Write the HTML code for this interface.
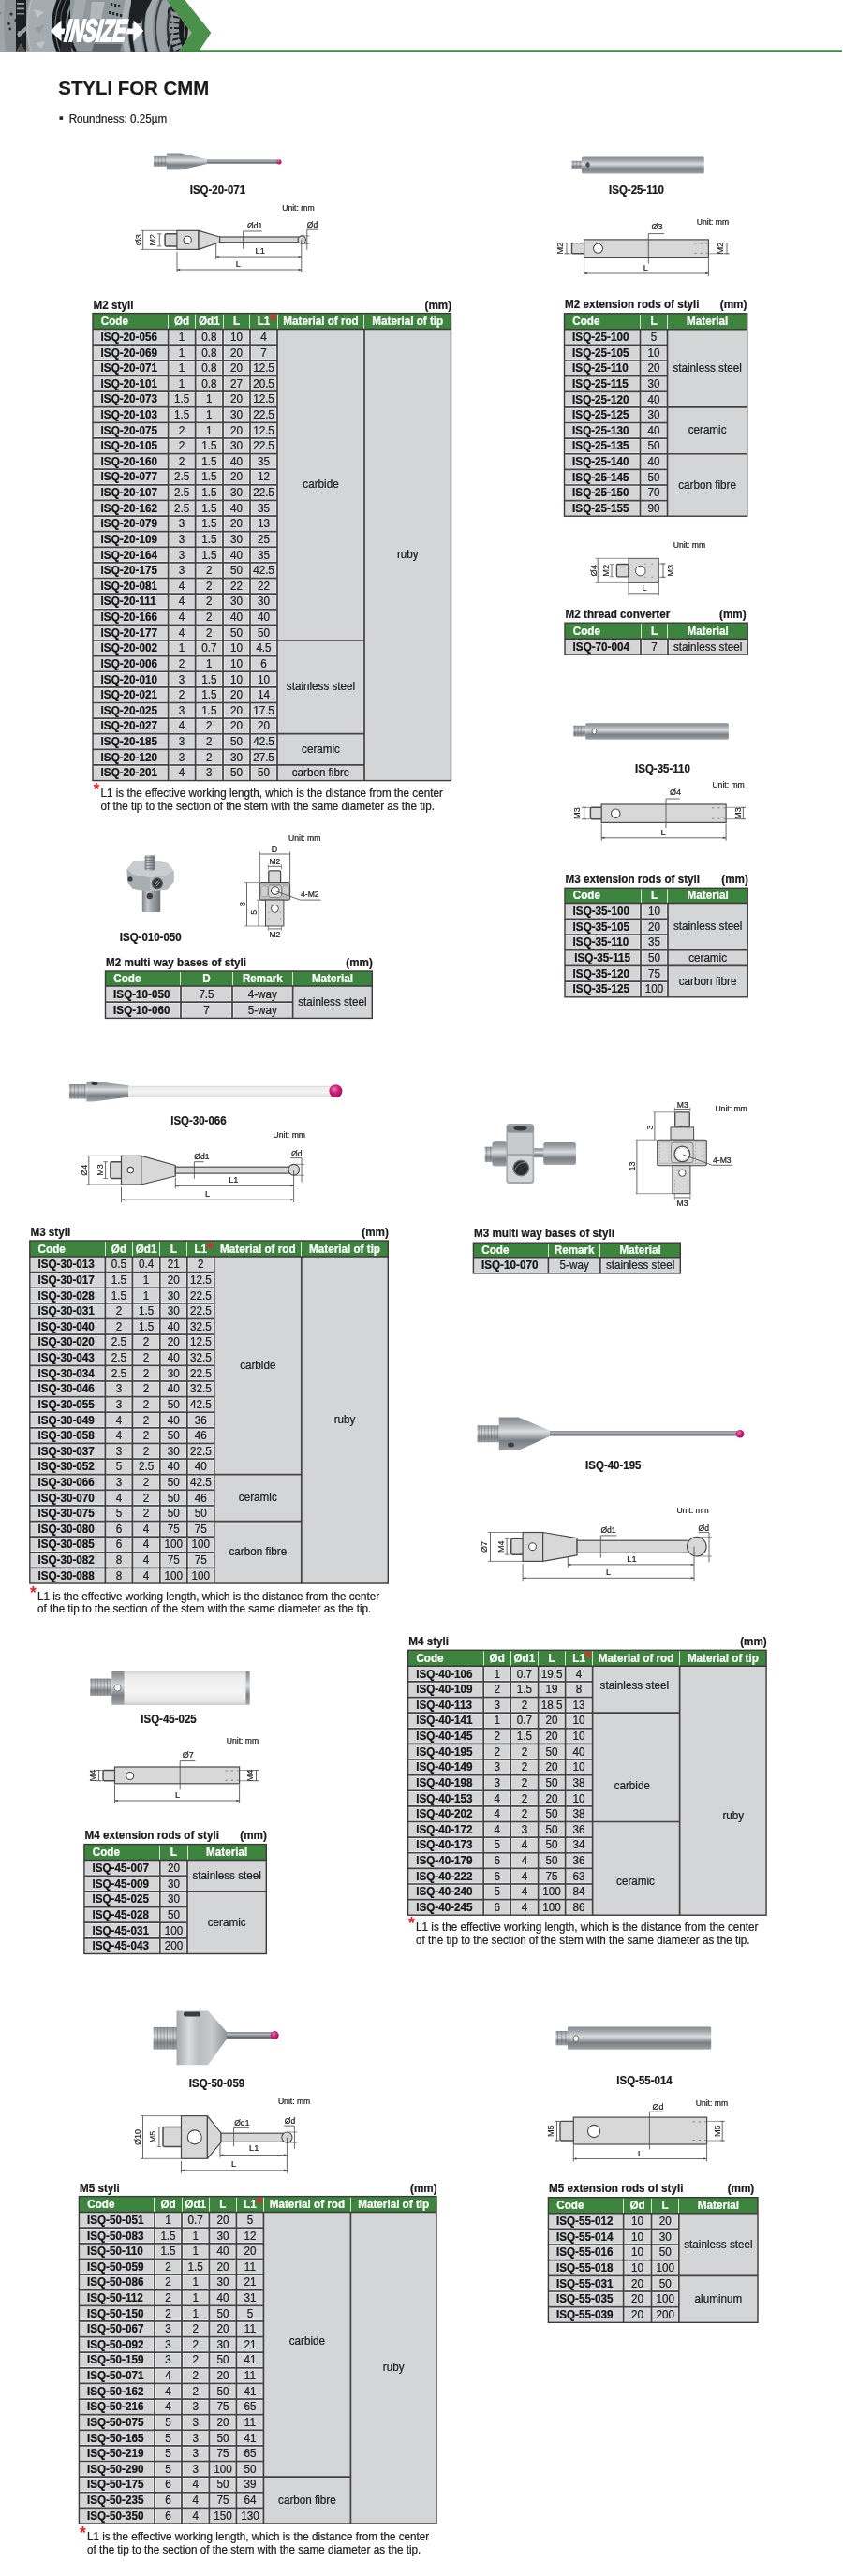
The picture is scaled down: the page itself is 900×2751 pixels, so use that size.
<!DOCTYPE html>
<html><head><meta charset="utf-8"><title>Styli for CMM</title>
<style>
html,body{margin:0;padding:0;background:#fff;}
body{width:900px;height:2751px;overflow:hidden;position:relative;font-family:"Liberation Sans", sans-serif;}
svg{position:absolute;left:0;top:0;display:block;will-change:transform;}
text{font-family:"Liberation Sans", sans-serif;}
</style></head><body>
<svg width="900" height="2751" viewBox="0 0 900 2751">
<text x="62.30" y="101.10" font-size="20.4" font-weight="bold" text-anchor="start" fill="#1a1a1a" stroke="#1a1a1a" stroke-width="0.22" >STYLI FOR CMM</text>
<rect x="63.50" y="124.30" width="3.60" height="3.60" fill="#222" stroke="none" stroke-width="1.0" />
<text x="0" y="0" transform="translate(73.70,131.30) scale(1,1.08)" font-size="11.65" text-anchor="start" fill="#222" stroke="#222" stroke-width="0.22" >Roundness: 0.25µm</text>
<rect x="99.00" y="334.60" width="382.50" height="17.00" fill="#3d853f" stroke="none" stroke-width="1.0" />
<rect x="99.00" y="351.60" width="382.50" height="481.98" fill="#d4d5d7" stroke="none" stroke-width="1.0" />
<line x1="179.50" y1="335.60" x2="179.50" y2="351.60" stroke="#e4efe4" stroke-width="0.9" />
<line x1="208.50" y1="335.60" x2="208.50" y2="351.60" stroke="#e4efe4" stroke-width="0.9" />
<line x1="238.50" y1="335.60" x2="238.50" y2="351.60" stroke="#e4efe4" stroke-width="0.9" />
<line x1="266.50" y1="335.60" x2="266.50" y2="351.60" stroke="#e4efe4" stroke-width="0.9" />
<line x1="296.50" y1="335.60" x2="296.50" y2="351.60" stroke="#e4efe4" stroke-width="0.9" />
<line x1="388.50" y1="335.60" x2="388.50" y2="351.60" stroke="#e4efe4" stroke-width="0.9" />
<line x1="178.30" y1="352.60" x2="178.30" y2="833.58" stroke="#eeeff0" stroke-width="0.8" />
<line x1="180.90" y1="352.60" x2="180.90" y2="833.58" stroke="#eeeff0" stroke-width="0.8" />
<line x1="207.30" y1="352.60" x2="207.30" y2="833.58" stroke="#eeeff0" stroke-width="0.8" />
<line x1="209.90" y1="352.60" x2="209.90" y2="833.58" stroke="#eeeff0" stroke-width="0.8" />
<line x1="236.70" y1="352.60" x2="236.70" y2="833.58" stroke="#eeeff0" stroke-width="0.8" />
<line x1="239.30" y1="352.60" x2="239.30" y2="833.58" stroke="#eeeff0" stroke-width="0.8" />
<line x1="265.70" y1="352.60" x2="265.70" y2="833.58" stroke="#eeeff0" stroke-width="0.8" />
<line x1="268.30" y1="352.60" x2="268.30" y2="833.58" stroke="#eeeff0" stroke-width="0.8" />
<line x1="294.70" y1="352.60" x2="294.70" y2="833.58" stroke="#eeeff0" stroke-width="0.8" />
<line x1="99.00" y1="366.97" x2="179.60" y2="366.97" stroke="#eeeff0" stroke-width="0.8" />
<line x1="99.00" y1="369.47" x2="179.60" y2="369.47" stroke="#eeeff0" stroke-width="0.8" />
<line x1="179.60" y1="366.97" x2="208.60" y2="366.97" stroke="#eeeff0" stroke-width="0.8" />
<line x1="179.60" y1="369.47" x2="208.60" y2="369.47" stroke="#eeeff0" stroke-width="0.8" />
<line x1="208.60" y1="366.97" x2="238.00" y2="366.97" stroke="#eeeff0" stroke-width="0.8" />
<line x1="208.60" y1="369.47" x2="238.00" y2="369.47" stroke="#eeeff0" stroke-width="0.8" />
<line x1="238.00" y1="366.97" x2="267.00" y2="366.97" stroke="#eeeff0" stroke-width="0.8" />
<line x1="238.00" y1="369.47" x2="267.00" y2="369.47" stroke="#eeeff0" stroke-width="0.8" />
<line x1="267.00" y1="366.97" x2="296.00" y2="366.97" stroke="#eeeff0" stroke-width="0.8" />
<line x1="267.00" y1="369.47" x2="296.00" y2="369.47" stroke="#eeeff0" stroke-width="0.8" />
<line x1="99.00" y1="383.59" x2="179.60" y2="383.59" stroke="#eeeff0" stroke-width="0.8" />
<line x1="99.00" y1="386.09" x2="179.60" y2="386.09" stroke="#eeeff0" stroke-width="0.8" />
<line x1="179.60" y1="383.59" x2="208.60" y2="383.59" stroke="#eeeff0" stroke-width="0.8" />
<line x1="179.60" y1="386.09" x2="208.60" y2="386.09" stroke="#eeeff0" stroke-width="0.8" />
<line x1="208.60" y1="383.59" x2="238.00" y2="383.59" stroke="#eeeff0" stroke-width="0.8" />
<line x1="208.60" y1="386.09" x2="238.00" y2="386.09" stroke="#eeeff0" stroke-width="0.8" />
<line x1="238.00" y1="383.59" x2="267.00" y2="383.59" stroke="#eeeff0" stroke-width="0.8" />
<line x1="238.00" y1="386.09" x2="267.00" y2="386.09" stroke="#eeeff0" stroke-width="0.8" />
<line x1="267.00" y1="383.59" x2="296.00" y2="383.59" stroke="#eeeff0" stroke-width="0.8" />
<line x1="267.00" y1="386.09" x2="296.00" y2="386.09" stroke="#eeeff0" stroke-width="0.8" />
<line x1="99.00" y1="400.21" x2="179.60" y2="400.21" stroke="#eeeff0" stroke-width="0.8" />
<line x1="99.00" y1="402.71" x2="179.60" y2="402.71" stroke="#eeeff0" stroke-width="0.8" />
<line x1="179.60" y1="400.21" x2="208.60" y2="400.21" stroke="#eeeff0" stroke-width="0.8" />
<line x1="179.60" y1="402.71" x2="208.60" y2="402.71" stroke="#eeeff0" stroke-width="0.8" />
<line x1="208.60" y1="400.21" x2="238.00" y2="400.21" stroke="#eeeff0" stroke-width="0.8" />
<line x1="208.60" y1="402.71" x2="238.00" y2="402.71" stroke="#eeeff0" stroke-width="0.8" />
<line x1="238.00" y1="400.21" x2="267.00" y2="400.21" stroke="#eeeff0" stroke-width="0.8" />
<line x1="238.00" y1="402.71" x2="267.00" y2="402.71" stroke="#eeeff0" stroke-width="0.8" />
<line x1="267.00" y1="400.21" x2="296.00" y2="400.21" stroke="#eeeff0" stroke-width="0.8" />
<line x1="267.00" y1="402.71" x2="296.00" y2="402.71" stroke="#eeeff0" stroke-width="0.8" />
<line x1="99.00" y1="416.83" x2="179.60" y2="416.83" stroke="#eeeff0" stroke-width="0.8" />
<line x1="99.00" y1="419.33" x2="179.60" y2="419.33" stroke="#eeeff0" stroke-width="0.8" />
<line x1="179.60" y1="416.83" x2="208.60" y2="416.83" stroke="#eeeff0" stroke-width="0.8" />
<line x1="179.60" y1="419.33" x2="208.60" y2="419.33" stroke="#eeeff0" stroke-width="0.8" />
<line x1="208.60" y1="416.83" x2="238.00" y2="416.83" stroke="#eeeff0" stroke-width="0.8" />
<line x1="208.60" y1="419.33" x2="238.00" y2="419.33" stroke="#eeeff0" stroke-width="0.8" />
<line x1="238.00" y1="416.83" x2="267.00" y2="416.83" stroke="#eeeff0" stroke-width="0.8" />
<line x1="238.00" y1="419.33" x2="267.00" y2="419.33" stroke="#eeeff0" stroke-width="0.8" />
<line x1="267.00" y1="416.83" x2="296.00" y2="416.83" stroke="#eeeff0" stroke-width="0.8" />
<line x1="267.00" y1="419.33" x2="296.00" y2="419.33" stroke="#eeeff0" stroke-width="0.8" />
<line x1="99.00" y1="433.45" x2="179.60" y2="433.45" stroke="#eeeff0" stroke-width="0.8" />
<line x1="99.00" y1="435.95" x2="179.60" y2="435.95" stroke="#eeeff0" stroke-width="0.8" />
<line x1="179.60" y1="433.45" x2="208.60" y2="433.45" stroke="#eeeff0" stroke-width="0.8" />
<line x1="179.60" y1="435.95" x2="208.60" y2="435.95" stroke="#eeeff0" stroke-width="0.8" />
<line x1="208.60" y1="433.45" x2="238.00" y2="433.45" stroke="#eeeff0" stroke-width="0.8" />
<line x1="208.60" y1="435.95" x2="238.00" y2="435.95" stroke="#eeeff0" stroke-width="0.8" />
<line x1="238.00" y1="433.45" x2="267.00" y2="433.45" stroke="#eeeff0" stroke-width="0.8" />
<line x1="238.00" y1="435.95" x2="267.00" y2="435.95" stroke="#eeeff0" stroke-width="0.8" />
<line x1="267.00" y1="433.45" x2="296.00" y2="433.45" stroke="#eeeff0" stroke-width="0.8" />
<line x1="267.00" y1="435.95" x2="296.00" y2="435.95" stroke="#eeeff0" stroke-width="0.8" />
<line x1="99.00" y1="450.07" x2="179.60" y2="450.07" stroke="#eeeff0" stroke-width="0.8" />
<line x1="99.00" y1="452.57" x2="179.60" y2="452.57" stroke="#eeeff0" stroke-width="0.8" />
<line x1="179.60" y1="450.07" x2="208.60" y2="450.07" stroke="#eeeff0" stroke-width="0.8" />
<line x1="179.60" y1="452.57" x2="208.60" y2="452.57" stroke="#eeeff0" stroke-width="0.8" />
<line x1="208.60" y1="450.07" x2="238.00" y2="450.07" stroke="#eeeff0" stroke-width="0.8" />
<line x1="208.60" y1="452.57" x2="238.00" y2="452.57" stroke="#eeeff0" stroke-width="0.8" />
<line x1="238.00" y1="450.07" x2="267.00" y2="450.07" stroke="#eeeff0" stroke-width="0.8" />
<line x1="238.00" y1="452.57" x2="267.00" y2="452.57" stroke="#eeeff0" stroke-width="0.8" />
<line x1="267.00" y1="450.07" x2="296.00" y2="450.07" stroke="#eeeff0" stroke-width="0.8" />
<line x1="267.00" y1="452.57" x2="296.00" y2="452.57" stroke="#eeeff0" stroke-width="0.8" />
<line x1="99.00" y1="466.69" x2="179.60" y2="466.69" stroke="#eeeff0" stroke-width="0.8" />
<line x1="99.00" y1="469.19" x2="179.60" y2="469.19" stroke="#eeeff0" stroke-width="0.8" />
<line x1="179.60" y1="466.69" x2="208.60" y2="466.69" stroke="#eeeff0" stroke-width="0.8" />
<line x1="179.60" y1="469.19" x2="208.60" y2="469.19" stroke="#eeeff0" stroke-width="0.8" />
<line x1="208.60" y1="466.69" x2="238.00" y2="466.69" stroke="#eeeff0" stroke-width="0.8" />
<line x1="208.60" y1="469.19" x2="238.00" y2="469.19" stroke="#eeeff0" stroke-width="0.8" />
<line x1="238.00" y1="466.69" x2="267.00" y2="466.69" stroke="#eeeff0" stroke-width="0.8" />
<line x1="238.00" y1="469.19" x2="267.00" y2="469.19" stroke="#eeeff0" stroke-width="0.8" />
<line x1="267.00" y1="466.69" x2="296.00" y2="466.69" stroke="#eeeff0" stroke-width="0.8" />
<line x1="267.00" y1="469.19" x2="296.00" y2="469.19" stroke="#eeeff0" stroke-width="0.8" />
<line x1="99.00" y1="483.31" x2="179.60" y2="483.31" stroke="#eeeff0" stroke-width="0.8" />
<line x1="99.00" y1="485.81" x2="179.60" y2="485.81" stroke="#eeeff0" stroke-width="0.8" />
<line x1="179.60" y1="483.31" x2="208.60" y2="483.31" stroke="#eeeff0" stroke-width="0.8" />
<line x1="179.60" y1="485.81" x2="208.60" y2="485.81" stroke="#eeeff0" stroke-width="0.8" />
<line x1="208.60" y1="483.31" x2="238.00" y2="483.31" stroke="#eeeff0" stroke-width="0.8" />
<line x1="208.60" y1="485.81" x2="238.00" y2="485.81" stroke="#eeeff0" stroke-width="0.8" />
<line x1="238.00" y1="483.31" x2="267.00" y2="483.31" stroke="#eeeff0" stroke-width="0.8" />
<line x1="238.00" y1="485.81" x2="267.00" y2="485.81" stroke="#eeeff0" stroke-width="0.8" />
<line x1="267.00" y1="483.31" x2="296.00" y2="483.31" stroke="#eeeff0" stroke-width="0.8" />
<line x1="267.00" y1="485.81" x2="296.00" y2="485.81" stroke="#eeeff0" stroke-width="0.8" />
<line x1="99.00" y1="499.93" x2="179.60" y2="499.93" stroke="#eeeff0" stroke-width="0.8" />
<line x1="99.00" y1="502.43" x2="179.60" y2="502.43" stroke="#eeeff0" stroke-width="0.8" />
<line x1="179.60" y1="499.93" x2="208.60" y2="499.93" stroke="#eeeff0" stroke-width="0.8" />
<line x1="179.60" y1="502.43" x2="208.60" y2="502.43" stroke="#eeeff0" stroke-width="0.8" />
<line x1="208.60" y1="499.93" x2="238.00" y2="499.93" stroke="#eeeff0" stroke-width="0.8" />
<line x1="208.60" y1="502.43" x2="238.00" y2="502.43" stroke="#eeeff0" stroke-width="0.8" />
<line x1="238.00" y1="499.93" x2="267.00" y2="499.93" stroke="#eeeff0" stroke-width="0.8" />
<line x1="238.00" y1="502.43" x2="267.00" y2="502.43" stroke="#eeeff0" stroke-width="0.8" />
<line x1="267.00" y1="499.93" x2="296.00" y2="499.93" stroke="#eeeff0" stroke-width="0.8" />
<line x1="267.00" y1="502.43" x2="296.00" y2="502.43" stroke="#eeeff0" stroke-width="0.8" />
<line x1="99.00" y1="516.55" x2="179.60" y2="516.55" stroke="#eeeff0" stroke-width="0.8" />
<line x1="99.00" y1="519.05" x2="179.60" y2="519.05" stroke="#eeeff0" stroke-width="0.8" />
<line x1="179.60" y1="516.55" x2="208.60" y2="516.55" stroke="#eeeff0" stroke-width="0.8" />
<line x1="179.60" y1="519.05" x2="208.60" y2="519.05" stroke="#eeeff0" stroke-width="0.8" />
<line x1="208.60" y1="516.55" x2="238.00" y2="516.55" stroke="#eeeff0" stroke-width="0.8" />
<line x1="208.60" y1="519.05" x2="238.00" y2="519.05" stroke="#eeeff0" stroke-width="0.8" />
<line x1="238.00" y1="516.55" x2="267.00" y2="516.55" stroke="#eeeff0" stroke-width="0.8" />
<line x1="238.00" y1="519.05" x2="267.00" y2="519.05" stroke="#eeeff0" stroke-width="0.8" />
<line x1="267.00" y1="516.55" x2="296.00" y2="516.55" stroke="#eeeff0" stroke-width="0.8" />
<line x1="267.00" y1="519.05" x2="296.00" y2="519.05" stroke="#eeeff0" stroke-width="0.8" />
<line x1="99.00" y1="533.17" x2="179.60" y2="533.17" stroke="#eeeff0" stroke-width="0.8" />
<line x1="99.00" y1="535.67" x2="179.60" y2="535.67" stroke="#eeeff0" stroke-width="0.8" />
<line x1="179.60" y1="533.17" x2="208.60" y2="533.17" stroke="#eeeff0" stroke-width="0.8" />
<line x1="179.60" y1="535.67" x2="208.60" y2="535.67" stroke="#eeeff0" stroke-width="0.8" />
<line x1="208.60" y1="533.17" x2="238.00" y2="533.17" stroke="#eeeff0" stroke-width="0.8" />
<line x1="208.60" y1="535.67" x2="238.00" y2="535.67" stroke="#eeeff0" stroke-width="0.8" />
<line x1="238.00" y1="533.17" x2="267.00" y2="533.17" stroke="#eeeff0" stroke-width="0.8" />
<line x1="238.00" y1="535.67" x2="267.00" y2="535.67" stroke="#eeeff0" stroke-width="0.8" />
<line x1="267.00" y1="533.17" x2="296.00" y2="533.17" stroke="#eeeff0" stroke-width="0.8" />
<line x1="267.00" y1="535.67" x2="296.00" y2="535.67" stroke="#eeeff0" stroke-width="0.8" />
<line x1="99.00" y1="549.79" x2="179.60" y2="549.79" stroke="#eeeff0" stroke-width="0.8" />
<line x1="99.00" y1="552.29" x2="179.60" y2="552.29" stroke="#eeeff0" stroke-width="0.8" />
<line x1="179.60" y1="549.79" x2="208.60" y2="549.79" stroke="#eeeff0" stroke-width="0.8" />
<line x1="179.60" y1="552.29" x2="208.60" y2="552.29" stroke="#eeeff0" stroke-width="0.8" />
<line x1="208.60" y1="549.79" x2="238.00" y2="549.79" stroke="#eeeff0" stroke-width="0.8" />
<line x1="208.60" y1="552.29" x2="238.00" y2="552.29" stroke="#eeeff0" stroke-width="0.8" />
<line x1="238.00" y1="549.79" x2="267.00" y2="549.79" stroke="#eeeff0" stroke-width="0.8" />
<line x1="238.00" y1="552.29" x2="267.00" y2="552.29" stroke="#eeeff0" stroke-width="0.8" />
<line x1="267.00" y1="549.79" x2="296.00" y2="549.79" stroke="#eeeff0" stroke-width="0.8" />
<line x1="267.00" y1="552.29" x2="296.00" y2="552.29" stroke="#eeeff0" stroke-width="0.8" />
<line x1="99.00" y1="566.41" x2="179.60" y2="566.41" stroke="#eeeff0" stroke-width="0.8" />
<line x1="99.00" y1="568.91" x2="179.60" y2="568.91" stroke="#eeeff0" stroke-width="0.8" />
<line x1="179.60" y1="566.41" x2="208.60" y2="566.41" stroke="#eeeff0" stroke-width="0.8" />
<line x1="179.60" y1="568.91" x2="208.60" y2="568.91" stroke="#eeeff0" stroke-width="0.8" />
<line x1="208.60" y1="566.41" x2="238.00" y2="566.41" stroke="#eeeff0" stroke-width="0.8" />
<line x1="208.60" y1="568.91" x2="238.00" y2="568.91" stroke="#eeeff0" stroke-width="0.8" />
<line x1="238.00" y1="566.41" x2="267.00" y2="566.41" stroke="#eeeff0" stroke-width="0.8" />
<line x1="238.00" y1="568.91" x2="267.00" y2="568.91" stroke="#eeeff0" stroke-width="0.8" />
<line x1="267.00" y1="566.41" x2="296.00" y2="566.41" stroke="#eeeff0" stroke-width="0.8" />
<line x1="267.00" y1="568.91" x2="296.00" y2="568.91" stroke="#eeeff0" stroke-width="0.8" />
<line x1="99.00" y1="583.03" x2="179.60" y2="583.03" stroke="#eeeff0" stroke-width="0.8" />
<line x1="99.00" y1="585.53" x2="179.60" y2="585.53" stroke="#eeeff0" stroke-width="0.8" />
<line x1="179.60" y1="583.03" x2="208.60" y2="583.03" stroke="#eeeff0" stroke-width="0.8" />
<line x1="179.60" y1="585.53" x2="208.60" y2="585.53" stroke="#eeeff0" stroke-width="0.8" />
<line x1="208.60" y1="583.03" x2="238.00" y2="583.03" stroke="#eeeff0" stroke-width="0.8" />
<line x1="208.60" y1="585.53" x2="238.00" y2="585.53" stroke="#eeeff0" stroke-width="0.8" />
<line x1="238.00" y1="583.03" x2="267.00" y2="583.03" stroke="#eeeff0" stroke-width="0.8" />
<line x1="238.00" y1="585.53" x2="267.00" y2="585.53" stroke="#eeeff0" stroke-width="0.8" />
<line x1="267.00" y1="583.03" x2="296.00" y2="583.03" stroke="#eeeff0" stroke-width="0.8" />
<line x1="267.00" y1="585.53" x2="296.00" y2="585.53" stroke="#eeeff0" stroke-width="0.8" />
<line x1="99.00" y1="599.65" x2="179.60" y2="599.65" stroke="#eeeff0" stroke-width="0.8" />
<line x1="99.00" y1="602.15" x2="179.60" y2="602.15" stroke="#eeeff0" stroke-width="0.8" />
<line x1="179.60" y1="599.65" x2="208.60" y2="599.65" stroke="#eeeff0" stroke-width="0.8" />
<line x1="179.60" y1="602.15" x2="208.60" y2="602.15" stroke="#eeeff0" stroke-width="0.8" />
<line x1="208.60" y1="599.65" x2="238.00" y2="599.65" stroke="#eeeff0" stroke-width="0.8" />
<line x1="208.60" y1="602.15" x2="238.00" y2="602.15" stroke="#eeeff0" stroke-width="0.8" />
<line x1="238.00" y1="599.65" x2="267.00" y2="599.65" stroke="#eeeff0" stroke-width="0.8" />
<line x1="238.00" y1="602.15" x2="267.00" y2="602.15" stroke="#eeeff0" stroke-width="0.8" />
<line x1="267.00" y1="599.65" x2="296.00" y2="599.65" stroke="#eeeff0" stroke-width="0.8" />
<line x1="267.00" y1="602.15" x2="296.00" y2="602.15" stroke="#eeeff0" stroke-width="0.8" />
<line x1="99.00" y1="616.27" x2="179.60" y2="616.27" stroke="#eeeff0" stroke-width="0.8" />
<line x1="99.00" y1="618.77" x2="179.60" y2="618.77" stroke="#eeeff0" stroke-width="0.8" />
<line x1="179.60" y1="616.27" x2="208.60" y2="616.27" stroke="#eeeff0" stroke-width="0.8" />
<line x1="179.60" y1="618.77" x2="208.60" y2="618.77" stroke="#eeeff0" stroke-width="0.8" />
<line x1="208.60" y1="616.27" x2="238.00" y2="616.27" stroke="#eeeff0" stroke-width="0.8" />
<line x1="208.60" y1="618.77" x2="238.00" y2="618.77" stroke="#eeeff0" stroke-width="0.8" />
<line x1="238.00" y1="616.27" x2="267.00" y2="616.27" stroke="#eeeff0" stroke-width="0.8" />
<line x1="238.00" y1="618.77" x2="267.00" y2="618.77" stroke="#eeeff0" stroke-width="0.8" />
<line x1="267.00" y1="616.27" x2="296.00" y2="616.27" stroke="#eeeff0" stroke-width="0.8" />
<line x1="267.00" y1="618.77" x2="296.00" y2="618.77" stroke="#eeeff0" stroke-width="0.8" />
<line x1="99.00" y1="632.89" x2="179.60" y2="632.89" stroke="#eeeff0" stroke-width="0.8" />
<line x1="99.00" y1="635.39" x2="179.60" y2="635.39" stroke="#eeeff0" stroke-width="0.8" />
<line x1="179.60" y1="632.89" x2="208.60" y2="632.89" stroke="#eeeff0" stroke-width="0.8" />
<line x1="179.60" y1="635.39" x2="208.60" y2="635.39" stroke="#eeeff0" stroke-width="0.8" />
<line x1="208.60" y1="632.89" x2="238.00" y2="632.89" stroke="#eeeff0" stroke-width="0.8" />
<line x1="208.60" y1="635.39" x2="238.00" y2="635.39" stroke="#eeeff0" stroke-width="0.8" />
<line x1="238.00" y1="632.89" x2="267.00" y2="632.89" stroke="#eeeff0" stroke-width="0.8" />
<line x1="238.00" y1="635.39" x2="267.00" y2="635.39" stroke="#eeeff0" stroke-width="0.8" />
<line x1="267.00" y1="632.89" x2="296.00" y2="632.89" stroke="#eeeff0" stroke-width="0.8" />
<line x1="267.00" y1="635.39" x2="296.00" y2="635.39" stroke="#eeeff0" stroke-width="0.8" />
<line x1="99.00" y1="649.51" x2="179.60" y2="649.51" stroke="#eeeff0" stroke-width="0.8" />
<line x1="99.00" y1="652.01" x2="179.60" y2="652.01" stroke="#eeeff0" stroke-width="0.8" />
<line x1="179.60" y1="649.51" x2="208.60" y2="649.51" stroke="#eeeff0" stroke-width="0.8" />
<line x1="179.60" y1="652.01" x2="208.60" y2="652.01" stroke="#eeeff0" stroke-width="0.8" />
<line x1="208.60" y1="649.51" x2="238.00" y2="649.51" stroke="#eeeff0" stroke-width="0.8" />
<line x1="208.60" y1="652.01" x2="238.00" y2="652.01" stroke="#eeeff0" stroke-width="0.8" />
<line x1="238.00" y1="649.51" x2="267.00" y2="649.51" stroke="#eeeff0" stroke-width="0.8" />
<line x1="238.00" y1="652.01" x2="267.00" y2="652.01" stroke="#eeeff0" stroke-width="0.8" />
<line x1="267.00" y1="649.51" x2="296.00" y2="649.51" stroke="#eeeff0" stroke-width="0.8" />
<line x1="267.00" y1="652.01" x2="296.00" y2="652.01" stroke="#eeeff0" stroke-width="0.8" />
<line x1="99.00" y1="666.13" x2="179.60" y2="666.13" stroke="#eeeff0" stroke-width="0.8" />
<line x1="99.00" y1="668.63" x2="179.60" y2="668.63" stroke="#eeeff0" stroke-width="0.8" />
<line x1="179.60" y1="666.13" x2="208.60" y2="666.13" stroke="#eeeff0" stroke-width="0.8" />
<line x1="179.60" y1="668.63" x2="208.60" y2="668.63" stroke="#eeeff0" stroke-width="0.8" />
<line x1="208.60" y1="666.13" x2="238.00" y2="666.13" stroke="#eeeff0" stroke-width="0.8" />
<line x1="208.60" y1="668.63" x2="238.00" y2="668.63" stroke="#eeeff0" stroke-width="0.8" />
<line x1="238.00" y1="666.13" x2="267.00" y2="666.13" stroke="#eeeff0" stroke-width="0.8" />
<line x1="238.00" y1="668.63" x2="267.00" y2="668.63" stroke="#eeeff0" stroke-width="0.8" />
<line x1="267.00" y1="666.13" x2="296.00" y2="666.13" stroke="#eeeff0" stroke-width="0.8" />
<line x1="267.00" y1="668.63" x2="296.00" y2="668.63" stroke="#eeeff0" stroke-width="0.8" />
<line x1="99.00" y1="682.75" x2="179.60" y2="682.75" stroke="#eeeff0" stroke-width="0.8" />
<line x1="99.00" y1="685.25" x2="179.60" y2="685.25" stroke="#eeeff0" stroke-width="0.8" />
<line x1="179.60" y1="682.75" x2="208.60" y2="682.75" stroke="#eeeff0" stroke-width="0.8" />
<line x1="179.60" y1="685.25" x2="208.60" y2="685.25" stroke="#eeeff0" stroke-width="0.8" />
<line x1="208.60" y1="682.75" x2="238.00" y2="682.75" stroke="#eeeff0" stroke-width="0.8" />
<line x1="208.60" y1="685.25" x2="238.00" y2="685.25" stroke="#eeeff0" stroke-width="0.8" />
<line x1="238.00" y1="682.75" x2="267.00" y2="682.75" stroke="#eeeff0" stroke-width="0.8" />
<line x1="238.00" y1="685.25" x2="267.00" y2="685.25" stroke="#eeeff0" stroke-width="0.8" />
<line x1="267.00" y1="682.75" x2="296.00" y2="682.75" stroke="#eeeff0" stroke-width="0.8" />
<line x1="267.00" y1="685.25" x2="296.00" y2="685.25" stroke="#eeeff0" stroke-width="0.8" />
<line x1="99.00" y1="699.37" x2="179.60" y2="699.37" stroke="#eeeff0" stroke-width="0.8" />
<line x1="99.00" y1="701.87" x2="179.60" y2="701.87" stroke="#eeeff0" stroke-width="0.8" />
<line x1="179.60" y1="699.37" x2="208.60" y2="699.37" stroke="#eeeff0" stroke-width="0.8" />
<line x1="179.60" y1="701.87" x2="208.60" y2="701.87" stroke="#eeeff0" stroke-width="0.8" />
<line x1="208.60" y1="699.37" x2="238.00" y2="699.37" stroke="#eeeff0" stroke-width="0.8" />
<line x1="208.60" y1="701.87" x2="238.00" y2="701.87" stroke="#eeeff0" stroke-width="0.8" />
<line x1="238.00" y1="699.37" x2="267.00" y2="699.37" stroke="#eeeff0" stroke-width="0.8" />
<line x1="238.00" y1="701.87" x2="267.00" y2="701.87" stroke="#eeeff0" stroke-width="0.8" />
<line x1="267.00" y1="699.37" x2="296.00" y2="699.37" stroke="#eeeff0" stroke-width="0.8" />
<line x1="267.00" y1="701.87" x2="296.00" y2="701.87" stroke="#eeeff0" stroke-width="0.8" />
<line x1="99.00" y1="715.99" x2="179.60" y2="715.99" stroke="#eeeff0" stroke-width="0.8" />
<line x1="99.00" y1="718.49" x2="179.60" y2="718.49" stroke="#eeeff0" stroke-width="0.8" />
<line x1="179.60" y1="715.99" x2="208.60" y2="715.99" stroke="#eeeff0" stroke-width="0.8" />
<line x1="179.60" y1="718.49" x2="208.60" y2="718.49" stroke="#eeeff0" stroke-width="0.8" />
<line x1="208.60" y1="715.99" x2="238.00" y2="715.99" stroke="#eeeff0" stroke-width="0.8" />
<line x1="208.60" y1="718.49" x2="238.00" y2="718.49" stroke="#eeeff0" stroke-width="0.8" />
<line x1="238.00" y1="715.99" x2="267.00" y2="715.99" stroke="#eeeff0" stroke-width="0.8" />
<line x1="238.00" y1="718.49" x2="267.00" y2="718.49" stroke="#eeeff0" stroke-width="0.8" />
<line x1="267.00" y1="715.99" x2="296.00" y2="715.99" stroke="#eeeff0" stroke-width="0.8" />
<line x1="267.00" y1="718.49" x2="296.00" y2="718.49" stroke="#eeeff0" stroke-width="0.8" />
<line x1="99.00" y1="732.61" x2="179.60" y2="732.61" stroke="#eeeff0" stroke-width="0.8" />
<line x1="99.00" y1="735.11" x2="179.60" y2="735.11" stroke="#eeeff0" stroke-width="0.8" />
<line x1="179.60" y1="732.61" x2="208.60" y2="732.61" stroke="#eeeff0" stroke-width="0.8" />
<line x1="179.60" y1="735.11" x2="208.60" y2="735.11" stroke="#eeeff0" stroke-width="0.8" />
<line x1="208.60" y1="732.61" x2="238.00" y2="732.61" stroke="#eeeff0" stroke-width="0.8" />
<line x1="208.60" y1="735.11" x2="238.00" y2="735.11" stroke="#eeeff0" stroke-width="0.8" />
<line x1="238.00" y1="732.61" x2="267.00" y2="732.61" stroke="#eeeff0" stroke-width="0.8" />
<line x1="238.00" y1="735.11" x2="267.00" y2="735.11" stroke="#eeeff0" stroke-width="0.8" />
<line x1="267.00" y1="732.61" x2="296.00" y2="732.61" stroke="#eeeff0" stroke-width="0.8" />
<line x1="267.00" y1="735.11" x2="296.00" y2="735.11" stroke="#eeeff0" stroke-width="0.8" />
<line x1="99.00" y1="749.23" x2="179.60" y2="749.23" stroke="#eeeff0" stroke-width="0.8" />
<line x1="99.00" y1="751.73" x2="179.60" y2="751.73" stroke="#eeeff0" stroke-width="0.8" />
<line x1="179.60" y1="749.23" x2="208.60" y2="749.23" stroke="#eeeff0" stroke-width="0.8" />
<line x1="179.60" y1="751.73" x2="208.60" y2="751.73" stroke="#eeeff0" stroke-width="0.8" />
<line x1="208.60" y1="749.23" x2="238.00" y2="749.23" stroke="#eeeff0" stroke-width="0.8" />
<line x1="208.60" y1="751.73" x2="238.00" y2="751.73" stroke="#eeeff0" stroke-width="0.8" />
<line x1="238.00" y1="749.23" x2="267.00" y2="749.23" stroke="#eeeff0" stroke-width="0.8" />
<line x1="238.00" y1="751.73" x2="267.00" y2="751.73" stroke="#eeeff0" stroke-width="0.8" />
<line x1="267.00" y1="749.23" x2="296.00" y2="749.23" stroke="#eeeff0" stroke-width="0.8" />
<line x1="267.00" y1="751.73" x2="296.00" y2="751.73" stroke="#eeeff0" stroke-width="0.8" />
<line x1="99.00" y1="765.85" x2="179.60" y2="765.85" stroke="#eeeff0" stroke-width="0.8" />
<line x1="99.00" y1="768.35" x2="179.60" y2="768.35" stroke="#eeeff0" stroke-width="0.8" />
<line x1="179.60" y1="765.85" x2="208.60" y2="765.85" stroke="#eeeff0" stroke-width="0.8" />
<line x1="179.60" y1="768.35" x2="208.60" y2="768.35" stroke="#eeeff0" stroke-width="0.8" />
<line x1="208.60" y1="765.85" x2="238.00" y2="765.85" stroke="#eeeff0" stroke-width="0.8" />
<line x1="208.60" y1="768.35" x2="238.00" y2="768.35" stroke="#eeeff0" stroke-width="0.8" />
<line x1="238.00" y1="765.85" x2="267.00" y2="765.85" stroke="#eeeff0" stroke-width="0.8" />
<line x1="238.00" y1="768.35" x2="267.00" y2="768.35" stroke="#eeeff0" stroke-width="0.8" />
<line x1="267.00" y1="765.85" x2="296.00" y2="765.85" stroke="#eeeff0" stroke-width="0.8" />
<line x1="267.00" y1="768.35" x2="296.00" y2="768.35" stroke="#eeeff0" stroke-width="0.8" />
<line x1="99.00" y1="782.47" x2="179.60" y2="782.47" stroke="#eeeff0" stroke-width="0.8" />
<line x1="99.00" y1="784.97" x2="179.60" y2="784.97" stroke="#eeeff0" stroke-width="0.8" />
<line x1="179.60" y1="782.47" x2="208.60" y2="782.47" stroke="#eeeff0" stroke-width="0.8" />
<line x1="179.60" y1="784.97" x2="208.60" y2="784.97" stroke="#eeeff0" stroke-width="0.8" />
<line x1="208.60" y1="782.47" x2="238.00" y2="782.47" stroke="#eeeff0" stroke-width="0.8" />
<line x1="208.60" y1="784.97" x2="238.00" y2="784.97" stroke="#eeeff0" stroke-width="0.8" />
<line x1="238.00" y1="782.47" x2="267.00" y2="782.47" stroke="#eeeff0" stroke-width="0.8" />
<line x1="238.00" y1="784.97" x2="267.00" y2="784.97" stroke="#eeeff0" stroke-width="0.8" />
<line x1="267.00" y1="782.47" x2="296.00" y2="782.47" stroke="#eeeff0" stroke-width="0.8" />
<line x1="267.00" y1="784.97" x2="296.00" y2="784.97" stroke="#eeeff0" stroke-width="0.8" />
<line x1="99.00" y1="799.09" x2="179.60" y2="799.09" stroke="#eeeff0" stroke-width="0.8" />
<line x1="99.00" y1="801.59" x2="179.60" y2="801.59" stroke="#eeeff0" stroke-width="0.8" />
<line x1="179.60" y1="799.09" x2="208.60" y2="799.09" stroke="#eeeff0" stroke-width="0.8" />
<line x1="179.60" y1="801.59" x2="208.60" y2="801.59" stroke="#eeeff0" stroke-width="0.8" />
<line x1="208.60" y1="799.09" x2="238.00" y2="799.09" stroke="#eeeff0" stroke-width="0.8" />
<line x1="208.60" y1="801.59" x2="238.00" y2="801.59" stroke="#eeeff0" stroke-width="0.8" />
<line x1="238.00" y1="799.09" x2="267.00" y2="799.09" stroke="#eeeff0" stroke-width="0.8" />
<line x1="238.00" y1="801.59" x2="267.00" y2="801.59" stroke="#eeeff0" stroke-width="0.8" />
<line x1="267.00" y1="799.09" x2="296.00" y2="799.09" stroke="#eeeff0" stroke-width="0.8" />
<line x1="267.00" y1="801.59" x2="296.00" y2="801.59" stroke="#eeeff0" stroke-width="0.8" />
<line x1="99.00" y1="815.71" x2="179.60" y2="815.71" stroke="#eeeff0" stroke-width="0.8" />
<line x1="99.00" y1="818.21" x2="179.60" y2="818.21" stroke="#eeeff0" stroke-width="0.8" />
<line x1="179.60" y1="815.71" x2="208.60" y2="815.71" stroke="#eeeff0" stroke-width="0.8" />
<line x1="179.60" y1="818.21" x2="208.60" y2="818.21" stroke="#eeeff0" stroke-width="0.8" />
<line x1="208.60" y1="815.71" x2="238.00" y2="815.71" stroke="#eeeff0" stroke-width="0.8" />
<line x1="208.60" y1="818.21" x2="238.00" y2="818.21" stroke="#eeeff0" stroke-width="0.8" />
<line x1="238.00" y1="815.71" x2="267.00" y2="815.71" stroke="#eeeff0" stroke-width="0.8" />
<line x1="238.00" y1="818.21" x2="267.00" y2="818.21" stroke="#eeeff0" stroke-width="0.8" />
<line x1="267.00" y1="815.71" x2="296.00" y2="815.71" stroke="#eeeff0" stroke-width="0.8" />
<line x1="267.00" y1="818.21" x2="296.00" y2="818.21" stroke="#eeeff0" stroke-width="0.8" />
<line x1="99.00" y1="368.22" x2="179.60" y2="368.22" stroke="#464242" stroke-width="1.7" />
<line x1="179.60" y1="368.22" x2="208.60" y2="368.22" stroke="#464242" stroke-width="1.7" />
<line x1="208.60" y1="368.22" x2="238.00" y2="368.22" stroke="#464242" stroke-width="1.7" />
<line x1="238.00" y1="368.22" x2="267.00" y2="368.22" stroke="#464242" stroke-width="1.7" />
<line x1="267.00" y1="368.22" x2="296.00" y2="368.22" stroke="#464242" stroke-width="1.7" />
<line x1="99.00" y1="384.84" x2="179.60" y2="384.84" stroke="#464242" stroke-width="1.7" />
<line x1="179.60" y1="384.84" x2="208.60" y2="384.84" stroke="#464242" stroke-width="1.7" />
<line x1="208.60" y1="384.84" x2="238.00" y2="384.84" stroke="#464242" stroke-width="1.7" />
<line x1="238.00" y1="384.84" x2="267.00" y2="384.84" stroke="#464242" stroke-width="1.7" />
<line x1="267.00" y1="384.84" x2="296.00" y2="384.84" stroke="#464242" stroke-width="1.7" />
<line x1="99.00" y1="401.46" x2="179.60" y2="401.46" stroke="#464242" stroke-width="1.7" />
<line x1="179.60" y1="401.46" x2="208.60" y2="401.46" stroke="#464242" stroke-width="1.7" />
<line x1="208.60" y1="401.46" x2="238.00" y2="401.46" stroke="#464242" stroke-width="1.7" />
<line x1="238.00" y1="401.46" x2="267.00" y2="401.46" stroke="#464242" stroke-width="1.7" />
<line x1="267.00" y1="401.46" x2="296.00" y2="401.46" stroke="#464242" stroke-width="1.7" />
<line x1="99.00" y1="418.08" x2="179.60" y2="418.08" stroke="#464242" stroke-width="1.7" />
<line x1="179.60" y1="418.08" x2="208.60" y2="418.08" stroke="#464242" stroke-width="1.7" />
<line x1="208.60" y1="418.08" x2="238.00" y2="418.08" stroke="#464242" stroke-width="1.7" />
<line x1="238.00" y1="418.08" x2="267.00" y2="418.08" stroke="#464242" stroke-width="1.7" />
<line x1="267.00" y1="418.08" x2="296.00" y2="418.08" stroke="#464242" stroke-width="1.7" />
<line x1="99.00" y1="434.70" x2="179.60" y2="434.70" stroke="#464242" stroke-width="1.7" />
<line x1="179.60" y1="434.70" x2="208.60" y2="434.70" stroke="#464242" stroke-width="1.7" />
<line x1="208.60" y1="434.70" x2="238.00" y2="434.70" stroke="#464242" stroke-width="1.7" />
<line x1="238.00" y1="434.70" x2="267.00" y2="434.70" stroke="#464242" stroke-width="1.7" />
<line x1="267.00" y1="434.70" x2="296.00" y2="434.70" stroke="#464242" stroke-width="1.7" />
<line x1="99.00" y1="451.32" x2="179.60" y2="451.32" stroke="#464242" stroke-width="1.7" />
<line x1="179.60" y1="451.32" x2="208.60" y2="451.32" stroke="#464242" stroke-width="1.7" />
<line x1="208.60" y1="451.32" x2="238.00" y2="451.32" stroke="#464242" stroke-width="1.7" />
<line x1="238.00" y1="451.32" x2="267.00" y2="451.32" stroke="#464242" stroke-width="1.7" />
<line x1="267.00" y1="451.32" x2="296.00" y2="451.32" stroke="#464242" stroke-width="1.7" />
<line x1="99.00" y1="467.94" x2="179.60" y2="467.94" stroke="#464242" stroke-width="1.7" />
<line x1="179.60" y1="467.94" x2="208.60" y2="467.94" stroke="#464242" stroke-width="1.7" />
<line x1="208.60" y1="467.94" x2="238.00" y2="467.94" stroke="#464242" stroke-width="1.7" />
<line x1="238.00" y1="467.94" x2="267.00" y2="467.94" stroke="#464242" stroke-width="1.7" />
<line x1="267.00" y1="467.94" x2="296.00" y2="467.94" stroke="#464242" stroke-width="1.7" />
<line x1="99.00" y1="484.56" x2="179.60" y2="484.56" stroke="#464242" stroke-width="1.7" />
<line x1="179.60" y1="484.56" x2="208.60" y2="484.56" stroke="#464242" stroke-width="1.7" />
<line x1="208.60" y1="484.56" x2="238.00" y2="484.56" stroke="#464242" stroke-width="1.7" />
<line x1="238.00" y1="484.56" x2="267.00" y2="484.56" stroke="#464242" stroke-width="1.7" />
<line x1="267.00" y1="484.56" x2="296.00" y2="484.56" stroke="#464242" stroke-width="1.7" />
<line x1="99.00" y1="501.18" x2="179.60" y2="501.18" stroke="#464242" stroke-width="1.7" />
<line x1="179.60" y1="501.18" x2="208.60" y2="501.18" stroke="#464242" stroke-width="1.7" />
<line x1="208.60" y1="501.18" x2="238.00" y2="501.18" stroke="#464242" stroke-width="1.7" />
<line x1="238.00" y1="501.18" x2="267.00" y2="501.18" stroke="#464242" stroke-width="1.7" />
<line x1="267.00" y1="501.18" x2="296.00" y2="501.18" stroke="#464242" stroke-width="1.7" />
<line x1="99.00" y1="517.80" x2="179.60" y2="517.80" stroke="#464242" stroke-width="1.7" />
<line x1="179.60" y1="517.80" x2="208.60" y2="517.80" stroke="#464242" stroke-width="1.7" />
<line x1="208.60" y1="517.80" x2="238.00" y2="517.80" stroke="#464242" stroke-width="1.7" />
<line x1="238.00" y1="517.80" x2="267.00" y2="517.80" stroke="#464242" stroke-width="1.7" />
<line x1="267.00" y1="517.80" x2="296.00" y2="517.80" stroke="#464242" stroke-width="1.7" />
<line x1="99.00" y1="534.42" x2="179.60" y2="534.42" stroke="#464242" stroke-width="1.7" />
<line x1="179.60" y1="534.42" x2="208.60" y2="534.42" stroke="#464242" stroke-width="1.7" />
<line x1="208.60" y1="534.42" x2="238.00" y2="534.42" stroke="#464242" stroke-width="1.7" />
<line x1="238.00" y1="534.42" x2="267.00" y2="534.42" stroke="#464242" stroke-width="1.7" />
<line x1="267.00" y1="534.42" x2="296.00" y2="534.42" stroke="#464242" stroke-width="1.7" />
<line x1="99.00" y1="551.04" x2="179.60" y2="551.04" stroke="#464242" stroke-width="1.7" />
<line x1="179.60" y1="551.04" x2="208.60" y2="551.04" stroke="#464242" stroke-width="1.7" />
<line x1="208.60" y1="551.04" x2="238.00" y2="551.04" stroke="#464242" stroke-width="1.7" />
<line x1="238.00" y1="551.04" x2="267.00" y2="551.04" stroke="#464242" stroke-width="1.7" />
<line x1="267.00" y1="551.04" x2="296.00" y2="551.04" stroke="#464242" stroke-width="1.7" />
<line x1="99.00" y1="567.66" x2="179.60" y2="567.66" stroke="#464242" stroke-width="1.7" />
<line x1="179.60" y1="567.66" x2="208.60" y2="567.66" stroke="#464242" stroke-width="1.7" />
<line x1="208.60" y1="567.66" x2="238.00" y2="567.66" stroke="#464242" stroke-width="1.7" />
<line x1="238.00" y1="567.66" x2="267.00" y2="567.66" stroke="#464242" stroke-width="1.7" />
<line x1="267.00" y1="567.66" x2="296.00" y2="567.66" stroke="#464242" stroke-width="1.7" />
<line x1="99.00" y1="584.28" x2="179.60" y2="584.28" stroke="#464242" stroke-width="1.7" />
<line x1="179.60" y1="584.28" x2="208.60" y2="584.28" stroke="#464242" stroke-width="1.7" />
<line x1="208.60" y1="584.28" x2="238.00" y2="584.28" stroke="#464242" stroke-width="1.7" />
<line x1="238.00" y1="584.28" x2="267.00" y2="584.28" stroke="#464242" stroke-width="1.7" />
<line x1="267.00" y1="584.28" x2="296.00" y2="584.28" stroke="#464242" stroke-width="1.7" />
<line x1="99.00" y1="600.90" x2="179.60" y2="600.90" stroke="#464242" stroke-width="1.7" />
<line x1="179.60" y1="600.90" x2="208.60" y2="600.90" stroke="#464242" stroke-width="1.7" />
<line x1="208.60" y1="600.90" x2="238.00" y2="600.90" stroke="#464242" stroke-width="1.7" />
<line x1="238.00" y1="600.90" x2="267.00" y2="600.90" stroke="#464242" stroke-width="1.7" />
<line x1="267.00" y1="600.90" x2="296.00" y2="600.90" stroke="#464242" stroke-width="1.7" />
<line x1="99.00" y1="617.52" x2="179.60" y2="617.52" stroke="#464242" stroke-width="1.7" />
<line x1="179.60" y1="617.52" x2="208.60" y2="617.52" stroke="#464242" stroke-width="1.7" />
<line x1="208.60" y1="617.52" x2="238.00" y2="617.52" stroke="#464242" stroke-width="1.7" />
<line x1="238.00" y1="617.52" x2="267.00" y2="617.52" stroke="#464242" stroke-width="1.7" />
<line x1="267.00" y1="617.52" x2="296.00" y2="617.52" stroke="#464242" stroke-width="1.7" />
<line x1="99.00" y1="634.14" x2="179.60" y2="634.14" stroke="#464242" stroke-width="1.7" />
<line x1="179.60" y1="634.14" x2="208.60" y2="634.14" stroke="#464242" stroke-width="1.7" />
<line x1="208.60" y1="634.14" x2="238.00" y2="634.14" stroke="#464242" stroke-width="1.7" />
<line x1="238.00" y1="634.14" x2="267.00" y2="634.14" stroke="#464242" stroke-width="1.7" />
<line x1="267.00" y1="634.14" x2="296.00" y2="634.14" stroke="#464242" stroke-width="1.7" />
<line x1="99.00" y1="650.76" x2="179.60" y2="650.76" stroke="#464242" stroke-width="1.7" />
<line x1="179.60" y1="650.76" x2="208.60" y2="650.76" stroke="#464242" stroke-width="1.7" />
<line x1="208.60" y1="650.76" x2="238.00" y2="650.76" stroke="#464242" stroke-width="1.7" />
<line x1="238.00" y1="650.76" x2="267.00" y2="650.76" stroke="#464242" stroke-width="1.7" />
<line x1="267.00" y1="650.76" x2="296.00" y2="650.76" stroke="#464242" stroke-width="1.7" />
<line x1="99.00" y1="667.38" x2="179.60" y2="667.38" stroke="#464242" stroke-width="1.7" />
<line x1="179.60" y1="667.38" x2="208.60" y2="667.38" stroke="#464242" stroke-width="1.7" />
<line x1="208.60" y1="667.38" x2="238.00" y2="667.38" stroke="#464242" stroke-width="1.7" />
<line x1="238.00" y1="667.38" x2="267.00" y2="667.38" stroke="#464242" stroke-width="1.7" />
<line x1="267.00" y1="667.38" x2="296.00" y2="667.38" stroke="#464242" stroke-width="1.7" />
<line x1="99.00" y1="684.00" x2="179.60" y2="684.00" stroke="#464242" stroke-width="1.7" />
<line x1="179.60" y1="684.00" x2="208.60" y2="684.00" stroke="#464242" stroke-width="1.7" />
<line x1="208.60" y1="684.00" x2="238.00" y2="684.00" stroke="#464242" stroke-width="1.7" />
<line x1="238.00" y1="684.00" x2="267.00" y2="684.00" stroke="#464242" stroke-width="1.7" />
<line x1="267.00" y1="684.00" x2="296.00" y2="684.00" stroke="#464242" stroke-width="1.7" />
<line x1="296.00" y1="684.00" x2="389.00" y2="684.00" stroke="#464242" stroke-width="1.7" />
<line x1="99.00" y1="700.62" x2="179.60" y2="700.62" stroke="#464242" stroke-width="1.7" />
<line x1="179.60" y1="700.62" x2="208.60" y2="700.62" stroke="#464242" stroke-width="1.7" />
<line x1="208.60" y1="700.62" x2="238.00" y2="700.62" stroke="#464242" stroke-width="1.7" />
<line x1="238.00" y1="700.62" x2="267.00" y2="700.62" stroke="#464242" stroke-width="1.7" />
<line x1="267.00" y1="700.62" x2="296.00" y2="700.62" stroke="#464242" stroke-width="1.7" />
<line x1="99.00" y1="717.24" x2="179.60" y2="717.24" stroke="#464242" stroke-width="1.7" />
<line x1="179.60" y1="717.24" x2="208.60" y2="717.24" stroke="#464242" stroke-width="1.7" />
<line x1="208.60" y1="717.24" x2="238.00" y2="717.24" stroke="#464242" stroke-width="1.7" />
<line x1="238.00" y1="717.24" x2="267.00" y2="717.24" stroke="#464242" stroke-width="1.7" />
<line x1="267.00" y1="717.24" x2="296.00" y2="717.24" stroke="#464242" stroke-width="1.7" />
<line x1="99.00" y1="733.86" x2="179.60" y2="733.86" stroke="#464242" stroke-width="1.7" />
<line x1="179.60" y1="733.86" x2="208.60" y2="733.86" stroke="#464242" stroke-width="1.7" />
<line x1="208.60" y1="733.86" x2="238.00" y2="733.86" stroke="#464242" stroke-width="1.7" />
<line x1="238.00" y1="733.86" x2="267.00" y2="733.86" stroke="#464242" stroke-width="1.7" />
<line x1="267.00" y1="733.86" x2="296.00" y2="733.86" stroke="#464242" stroke-width="1.7" />
<line x1="99.00" y1="750.48" x2="179.60" y2="750.48" stroke="#464242" stroke-width="1.7" />
<line x1="179.60" y1="750.48" x2="208.60" y2="750.48" stroke="#464242" stroke-width="1.7" />
<line x1="208.60" y1="750.48" x2="238.00" y2="750.48" stroke="#464242" stroke-width="1.7" />
<line x1="238.00" y1="750.48" x2="267.00" y2="750.48" stroke="#464242" stroke-width="1.7" />
<line x1="267.00" y1="750.48" x2="296.00" y2="750.48" stroke="#464242" stroke-width="1.7" />
<line x1="99.00" y1="767.10" x2="179.60" y2="767.10" stroke="#464242" stroke-width="1.7" />
<line x1="179.60" y1="767.10" x2="208.60" y2="767.10" stroke="#464242" stroke-width="1.7" />
<line x1="208.60" y1="767.10" x2="238.00" y2="767.10" stroke="#464242" stroke-width="1.7" />
<line x1="238.00" y1="767.10" x2="267.00" y2="767.10" stroke="#464242" stroke-width="1.7" />
<line x1="267.00" y1="767.10" x2="296.00" y2="767.10" stroke="#464242" stroke-width="1.7" />
<line x1="99.00" y1="783.72" x2="179.60" y2="783.72" stroke="#464242" stroke-width="1.7" />
<line x1="179.60" y1="783.72" x2="208.60" y2="783.72" stroke="#464242" stroke-width="1.7" />
<line x1="208.60" y1="783.72" x2="238.00" y2="783.72" stroke="#464242" stroke-width="1.7" />
<line x1="238.00" y1="783.72" x2="267.00" y2="783.72" stroke="#464242" stroke-width="1.7" />
<line x1="267.00" y1="783.72" x2="296.00" y2="783.72" stroke="#464242" stroke-width="1.7" />
<line x1="296.00" y1="783.72" x2="389.00" y2="783.72" stroke="#464242" stroke-width="1.7" />
<line x1="99.00" y1="800.34" x2="179.60" y2="800.34" stroke="#464242" stroke-width="1.7" />
<line x1="179.60" y1="800.34" x2="208.60" y2="800.34" stroke="#464242" stroke-width="1.7" />
<line x1="208.60" y1="800.34" x2="238.00" y2="800.34" stroke="#464242" stroke-width="1.7" />
<line x1="238.00" y1="800.34" x2="267.00" y2="800.34" stroke="#464242" stroke-width="1.7" />
<line x1="267.00" y1="800.34" x2="296.00" y2="800.34" stroke="#464242" stroke-width="1.7" />
<line x1="99.00" y1="816.96" x2="179.60" y2="816.96" stroke="#464242" stroke-width="1.7" />
<line x1="179.60" y1="816.96" x2="208.60" y2="816.96" stroke="#464242" stroke-width="1.7" />
<line x1="208.60" y1="816.96" x2="238.00" y2="816.96" stroke="#464242" stroke-width="1.7" />
<line x1="238.00" y1="816.96" x2="267.00" y2="816.96" stroke="#464242" stroke-width="1.7" />
<line x1="267.00" y1="816.96" x2="296.00" y2="816.96" stroke="#464242" stroke-width="1.7" />
<line x1="296.00" y1="816.96" x2="389.00" y2="816.96" stroke="#464242" stroke-width="1.7" />
<line x1="179.60" y1="351.60" x2="179.60" y2="833.58" stroke="#464242" stroke-width="1.7" />
<line x1="208.60" y1="351.60" x2="208.60" y2="833.58" stroke="#464242" stroke-width="1.7" />
<line x1="238.00" y1="351.60" x2="238.00" y2="833.58" stroke="#464242" stroke-width="1.7" />
<line x1="267.00" y1="351.60" x2="267.00" y2="833.58" stroke="#464242" stroke-width="1.7" />
<line x1="296.00" y1="351.60" x2="296.00" y2="833.58" stroke="#464242" stroke-width="1.7" />
<line x1="389.00" y1="351.60" x2="389.00" y2="833.58" stroke="#464242" stroke-width="1.7" />
<line x1="99.00" y1="351.60" x2="481.50" y2="351.60" stroke="#3e3a3a" stroke-width="1.5" />
<rect x="99.00" y="334.60" width="382.50" height="498.98" fill="none" stroke="#3e3a3a" stroke-width="1.4" />
<text x="0" y="0" transform="translate(107.80,347.10) scale(1,1.08)" font-size="11.7" font-weight="bold" text-anchor="start" fill="#ffffff" stroke="#ffffff" stroke-width="0.22" >Code</text>
<text x="0" y="0" transform="translate(194.10,347.10) scale(1,1.08)" font-size="11.7" font-weight="bold" text-anchor="middle" fill="#ffffff" stroke="#ffffff" stroke-width="0.22" >Ød</text>
<text x="0" y="0" transform="translate(223.30,347.10) scale(1,1.08)" font-size="11.7" font-weight="bold" text-anchor="middle" fill="#ffffff" stroke="#ffffff" stroke-width="0.22" >Ød1</text>
<text x="0" y="0" transform="translate(252.50,347.10) scale(1,1.08)" font-size="11.7" font-weight="bold" text-anchor="middle" fill="#ffffff" stroke="#ffffff" stroke-width="0.22" >L</text>
<text x="0" y="0" transform="translate(281.50,347.10) scale(1,1.08)" font-size="11.7" font-weight="bold" text-anchor="middle" fill="#ffffff" stroke="#ffffff" stroke-width="0.22" >L1</text>
<text x="0" y="0" transform="translate(342.50,347.10) scale(1,1.08)" font-size="11.7" font-weight="bold" text-anchor="middle" fill="#ffffff" stroke="#ffffff" stroke-width="0.22" >Material of rod</text>
<text x="0" y="0" transform="translate(435.25,347.10) scale(1,1.08)" font-size="11.7" font-weight="bold" text-anchor="middle" fill="#ffffff" stroke="#ffffff" stroke-width="0.22" >Material of tip</text>
<text x="0" y="0" transform="translate(287.99,349.20) scale(1,1.08)" font-size="18" font-weight="bold" text-anchor="start" fill="#e3262b" >*</text>
<text x="0" y="0" transform="translate(107.60,363.91) scale(1,1.08)" font-size="11.7" font-weight="bold" text-anchor="start" fill="#151515" stroke="#151515" stroke-width="0.22" >ISQ-20-056</text>
<text x="0" y="0" transform="translate(194.10,363.91) scale(1,1.08)" font-size="11.7" text-anchor="middle" fill="#222222" stroke="#222222" stroke-width="0.22" >1</text>
<text x="0" y="0" transform="translate(223.30,363.91) scale(1,1.08)" font-size="11.7" text-anchor="middle" fill="#222222" stroke="#222222" stroke-width="0.22" >0.8</text>
<text x="0" y="0" transform="translate(252.50,363.91) scale(1,1.08)" font-size="11.7" text-anchor="middle" fill="#222222" stroke="#222222" stroke-width="0.22" >10</text>
<text x="0" y="0" transform="translate(281.50,363.91) scale(1,1.08)" font-size="11.7" text-anchor="middle" fill="#222222" stroke="#222222" stroke-width="0.22" >4</text>
<text x="0" y="0" transform="translate(107.60,380.53) scale(1,1.08)" font-size="11.7" font-weight="bold" text-anchor="start" fill="#151515" stroke="#151515" stroke-width="0.22" >ISQ-20-069</text>
<text x="0" y="0" transform="translate(194.10,380.53) scale(1,1.08)" font-size="11.7" text-anchor="middle" fill="#222222" stroke="#222222" stroke-width="0.22" >1</text>
<text x="0" y="0" transform="translate(223.30,380.53) scale(1,1.08)" font-size="11.7" text-anchor="middle" fill="#222222" stroke="#222222" stroke-width="0.22" >0.8</text>
<text x="0" y="0" transform="translate(252.50,380.53) scale(1,1.08)" font-size="11.7" text-anchor="middle" fill="#222222" stroke="#222222" stroke-width="0.22" >20</text>
<text x="0" y="0" transform="translate(281.50,380.53) scale(1,1.08)" font-size="11.7" text-anchor="middle" fill="#222222" stroke="#222222" stroke-width="0.22" >7</text>
<text x="0" y="0" transform="translate(107.60,397.15) scale(1,1.08)" font-size="11.7" font-weight="bold" text-anchor="start" fill="#151515" stroke="#151515" stroke-width="0.22" >ISQ-20-071</text>
<text x="0" y="0" transform="translate(194.10,397.15) scale(1,1.08)" font-size="11.7" text-anchor="middle" fill="#222222" stroke="#222222" stroke-width="0.22" >1</text>
<text x="0" y="0" transform="translate(223.30,397.15) scale(1,1.08)" font-size="11.7" text-anchor="middle" fill="#222222" stroke="#222222" stroke-width="0.22" >0.8</text>
<text x="0" y="0" transform="translate(252.50,397.15) scale(1,1.08)" font-size="11.7" text-anchor="middle" fill="#222222" stroke="#222222" stroke-width="0.22" >20</text>
<text x="0" y="0" transform="translate(281.50,397.15) scale(1,1.08)" font-size="11.7" text-anchor="middle" fill="#222222" stroke="#222222" stroke-width="0.22" >12.5</text>
<text x="0" y="0" transform="translate(107.60,413.77) scale(1,1.08)" font-size="11.7" font-weight="bold" text-anchor="start" fill="#151515" stroke="#151515" stroke-width="0.22" >ISQ-20-101</text>
<text x="0" y="0" transform="translate(194.10,413.77) scale(1,1.08)" font-size="11.7" text-anchor="middle" fill="#222222" stroke="#222222" stroke-width="0.22" >1</text>
<text x="0" y="0" transform="translate(223.30,413.77) scale(1,1.08)" font-size="11.7" text-anchor="middle" fill="#222222" stroke="#222222" stroke-width="0.22" >0.8</text>
<text x="0" y="0" transform="translate(252.50,413.77) scale(1,1.08)" font-size="11.7" text-anchor="middle" fill="#222222" stroke="#222222" stroke-width="0.22" >27</text>
<text x="0" y="0" transform="translate(281.50,413.77) scale(1,1.08)" font-size="11.7" text-anchor="middle" fill="#222222" stroke="#222222" stroke-width="0.22" >20.5</text>
<text x="0" y="0" transform="translate(107.60,430.39) scale(1,1.08)" font-size="11.7" font-weight="bold" text-anchor="start" fill="#151515" stroke="#151515" stroke-width="0.22" >ISQ-20-073</text>
<text x="0" y="0" transform="translate(194.10,430.39) scale(1,1.08)" font-size="11.7" text-anchor="middle" fill="#222222" stroke="#222222" stroke-width="0.22" >1.5</text>
<text x="0" y="0" transform="translate(223.30,430.39) scale(1,1.08)" font-size="11.7" text-anchor="middle" fill="#222222" stroke="#222222" stroke-width="0.22" >1</text>
<text x="0" y="0" transform="translate(252.50,430.39) scale(1,1.08)" font-size="11.7" text-anchor="middle" fill="#222222" stroke="#222222" stroke-width="0.22" >20</text>
<text x="0" y="0" transform="translate(281.50,430.39) scale(1,1.08)" font-size="11.7" text-anchor="middle" fill="#222222" stroke="#222222" stroke-width="0.22" >12.5</text>
<text x="0" y="0" transform="translate(107.60,447.01) scale(1,1.08)" font-size="11.7" font-weight="bold" text-anchor="start" fill="#151515" stroke="#151515" stroke-width="0.22" >ISQ-20-103</text>
<text x="0" y="0" transform="translate(194.10,447.01) scale(1,1.08)" font-size="11.7" text-anchor="middle" fill="#222222" stroke="#222222" stroke-width="0.22" >1.5</text>
<text x="0" y="0" transform="translate(223.30,447.01) scale(1,1.08)" font-size="11.7" text-anchor="middle" fill="#222222" stroke="#222222" stroke-width="0.22" >1</text>
<text x="0" y="0" transform="translate(252.50,447.01) scale(1,1.08)" font-size="11.7" text-anchor="middle" fill="#222222" stroke="#222222" stroke-width="0.22" >30</text>
<text x="0" y="0" transform="translate(281.50,447.01) scale(1,1.08)" font-size="11.7" text-anchor="middle" fill="#222222" stroke="#222222" stroke-width="0.22" >22.5</text>
<text x="0" y="0" transform="translate(107.60,463.63) scale(1,1.08)" font-size="11.7" font-weight="bold" text-anchor="start" fill="#151515" stroke="#151515" stroke-width="0.22" >ISQ-20-075</text>
<text x="0" y="0" transform="translate(194.10,463.63) scale(1,1.08)" font-size="11.7" text-anchor="middle" fill="#222222" stroke="#222222" stroke-width="0.22" >2</text>
<text x="0" y="0" transform="translate(223.30,463.63) scale(1,1.08)" font-size="11.7" text-anchor="middle" fill="#222222" stroke="#222222" stroke-width="0.22" >1</text>
<text x="0" y="0" transform="translate(252.50,463.63) scale(1,1.08)" font-size="11.7" text-anchor="middle" fill="#222222" stroke="#222222" stroke-width="0.22" >20</text>
<text x="0" y="0" transform="translate(281.50,463.63) scale(1,1.08)" font-size="11.7" text-anchor="middle" fill="#222222" stroke="#222222" stroke-width="0.22" >12.5</text>
<text x="0" y="0" transform="translate(107.60,480.25) scale(1,1.08)" font-size="11.7" font-weight="bold" text-anchor="start" fill="#151515" stroke="#151515" stroke-width="0.22" >ISQ-20-105</text>
<text x="0" y="0" transform="translate(194.10,480.25) scale(1,1.08)" font-size="11.7" text-anchor="middle" fill="#222222" stroke="#222222" stroke-width="0.22" >2</text>
<text x="0" y="0" transform="translate(223.30,480.25) scale(1,1.08)" font-size="11.7" text-anchor="middle" fill="#222222" stroke="#222222" stroke-width="0.22" >1.5</text>
<text x="0" y="0" transform="translate(252.50,480.25) scale(1,1.08)" font-size="11.7" text-anchor="middle" fill="#222222" stroke="#222222" stroke-width="0.22" >30</text>
<text x="0" y="0" transform="translate(281.50,480.25) scale(1,1.08)" font-size="11.7" text-anchor="middle" fill="#222222" stroke="#222222" stroke-width="0.22" >22.5</text>
<text x="0" y="0" transform="translate(107.60,496.87) scale(1,1.08)" font-size="11.7" font-weight="bold" text-anchor="start" fill="#151515" stroke="#151515" stroke-width="0.22" >ISQ-20-160</text>
<text x="0" y="0" transform="translate(194.10,496.87) scale(1,1.08)" font-size="11.7" text-anchor="middle" fill="#222222" stroke="#222222" stroke-width="0.22" >2</text>
<text x="0" y="0" transform="translate(223.30,496.87) scale(1,1.08)" font-size="11.7" text-anchor="middle" fill="#222222" stroke="#222222" stroke-width="0.22" >1.5</text>
<text x="0" y="0" transform="translate(252.50,496.87) scale(1,1.08)" font-size="11.7" text-anchor="middle" fill="#222222" stroke="#222222" stroke-width="0.22" >40</text>
<text x="0" y="0" transform="translate(281.50,496.87) scale(1,1.08)" font-size="11.7" text-anchor="middle" fill="#222222" stroke="#222222" stroke-width="0.22" >35</text>
<text x="0" y="0" transform="translate(107.60,513.49) scale(1,1.08)" font-size="11.7" font-weight="bold" text-anchor="start" fill="#151515" stroke="#151515" stroke-width="0.22" >ISQ-20-077</text>
<text x="0" y="0" transform="translate(194.10,513.49) scale(1,1.08)" font-size="11.7" text-anchor="middle" fill="#222222" stroke="#222222" stroke-width="0.22" >2.5</text>
<text x="0" y="0" transform="translate(223.30,513.49) scale(1,1.08)" font-size="11.7" text-anchor="middle" fill="#222222" stroke="#222222" stroke-width="0.22" >1.5</text>
<text x="0" y="0" transform="translate(252.50,513.49) scale(1,1.08)" font-size="11.7" text-anchor="middle" fill="#222222" stroke="#222222" stroke-width="0.22" >20</text>
<text x="0" y="0" transform="translate(281.50,513.49) scale(1,1.08)" font-size="11.7" text-anchor="middle" fill="#222222" stroke="#222222" stroke-width="0.22" >12</text>
<text x="0" y="0" transform="translate(107.60,530.11) scale(1,1.08)" font-size="11.7" font-weight="bold" text-anchor="start" fill="#151515" stroke="#151515" stroke-width="0.22" >ISQ-20-107</text>
<text x="0" y="0" transform="translate(194.10,530.11) scale(1,1.08)" font-size="11.7" text-anchor="middle" fill="#222222" stroke="#222222" stroke-width="0.22" >2.5</text>
<text x="0" y="0" transform="translate(223.30,530.11) scale(1,1.08)" font-size="11.7" text-anchor="middle" fill="#222222" stroke="#222222" stroke-width="0.22" >1.5</text>
<text x="0" y="0" transform="translate(252.50,530.11) scale(1,1.08)" font-size="11.7" text-anchor="middle" fill="#222222" stroke="#222222" stroke-width="0.22" >30</text>
<text x="0" y="0" transform="translate(281.50,530.11) scale(1,1.08)" font-size="11.7" text-anchor="middle" fill="#222222" stroke="#222222" stroke-width="0.22" >22.5</text>
<text x="0" y="0" transform="translate(107.60,546.73) scale(1,1.08)" font-size="11.7" font-weight="bold" text-anchor="start" fill="#151515" stroke="#151515" stroke-width="0.22" >ISQ-20-162</text>
<text x="0" y="0" transform="translate(194.10,546.73) scale(1,1.08)" font-size="11.7" text-anchor="middle" fill="#222222" stroke="#222222" stroke-width="0.22" >2.5</text>
<text x="0" y="0" transform="translate(223.30,546.73) scale(1,1.08)" font-size="11.7" text-anchor="middle" fill="#222222" stroke="#222222" stroke-width="0.22" >1.5</text>
<text x="0" y="0" transform="translate(252.50,546.73) scale(1,1.08)" font-size="11.7" text-anchor="middle" fill="#222222" stroke="#222222" stroke-width="0.22" >40</text>
<text x="0" y="0" transform="translate(281.50,546.73) scale(1,1.08)" font-size="11.7" text-anchor="middle" fill="#222222" stroke="#222222" stroke-width="0.22" >35</text>
<text x="0" y="0" transform="translate(107.60,563.35) scale(1,1.08)" font-size="11.7" font-weight="bold" text-anchor="start" fill="#151515" stroke="#151515" stroke-width="0.22" >ISQ-20-079</text>
<text x="0" y="0" transform="translate(194.10,563.35) scale(1,1.08)" font-size="11.7" text-anchor="middle" fill="#222222" stroke="#222222" stroke-width="0.22" >3</text>
<text x="0" y="0" transform="translate(223.30,563.35) scale(1,1.08)" font-size="11.7" text-anchor="middle" fill="#222222" stroke="#222222" stroke-width="0.22" >1.5</text>
<text x="0" y="0" transform="translate(252.50,563.35) scale(1,1.08)" font-size="11.7" text-anchor="middle" fill="#222222" stroke="#222222" stroke-width="0.22" >20</text>
<text x="0" y="0" transform="translate(281.50,563.35) scale(1,1.08)" font-size="11.7" text-anchor="middle" fill="#222222" stroke="#222222" stroke-width="0.22" >13</text>
<text x="0" y="0" transform="translate(107.60,579.97) scale(1,1.08)" font-size="11.7" font-weight="bold" text-anchor="start" fill="#151515" stroke="#151515" stroke-width="0.22" >ISQ-20-109</text>
<text x="0" y="0" transform="translate(194.10,579.97) scale(1,1.08)" font-size="11.7" text-anchor="middle" fill="#222222" stroke="#222222" stroke-width="0.22" >3</text>
<text x="0" y="0" transform="translate(223.30,579.97) scale(1,1.08)" font-size="11.7" text-anchor="middle" fill="#222222" stroke="#222222" stroke-width="0.22" >1.5</text>
<text x="0" y="0" transform="translate(252.50,579.97) scale(1,1.08)" font-size="11.7" text-anchor="middle" fill="#222222" stroke="#222222" stroke-width="0.22" >30</text>
<text x="0" y="0" transform="translate(281.50,579.97) scale(1,1.08)" font-size="11.7" text-anchor="middle" fill="#222222" stroke="#222222" stroke-width="0.22" >25</text>
<text x="0" y="0" transform="translate(107.60,596.59) scale(1,1.08)" font-size="11.7" font-weight="bold" text-anchor="start" fill="#151515" stroke="#151515" stroke-width="0.22" >ISQ-20-164</text>
<text x="0" y="0" transform="translate(194.10,596.59) scale(1,1.08)" font-size="11.7" text-anchor="middle" fill="#222222" stroke="#222222" stroke-width="0.22" >3</text>
<text x="0" y="0" transform="translate(223.30,596.59) scale(1,1.08)" font-size="11.7" text-anchor="middle" fill="#222222" stroke="#222222" stroke-width="0.22" >1.5</text>
<text x="0" y="0" transform="translate(252.50,596.59) scale(1,1.08)" font-size="11.7" text-anchor="middle" fill="#222222" stroke="#222222" stroke-width="0.22" >40</text>
<text x="0" y="0" transform="translate(281.50,596.59) scale(1,1.08)" font-size="11.7" text-anchor="middle" fill="#222222" stroke="#222222" stroke-width="0.22" >35</text>
<text x="0" y="0" transform="translate(107.60,613.21) scale(1,1.08)" font-size="11.7" font-weight="bold" text-anchor="start" fill="#151515" stroke="#151515" stroke-width="0.22" >ISQ-20-175</text>
<text x="0" y="0" transform="translate(194.10,613.21) scale(1,1.08)" font-size="11.7" text-anchor="middle" fill="#222222" stroke="#222222" stroke-width="0.22" >3</text>
<text x="0" y="0" transform="translate(223.30,613.21) scale(1,1.08)" font-size="11.7" text-anchor="middle" fill="#222222" stroke="#222222" stroke-width="0.22" >2</text>
<text x="0" y="0" transform="translate(252.50,613.21) scale(1,1.08)" font-size="11.7" text-anchor="middle" fill="#222222" stroke="#222222" stroke-width="0.22" >50</text>
<text x="0" y="0" transform="translate(281.50,613.21) scale(1,1.08)" font-size="11.7" text-anchor="middle" fill="#222222" stroke="#222222" stroke-width="0.22" >42.5</text>
<text x="0" y="0" transform="translate(107.60,629.83) scale(1,1.08)" font-size="11.7" font-weight="bold" text-anchor="start" fill="#151515" stroke="#151515" stroke-width="0.22" >ISQ-20-081</text>
<text x="0" y="0" transform="translate(194.10,629.83) scale(1,1.08)" font-size="11.7" text-anchor="middle" fill="#222222" stroke="#222222" stroke-width="0.22" >4</text>
<text x="0" y="0" transform="translate(223.30,629.83) scale(1,1.08)" font-size="11.7" text-anchor="middle" fill="#222222" stroke="#222222" stroke-width="0.22" >2</text>
<text x="0" y="0" transform="translate(252.50,629.83) scale(1,1.08)" font-size="11.7" text-anchor="middle" fill="#222222" stroke="#222222" stroke-width="0.22" >22</text>
<text x="0" y="0" transform="translate(281.50,629.83) scale(1,1.08)" font-size="11.7" text-anchor="middle" fill="#222222" stroke="#222222" stroke-width="0.22" >22</text>
<text x="0" y="0" transform="translate(107.60,646.45) scale(1,1.08)" font-size="11.7" font-weight="bold" text-anchor="start" fill="#151515" stroke="#151515" stroke-width="0.22" >ISQ-20-111</text>
<text x="0" y="0" transform="translate(194.10,646.45) scale(1,1.08)" font-size="11.7" text-anchor="middle" fill="#222222" stroke="#222222" stroke-width="0.22" >4</text>
<text x="0" y="0" transform="translate(223.30,646.45) scale(1,1.08)" font-size="11.7" text-anchor="middle" fill="#222222" stroke="#222222" stroke-width="0.22" >2</text>
<text x="0" y="0" transform="translate(252.50,646.45) scale(1,1.08)" font-size="11.7" text-anchor="middle" fill="#222222" stroke="#222222" stroke-width="0.22" >30</text>
<text x="0" y="0" transform="translate(281.50,646.45) scale(1,1.08)" font-size="11.7" text-anchor="middle" fill="#222222" stroke="#222222" stroke-width="0.22" >30</text>
<text x="0" y="0" transform="translate(107.60,663.07) scale(1,1.08)" font-size="11.7" font-weight="bold" text-anchor="start" fill="#151515" stroke="#151515" stroke-width="0.22" >ISQ-20-166</text>
<text x="0" y="0" transform="translate(194.10,663.07) scale(1,1.08)" font-size="11.7" text-anchor="middle" fill="#222222" stroke="#222222" stroke-width="0.22" >4</text>
<text x="0" y="0" transform="translate(223.30,663.07) scale(1,1.08)" font-size="11.7" text-anchor="middle" fill="#222222" stroke="#222222" stroke-width="0.22" >2</text>
<text x="0" y="0" transform="translate(252.50,663.07) scale(1,1.08)" font-size="11.7" text-anchor="middle" fill="#222222" stroke="#222222" stroke-width="0.22" >40</text>
<text x="0" y="0" transform="translate(281.50,663.07) scale(1,1.08)" font-size="11.7" text-anchor="middle" fill="#222222" stroke="#222222" stroke-width="0.22" >40</text>
<text x="0" y="0" transform="translate(107.60,679.69) scale(1,1.08)" font-size="11.7" font-weight="bold" text-anchor="start" fill="#151515" stroke="#151515" stroke-width="0.22" >ISQ-20-177</text>
<text x="0" y="0" transform="translate(194.10,679.69) scale(1,1.08)" font-size="11.7" text-anchor="middle" fill="#222222" stroke="#222222" stroke-width="0.22" >4</text>
<text x="0" y="0" transform="translate(223.30,679.69) scale(1,1.08)" font-size="11.7" text-anchor="middle" fill="#222222" stroke="#222222" stroke-width="0.22" >2</text>
<text x="0" y="0" transform="translate(252.50,679.69) scale(1,1.08)" font-size="11.7" text-anchor="middle" fill="#222222" stroke="#222222" stroke-width="0.22" >50</text>
<text x="0" y="0" transform="translate(281.50,679.69) scale(1,1.08)" font-size="11.7" text-anchor="middle" fill="#222222" stroke="#222222" stroke-width="0.22" >50</text>
<text x="0" y="0" transform="translate(107.60,696.31) scale(1,1.08)" font-size="11.7" font-weight="bold" text-anchor="start" fill="#151515" stroke="#151515" stroke-width="0.22" >ISQ-20-002</text>
<text x="0" y="0" transform="translate(194.10,696.31) scale(1,1.08)" font-size="11.7" text-anchor="middle" fill="#222222" stroke="#222222" stroke-width="0.22" >1</text>
<text x="0" y="0" transform="translate(223.30,696.31) scale(1,1.08)" font-size="11.7" text-anchor="middle" fill="#222222" stroke="#222222" stroke-width="0.22" >0.7</text>
<text x="0" y="0" transform="translate(252.50,696.31) scale(1,1.08)" font-size="11.7" text-anchor="middle" fill="#222222" stroke="#222222" stroke-width="0.22" >10</text>
<text x="0" y="0" transform="translate(281.50,696.31) scale(1,1.08)" font-size="11.7" text-anchor="middle" fill="#222222" stroke="#222222" stroke-width="0.22" >4.5</text>
<text x="0" y="0" transform="translate(107.60,712.93) scale(1,1.08)" font-size="11.7" font-weight="bold" text-anchor="start" fill="#151515" stroke="#151515" stroke-width="0.22" >ISQ-20-006</text>
<text x="0" y="0" transform="translate(194.10,712.93) scale(1,1.08)" font-size="11.7" text-anchor="middle" fill="#222222" stroke="#222222" stroke-width="0.22" >2</text>
<text x="0" y="0" transform="translate(223.30,712.93) scale(1,1.08)" font-size="11.7" text-anchor="middle" fill="#222222" stroke="#222222" stroke-width="0.22" >1</text>
<text x="0" y="0" transform="translate(252.50,712.93) scale(1,1.08)" font-size="11.7" text-anchor="middle" fill="#222222" stroke="#222222" stroke-width="0.22" >10</text>
<text x="0" y="0" transform="translate(281.50,712.93) scale(1,1.08)" font-size="11.7" text-anchor="middle" fill="#222222" stroke="#222222" stroke-width="0.22" >6</text>
<text x="0" y="0" transform="translate(107.60,729.55) scale(1,1.08)" font-size="11.7" font-weight="bold" text-anchor="start" fill="#151515" stroke="#151515" stroke-width="0.22" >ISQ-20-010</text>
<text x="0" y="0" transform="translate(194.10,729.55) scale(1,1.08)" font-size="11.7" text-anchor="middle" fill="#222222" stroke="#222222" stroke-width="0.22" >3</text>
<text x="0" y="0" transform="translate(223.30,729.55) scale(1,1.08)" font-size="11.7" text-anchor="middle" fill="#222222" stroke="#222222" stroke-width="0.22" >1.5</text>
<text x="0" y="0" transform="translate(252.50,729.55) scale(1,1.08)" font-size="11.7" text-anchor="middle" fill="#222222" stroke="#222222" stroke-width="0.22" >10</text>
<text x="0" y="0" transform="translate(281.50,729.55) scale(1,1.08)" font-size="11.7" text-anchor="middle" fill="#222222" stroke="#222222" stroke-width="0.22" >10</text>
<text x="0" y="0" transform="translate(107.60,746.17) scale(1,1.08)" font-size="11.7" font-weight="bold" text-anchor="start" fill="#151515" stroke="#151515" stroke-width="0.22" >ISQ-20-021</text>
<text x="0" y="0" transform="translate(194.10,746.17) scale(1,1.08)" font-size="11.7" text-anchor="middle" fill="#222222" stroke="#222222" stroke-width="0.22" >2</text>
<text x="0" y="0" transform="translate(223.30,746.17) scale(1,1.08)" font-size="11.7" text-anchor="middle" fill="#222222" stroke="#222222" stroke-width="0.22" >1.5</text>
<text x="0" y="0" transform="translate(252.50,746.17) scale(1,1.08)" font-size="11.7" text-anchor="middle" fill="#222222" stroke="#222222" stroke-width="0.22" >20</text>
<text x="0" y="0" transform="translate(281.50,746.17) scale(1,1.08)" font-size="11.7" text-anchor="middle" fill="#222222" stroke="#222222" stroke-width="0.22" >14</text>
<text x="0" y="0" transform="translate(107.60,762.79) scale(1,1.08)" font-size="11.7" font-weight="bold" text-anchor="start" fill="#151515" stroke="#151515" stroke-width="0.22" >ISQ-20-025</text>
<text x="0" y="0" transform="translate(194.10,762.79) scale(1,1.08)" font-size="11.7" text-anchor="middle" fill="#222222" stroke="#222222" stroke-width="0.22" >3</text>
<text x="0" y="0" transform="translate(223.30,762.79) scale(1,1.08)" font-size="11.7" text-anchor="middle" fill="#222222" stroke="#222222" stroke-width="0.22" >1.5</text>
<text x="0" y="0" transform="translate(252.50,762.79) scale(1,1.08)" font-size="11.7" text-anchor="middle" fill="#222222" stroke="#222222" stroke-width="0.22" >20</text>
<text x="0" y="0" transform="translate(281.50,762.79) scale(1,1.08)" font-size="11.7" text-anchor="middle" fill="#222222" stroke="#222222" stroke-width="0.22" >17.5</text>
<text x="0" y="0" transform="translate(107.60,779.41) scale(1,1.08)" font-size="11.7" font-weight="bold" text-anchor="start" fill="#151515" stroke="#151515" stroke-width="0.22" >ISQ-20-027</text>
<text x="0" y="0" transform="translate(194.10,779.41) scale(1,1.08)" font-size="11.7" text-anchor="middle" fill="#222222" stroke="#222222" stroke-width="0.22" >4</text>
<text x="0" y="0" transform="translate(223.30,779.41) scale(1,1.08)" font-size="11.7" text-anchor="middle" fill="#222222" stroke="#222222" stroke-width="0.22" >2</text>
<text x="0" y="0" transform="translate(252.50,779.41) scale(1,1.08)" font-size="11.7" text-anchor="middle" fill="#222222" stroke="#222222" stroke-width="0.22" >20</text>
<text x="0" y="0" transform="translate(281.50,779.41) scale(1,1.08)" font-size="11.7" text-anchor="middle" fill="#222222" stroke="#222222" stroke-width="0.22" >20</text>
<text x="0" y="0" transform="translate(107.60,796.03) scale(1,1.08)" font-size="11.7" font-weight="bold" text-anchor="start" fill="#151515" stroke="#151515" stroke-width="0.22" >ISQ-20-185</text>
<text x="0" y="0" transform="translate(194.10,796.03) scale(1,1.08)" font-size="11.7" text-anchor="middle" fill="#222222" stroke="#222222" stroke-width="0.22" >3</text>
<text x="0" y="0" transform="translate(223.30,796.03) scale(1,1.08)" font-size="11.7" text-anchor="middle" fill="#222222" stroke="#222222" stroke-width="0.22" >2</text>
<text x="0" y="0" transform="translate(252.50,796.03) scale(1,1.08)" font-size="11.7" text-anchor="middle" fill="#222222" stroke="#222222" stroke-width="0.22" >50</text>
<text x="0" y="0" transform="translate(281.50,796.03) scale(1,1.08)" font-size="11.7" text-anchor="middle" fill="#222222" stroke="#222222" stroke-width="0.22" >42.5</text>
<text x="0" y="0" transform="translate(107.60,812.65) scale(1,1.08)" font-size="11.7" font-weight="bold" text-anchor="start" fill="#151515" stroke="#151515" stroke-width="0.22" >ISQ-20-120</text>
<text x="0" y="0" transform="translate(194.10,812.65) scale(1,1.08)" font-size="11.7" text-anchor="middle" fill="#222222" stroke="#222222" stroke-width="0.22" >3</text>
<text x="0" y="0" transform="translate(223.30,812.65) scale(1,1.08)" font-size="11.7" text-anchor="middle" fill="#222222" stroke="#222222" stroke-width="0.22" >2</text>
<text x="0" y="0" transform="translate(252.50,812.65) scale(1,1.08)" font-size="11.7" text-anchor="middle" fill="#222222" stroke="#222222" stroke-width="0.22" >30</text>
<text x="0" y="0" transform="translate(281.50,812.65) scale(1,1.08)" font-size="11.7" text-anchor="middle" fill="#222222" stroke="#222222" stroke-width="0.22" >27.5</text>
<text x="0" y="0" transform="translate(107.60,829.27) scale(1,1.08)" font-size="11.7" font-weight="bold" text-anchor="start" fill="#151515" stroke="#151515" stroke-width="0.22" >ISQ-20-201</text>
<text x="0" y="0" transform="translate(194.10,829.27) scale(1,1.08)" font-size="11.7" text-anchor="middle" fill="#222222" stroke="#222222" stroke-width="0.22" >4</text>
<text x="0" y="0" transform="translate(223.30,829.27) scale(1,1.08)" font-size="11.7" text-anchor="middle" fill="#222222" stroke="#222222" stroke-width="0.22" >3</text>
<text x="0" y="0" transform="translate(252.50,829.27) scale(1,1.08)" font-size="11.7" text-anchor="middle" fill="#222222" stroke="#222222" stroke-width="0.22" >50</text>
<text x="0" y="0" transform="translate(281.50,829.27) scale(1,1.08)" font-size="11.7" text-anchor="middle" fill="#222222" stroke="#222222" stroke-width="0.22" >50</text>
<text x="0" y="0" transform="translate(342.50,521.40) scale(1,1.08)" font-size="11.7" text-anchor="middle" fill="#222222" stroke="#222222" stroke-width="0.22" >carbide</text>
<text x="0" y="0" transform="translate(342.50,737.46) scale(1,1.08)" font-size="11.7" text-anchor="middle" fill="#222222" stroke="#222222" stroke-width="0.22" >stainless steel</text>
<text x="0" y="0" transform="translate(342.50,803.94) scale(1,1.08)" font-size="11.7" text-anchor="middle" fill="#222222" stroke="#222222" stroke-width="0.22" >ceramic</text>
<text x="0" y="0" transform="translate(342.50,828.87) scale(1,1.08)" font-size="11.7" text-anchor="middle" fill="#222222" stroke="#222222" stroke-width="0.22" >carbon fibre</text>
<text x="0" y="0" transform="translate(435.25,596.19) scale(1,1.08)" font-size="11.7" text-anchor="middle" fill="#222222" stroke="#222222" stroke-width="0.22" >ruby</text>
<text x="0" y="0" transform="translate(99.60,329.90) scale(1,1.08)" font-size="11.7" font-weight="bold" text-anchor="start" fill="#1a1a1a" stroke="#1a1a1a" stroke-width="0.22" >M2 styli</text>
<text x="0" y="0" transform="translate(482.10,329.90) scale(1,1.08)" font-size="11.7" font-weight="bold" text-anchor="end" fill="#1a1a1a" stroke="#1a1a1a" stroke-width="0.22" >(mm)</text>
<text x="0" y="0" transform="translate(99.50,849.30) scale(1,1.08)" font-size="17.5" font-weight="bold" text-anchor="start" fill="#e3262b" >*</text>
<text x="0" y="0" transform="translate(107.50,851.00) scale(1,1.08)" font-size="11.7" text-anchor="start" fill="#222" stroke="#222" stroke-width="0.22" >L1 is the effective working length, which is the distance from the center</text>
<text x="0" y="0" transform="translate(107.50,864.90) scale(1,1.08)" font-size="11.7" text-anchor="start" fill="#222" stroke="#222" stroke-width="0.22" >of the tip to the section of the stem with the same diameter as the tip.</text>
<rect x="602.50" y="334.80" width="195.20" height="17.00" fill="#3d853f" stroke="none" stroke-width="1.0" />
<rect x="602.50" y="351.80" width="195.20" height="199.44" fill="#d4d5d7" stroke="none" stroke-width="1.0" />
<line x1="683.50" y1="335.80" x2="683.50" y2="351.80" stroke="#e4efe4" stroke-width="0.9" />
<line x1="712.50" y1="335.80" x2="712.50" y2="351.80" stroke="#e4efe4" stroke-width="0.9" />
<line x1="682.20" y1="352.80" x2="682.20" y2="551.24" stroke="#eeeff0" stroke-width="0.8" />
<line x1="684.80" y1="352.80" x2="684.80" y2="551.24" stroke="#eeeff0" stroke-width="0.8" />
<line x1="711.20" y1="352.80" x2="711.20" y2="551.24" stroke="#eeeff0" stroke-width="0.8" />
<line x1="602.50" y1="367.17" x2="683.50" y2="367.17" stroke="#eeeff0" stroke-width="0.8" />
<line x1="602.50" y1="369.67" x2="683.50" y2="369.67" stroke="#eeeff0" stroke-width="0.8" />
<line x1="683.50" y1="367.17" x2="712.50" y2="367.17" stroke="#eeeff0" stroke-width="0.8" />
<line x1="683.50" y1="369.67" x2="712.50" y2="369.67" stroke="#eeeff0" stroke-width="0.8" />
<line x1="602.50" y1="383.79" x2="683.50" y2="383.79" stroke="#eeeff0" stroke-width="0.8" />
<line x1="602.50" y1="386.29" x2="683.50" y2="386.29" stroke="#eeeff0" stroke-width="0.8" />
<line x1="683.50" y1="383.79" x2="712.50" y2="383.79" stroke="#eeeff0" stroke-width="0.8" />
<line x1="683.50" y1="386.29" x2="712.50" y2="386.29" stroke="#eeeff0" stroke-width="0.8" />
<line x1="602.50" y1="400.41" x2="683.50" y2="400.41" stroke="#eeeff0" stroke-width="0.8" />
<line x1="602.50" y1="402.91" x2="683.50" y2="402.91" stroke="#eeeff0" stroke-width="0.8" />
<line x1="683.50" y1="400.41" x2="712.50" y2="400.41" stroke="#eeeff0" stroke-width="0.8" />
<line x1="683.50" y1="402.91" x2="712.50" y2="402.91" stroke="#eeeff0" stroke-width="0.8" />
<line x1="602.50" y1="417.03" x2="683.50" y2="417.03" stroke="#eeeff0" stroke-width="0.8" />
<line x1="602.50" y1="419.53" x2="683.50" y2="419.53" stroke="#eeeff0" stroke-width="0.8" />
<line x1="683.50" y1="417.03" x2="712.50" y2="417.03" stroke="#eeeff0" stroke-width="0.8" />
<line x1="683.50" y1="419.53" x2="712.50" y2="419.53" stroke="#eeeff0" stroke-width="0.8" />
<line x1="602.50" y1="433.65" x2="683.50" y2="433.65" stroke="#eeeff0" stroke-width="0.8" />
<line x1="602.50" y1="436.15" x2="683.50" y2="436.15" stroke="#eeeff0" stroke-width="0.8" />
<line x1="683.50" y1="433.65" x2="712.50" y2="433.65" stroke="#eeeff0" stroke-width="0.8" />
<line x1="683.50" y1="436.15" x2="712.50" y2="436.15" stroke="#eeeff0" stroke-width="0.8" />
<line x1="602.50" y1="450.27" x2="683.50" y2="450.27" stroke="#eeeff0" stroke-width="0.8" />
<line x1="602.50" y1="452.77" x2="683.50" y2="452.77" stroke="#eeeff0" stroke-width="0.8" />
<line x1="683.50" y1="450.27" x2="712.50" y2="450.27" stroke="#eeeff0" stroke-width="0.8" />
<line x1="683.50" y1="452.77" x2="712.50" y2="452.77" stroke="#eeeff0" stroke-width="0.8" />
<line x1="602.50" y1="466.89" x2="683.50" y2="466.89" stroke="#eeeff0" stroke-width="0.8" />
<line x1="602.50" y1="469.39" x2="683.50" y2="469.39" stroke="#eeeff0" stroke-width="0.8" />
<line x1="683.50" y1="466.89" x2="712.50" y2="466.89" stroke="#eeeff0" stroke-width="0.8" />
<line x1="683.50" y1="469.39" x2="712.50" y2="469.39" stroke="#eeeff0" stroke-width="0.8" />
<line x1="602.50" y1="483.51" x2="683.50" y2="483.51" stroke="#eeeff0" stroke-width="0.8" />
<line x1="602.50" y1="486.01" x2="683.50" y2="486.01" stroke="#eeeff0" stroke-width="0.8" />
<line x1="683.50" y1="483.51" x2="712.50" y2="483.51" stroke="#eeeff0" stroke-width="0.8" />
<line x1="683.50" y1="486.01" x2="712.50" y2="486.01" stroke="#eeeff0" stroke-width="0.8" />
<line x1="602.50" y1="500.13" x2="683.50" y2="500.13" stroke="#eeeff0" stroke-width="0.8" />
<line x1="602.50" y1="502.63" x2="683.50" y2="502.63" stroke="#eeeff0" stroke-width="0.8" />
<line x1="683.50" y1="500.13" x2="712.50" y2="500.13" stroke="#eeeff0" stroke-width="0.8" />
<line x1="683.50" y1="502.63" x2="712.50" y2="502.63" stroke="#eeeff0" stroke-width="0.8" />
<line x1="602.50" y1="516.75" x2="683.50" y2="516.75" stroke="#eeeff0" stroke-width="0.8" />
<line x1="602.50" y1="519.25" x2="683.50" y2="519.25" stroke="#eeeff0" stroke-width="0.8" />
<line x1="683.50" y1="516.75" x2="712.50" y2="516.75" stroke="#eeeff0" stroke-width="0.8" />
<line x1="683.50" y1="519.25" x2="712.50" y2="519.25" stroke="#eeeff0" stroke-width="0.8" />
<line x1="602.50" y1="533.37" x2="683.50" y2="533.37" stroke="#eeeff0" stroke-width="0.8" />
<line x1="602.50" y1="535.87" x2="683.50" y2="535.87" stroke="#eeeff0" stroke-width="0.8" />
<line x1="683.50" y1="533.37" x2="712.50" y2="533.37" stroke="#eeeff0" stroke-width="0.8" />
<line x1="683.50" y1="535.87" x2="712.50" y2="535.87" stroke="#eeeff0" stroke-width="0.8" />
<line x1="602.50" y1="368.42" x2="683.50" y2="368.42" stroke="#464242" stroke-width="1.7" />
<line x1="683.50" y1="368.42" x2="712.50" y2="368.42" stroke="#464242" stroke-width="1.7" />
<line x1="602.50" y1="385.04" x2="683.50" y2="385.04" stroke="#464242" stroke-width="1.7" />
<line x1="683.50" y1="385.04" x2="712.50" y2="385.04" stroke="#464242" stroke-width="1.7" />
<line x1="602.50" y1="401.66" x2="683.50" y2="401.66" stroke="#464242" stroke-width="1.7" />
<line x1="683.50" y1="401.66" x2="712.50" y2="401.66" stroke="#464242" stroke-width="1.7" />
<line x1="602.50" y1="418.28" x2="683.50" y2="418.28" stroke="#464242" stroke-width="1.7" />
<line x1="683.50" y1="418.28" x2="712.50" y2="418.28" stroke="#464242" stroke-width="1.7" />
<line x1="602.50" y1="434.90" x2="683.50" y2="434.90" stroke="#464242" stroke-width="1.7" />
<line x1="683.50" y1="434.90" x2="712.50" y2="434.90" stroke="#464242" stroke-width="1.7" />
<line x1="712.50" y1="434.90" x2="797.70" y2="434.90" stroke="#464242" stroke-width="1.7" />
<line x1="602.50" y1="451.52" x2="683.50" y2="451.52" stroke="#464242" stroke-width="1.7" />
<line x1="683.50" y1="451.52" x2="712.50" y2="451.52" stroke="#464242" stroke-width="1.7" />
<line x1="602.50" y1="468.14" x2="683.50" y2="468.14" stroke="#464242" stroke-width="1.7" />
<line x1="683.50" y1="468.14" x2="712.50" y2="468.14" stroke="#464242" stroke-width="1.7" />
<line x1="602.50" y1="484.76" x2="683.50" y2="484.76" stroke="#464242" stroke-width="1.7" />
<line x1="683.50" y1="484.76" x2="712.50" y2="484.76" stroke="#464242" stroke-width="1.7" />
<line x1="712.50" y1="484.76" x2="797.70" y2="484.76" stroke="#464242" stroke-width="1.7" />
<line x1="602.50" y1="501.38" x2="683.50" y2="501.38" stroke="#464242" stroke-width="1.7" />
<line x1="683.50" y1="501.38" x2="712.50" y2="501.38" stroke="#464242" stroke-width="1.7" />
<line x1="602.50" y1="518.00" x2="683.50" y2="518.00" stroke="#464242" stroke-width="1.7" />
<line x1="683.50" y1="518.00" x2="712.50" y2="518.00" stroke="#464242" stroke-width="1.7" />
<line x1="602.50" y1="534.62" x2="683.50" y2="534.62" stroke="#464242" stroke-width="1.7" />
<line x1="683.50" y1="534.62" x2="712.50" y2="534.62" stroke="#464242" stroke-width="1.7" />
<line x1="683.50" y1="351.80" x2="683.50" y2="551.24" stroke="#464242" stroke-width="1.7" />
<line x1="712.50" y1="351.80" x2="712.50" y2="551.24" stroke="#464242" stroke-width="1.7" />
<line x1="602.50" y1="351.80" x2="797.70" y2="351.80" stroke="#3e3a3a" stroke-width="1.5" />
<rect x="602.50" y="334.80" width="195.20" height="216.44" fill="none" stroke="#3e3a3a" stroke-width="1.4" />
<text x="0" y="0" transform="translate(611.30,347.30) scale(1,1.08)" font-size="11.7" font-weight="bold" text-anchor="start" fill="#ffffff" stroke="#ffffff" stroke-width="0.22" >Code</text>
<text x="0" y="0" transform="translate(698.00,347.30) scale(1,1.08)" font-size="11.7" font-weight="bold" text-anchor="middle" fill="#ffffff" stroke="#ffffff" stroke-width="0.22" >L</text>
<text x="0" y="0" transform="translate(755.10,347.30) scale(1,1.08)" font-size="11.7" font-weight="bold" text-anchor="middle" fill="#ffffff" stroke="#ffffff" stroke-width="0.22" >Material</text>
<text x="0" y="0" transform="translate(611.10,364.11) scale(1,1.08)" font-size="11.7" font-weight="bold" text-anchor="start" fill="#151515" stroke="#151515" stroke-width="0.22" >ISQ-25-100</text>
<text x="0" y="0" transform="translate(698.00,364.11) scale(1,1.08)" font-size="11.7" text-anchor="middle" fill="#222222" stroke="#222222" stroke-width="0.22" >5</text>
<text x="0" y="0" transform="translate(611.10,380.73) scale(1,1.08)" font-size="11.7" font-weight="bold" text-anchor="start" fill="#151515" stroke="#151515" stroke-width="0.22" >ISQ-25-105</text>
<text x="0" y="0" transform="translate(698.00,380.73) scale(1,1.08)" font-size="11.7" text-anchor="middle" fill="#222222" stroke="#222222" stroke-width="0.22" >10</text>
<text x="0" y="0" transform="translate(611.10,397.35) scale(1,1.08)" font-size="11.7" font-weight="bold" text-anchor="start" fill="#151515" stroke="#151515" stroke-width="0.22" >ISQ-25-110</text>
<text x="0" y="0" transform="translate(698.00,397.35) scale(1,1.08)" font-size="11.7" text-anchor="middle" fill="#222222" stroke="#222222" stroke-width="0.22" >20</text>
<text x="0" y="0" transform="translate(611.10,413.97) scale(1,1.08)" font-size="11.7" font-weight="bold" text-anchor="start" fill="#151515" stroke="#151515" stroke-width="0.22" >ISQ-25-115</text>
<text x="0" y="0" transform="translate(698.00,413.97) scale(1,1.08)" font-size="11.7" text-anchor="middle" fill="#222222" stroke="#222222" stroke-width="0.22" >30</text>
<text x="0" y="0" transform="translate(611.10,430.59) scale(1,1.08)" font-size="11.7" font-weight="bold" text-anchor="start" fill="#151515" stroke="#151515" stroke-width="0.22" >ISQ-25-120</text>
<text x="0" y="0" transform="translate(698.00,430.59) scale(1,1.08)" font-size="11.7" text-anchor="middle" fill="#222222" stroke="#222222" stroke-width="0.22" >40</text>
<text x="0" y="0" transform="translate(611.10,447.21) scale(1,1.08)" font-size="11.7" font-weight="bold" text-anchor="start" fill="#151515" stroke="#151515" stroke-width="0.22" >ISQ-25-125</text>
<text x="0" y="0" transform="translate(698.00,447.21) scale(1,1.08)" font-size="11.7" text-anchor="middle" fill="#222222" stroke="#222222" stroke-width="0.22" >30</text>
<text x="0" y="0" transform="translate(611.10,463.83) scale(1,1.08)" font-size="11.7" font-weight="bold" text-anchor="start" fill="#151515" stroke="#151515" stroke-width="0.22" >ISQ-25-130</text>
<text x="0" y="0" transform="translate(698.00,463.83) scale(1,1.08)" font-size="11.7" text-anchor="middle" fill="#222222" stroke="#222222" stroke-width="0.22" >40</text>
<text x="0" y="0" transform="translate(611.10,480.45) scale(1,1.08)" font-size="11.7" font-weight="bold" text-anchor="start" fill="#151515" stroke="#151515" stroke-width="0.22" >ISQ-25-135</text>
<text x="0" y="0" transform="translate(698.00,480.45) scale(1,1.08)" font-size="11.7" text-anchor="middle" fill="#222222" stroke="#222222" stroke-width="0.22" >50</text>
<text x="0" y="0" transform="translate(611.10,497.07) scale(1,1.08)" font-size="11.7" font-weight="bold" text-anchor="start" fill="#151515" stroke="#151515" stroke-width="0.22" >ISQ-25-140</text>
<text x="0" y="0" transform="translate(698.00,497.07) scale(1,1.08)" font-size="11.7" text-anchor="middle" fill="#222222" stroke="#222222" stroke-width="0.22" >40</text>
<text x="0" y="0" transform="translate(611.10,513.69) scale(1,1.08)" font-size="11.7" font-weight="bold" text-anchor="start" fill="#151515" stroke="#151515" stroke-width="0.22" >ISQ-25-145</text>
<text x="0" y="0" transform="translate(698.00,513.69) scale(1,1.08)" font-size="11.7" text-anchor="middle" fill="#222222" stroke="#222222" stroke-width="0.22" >50</text>
<text x="0" y="0" transform="translate(611.10,530.31) scale(1,1.08)" font-size="11.7" font-weight="bold" text-anchor="start" fill="#151515" stroke="#151515" stroke-width="0.22" >ISQ-25-150</text>
<text x="0" y="0" transform="translate(698.00,530.31) scale(1,1.08)" font-size="11.7" text-anchor="middle" fill="#222222" stroke="#222222" stroke-width="0.22" >70</text>
<text x="0" y="0" transform="translate(611.10,546.93) scale(1,1.08)" font-size="11.7" font-weight="bold" text-anchor="start" fill="#151515" stroke="#151515" stroke-width="0.22" >ISQ-25-155</text>
<text x="0" y="0" transform="translate(698.00,546.93) scale(1,1.08)" font-size="11.7" text-anchor="middle" fill="#222222" stroke="#222222" stroke-width="0.22" >90</text>
<text x="0" y="0" transform="translate(755.10,396.95) scale(1,1.08)" font-size="11.7" text-anchor="middle" fill="#222222" stroke="#222222" stroke-width="0.22" >stainless steel</text>
<text x="0" y="0" transform="translate(755.10,463.43) scale(1,1.08)" font-size="11.7" text-anchor="middle" fill="#222222" stroke="#222222" stroke-width="0.22" >ceramic</text>
<text x="0" y="0" transform="translate(755.10,521.60) scale(1,1.08)" font-size="11.7" text-anchor="middle" fill="#222222" stroke="#222222" stroke-width="0.22" >carbon fibre</text>
<text x="0" y="0" transform="translate(603.10,328.95) scale(1,1.08)" font-size="11.7" font-weight="bold" text-anchor="start" fill="#1a1a1a" stroke="#1a1a1a" stroke-width="0.22" >M2 extension rods of styli</text>
<text x="0" y="0" transform="translate(797.30,328.95) scale(1,1.08)" font-size="11.7" font-weight="bold" text-anchor="end" fill="#1a1a1a" stroke="#1a1a1a" stroke-width="0.22" >(mm)</text>
<rect x="603.00" y="665.20" width="195.20" height="17.00" fill="#3d853f" stroke="none" stroke-width="1.0" />
<rect x="603.00" y="682.20" width="195.20" height="16.80" fill="#d4d5d7" stroke="none" stroke-width="1.0" />
<line x1="684.50" y1="666.20" x2="684.50" y2="682.20" stroke="#e4efe4" stroke-width="0.9" />
<line x1="712.50" y1="666.20" x2="712.50" y2="682.20" stroke="#e4efe4" stroke-width="0.9" />
<line x1="682.70" y1="683.20" x2="682.70" y2="699.00" stroke="#eeeff0" stroke-width="0.8" />
<line x1="685.30" y1="683.20" x2="685.30" y2="699.00" stroke="#eeeff0" stroke-width="0.8" />
<line x1="711.70" y1="683.20" x2="711.70" y2="699.00" stroke="#eeeff0" stroke-width="0.8" />
<line x1="714.30" y1="683.20" x2="714.30" y2="699.00" stroke="#eeeff0" stroke-width="0.8" />
<line x1="684.00" y1="682.20" x2="684.00" y2="699.00" stroke="#464242" stroke-width="1.7" />
<line x1="713.00" y1="682.20" x2="713.00" y2="699.00" stroke="#464242" stroke-width="1.7" />
<line x1="603.00" y1="682.20" x2="798.20" y2="682.20" stroke="#3e3a3a" stroke-width="1.5" />
<rect x="603.00" y="665.20" width="195.20" height="33.80" fill="none" stroke="#3e3a3a" stroke-width="1.4" />
<text x="0" y="0" transform="translate(611.80,677.70) scale(1,1.08)" font-size="11.7" font-weight="bold" text-anchor="start" fill="#ffffff" stroke="#ffffff" stroke-width="0.22" >Code</text>
<text x="0" y="0" transform="translate(698.50,677.70) scale(1,1.08)" font-size="11.7" font-weight="bold" text-anchor="middle" fill="#ffffff" stroke="#ffffff" stroke-width="0.22" >L</text>
<text x="0" y="0" transform="translate(755.60,677.70) scale(1,1.08)" font-size="11.7" font-weight="bold" text-anchor="middle" fill="#ffffff" stroke="#ffffff" stroke-width="0.22" >Material</text>
<text x="0" y="0" transform="translate(611.60,694.60) scale(1,1.08)" font-size="11.7" font-weight="bold" text-anchor="start" fill="#151515" stroke="#151515" stroke-width="0.22" >ISQ-70-004</text>
<text x="0" y="0" transform="translate(698.50,694.60) scale(1,1.08)" font-size="11.7" text-anchor="middle" fill="#222222" stroke="#222222" stroke-width="0.22" >7</text>
<text x="0" y="0" transform="translate(755.60,694.60) scale(1,1.08)" font-size="11.7" text-anchor="middle" fill="#222222" stroke="#222222" stroke-width="0.22" >stainless steel</text>
<text x="0" y="0" transform="translate(603.60,660.30) scale(1,1.08)" font-size="11.7" font-weight="bold" text-anchor="start" fill="#1a1a1a" stroke="#1a1a1a" stroke-width="0.22" >M2 thread converter</text>
<text x="0" y="0" transform="translate(796.60,660.30) scale(1,1.08)" font-size="11.7" font-weight="bold" text-anchor="end" fill="#1a1a1a" stroke="#1a1a1a" stroke-width="0.22" >(mm)</text>
<rect x="603.00" y="948.30" width="195.20" height="16.30" fill="#3d853f" stroke="none" stroke-width="1.0" />
<rect x="603.00" y="964.60" width="195.20" height="100.20" fill="#d4d5d7" stroke="none" stroke-width="1.0" />
<line x1="684.50" y1="949.30" x2="684.50" y2="964.60" stroke="#e4efe4" stroke-width="0.9" />
<line x1="712.50" y1="949.30" x2="712.50" y2="964.60" stroke="#e4efe4" stroke-width="0.9" />
<line x1="682.70" y1="965.60" x2="682.70" y2="1064.80" stroke="#eeeff0" stroke-width="0.8" />
<line x1="685.30" y1="965.60" x2="685.30" y2="1064.80" stroke="#eeeff0" stroke-width="0.8" />
<line x1="711.70" y1="965.60" x2="711.70" y2="1064.80" stroke="#eeeff0" stroke-width="0.8" />
<line x1="603.00" y1="980.05" x2="684.00" y2="980.05" stroke="#eeeff0" stroke-width="0.8" />
<line x1="603.00" y1="982.55" x2="684.00" y2="982.55" stroke="#eeeff0" stroke-width="0.8" />
<line x1="684.00" y1="980.05" x2="713.00" y2="980.05" stroke="#eeeff0" stroke-width="0.8" />
<line x1="684.00" y1="982.55" x2="713.00" y2="982.55" stroke="#eeeff0" stroke-width="0.8" />
<line x1="603.00" y1="996.75" x2="684.00" y2="996.75" stroke="#eeeff0" stroke-width="0.8" />
<line x1="603.00" y1="999.25" x2="684.00" y2="999.25" stroke="#eeeff0" stroke-width="0.8" />
<line x1="684.00" y1="996.75" x2="713.00" y2="996.75" stroke="#eeeff0" stroke-width="0.8" />
<line x1="684.00" y1="999.25" x2="713.00" y2="999.25" stroke="#eeeff0" stroke-width="0.8" />
<line x1="603.00" y1="1013.45" x2="684.00" y2="1013.45" stroke="#eeeff0" stroke-width="0.8" />
<line x1="603.00" y1="1015.95" x2="684.00" y2="1015.95" stroke="#eeeff0" stroke-width="0.8" />
<line x1="684.00" y1="1013.45" x2="713.00" y2="1013.45" stroke="#eeeff0" stroke-width="0.8" />
<line x1="684.00" y1="1015.95" x2="713.00" y2="1015.95" stroke="#eeeff0" stroke-width="0.8" />
<line x1="603.00" y1="1030.15" x2="684.00" y2="1030.15" stroke="#eeeff0" stroke-width="0.8" />
<line x1="603.00" y1="1032.65" x2="684.00" y2="1032.65" stroke="#eeeff0" stroke-width="0.8" />
<line x1="684.00" y1="1030.15" x2="713.00" y2="1030.15" stroke="#eeeff0" stroke-width="0.8" />
<line x1="684.00" y1="1032.65" x2="713.00" y2="1032.65" stroke="#eeeff0" stroke-width="0.8" />
<line x1="603.00" y1="1046.85" x2="684.00" y2="1046.85" stroke="#eeeff0" stroke-width="0.8" />
<line x1="603.00" y1="1049.35" x2="684.00" y2="1049.35" stroke="#eeeff0" stroke-width="0.8" />
<line x1="684.00" y1="1046.85" x2="713.00" y2="1046.85" stroke="#eeeff0" stroke-width="0.8" />
<line x1="684.00" y1="1049.35" x2="713.00" y2="1049.35" stroke="#eeeff0" stroke-width="0.8" />
<line x1="603.00" y1="981.30" x2="684.00" y2="981.30" stroke="#464242" stroke-width="1.7" />
<line x1="684.00" y1="981.30" x2="713.00" y2="981.30" stroke="#464242" stroke-width="1.7" />
<line x1="603.00" y1="998.00" x2="684.00" y2="998.00" stroke="#464242" stroke-width="1.7" />
<line x1="684.00" y1="998.00" x2="713.00" y2="998.00" stroke="#464242" stroke-width="1.7" />
<line x1="603.00" y1="1014.70" x2="684.00" y2="1014.70" stroke="#464242" stroke-width="1.7" />
<line x1="684.00" y1="1014.70" x2="713.00" y2="1014.70" stroke="#464242" stroke-width="1.7" />
<line x1="713.00" y1="1014.70" x2="798.20" y2="1014.70" stroke="#464242" stroke-width="1.7" />
<line x1="603.00" y1="1031.40" x2="684.00" y2="1031.40" stroke="#464242" stroke-width="1.7" />
<line x1="684.00" y1="1031.40" x2="713.00" y2="1031.40" stroke="#464242" stroke-width="1.7" />
<line x1="713.00" y1="1031.40" x2="798.20" y2="1031.40" stroke="#464242" stroke-width="1.7" />
<line x1="603.00" y1="1048.10" x2="684.00" y2="1048.10" stroke="#464242" stroke-width="1.7" />
<line x1="684.00" y1="1048.10" x2="713.00" y2="1048.10" stroke="#464242" stroke-width="1.7" />
<line x1="684.00" y1="964.60" x2="684.00" y2="1064.80" stroke="#464242" stroke-width="1.7" />
<line x1="713.00" y1="964.60" x2="713.00" y2="1064.80" stroke="#464242" stroke-width="1.7" />
<line x1="603.00" y1="964.60" x2="798.20" y2="964.60" stroke="#3e3a3a" stroke-width="1.5" />
<rect x="603.00" y="948.30" width="195.20" height="116.50" fill="none" stroke="#3e3a3a" stroke-width="1.4" />
<text x="0" y="0" transform="translate(611.80,960.45) scale(1,1.08)" font-size="11.7" font-weight="bold" text-anchor="start" fill="#ffffff" stroke="#ffffff" stroke-width="0.22" >Code</text>
<text x="0" y="0" transform="translate(698.50,960.45) scale(1,1.08)" font-size="11.7" font-weight="bold" text-anchor="middle" fill="#ffffff" stroke="#ffffff" stroke-width="0.22" >L</text>
<text x="0" y="0" transform="translate(755.60,960.45) scale(1,1.08)" font-size="11.7" font-weight="bold" text-anchor="middle" fill="#ffffff" stroke="#ffffff" stroke-width="0.22" >Material</text>
<text x="0" y="0" transform="translate(611.60,976.95) scale(1,1.08)" font-size="11.7" font-weight="bold" text-anchor="start" fill="#151515" stroke="#151515" stroke-width="0.22" >ISQ-35-100</text>
<text x="0" y="0" transform="translate(698.50,976.95) scale(1,1.08)" font-size="11.7" text-anchor="middle" fill="#222222" stroke="#222222" stroke-width="0.22" >10</text>
<text x="0" y="0" transform="translate(611.60,993.65) scale(1,1.08)" font-size="11.7" font-weight="bold" text-anchor="start" fill="#151515" stroke="#151515" stroke-width="0.22" >ISQ-35-105</text>
<text x="0" y="0" transform="translate(698.50,993.65) scale(1,1.08)" font-size="11.7" text-anchor="middle" fill="#222222" stroke="#222222" stroke-width="0.22" >20</text>
<text x="0" y="0" transform="translate(611.60,1010.35) scale(1,1.08)" font-size="11.7" font-weight="bold" text-anchor="start" fill="#151515" stroke="#151515" stroke-width="0.22" >ISQ-35-110</text>
<text x="0" y="0" transform="translate(698.50,1010.35) scale(1,1.08)" font-size="11.7" text-anchor="middle" fill="#222222" stroke="#222222" stroke-width="0.22" >35</text>
<text x="0" y="0" transform="translate(613.30,1027.05) scale(1,1.08)" font-size="11.7" font-weight="bold" text-anchor="start" fill="#151515" stroke="#151515" stroke-width="0.22" >ISQ-35-115</text>
<text x="0" y="0" transform="translate(698.50,1027.05) scale(1,1.08)" font-size="11.7" text-anchor="middle" fill="#222222" stroke="#222222" stroke-width="0.22" >50</text>
<text x="0" y="0" transform="translate(611.60,1043.75) scale(1,1.08)" font-size="11.7" font-weight="bold" text-anchor="start" fill="#151515" stroke="#151515" stroke-width="0.22" >ISQ-35-120</text>
<text x="0" y="0" transform="translate(698.50,1043.75) scale(1,1.08)" font-size="11.7" text-anchor="middle" fill="#222222" stroke="#222222" stroke-width="0.22" >75</text>
<text x="0" y="0" transform="translate(611.60,1060.45) scale(1,1.08)" font-size="11.7" font-weight="bold" text-anchor="start" fill="#151515" stroke="#151515" stroke-width="0.22" >ISQ-35-125</text>
<text x="0" y="0" transform="translate(698.50,1060.45) scale(1,1.08)" font-size="11.7" text-anchor="middle" fill="#222222" stroke="#222222" stroke-width="0.22" >100</text>
<text x="0" y="0" transform="translate(755.60,993.25) scale(1,1.08)" font-size="11.7" text-anchor="middle" fill="#222222" stroke="#222222" stroke-width="0.22" >stainless steel</text>
<text x="0" y="0" transform="translate(755.60,1026.65) scale(1,1.08)" font-size="11.7" text-anchor="middle" fill="#222222" stroke="#222222" stroke-width="0.22" >ceramic</text>
<text x="0" y="0" transform="translate(755.60,1051.70) scale(1,1.08)" font-size="11.7" text-anchor="middle" fill="#222222" stroke="#222222" stroke-width="0.22" >carbon fibre</text>
<text x="0" y="0" transform="translate(603.60,942.60) scale(1,1.08)" font-size="11.7" font-weight="bold" text-anchor="start" fill="#1a1a1a" stroke="#1a1a1a" stroke-width="0.22" >M3 extension rods of styli</text>
<text x="0" y="0" transform="translate(798.80,942.60) scale(1,1.08)" font-size="11.7" font-weight="bold" text-anchor="end" fill="#1a1a1a" stroke="#1a1a1a" stroke-width="0.22" >(mm)</text>
<rect x="112.50" y="1037.00" width="284.80" height="16.00" fill="#3d853f" stroke="none" stroke-width="1.0" />
<rect x="112.50" y="1053.00" width="284.80" height="34.40" fill="#d4d5d7" stroke="none" stroke-width="1.0" />
<line x1="192.50" y1="1038.00" x2="192.50" y2="1053.00" stroke="#e4efe4" stroke-width="0.9" />
<line x1="248.50" y1="1038.00" x2="248.50" y2="1053.00" stroke="#e4efe4" stroke-width="0.9" />
<line x1="312.50" y1="1038.00" x2="312.50" y2="1053.00" stroke="#e4efe4" stroke-width="0.9" />
<line x1="191.70" y1="1054.00" x2="191.70" y2="1087.40" stroke="#eeeff0" stroke-width="0.8" />
<line x1="194.30" y1="1054.00" x2="194.30" y2="1087.40" stroke="#eeeff0" stroke-width="0.8" />
<line x1="246.70" y1="1054.00" x2="246.70" y2="1087.40" stroke="#eeeff0" stroke-width="0.8" />
<line x1="249.30" y1="1054.00" x2="249.30" y2="1087.40" stroke="#eeeff0" stroke-width="0.8" />
<line x1="311.30" y1="1054.00" x2="311.30" y2="1087.40" stroke="#eeeff0" stroke-width="0.8" />
<line x1="112.50" y1="1068.95" x2="193.00" y2="1068.95" stroke="#eeeff0" stroke-width="0.8" />
<line x1="112.50" y1="1071.45" x2="193.00" y2="1071.45" stroke="#eeeff0" stroke-width="0.8" />
<line x1="193.00" y1="1068.95" x2="248.00" y2="1068.95" stroke="#eeeff0" stroke-width="0.8" />
<line x1="193.00" y1="1071.45" x2="248.00" y2="1071.45" stroke="#eeeff0" stroke-width="0.8" />
<line x1="248.00" y1="1068.95" x2="312.60" y2="1068.95" stroke="#eeeff0" stroke-width="0.8" />
<line x1="248.00" y1="1071.45" x2="312.60" y2="1071.45" stroke="#eeeff0" stroke-width="0.8" />
<line x1="112.50" y1="1070.20" x2="193.00" y2="1070.20" stroke="#464242" stroke-width="1.7" />
<line x1="193.00" y1="1070.20" x2="248.00" y2="1070.20" stroke="#464242" stroke-width="1.7" />
<line x1="248.00" y1="1070.20" x2="312.60" y2="1070.20" stroke="#464242" stroke-width="1.7" />
<line x1="193.00" y1="1053.00" x2="193.00" y2="1087.40" stroke="#464242" stroke-width="1.7" />
<line x1="248.00" y1="1053.00" x2="248.00" y2="1087.40" stroke="#464242" stroke-width="1.7" />
<line x1="312.60" y1="1053.00" x2="312.60" y2="1087.40" stroke="#464242" stroke-width="1.7" />
<line x1="112.50" y1="1053.00" x2="397.30" y2="1053.00" stroke="#3e3a3a" stroke-width="1.5" />
<rect x="112.50" y="1037.00" width="284.80" height="50.40" fill="none" stroke="#3e3a3a" stroke-width="1.4" />
<text x="0" y="0" transform="translate(121.30,1049.00) scale(1,1.08)" font-size="11.7" font-weight="bold" text-anchor="start" fill="#ffffff" stroke="#ffffff" stroke-width="0.22" >Code</text>
<text x="0" y="0" transform="translate(220.50,1049.00) scale(1,1.08)" font-size="11.7" font-weight="bold" text-anchor="middle" fill="#ffffff" stroke="#ffffff" stroke-width="0.22" >D</text>
<text x="0" y="0" transform="translate(280.30,1049.00) scale(1,1.08)" font-size="11.7" font-weight="bold" text-anchor="middle" fill="#ffffff" stroke="#ffffff" stroke-width="0.22" >Remark</text>
<text x="0" y="0" transform="translate(354.95,1049.00) scale(1,1.08)" font-size="11.7" font-weight="bold" text-anchor="middle" fill="#ffffff" stroke="#ffffff" stroke-width="0.22" >Material</text>
<text x="0" y="0" transform="translate(121.10,1065.60) scale(1,1.08)" font-size="11.7" font-weight="bold" text-anchor="start" fill="#151515" stroke="#151515" stroke-width="0.22" >ISQ-10-050</text>
<text x="0" y="0" transform="translate(220.50,1065.60) scale(1,1.08)" font-size="11.7" text-anchor="middle" fill="#222222" stroke="#222222" stroke-width="0.22" >7.5</text>
<text x="0" y="0" transform="translate(280.30,1065.60) scale(1,1.08)" font-size="11.7" text-anchor="middle" fill="#222222" stroke="#222222" stroke-width="0.22" >4-way</text>
<text x="0" y="0" transform="translate(121.10,1082.80) scale(1,1.08)" font-size="11.7" font-weight="bold" text-anchor="start" fill="#151515" stroke="#151515" stroke-width="0.22" >ISQ-10-060</text>
<text x="0" y="0" transform="translate(220.50,1082.80) scale(1,1.08)" font-size="11.7" text-anchor="middle" fill="#222222" stroke="#222222" stroke-width="0.22" >7</text>
<text x="0" y="0" transform="translate(280.30,1082.80) scale(1,1.08)" font-size="11.7" text-anchor="middle" fill="#222222" stroke="#222222" stroke-width="0.22" >5-way</text>
<text x="0" y="0" transform="translate(354.95,1073.80) scale(1,1.08)" font-size="11.7" text-anchor="middle" fill="#222222" stroke="#222222" stroke-width="0.22" >stainless steel</text>
<text x="0" y="0" transform="translate(113.10,1031.70) scale(1,1.08)" font-size="11.7" font-weight="bold" text-anchor="start" fill="#1a1a1a" stroke="#1a1a1a" stroke-width="0.22" >M2 multi way bases of styli</text>
<text x="0" y="0" transform="translate(397.90,1031.70) scale(1,1.08)" font-size="11.7" font-weight="bold" text-anchor="end" fill="#1a1a1a" stroke="#1a1a1a" stroke-width="0.22" >(mm)</text>
<rect x="31.80" y="1325.00" width="382.50" height="17.00" fill="#3d853f" stroke="none" stroke-width="1.0" />
<rect x="31.80" y="1342.00" width="382.50" height="349.02" fill="#d4d5d7" stroke="none" stroke-width="1.0" />
<line x1="112.50" y1="1326.00" x2="112.50" y2="1342.00" stroke="#e4efe4" stroke-width="0.9" />
<line x1="141.50" y1="1326.00" x2="141.50" y2="1342.00" stroke="#e4efe4" stroke-width="0.9" />
<line x1="170.50" y1="1326.00" x2="170.50" y2="1342.00" stroke="#e4efe4" stroke-width="0.9" />
<line x1="199.50" y1="1326.00" x2="199.50" y2="1342.00" stroke="#e4efe4" stroke-width="0.9" />
<line x1="228.50" y1="1326.00" x2="228.50" y2="1342.00" stroke="#e4efe4" stroke-width="0.9" />
<line x1="321.50" y1="1326.00" x2="321.50" y2="1342.00" stroke="#e4efe4" stroke-width="0.9" />
<line x1="111.10" y1="1343.00" x2="111.10" y2="1691.02" stroke="#eeeff0" stroke-width="0.8" />
<line x1="113.70" y1="1343.00" x2="113.70" y2="1691.02" stroke="#eeeff0" stroke-width="0.8" />
<line x1="140.10" y1="1343.00" x2="140.10" y2="1691.02" stroke="#eeeff0" stroke-width="0.8" />
<line x1="142.70" y1="1343.00" x2="142.70" y2="1691.02" stroke="#eeeff0" stroke-width="0.8" />
<line x1="169.50" y1="1343.00" x2="169.50" y2="1691.02" stroke="#eeeff0" stroke-width="0.8" />
<line x1="172.10" y1="1343.00" x2="172.10" y2="1691.02" stroke="#eeeff0" stroke-width="0.8" />
<line x1="198.50" y1="1343.00" x2="198.50" y2="1691.02" stroke="#eeeff0" stroke-width="0.8" />
<line x1="201.10" y1="1343.00" x2="201.10" y2="1691.02" stroke="#eeeff0" stroke-width="0.8" />
<line x1="227.50" y1="1343.00" x2="227.50" y2="1691.02" stroke="#eeeff0" stroke-width="0.8" />
<line x1="31.80" y1="1357.37" x2="112.40" y2="1357.37" stroke="#eeeff0" stroke-width="0.8" />
<line x1="31.80" y1="1359.87" x2="112.40" y2="1359.87" stroke="#eeeff0" stroke-width="0.8" />
<line x1="112.40" y1="1357.37" x2="141.40" y2="1357.37" stroke="#eeeff0" stroke-width="0.8" />
<line x1="112.40" y1="1359.87" x2="141.40" y2="1359.87" stroke="#eeeff0" stroke-width="0.8" />
<line x1="141.40" y1="1357.37" x2="170.80" y2="1357.37" stroke="#eeeff0" stroke-width="0.8" />
<line x1="141.40" y1="1359.87" x2="170.80" y2="1359.87" stroke="#eeeff0" stroke-width="0.8" />
<line x1="170.80" y1="1357.37" x2="199.80" y2="1357.37" stroke="#eeeff0" stroke-width="0.8" />
<line x1="170.80" y1="1359.87" x2="199.80" y2="1359.87" stroke="#eeeff0" stroke-width="0.8" />
<line x1="199.80" y1="1357.37" x2="228.80" y2="1357.37" stroke="#eeeff0" stroke-width="0.8" />
<line x1="199.80" y1="1359.87" x2="228.80" y2="1359.87" stroke="#eeeff0" stroke-width="0.8" />
<line x1="31.80" y1="1373.99" x2="112.40" y2="1373.99" stroke="#eeeff0" stroke-width="0.8" />
<line x1="31.80" y1="1376.49" x2="112.40" y2="1376.49" stroke="#eeeff0" stroke-width="0.8" />
<line x1="112.40" y1="1373.99" x2="141.40" y2="1373.99" stroke="#eeeff0" stroke-width="0.8" />
<line x1="112.40" y1="1376.49" x2="141.40" y2="1376.49" stroke="#eeeff0" stroke-width="0.8" />
<line x1="141.40" y1="1373.99" x2="170.80" y2="1373.99" stroke="#eeeff0" stroke-width="0.8" />
<line x1="141.40" y1="1376.49" x2="170.80" y2="1376.49" stroke="#eeeff0" stroke-width="0.8" />
<line x1="170.80" y1="1373.99" x2="199.80" y2="1373.99" stroke="#eeeff0" stroke-width="0.8" />
<line x1="170.80" y1="1376.49" x2="199.80" y2="1376.49" stroke="#eeeff0" stroke-width="0.8" />
<line x1="199.80" y1="1373.99" x2="228.80" y2="1373.99" stroke="#eeeff0" stroke-width="0.8" />
<line x1="199.80" y1="1376.49" x2="228.80" y2="1376.49" stroke="#eeeff0" stroke-width="0.8" />
<line x1="31.80" y1="1390.61" x2="112.40" y2="1390.61" stroke="#eeeff0" stroke-width="0.8" />
<line x1="31.80" y1="1393.11" x2="112.40" y2="1393.11" stroke="#eeeff0" stroke-width="0.8" />
<line x1="112.40" y1="1390.61" x2="141.40" y2="1390.61" stroke="#eeeff0" stroke-width="0.8" />
<line x1="112.40" y1="1393.11" x2="141.40" y2="1393.11" stroke="#eeeff0" stroke-width="0.8" />
<line x1="141.40" y1="1390.61" x2="170.80" y2="1390.61" stroke="#eeeff0" stroke-width="0.8" />
<line x1="141.40" y1="1393.11" x2="170.80" y2="1393.11" stroke="#eeeff0" stroke-width="0.8" />
<line x1="170.80" y1="1390.61" x2="199.80" y2="1390.61" stroke="#eeeff0" stroke-width="0.8" />
<line x1="170.80" y1="1393.11" x2="199.80" y2="1393.11" stroke="#eeeff0" stroke-width="0.8" />
<line x1="199.80" y1="1390.61" x2="228.80" y2="1390.61" stroke="#eeeff0" stroke-width="0.8" />
<line x1="199.80" y1="1393.11" x2="228.80" y2="1393.11" stroke="#eeeff0" stroke-width="0.8" />
<line x1="31.80" y1="1407.23" x2="112.40" y2="1407.23" stroke="#eeeff0" stroke-width="0.8" />
<line x1="31.80" y1="1409.73" x2="112.40" y2="1409.73" stroke="#eeeff0" stroke-width="0.8" />
<line x1="112.40" y1="1407.23" x2="141.40" y2="1407.23" stroke="#eeeff0" stroke-width="0.8" />
<line x1="112.40" y1="1409.73" x2="141.40" y2="1409.73" stroke="#eeeff0" stroke-width="0.8" />
<line x1="141.40" y1="1407.23" x2="170.80" y2="1407.23" stroke="#eeeff0" stroke-width="0.8" />
<line x1="141.40" y1="1409.73" x2="170.80" y2="1409.73" stroke="#eeeff0" stroke-width="0.8" />
<line x1="170.80" y1="1407.23" x2="199.80" y2="1407.23" stroke="#eeeff0" stroke-width="0.8" />
<line x1="170.80" y1="1409.73" x2="199.80" y2="1409.73" stroke="#eeeff0" stroke-width="0.8" />
<line x1="199.80" y1="1407.23" x2="228.80" y2="1407.23" stroke="#eeeff0" stroke-width="0.8" />
<line x1="199.80" y1="1409.73" x2="228.80" y2="1409.73" stroke="#eeeff0" stroke-width="0.8" />
<line x1="31.80" y1="1423.85" x2="112.40" y2="1423.85" stroke="#eeeff0" stroke-width="0.8" />
<line x1="31.80" y1="1426.35" x2="112.40" y2="1426.35" stroke="#eeeff0" stroke-width="0.8" />
<line x1="112.40" y1="1423.85" x2="141.40" y2="1423.85" stroke="#eeeff0" stroke-width="0.8" />
<line x1="112.40" y1="1426.35" x2="141.40" y2="1426.35" stroke="#eeeff0" stroke-width="0.8" />
<line x1="141.40" y1="1423.85" x2="170.80" y2="1423.85" stroke="#eeeff0" stroke-width="0.8" />
<line x1="141.40" y1="1426.35" x2="170.80" y2="1426.35" stroke="#eeeff0" stroke-width="0.8" />
<line x1="170.80" y1="1423.85" x2="199.80" y2="1423.85" stroke="#eeeff0" stroke-width="0.8" />
<line x1="170.80" y1="1426.35" x2="199.80" y2="1426.35" stroke="#eeeff0" stroke-width="0.8" />
<line x1="199.80" y1="1423.85" x2="228.80" y2="1423.85" stroke="#eeeff0" stroke-width="0.8" />
<line x1="199.80" y1="1426.35" x2="228.80" y2="1426.35" stroke="#eeeff0" stroke-width="0.8" />
<line x1="31.80" y1="1440.47" x2="112.40" y2="1440.47" stroke="#eeeff0" stroke-width="0.8" />
<line x1="31.80" y1="1442.97" x2="112.40" y2="1442.97" stroke="#eeeff0" stroke-width="0.8" />
<line x1="112.40" y1="1440.47" x2="141.40" y2="1440.47" stroke="#eeeff0" stroke-width="0.8" />
<line x1="112.40" y1="1442.97" x2="141.40" y2="1442.97" stroke="#eeeff0" stroke-width="0.8" />
<line x1="141.40" y1="1440.47" x2="170.80" y2="1440.47" stroke="#eeeff0" stroke-width="0.8" />
<line x1="141.40" y1="1442.97" x2="170.80" y2="1442.97" stroke="#eeeff0" stroke-width="0.8" />
<line x1="170.80" y1="1440.47" x2="199.80" y2="1440.47" stroke="#eeeff0" stroke-width="0.8" />
<line x1="170.80" y1="1442.97" x2="199.80" y2="1442.97" stroke="#eeeff0" stroke-width="0.8" />
<line x1="199.80" y1="1440.47" x2="228.80" y2="1440.47" stroke="#eeeff0" stroke-width="0.8" />
<line x1="199.80" y1="1442.97" x2="228.80" y2="1442.97" stroke="#eeeff0" stroke-width="0.8" />
<line x1="31.80" y1="1457.09" x2="112.40" y2="1457.09" stroke="#eeeff0" stroke-width="0.8" />
<line x1="31.80" y1="1459.59" x2="112.40" y2="1459.59" stroke="#eeeff0" stroke-width="0.8" />
<line x1="112.40" y1="1457.09" x2="141.40" y2="1457.09" stroke="#eeeff0" stroke-width="0.8" />
<line x1="112.40" y1="1459.59" x2="141.40" y2="1459.59" stroke="#eeeff0" stroke-width="0.8" />
<line x1="141.40" y1="1457.09" x2="170.80" y2="1457.09" stroke="#eeeff0" stroke-width="0.8" />
<line x1="141.40" y1="1459.59" x2="170.80" y2="1459.59" stroke="#eeeff0" stroke-width="0.8" />
<line x1="170.80" y1="1457.09" x2="199.80" y2="1457.09" stroke="#eeeff0" stroke-width="0.8" />
<line x1="170.80" y1="1459.59" x2="199.80" y2="1459.59" stroke="#eeeff0" stroke-width="0.8" />
<line x1="199.80" y1="1457.09" x2="228.80" y2="1457.09" stroke="#eeeff0" stroke-width="0.8" />
<line x1="199.80" y1="1459.59" x2="228.80" y2="1459.59" stroke="#eeeff0" stroke-width="0.8" />
<line x1="31.80" y1="1473.71" x2="112.40" y2="1473.71" stroke="#eeeff0" stroke-width="0.8" />
<line x1="31.80" y1="1476.21" x2="112.40" y2="1476.21" stroke="#eeeff0" stroke-width="0.8" />
<line x1="112.40" y1="1473.71" x2="141.40" y2="1473.71" stroke="#eeeff0" stroke-width="0.8" />
<line x1="112.40" y1="1476.21" x2="141.40" y2="1476.21" stroke="#eeeff0" stroke-width="0.8" />
<line x1="141.40" y1="1473.71" x2="170.80" y2="1473.71" stroke="#eeeff0" stroke-width="0.8" />
<line x1="141.40" y1="1476.21" x2="170.80" y2="1476.21" stroke="#eeeff0" stroke-width="0.8" />
<line x1="170.80" y1="1473.71" x2="199.80" y2="1473.71" stroke="#eeeff0" stroke-width="0.8" />
<line x1="170.80" y1="1476.21" x2="199.80" y2="1476.21" stroke="#eeeff0" stroke-width="0.8" />
<line x1="199.80" y1="1473.71" x2="228.80" y2="1473.71" stroke="#eeeff0" stroke-width="0.8" />
<line x1="199.80" y1="1476.21" x2="228.80" y2="1476.21" stroke="#eeeff0" stroke-width="0.8" />
<line x1="31.80" y1="1490.33" x2="112.40" y2="1490.33" stroke="#eeeff0" stroke-width="0.8" />
<line x1="31.80" y1="1492.83" x2="112.40" y2="1492.83" stroke="#eeeff0" stroke-width="0.8" />
<line x1="112.40" y1="1490.33" x2="141.40" y2="1490.33" stroke="#eeeff0" stroke-width="0.8" />
<line x1="112.40" y1="1492.83" x2="141.40" y2="1492.83" stroke="#eeeff0" stroke-width="0.8" />
<line x1="141.40" y1="1490.33" x2="170.80" y2="1490.33" stroke="#eeeff0" stroke-width="0.8" />
<line x1="141.40" y1="1492.83" x2="170.80" y2="1492.83" stroke="#eeeff0" stroke-width="0.8" />
<line x1="170.80" y1="1490.33" x2="199.80" y2="1490.33" stroke="#eeeff0" stroke-width="0.8" />
<line x1="170.80" y1="1492.83" x2="199.80" y2="1492.83" stroke="#eeeff0" stroke-width="0.8" />
<line x1="199.80" y1="1490.33" x2="228.80" y2="1490.33" stroke="#eeeff0" stroke-width="0.8" />
<line x1="199.80" y1="1492.83" x2="228.80" y2="1492.83" stroke="#eeeff0" stroke-width="0.8" />
<line x1="31.80" y1="1506.95" x2="112.40" y2="1506.95" stroke="#eeeff0" stroke-width="0.8" />
<line x1="31.80" y1="1509.45" x2="112.40" y2="1509.45" stroke="#eeeff0" stroke-width="0.8" />
<line x1="112.40" y1="1506.95" x2="141.40" y2="1506.95" stroke="#eeeff0" stroke-width="0.8" />
<line x1="112.40" y1="1509.45" x2="141.40" y2="1509.45" stroke="#eeeff0" stroke-width="0.8" />
<line x1="141.40" y1="1506.95" x2="170.80" y2="1506.95" stroke="#eeeff0" stroke-width="0.8" />
<line x1="141.40" y1="1509.45" x2="170.80" y2="1509.45" stroke="#eeeff0" stroke-width="0.8" />
<line x1="170.80" y1="1506.95" x2="199.80" y2="1506.95" stroke="#eeeff0" stroke-width="0.8" />
<line x1="170.80" y1="1509.45" x2="199.80" y2="1509.45" stroke="#eeeff0" stroke-width="0.8" />
<line x1="199.80" y1="1506.95" x2="228.80" y2="1506.95" stroke="#eeeff0" stroke-width="0.8" />
<line x1="199.80" y1="1509.45" x2="228.80" y2="1509.45" stroke="#eeeff0" stroke-width="0.8" />
<line x1="31.80" y1="1523.57" x2="112.40" y2="1523.57" stroke="#eeeff0" stroke-width="0.8" />
<line x1="31.80" y1="1526.07" x2="112.40" y2="1526.07" stroke="#eeeff0" stroke-width="0.8" />
<line x1="112.40" y1="1523.57" x2="141.40" y2="1523.57" stroke="#eeeff0" stroke-width="0.8" />
<line x1="112.40" y1="1526.07" x2="141.40" y2="1526.07" stroke="#eeeff0" stroke-width="0.8" />
<line x1="141.40" y1="1523.57" x2="170.80" y2="1523.57" stroke="#eeeff0" stroke-width="0.8" />
<line x1="141.40" y1="1526.07" x2="170.80" y2="1526.07" stroke="#eeeff0" stroke-width="0.8" />
<line x1="170.80" y1="1523.57" x2="199.80" y2="1523.57" stroke="#eeeff0" stroke-width="0.8" />
<line x1="170.80" y1="1526.07" x2="199.80" y2="1526.07" stroke="#eeeff0" stroke-width="0.8" />
<line x1="199.80" y1="1523.57" x2="228.80" y2="1523.57" stroke="#eeeff0" stroke-width="0.8" />
<line x1="199.80" y1="1526.07" x2="228.80" y2="1526.07" stroke="#eeeff0" stroke-width="0.8" />
<line x1="31.80" y1="1540.19" x2="112.40" y2="1540.19" stroke="#eeeff0" stroke-width="0.8" />
<line x1="31.80" y1="1542.69" x2="112.40" y2="1542.69" stroke="#eeeff0" stroke-width="0.8" />
<line x1="112.40" y1="1540.19" x2="141.40" y2="1540.19" stroke="#eeeff0" stroke-width="0.8" />
<line x1="112.40" y1="1542.69" x2="141.40" y2="1542.69" stroke="#eeeff0" stroke-width="0.8" />
<line x1="141.40" y1="1540.19" x2="170.80" y2="1540.19" stroke="#eeeff0" stroke-width="0.8" />
<line x1="141.40" y1="1542.69" x2="170.80" y2="1542.69" stroke="#eeeff0" stroke-width="0.8" />
<line x1="170.80" y1="1540.19" x2="199.80" y2="1540.19" stroke="#eeeff0" stroke-width="0.8" />
<line x1="170.80" y1="1542.69" x2="199.80" y2="1542.69" stroke="#eeeff0" stroke-width="0.8" />
<line x1="199.80" y1="1540.19" x2="228.80" y2="1540.19" stroke="#eeeff0" stroke-width="0.8" />
<line x1="199.80" y1="1542.69" x2="228.80" y2="1542.69" stroke="#eeeff0" stroke-width="0.8" />
<line x1="31.80" y1="1556.81" x2="112.40" y2="1556.81" stroke="#eeeff0" stroke-width="0.8" />
<line x1="31.80" y1="1559.31" x2="112.40" y2="1559.31" stroke="#eeeff0" stroke-width="0.8" />
<line x1="112.40" y1="1556.81" x2="141.40" y2="1556.81" stroke="#eeeff0" stroke-width="0.8" />
<line x1="112.40" y1="1559.31" x2="141.40" y2="1559.31" stroke="#eeeff0" stroke-width="0.8" />
<line x1="141.40" y1="1556.81" x2="170.80" y2="1556.81" stroke="#eeeff0" stroke-width="0.8" />
<line x1="141.40" y1="1559.31" x2="170.80" y2="1559.31" stroke="#eeeff0" stroke-width="0.8" />
<line x1="170.80" y1="1556.81" x2="199.80" y2="1556.81" stroke="#eeeff0" stroke-width="0.8" />
<line x1="170.80" y1="1559.31" x2="199.80" y2="1559.31" stroke="#eeeff0" stroke-width="0.8" />
<line x1="199.80" y1="1556.81" x2="228.80" y2="1556.81" stroke="#eeeff0" stroke-width="0.8" />
<line x1="199.80" y1="1559.31" x2="228.80" y2="1559.31" stroke="#eeeff0" stroke-width="0.8" />
<line x1="31.80" y1="1573.43" x2="112.40" y2="1573.43" stroke="#eeeff0" stroke-width="0.8" />
<line x1="31.80" y1="1575.93" x2="112.40" y2="1575.93" stroke="#eeeff0" stroke-width="0.8" />
<line x1="112.40" y1="1573.43" x2="141.40" y2="1573.43" stroke="#eeeff0" stroke-width="0.8" />
<line x1="112.40" y1="1575.93" x2="141.40" y2="1575.93" stroke="#eeeff0" stroke-width="0.8" />
<line x1="141.40" y1="1573.43" x2="170.80" y2="1573.43" stroke="#eeeff0" stroke-width="0.8" />
<line x1="141.40" y1="1575.93" x2="170.80" y2="1575.93" stroke="#eeeff0" stroke-width="0.8" />
<line x1="170.80" y1="1573.43" x2="199.80" y2="1573.43" stroke="#eeeff0" stroke-width="0.8" />
<line x1="170.80" y1="1575.93" x2="199.80" y2="1575.93" stroke="#eeeff0" stroke-width="0.8" />
<line x1="199.80" y1="1573.43" x2="228.80" y2="1573.43" stroke="#eeeff0" stroke-width="0.8" />
<line x1="199.80" y1="1575.93" x2="228.80" y2="1575.93" stroke="#eeeff0" stroke-width="0.8" />
<line x1="31.80" y1="1590.05" x2="112.40" y2="1590.05" stroke="#eeeff0" stroke-width="0.8" />
<line x1="31.80" y1="1592.55" x2="112.40" y2="1592.55" stroke="#eeeff0" stroke-width="0.8" />
<line x1="112.40" y1="1590.05" x2="141.40" y2="1590.05" stroke="#eeeff0" stroke-width="0.8" />
<line x1="112.40" y1="1592.55" x2="141.40" y2="1592.55" stroke="#eeeff0" stroke-width="0.8" />
<line x1="141.40" y1="1590.05" x2="170.80" y2="1590.05" stroke="#eeeff0" stroke-width="0.8" />
<line x1="141.40" y1="1592.55" x2="170.80" y2="1592.55" stroke="#eeeff0" stroke-width="0.8" />
<line x1="170.80" y1="1590.05" x2="199.80" y2="1590.05" stroke="#eeeff0" stroke-width="0.8" />
<line x1="170.80" y1="1592.55" x2="199.80" y2="1592.55" stroke="#eeeff0" stroke-width="0.8" />
<line x1="199.80" y1="1590.05" x2="228.80" y2="1590.05" stroke="#eeeff0" stroke-width="0.8" />
<line x1="199.80" y1="1592.55" x2="228.80" y2="1592.55" stroke="#eeeff0" stroke-width="0.8" />
<line x1="31.80" y1="1606.67" x2="112.40" y2="1606.67" stroke="#eeeff0" stroke-width="0.8" />
<line x1="31.80" y1="1609.17" x2="112.40" y2="1609.17" stroke="#eeeff0" stroke-width="0.8" />
<line x1="112.40" y1="1606.67" x2="141.40" y2="1606.67" stroke="#eeeff0" stroke-width="0.8" />
<line x1="112.40" y1="1609.17" x2="141.40" y2="1609.17" stroke="#eeeff0" stroke-width="0.8" />
<line x1="141.40" y1="1606.67" x2="170.80" y2="1606.67" stroke="#eeeff0" stroke-width="0.8" />
<line x1="141.40" y1="1609.17" x2="170.80" y2="1609.17" stroke="#eeeff0" stroke-width="0.8" />
<line x1="170.80" y1="1606.67" x2="199.80" y2="1606.67" stroke="#eeeff0" stroke-width="0.8" />
<line x1="170.80" y1="1609.17" x2="199.80" y2="1609.17" stroke="#eeeff0" stroke-width="0.8" />
<line x1="199.80" y1="1606.67" x2="228.80" y2="1606.67" stroke="#eeeff0" stroke-width="0.8" />
<line x1="199.80" y1="1609.17" x2="228.80" y2="1609.17" stroke="#eeeff0" stroke-width="0.8" />
<line x1="31.80" y1="1623.29" x2="112.40" y2="1623.29" stroke="#eeeff0" stroke-width="0.8" />
<line x1="31.80" y1="1625.79" x2="112.40" y2="1625.79" stroke="#eeeff0" stroke-width="0.8" />
<line x1="112.40" y1="1623.29" x2="141.40" y2="1623.29" stroke="#eeeff0" stroke-width="0.8" />
<line x1="112.40" y1="1625.79" x2="141.40" y2="1625.79" stroke="#eeeff0" stroke-width="0.8" />
<line x1="141.40" y1="1623.29" x2="170.80" y2="1623.29" stroke="#eeeff0" stroke-width="0.8" />
<line x1="141.40" y1="1625.79" x2="170.80" y2="1625.79" stroke="#eeeff0" stroke-width="0.8" />
<line x1="170.80" y1="1623.29" x2="199.80" y2="1623.29" stroke="#eeeff0" stroke-width="0.8" />
<line x1="170.80" y1="1625.79" x2="199.80" y2="1625.79" stroke="#eeeff0" stroke-width="0.8" />
<line x1="199.80" y1="1623.29" x2="228.80" y2="1623.29" stroke="#eeeff0" stroke-width="0.8" />
<line x1="199.80" y1="1625.79" x2="228.80" y2="1625.79" stroke="#eeeff0" stroke-width="0.8" />
<line x1="31.80" y1="1639.91" x2="112.40" y2="1639.91" stroke="#eeeff0" stroke-width="0.8" />
<line x1="31.80" y1="1642.41" x2="112.40" y2="1642.41" stroke="#eeeff0" stroke-width="0.8" />
<line x1="112.40" y1="1639.91" x2="141.40" y2="1639.91" stroke="#eeeff0" stroke-width="0.8" />
<line x1="112.40" y1="1642.41" x2="141.40" y2="1642.41" stroke="#eeeff0" stroke-width="0.8" />
<line x1="141.40" y1="1639.91" x2="170.80" y2="1639.91" stroke="#eeeff0" stroke-width="0.8" />
<line x1="141.40" y1="1642.41" x2="170.80" y2="1642.41" stroke="#eeeff0" stroke-width="0.8" />
<line x1="170.80" y1="1639.91" x2="199.80" y2="1639.91" stroke="#eeeff0" stroke-width="0.8" />
<line x1="170.80" y1="1642.41" x2="199.80" y2="1642.41" stroke="#eeeff0" stroke-width="0.8" />
<line x1="199.80" y1="1639.91" x2="228.80" y2="1639.91" stroke="#eeeff0" stroke-width="0.8" />
<line x1="199.80" y1="1642.41" x2="228.80" y2="1642.41" stroke="#eeeff0" stroke-width="0.8" />
<line x1="31.80" y1="1656.53" x2="112.40" y2="1656.53" stroke="#eeeff0" stroke-width="0.8" />
<line x1="31.80" y1="1659.03" x2="112.40" y2="1659.03" stroke="#eeeff0" stroke-width="0.8" />
<line x1="112.40" y1="1656.53" x2="141.40" y2="1656.53" stroke="#eeeff0" stroke-width="0.8" />
<line x1="112.40" y1="1659.03" x2="141.40" y2="1659.03" stroke="#eeeff0" stroke-width="0.8" />
<line x1="141.40" y1="1656.53" x2="170.80" y2="1656.53" stroke="#eeeff0" stroke-width="0.8" />
<line x1="141.40" y1="1659.03" x2="170.80" y2="1659.03" stroke="#eeeff0" stroke-width="0.8" />
<line x1="170.80" y1="1656.53" x2="199.80" y2="1656.53" stroke="#eeeff0" stroke-width="0.8" />
<line x1="170.80" y1="1659.03" x2="199.80" y2="1659.03" stroke="#eeeff0" stroke-width="0.8" />
<line x1="199.80" y1="1656.53" x2="228.80" y2="1656.53" stroke="#eeeff0" stroke-width="0.8" />
<line x1="199.80" y1="1659.03" x2="228.80" y2="1659.03" stroke="#eeeff0" stroke-width="0.8" />
<line x1="31.80" y1="1673.15" x2="112.40" y2="1673.15" stroke="#eeeff0" stroke-width="0.8" />
<line x1="31.80" y1="1675.65" x2="112.40" y2="1675.65" stroke="#eeeff0" stroke-width="0.8" />
<line x1="112.40" y1="1673.15" x2="141.40" y2="1673.15" stroke="#eeeff0" stroke-width="0.8" />
<line x1="112.40" y1="1675.65" x2="141.40" y2="1675.65" stroke="#eeeff0" stroke-width="0.8" />
<line x1="141.40" y1="1673.15" x2="170.80" y2="1673.15" stroke="#eeeff0" stroke-width="0.8" />
<line x1="141.40" y1="1675.65" x2="170.80" y2="1675.65" stroke="#eeeff0" stroke-width="0.8" />
<line x1="170.80" y1="1673.15" x2="199.80" y2="1673.15" stroke="#eeeff0" stroke-width="0.8" />
<line x1="170.80" y1="1675.65" x2="199.80" y2="1675.65" stroke="#eeeff0" stroke-width="0.8" />
<line x1="199.80" y1="1673.15" x2="228.80" y2="1673.15" stroke="#eeeff0" stroke-width="0.8" />
<line x1="199.80" y1="1675.65" x2="228.80" y2="1675.65" stroke="#eeeff0" stroke-width="0.8" />
<line x1="31.80" y1="1358.62" x2="112.40" y2="1358.62" stroke="#464242" stroke-width="1.7" />
<line x1="112.40" y1="1358.62" x2="141.40" y2="1358.62" stroke="#464242" stroke-width="1.7" />
<line x1="141.40" y1="1358.62" x2="170.80" y2="1358.62" stroke="#464242" stroke-width="1.7" />
<line x1="170.80" y1="1358.62" x2="199.80" y2="1358.62" stroke="#464242" stroke-width="1.7" />
<line x1="199.80" y1="1358.62" x2="228.80" y2="1358.62" stroke="#464242" stroke-width="1.7" />
<line x1="31.80" y1="1375.24" x2="112.40" y2="1375.24" stroke="#464242" stroke-width="1.7" />
<line x1="112.40" y1="1375.24" x2="141.40" y2="1375.24" stroke="#464242" stroke-width="1.7" />
<line x1="141.40" y1="1375.24" x2="170.80" y2="1375.24" stroke="#464242" stroke-width="1.7" />
<line x1="170.80" y1="1375.24" x2="199.80" y2="1375.24" stroke="#464242" stroke-width="1.7" />
<line x1="199.80" y1="1375.24" x2="228.80" y2="1375.24" stroke="#464242" stroke-width="1.7" />
<line x1="31.80" y1="1391.86" x2="112.40" y2="1391.86" stroke="#464242" stroke-width="1.7" />
<line x1="112.40" y1="1391.86" x2="141.40" y2="1391.86" stroke="#464242" stroke-width="1.7" />
<line x1="141.40" y1="1391.86" x2="170.80" y2="1391.86" stroke="#464242" stroke-width="1.7" />
<line x1="170.80" y1="1391.86" x2="199.80" y2="1391.86" stroke="#464242" stroke-width="1.7" />
<line x1="199.80" y1="1391.86" x2="228.80" y2="1391.86" stroke="#464242" stroke-width="1.7" />
<line x1="31.80" y1="1408.48" x2="112.40" y2="1408.48" stroke="#464242" stroke-width="1.7" />
<line x1="112.40" y1="1408.48" x2="141.40" y2="1408.48" stroke="#464242" stroke-width="1.7" />
<line x1="141.40" y1="1408.48" x2="170.80" y2="1408.48" stroke="#464242" stroke-width="1.7" />
<line x1="170.80" y1="1408.48" x2="199.80" y2="1408.48" stroke="#464242" stroke-width="1.7" />
<line x1="199.80" y1="1408.48" x2="228.80" y2="1408.48" stroke="#464242" stroke-width="1.7" />
<line x1="31.80" y1="1425.10" x2="112.40" y2="1425.10" stroke="#464242" stroke-width="1.7" />
<line x1="112.40" y1="1425.10" x2="141.40" y2="1425.10" stroke="#464242" stroke-width="1.7" />
<line x1="141.40" y1="1425.10" x2="170.80" y2="1425.10" stroke="#464242" stroke-width="1.7" />
<line x1="170.80" y1="1425.10" x2="199.80" y2="1425.10" stroke="#464242" stroke-width="1.7" />
<line x1="199.80" y1="1425.10" x2="228.80" y2="1425.10" stroke="#464242" stroke-width="1.7" />
<line x1="31.80" y1="1441.72" x2="112.40" y2="1441.72" stroke="#464242" stroke-width="1.7" />
<line x1="112.40" y1="1441.72" x2="141.40" y2="1441.72" stroke="#464242" stroke-width="1.7" />
<line x1="141.40" y1="1441.72" x2="170.80" y2="1441.72" stroke="#464242" stroke-width="1.7" />
<line x1="170.80" y1="1441.72" x2="199.80" y2="1441.72" stroke="#464242" stroke-width="1.7" />
<line x1="199.80" y1="1441.72" x2="228.80" y2="1441.72" stroke="#464242" stroke-width="1.7" />
<line x1="31.80" y1="1458.34" x2="112.40" y2="1458.34" stroke="#464242" stroke-width="1.7" />
<line x1="112.40" y1="1458.34" x2="141.40" y2="1458.34" stroke="#464242" stroke-width="1.7" />
<line x1="141.40" y1="1458.34" x2="170.80" y2="1458.34" stroke="#464242" stroke-width="1.7" />
<line x1="170.80" y1="1458.34" x2="199.80" y2="1458.34" stroke="#464242" stroke-width="1.7" />
<line x1="199.80" y1="1458.34" x2="228.80" y2="1458.34" stroke="#464242" stroke-width="1.7" />
<line x1="31.80" y1="1474.96" x2="112.40" y2="1474.96" stroke="#464242" stroke-width="1.7" />
<line x1="112.40" y1="1474.96" x2="141.40" y2="1474.96" stroke="#464242" stroke-width="1.7" />
<line x1="141.40" y1="1474.96" x2="170.80" y2="1474.96" stroke="#464242" stroke-width="1.7" />
<line x1="170.80" y1="1474.96" x2="199.80" y2="1474.96" stroke="#464242" stroke-width="1.7" />
<line x1="199.80" y1="1474.96" x2="228.80" y2="1474.96" stroke="#464242" stroke-width="1.7" />
<line x1="31.80" y1="1491.58" x2="112.40" y2="1491.58" stroke="#464242" stroke-width="1.7" />
<line x1="112.40" y1="1491.58" x2="141.40" y2="1491.58" stroke="#464242" stroke-width="1.7" />
<line x1="141.40" y1="1491.58" x2="170.80" y2="1491.58" stroke="#464242" stroke-width="1.7" />
<line x1="170.80" y1="1491.58" x2="199.80" y2="1491.58" stroke="#464242" stroke-width="1.7" />
<line x1="199.80" y1="1491.58" x2="228.80" y2="1491.58" stroke="#464242" stroke-width="1.7" />
<line x1="31.80" y1="1508.20" x2="112.40" y2="1508.20" stroke="#464242" stroke-width="1.7" />
<line x1="112.40" y1="1508.20" x2="141.40" y2="1508.20" stroke="#464242" stroke-width="1.7" />
<line x1="141.40" y1="1508.20" x2="170.80" y2="1508.20" stroke="#464242" stroke-width="1.7" />
<line x1="170.80" y1="1508.20" x2="199.80" y2="1508.20" stroke="#464242" stroke-width="1.7" />
<line x1="199.80" y1="1508.20" x2="228.80" y2="1508.20" stroke="#464242" stroke-width="1.7" />
<line x1="31.80" y1="1524.82" x2="112.40" y2="1524.82" stroke="#464242" stroke-width="1.7" />
<line x1="112.40" y1="1524.82" x2="141.40" y2="1524.82" stroke="#464242" stroke-width="1.7" />
<line x1="141.40" y1="1524.82" x2="170.80" y2="1524.82" stroke="#464242" stroke-width="1.7" />
<line x1="170.80" y1="1524.82" x2="199.80" y2="1524.82" stroke="#464242" stroke-width="1.7" />
<line x1="199.80" y1="1524.82" x2="228.80" y2="1524.82" stroke="#464242" stroke-width="1.7" />
<line x1="31.80" y1="1541.44" x2="112.40" y2="1541.44" stroke="#464242" stroke-width="1.7" />
<line x1="112.40" y1="1541.44" x2="141.40" y2="1541.44" stroke="#464242" stroke-width="1.7" />
<line x1="141.40" y1="1541.44" x2="170.80" y2="1541.44" stroke="#464242" stroke-width="1.7" />
<line x1="170.80" y1="1541.44" x2="199.80" y2="1541.44" stroke="#464242" stroke-width="1.7" />
<line x1="199.80" y1="1541.44" x2="228.80" y2="1541.44" stroke="#464242" stroke-width="1.7" />
<line x1="31.80" y1="1558.06" x2="112.40" y2="1558.06" stroke="#464242" stroke-width="1.7" />
<line x1="112.40" y1="1558.06" x2="141.40" y2="1558.06" stroke="#464242" stroke-width="1.7" />
<line x1="141.40" y1="1558.06" x2="170.80" y2="1558.06" stroke="#464242" stroke-width="1.7" />
<line x1="170.80" y1="1558.06" x2="199.80" y2="1558.06" stroke="#464242" stroke-width="1.7" />
<line x1="199.80" y1="1558.06" x2="228.80" y2="1558.06" stroke="#464242" stroke-width="1.7" />
<line x1="31.80" y1="1574.68" x2="112.40" y2="1574.68" stroke="#464242" stroke-width="1.7" />
<line x1="112.40" y1="1574.68" x2="141.40" y2="1574.68" stroke="#464242" stroke-width="1.7" />
<line x1="141.40" y1="1574.68" x2="170.80" y2="1574.68" stroke="#464242" stroke-width="1.7" />
<line x1="170.80" y1="1574.68" x2="199.80" y2="1574.68" stroke="#464242" stroke-width="1.7" />
<line x1="199.80" y1="1574.68" x2="228.80" y2="1574.68" stroke="#464242" stroke-width="1.7" />
<line x1="228.80" y1="1574.68" x2="321.80" y2="1574.68" stroke="#464242" stroke-width="1.7" />
<line x1="31.80" y1="1591.30" x2="112.40" y2="1591.30" stroke="#464242" stroke-width="1.7" />
<line x1="112.40" y1="1591.30" x2="141.40" y2="1591.30" stroke="#464242" stroke-width="1.7" />
<line x1="141.40" y1="1591.30" x2="170.80" y2="1591.30" stroke="#464242" stroke-width="1.7" />
<line x1="170.80" y1="1591.30" x2="199.80" y2="1591.30" stroke="#464242" stroke-width="1.7" />
<line x1="199.80" y1="1591.30" x2="228.80" y2="1591.30" stroke="#464242" stroke-width="1.7" />
<line x1="31.80" y1="1607.92" x2="112.40" y2="1607.92" stroke="#464242" stroke-width="1.7" />
<line x1="112.40" y1="1607.92" x2="141.40" y2="1607.92" stroke="#464242" stroke-width="1.7" />
<line x1="141.40" y1="1607.92" x2="170.80" y2="1607.92" stroke="#464242" stroke-width="1.7" />
<line x1="170.80" y1="1607.92" x2="199.80" y2="1607.92" stroke="#464242" stroke-width="1.7" />
<line x1="199.80" y1="1607.92" x2="228.80" y2="1607.92" stroke="#464242" stroke-width="1.7" />
<line x1="31.80" y1="1624.54" x2="112.40" y2="1624.54" stroke="#464242" stroke-width="1.7" />
<line x1="112.40" y1="1624.54" x2="141.40" y2="1624.54" stroke="#464242" stroke-width="1.7" />
<line x1="141.40" y1="1624.54" x2="170.80" y2="1624.54" stroke="#464242" stroke-width="1.7" />
<line x1="170.80" y1="1624.54" x2="199.80" y2="1624.54" stroke="#464242" stroke-width="1.7" />
<line x1="199.80" y1="1624.54" x2="228.80" y2="1624.54" stroke="#464242" stroke-width="1.7" />
<line x1="228.80" y1="1624.54" x2="321.80" y2="1624.54" stroke="#464242" stroke-width="1.7" />
<line x1="31.80" y1="1641.16" x2="112.40" y2="1641.16" stroke="#464242" stroke-width="1.7" />
<line x1="112.40" y1="1641.16" x2="141.40" y2="1641.16" stroke="#464242" stroke-width="1.7" />
<line x1="141.40" y1="1641.16" x2="170.80" y2="1641.16" stroke="#464242" stroke-width="1.7" />
<line x1="170.80" y1="1641.16" x2="199.80" y2="1641.16" stroke="#464242" stroke-width="1.7" />
<line x1="199.80" y1="1641.16" x2="228.80" y2="1641.16" stroke="#464242" stroke-width="1.7" />
<line x1="31.80" y1="1657.78" x2="112.40" y2="1657.78" stroke="#464242" stroke-width="1.7" />
<line x1="112.40" y1="1657.78" x2="141.40" y2="1657.78" stroke="#464242" stroke-width="1.7" />
<line x1="141.40" y1="1657.78" x2="170.80" y2="1657.78" stroke="#464242" stroke-width="1.7" />
<line x1="170.80" y1="1657.78" x2="199.80" y2="1657.78" stroke="#464242" stroke-width="1.7" />
<line x1="199.80" y1="1657.78" x2="228.80" y2="1657.78" stroke="#464242" stroke-width="1.7" />
<line x1="31.80" y1="1674.40" x2="112.40" y2="1674.40" stroke="#464242" stroke-width="1.7" />
<line x1="112.40" y1="1674.40" x2="141.40" y2="1674.40" stroke="#464242" stroke-width="1.7" />
<line x1="141.40" y1="1674.40" x2="170.80" y2="1674.40" stroke="#464242" stroke-width="1.7" />
<line x1="170.80" y1="1674.40" x2="199.80" y2="1674.40" stroke="#464242" stroke-width="1.7" />
<line x1="199.80" y1="1674.40" x2="228.80" y2="1674.40" stroke="#464242" stroke-width="1.7" />
<line x1="112.40" y1="1342.00" x2="112.40" y2="1691.02" stroke="#464242" stroke-width="1.7" />
<line x1="141.40" y1="1342.00" x2="141.40" y2="1691.02" stroke="#464242" stroke-width="1.7" />
<line x1="170.80" y1="1342.00" x2="170.80" y2="1691.02" stroke="#464242" stroke-width="1.7" />
<line x1="199.80" y1="1342.00" x2="199.80" y2="1691.02" stroke="#464242" stroke-width="1.7" />
<line x1="228.80" y1="1342.00" x2="228.80" y2="1691.02" stroke="#464242" stroke-width="1.7" />
<line x1="321.80" y1="1342.00" x2="321.80" y2="1691.02" stroke="#464242" stroke-width="1.7" />
<line x1="31.80" y1="1342.00" x2="414.30" y2="1342.00" stroke="#3e3a3a" stroke-width="1.5" />
<rect x="31.80" y="1325.00" width="382.50" height="366.02" fill="none" stroke="#3e3a3a" stroke-width="1.4" />
<text x="0" y="0" transform="translate(40.60,1337.50) scale(1,1.08)" font-size="11.7" font-weight="bold" text-anchor="start" fill="#ffffff" stroke="#ffffff" stroke-width="0.22" >Code</text>
<text x="0" y="0" transform="translate(126.90,1337.50) scale(1,1.08)" font-size="11.7" font-weight="bold" text-anchor="middle" fill="#ffffff" stroke="#ffffff" stroke-width="0.22" >Ød</text>
<text x="0" y="0" transform="translate(156.10,1337.50) scale(1,1.08)" font-size="11.7" font-weight="bold" text-anchor="middle" fill="#ffffff" stroke="#ffffff" stroke-width="0.22" >Ød1</text>
<text x="0" y="0" transform="translate(185.30,1337.50) scale(1,1.08)" font-size="11.7" font-weight="bold" text-anchor="middle" fill="#ffffff" stroke="#ffffff" stroke-width="0.22" >L</text>
<text x="0" y="0" transform="translate(214.30,1337.50) scale(1,1.08)" font-size="11.7" font-weight="bold" text-anchor="middle" fill="#ffffff" stroke="#ffffff" stroke-width="0.22" >L1</text>
<text x="0" y="0" transform="translate(275.30,1337.50) scale(1,1.08)" font-size="11.7" font-weight="bold" text-anchor="middle" fill="#ffffff" stroke="#ffffff" stroke-width="0.22" >Material of rod</text>
<text x="0" y="0" transform="translate(368.05,1337.50) scale(1,1.08)" font-size="11.7" font-weight="bold" text-anchor="middle" fill="#ffffff" stroke="#ffffff" stroke-width="0.22" >Material of tip</text>
<text x="0" y="0" transform="translate(220.79,1339.60) scale(1,1.08)" font-size="18" font-weight="bold" text-anchor="start" fill="#e3262b" >*</text>
<text x="0" y="0" transform="translate(40.40,1354.31) scale(1,1.08)" font-size="11.7" font-weight="bold" text-anchor="start" fill="#151515" stroke="#151515" stroke-width="0.22" >ISQ-30-013</text>
<text x="0" y="0" transform="translate(126.90,1354.31) scale(1,1.08)" font-size="11.7" text-anchor="middle" fill="#222222" stroke="#222222" stroke-width="0.22" >0.5</text>
<text x="0" y="0" transform="translate(156.10,1354.31) scale(1,1.08)" font-size="11.7" text-anchor="middle" fill="#222222" stroke="#222222" stroke-width="0.22" >0.4</text>
<text x="0" y="0" transform="translate(185.30,1354.31) scale(1,1.08)" font-size="11.7" text-anchor="middle" fill="#222222" stroke="#222222" stroke-width="0.22" >21</text>
<text x="0" y="0" transform="translate(214.30,1354.31) scale(1,1.08)" font-size="11.7" text-anchor="middle" fill="#222222" stroke="#222222" stroke-width="0.22" >2</text>
<text x="0" y="0" transform="translate(40.40,1370.93) scale(1,1.08)" font-size="11.7" font-weight="bold" text-anchor="start" fill="#151515" stroke="#151515" stroke-width="0.22" >ISQ-30-017</text>
<text x="0" y="0" transform="translate(126.90,1370.93) scale(1,1.08)" font-size="11.7" text-anchor="middle" fill="#222222" stroke="#222222" stroke-width="0.22" >1.5</text>
<text x="0" y="0" transform="translate(156.10,1370.93) scale(1,1.08)" font-size="11.7" text-anchor="middle" fill="#222222" stroke="#222222" stroke-width="0.22" >1</text>
<text x="0" y="0" transform="translate(185.30,1370.93) scale(1,1.08)" font-size="11.7" text-anchor="middle" fill="#222222" stroke="#222222" stroke-width="0.22" >20</text>
<text x="0" y="0" transform="translate(214.30,1370.93) scale(1,1.08)" font-size="11.7" text-anchor="middle" fill="#222222" stroke="#222222" stroke-width="0.22" >12.5</text>
<text x="0" y="0" transform="translate(40.40,1387.55) scale(1,1.08)" font-size="11.7" font-weight="bold" text-anchor="start" fill="#151515" stroke="#151515" stroke-width="0.22" >ISQ-30-028</text>
<text x="0" y="0" transform="translate(126.90,1387.55) scale(1,1.08)" font-size="11.7" text-anchor="middle" fill="#222222" stroke="#222222" stroke-width="0.22" >1.5</text>
<text x="0" y="0" transform="translate(156.10,1387.55) scale(1,1.08)" font-size="11.7" text-anchor="middle" fill="#222222" stroke="#222222" stroke-width="0.22" >1</text>
<text x="0" y="0" transform="translate(185.30,1387.55) scale(1,1.08)" font-size="11.7" text-anchor="middle" fill="#222222" stroke="#222222" stroke-width="0.22" >30</text>
<text x="0" y="0" transform="translate(214.30,1387.55) scale(1,1.08)" font-size="11.7" text-anchor="middle" fill="#222222" stroke="#222222" stroke-width="0.22" >22.5</text>
<text x="0" y="0" transform="translate(40.40,1404.17) scale(1,1.08)" font-size="11.7" font-weight="bold" text-anchor="start" fill="#151515" stroke="#151515" stroke-width="0.22" >ISQ-30-031</text>
<text x="0" y="0" transform="translate(126.90,1404.17) scale(1,1.08)" font-size="11.7" text-anchor="middle" fill="#222222" stroke="#222222" stroke-width="0.22" >2</text>
<text x="0" y="0" transform="translate(156.10,1404.17) scale(1,1.08)" font-size="11.7" text-anchor="middle" fill="#222222" stroke="#222222" stroke-width="0.22" >1.5</text>
<text x="0" y="0" transform="translate(185.30,1404.17) scale(1,1.08)" font-size="11.7" text-anchor="middle" fill="#222222" stroke="#222222" stroke-width="0.22" >30</text>
<text x="0" y="0" transform="translate(214.30,1404.17) scale(1,1.08)" font-size="11.7" text-anchor="middle" fill="#222222" stroke="#222222" stroke-width="0.22" >22.5</text>
<text x="0" y="0" transform="translate(40.40,1420.79) scale(1,1.08)" font-size="11.7" font-weight="bold" text-anchor="start" fill="#151515" stroke="#151515" stroke-width="0.22" >ISQ-30-040</text>
<text x="0" y="0" transform="translate(126.90,1420.79) scale(1,1.08)" font-size="11.7" text-anchor="middle" fill="#222222" stroke="#222222" stroke-width="0.22" >2</text>
<text x="0" y="0" transform="translate(156.10,1420.79) scale(1,1.08)" font-size="11.7" text-anchor="middle" fill="#222222" stroke="#222222" stroke-width="0.22" >1.5</text>
<text x="0" y="0" transform="translate(185.30,1420.79) scale(1,1.08)" font-size="11.7" text-anchor="middle" fill="#222222" stroke="#222222" stroke-width="0.22" >40</text>
<text x="0" y="0" transform="translate(214.30,1420.79) scale(1,1.08)" font-size="11.7" text-anchor="middle" fill="#222222" stroke="#222222" stroke-width="0.22" >32.5</text>
<text x="0" y="0" transform="translate(40.40,1437.41) scale(1,1.08)" font-size="11.7" font-weight="bold" text-anchor="start" fill="#151515" stroke="#151515" stroke-width="0.22" >ISQ-30-020</text>
<text x="0" y="0" transform="translate(126.90,1437.41) scale(1,1.08)" font-size="11.7" text-anchor="middle" fill="#222222" stroke="#222222" stroke-width="0.22" >2.5</text>
<text x="0" y="0" transform="translate(156.10,1437.41) scale(1,1.08)" font-size="11.7" text-anchor="middle" fill="#222222" stroke="#222222" stroke-width="0.22" >2</text>
<text x="0" y="0" transform="translate(185.30,1437.41) scale(1,1.08)" font-size="11.7" text-anchor="middle" fill="#222222" stroke="#222222" stroke-width="0.22" >20</text>
<text x="0" y="0" transform="translate(214.30,1437.41) scale(1,1.08)" font-size="11.7" text-anchor="middle" fill="#222222" stroke="#222222" stroke-width="0.22" >12.5</text>
<text x="0" y="0" transform="translate(40.40,1454.03) scale(1,1.08)" font-size="11.7" font-weight="bold" text-anchor="start" fill="#151515" stroke="#151515" stroke-width="0.22" >ISQ-30-043</text>
<text x="0" y="0" transform="translate(126.90,1454.03) scale(1,1.08)" font-size="11.7" text-anchor="middle" fill="#222222" stroke="#222222" stroke-width="0.22" >2.5</text>
<text x="0" y="0" transform="translate(156.10,1454.03) scale(1,1.08)" font-size="11.7" text-anchor="middle" fill="#222222" stroke="#222222" stroke-width="0.22" >2</text>
<text x="0" y="0" transform="translate(185.30,1454.03) scale(1,1.08)" font-size="11.7" text-anchor="middle" fill="#222222" stroke="#222222" stroke-width="0.22" >40</text>
<text x="0" y="0" transform="translate(214.30,1454.03) scale(1,1.08)" font-size="11.7" text-anchor="middle" fill="#222222" stroke="#222222" stroke-width="0.22" >32.5</text>
<text x="0" y="0" transform="translate(40.40,1470.65) scale(1,1.08)" font-size="11.7" font-weight="bold" text-anchor="start" fill="#151515" stroke="#151515" stroke-width="0.22" >ISQ-30-034</text>
<text x="0" y="0" transform="translate(126.90,1470.65) scale(1,1.08)" font-size="11.7" text-anchor="middle" fill="#222222" stroke="#222222" stroke-width="0.22" >2.5</text>
<text x="0" y="0" transform="translate(156.10,1470.65) scale(1,1.08)" font-size="11.7" text-anchor="middle" fill="#222222" stroke="#222222" stroke-width="0.22" >2</text>
<text x="0" y="0" transform="translate(185.30,1470.65) scale(1,1.08)" font-size="11.7" text-anchor="middle" fill="#222222" stroke="#222222" stroke-width="0.22" >30</text>
<text x="0" y="0" transform="translate(214.30,1470.65) scale(1,1.08)" font-size="11.7" text-anchor="middle" fill="#222222" stroke="#222222" stroke-width="0.22" >22.5</text>
<text x="0" y="0" transform="translate(40.40,1487.27) scale(1,1.08)" font-size="11.7" font-weight="bold" text-anchor="start" fill="#151515" stroke="#151515" stroke-width="0.22" >ISQ-30-046</text>
<text x="0" y="0" transform="translate(126.90,1487.27) scale(1,1.08)" font-size="11.7" text-anchor="middle" fill="#222222" stroke="#222222" stroke-width="0.22" >3</text>
<text x="0" y="0" transform="translate(156.10,1487.27) scale(1,1.08)" font-size="11.7" text-anchor="middle" fill="#222222" stroke="#222222" stroke-width="0.22" >2</text>
<text x="0" y="0" transform="translate(185.30,1487.27) scale(1,1.08)" font-size="11.7" text-anchor="middle" fill="#222222" stroke="#222222" stroke-width="0.22" >40</text>
<text x="0" y="0" transform="translate(214.30,1487.27) scale(1,1.08)" font-size="11.7" text-anchor="middle" fill="#222222" stroke="#222222" stroke-width="0.22" >32.5</text>
<text x="0" y="0" transform="translate(40.40,1503.89) scale(1,1.08)" font-size="11.7" font-weight="bold" text-anchor="start" fill="#151515" stroke="#151515" stroke-width="0.22" >ISQ-30-055</text>
<text x="0" y="0" transform="translate(126.90,1503.89) scale(1,1.08)" font-size="11.7" text-anchor="middle" fill="#222222" stroke="#222222" stroke-width="0.22" >3</text>
<text x="0" y="0" transform="translate(156.10,1503.89) scale(1,1.08)" font-size="11.7" text-anchor="middle" fill="#222222" stroke="#222222" stroke-width="0.22" >2</text>
<text x="0" y="0" transform="translate(185.30,1503.89) scale(1,1.08)" font-size="11.7" text-anchor="middle" fill="#222222" stroke="#222222" stroke-width="0.22" >50</text>
<text x="0" y="0" transform="translate(214.30,1503.89) scale(1,1.08)" font-size="11.7" text-anchor="middle" fill="#222222" stroke="#222222" stroke-width="0.22" >42.5</text>
<text x="0" y="0" transform="translate(40.40,1520.51) scale(1,1.08)" font-size="11.7" font-weight="bold" text-anchor="start" fill="#151515" stroke="#151515" stroke-width="0.22" >ISQ-30-049</text>
<text x="0" y="0" transform="translate(126.90,1520.51) scale(1,1.08)" font-size="11.7" text-anchor="middle" fill="#222222" stroke="#222222" stroke-width="0.22" >4</text>
<text x="0" y="0" transform="translate(156.10,1520.51) scale(1,1.08)" font-size="11.7" text-anchor="middle" fill="#222222" stroke="#222222" stroke-width="0.22" >2</text>
<text x="0" y="0" transform="translate(185.30,1520.51) scale(1,1.08)" font-size="11.7" text-anchor="middle" fill="#222222" stroke="#222222" stroke-width="0.22" >40</text>
<text x="0" y="0" transform="translate(214.30,1520.51) scale(1,1.08)" font-size="11.7" text-anchor="middle" fill="#222222" stroke="#222222" stroke-width="0.22" >36</text>
<text x="0" y="0" transform="translate(40.40,1537.13) scale(1,1.08)" font-size="11.7" font-weight="bold" text-anchor="start" fill="#151515" stroke="#151515" stroke-width="0.22" >ISQ-30-058</text>
<text x="0" y="0" transform="translate(126.90,1537.13) scale(1,1.08)" font-size="11.7" text-anchor="middle" fill="#222222" stroke="#222222" stroke-width="0.22" >4</text>
<text x="0" y="0" transform="translate(156.10,1537.13) scale(1,1.08)" font-size="11.7" text-anchor="middle" fill="#222222" stroke="#222222" stroke-width="0.22" >2</text>
<text x="0" y="0" transform="translate(185.30,1537.13) scale(1,1.08)" font-size="11.7" text-anchor="middle" fill="#222222" stroke="#222222" stroke-width="0.22" >50</text>
<text x="0" y="0" transform="translate(214.30,1537.13) scale(1,1.08)" font-size="11.7" text-anchor="middle" fill="#222222" stroke="#222222" stroke-width="0.22" >46</text>
<text x="0" y="0" transform="translate(40.40,1553.75) scale(1,1.08)" font-size="11.7" font-weight="bold" text-anchor="start" fill="#151515" stroke="#151515" stroke-width="0.22" >ISQ-30-037</text>
<text x="0" y="0" transform="translate(126.90,1553.75) scale(1,1.08)" font-size="11.7" text-anchor="middle" fill="#222222" stroke="#222222" stroke-width="0.22" >3</text>
<text x="0" y="0" transform="translate(156.10,1553.75) scale(1,1.08)" font-size="11.7" text-anchor="middle" fill="#222222" stroke="#222222" stroke-width="0.22" >2</text>
<text x="0" y="0" transform="translate(185.30,1553.75) scale(1,1.08)" font-size="11.7" text-anchor="middle" fill="#222222" stroke="#222222" stroke-width="0.22" >30</text>
<text x="0" y="0" transform="translate(214.30,1553.75) scale(1,1.08)" font-size="11.7" text-anchor="middle" fill="#222222" stroke="#222222" stroke-width="0.22" >22.5</text>
<text x="0" y="0" transform="translate(40.40,1570.37) scale(1,1.08)" font-size="11.7" font-weight="bold" text-anchor="start" fill="#151515" stroke="#151515" stroke-width="0.22" >ISQ-30-052</text>
<text x="0" y="0" transform="translate(126.90,1570.37) scale(1,1.08)" font-size="11.7" text-anchor="middle" fill="#222222" stroke="#222222" stroke-width="0.22" >5</text>
<text x="0" y="0" transform="translate(156.10,1570.37) scale(1,1.08)" font-size="11.7" text-anchor="middle" fill="#222222" stroke="#222222" stroke-width="0.22" >2.5</text>
<text x="0" y="0" transform="translate(185.30,1570.37) scale(1,1.08)" font-size="11.7" text-anchor="middle" fill="#222222" stroke="#222222" stroke-width="0.22" >40</text>
<text x="0" y="0" transform="translate(214.30,1570.37) scale(1,1.08)" font-size="11.7" text-anchor="middle" fill="#222222" stroke="#222222" stroke-width="0.22" >40</text>
<text x="0" y="0" transform="translate(40.40,1586.99) scale(1,1.08)" font-size="11.7" font-weight="bold" text-anchor="start" fill="#151515" stroke="#151515" stroke-width="0.22" >ISQ-30-066</text>
<text x="0" y="0" transform="translate(126.90,1586.99) scale(1,1.08)" font-size="11.7" text-anchor="middle" fill="#222222" stroke="#222222" stroke-width="0.22" >3</text>
<text x="0" y="0" transform="translate(156.10,1586.99) scale(1,1.08)" font-size="11.7" text-anchor="middle" fill="#222222" stroke="#222222" stroke-width="0.22" >2</text>
<text x="0" y="0" transform="translate(185.30,1586.99) scale(1,1.08)" font-size="11.7" text-anchor="middle" fill="#222222" stroke="#222222" stroke-width="0.22" >50</text>
<text x="0" y="0" transform="translate(214.30,1586.99) scale(1,1.08)" font-size="11.7" text-anchor="middle" fill="#222222" stroke="#222222" stroke-width="0.22" >42.5</text>
<text x="0" y="0" transform="translate(40.40,1603.61) scale(1,1.08)" font-size="11.7" font-weight="bold" text-anchor="start" fill="#151515" stroke="#151515" stroke-width="0.22" >ISQ-30-070</text>
<text x="0" y="0" transform="translate(126.90,1603.61) scale(1,1.08)" font-size="11.7" text-anchor="middle" fill="#222222" stroke="#222222" stroke-width="0.22" >4</text>
<text x="0" y="0" transform="translate(156.10,1603.61) scale(1,1.08)" font-size="11.7" text-anchor="middle" fill="#222222" stroke="#222222" stroke-width="0.22" >2</text>
<text x="0" y="0" transform="translate(185.30,1603.61) scale(1,1.08)" font-size="11.7" text-anchor="middle" fill="#222222" stroke="#222222" stroke-width="0.22" >50</text>
<text x="0" y="0" transform="translate(214.30,1603.61) scale(1,1.08)" font-size="11.7" text-anchor="middle" fill="#222222" stroke="#222222" stroke-width="0.22" >46</text>
<text x="0" y="0" transform="translate(40.40,1620.23) scale(1,1.08)" font-size="11.7" font-weight="bold" text-anchor="start" fill="#151515" stroke="#151515" stroke-width="0.22" >ISQ-30-075</text>
<text x="0" y="0" transform="translate(126.90,1620.23) scale(1,1.08)" font-size="11.7" text-anchor="middle" fill="#222222" stroke="#222222" stroke-width="0.22" >5</text>
<text x="0" y="0" transform="translate(156.10,1620.23) scale(1,1.08)" font-size="11.7" text-anchor="middle" fill="#222222" stroke="#222222" stroke-width="0.22" >2</text>
<text x="0" y="0" transform="translate(185.30,1620.23) scale(1,1.08)" font-size="11.7" text-anchor="middle" fill="#222222" stroke="#222222" stroke-width="0.22" >50</text>
<text x="0" y="0" transform="translate(214.30,1620.23) scale(1,1.08)" font-size="11.7" text-anchor="middle" fill="#222222" stroke="#222222" stroke-width="0.22" >50</text>
<text x="0" y="0" transform="translate(40.40,1636.85) scale(1,1.08)" font-size="11.7" font-weight="bold" text-anchor="start" fill="#151515" stroke="#151515" stroke-width="0.22" >ISQ-30-080</text>
<text x="0" y="0" transform="translate(126.90,1636.85) scale(1,1.08)" font-size="11.7" text-anchor="middle" fill="#222222" stroke="#222222" stroke-width="0.22" >6</text>
<text x="0" y="0" transform="translate(156.10,1636.85) scale(1,1.08)" font-size="11.7" text-anchor="middle" fill="#222222" stroke="#222222" stroke-width="0.22" >4</text>
<text x="0" y="0" transform="translate(185.30,1636.85) scale(1,1.08)" font-size="11.7" text-anchor="middle" fill="#222222" stroke="#222222" stroke-width="0.22" >75</text>
<text x="0" y="0" transform="translate(214.30,1636.85) scale(1,1.08)" font-size="11.7" text-anchor="middle" fill="#222222" stroke="#222222" stroke-width="0.22" >75</text>
<text x="0" y="0" transform="translate(40.40,1653.47) scale(1,1.08)" font-size="11.7" font-weight="bold" text-anchor="start" fill="#151515" stroke="#151515" stroke-width="0.22" >ISQ-30-085</text>
<text x="0" y="0" transform="translate(126.90,1653.47) scale(1,1.08)" font-size="11.7" text-anchor="middle" fill="#222222" stroke="#222222" stroke-width="0.22" >6</text>
<text x="0" y="0" transform="translate(156.10,1653.47) scale(1,1.08)" font-size="11.7" text-anchor="middle" fill="#222222" stroke="#222222" stroke-width="0.22" >4</text>
<text x="0" y="0" transform="translate(185.30,1653.47) scale(1,1.08)" font-size="11.7" text-anchor="middle" fill="#222222" stroke="#222222" stroke-width="0.22" >100</text>
<text x="0" y="0" transform="translate(214.30,1653.47) scale(1,1.08)" font-size="11.7" text-anchor="middle" fill="#222222" stroke="#222222" stroke-width="0.22" >100</text>
<text x="0" y="0" transform="translate(40.40,1670.09) scale(1,1.08)" font-size="11.7" font-weight="bold" text-anchor="start" fill="#151515" stroke="#151515" stroke-width="0.22" >ISQ-30-082</text>
<text x="0" y="0" transform="translate(126.90,1670.09) scale(1,1.08)" font-size="11.7" text-anchor="middle" fill="#222222" stroke="#222222" stroke-width="0.22" >8</text>
<text x="0" y="0" transform="translate(156.10,1670.09) scale(1,1.08)" font-size="11.7" text-anchor="middle" fill="#222222" stroke="#222222" stroke-width="0.22" >4</text>
<text x="0" y="0" transform="translate(185.30,1670.09) scale(1,1.08)" font-size="11.7" text-anchor="middle" fill="#222222" stroke="#222222" stroke-width="0.22" >75</text>
<text x="0" y="0" transform="translate(214.30,1670.09) scale(1,1.08)" font-size="11.7" text-anchor="middle" fill="#222222" stroke="#222222" stroke-width="0.22" >75</text>
<text x="0" y="0" transform="translate(40.40,1686.71) scale(1,1.08)" font-size="11.7" font-weight="bold" text-anchor="start" fill="#151515" stroke="#151515" stroke-width="0.22" >ISQ-30-088</text>
<text x="0" y="0" transform="translate(126.90,1686.71) scale(1,1.08)" font-size="11.7" text-anchor="middle" fill="#222222" stroke="#222222" stroke-width="0.22" >8</text>
<text x="0" y="0" transform="translate(156.10,1686.71) scale(1,1.08)" font-size="11.7" text-anchor="middle" fill="#222222" stroke="#222222" stroke-width="0.22" >4</text>
<text x="0" y="0" transform="translate(185.30,1686.71) scale(1,1.08)" font-size="11.7" text-anchor="middle" fill="#222222" stroke="#222222" stroke-width="0.22" >100</text>
<text x="0" y="0" transform="translate(214.30,1686.71) scale(1,1.08)" font-size="11.7" text-anchor="middle" fill="#222222" stroke="#222222" stroke-width="0.22" >100</text>
<text x="0" y="0" transform="translate(275.30,1461.94) scale(1,1.08)" font-size="11.7" text-anchor="middle" fill="#222222" stroke="#222222" stroke-width="0.22" >carbide</text>
<text x="0" y="0" transform="translate(275.30,1603.21) scale(1,1.08)" font-size="11.7" text-anchor="middle" fill="#222222" stroke="#222222" stroke-width="0.22" >ceramic</text>
<text x="0" y="0" transform="translate(275.30,1661.38) scale(1,1.08)" font-size="11.7" text-anchor="middle" fill="#222222" stroke="#222222" stroke-width="0.22" >carbon fibre</text>
<text x="0" y="0" transform="translate(368.05,1520.11) scale(1,1.08)" font-size="11.7" text-anchor="middle" fill="#222222" stroke="#222222" stroke-width="0.22" >ruby</text>
<text x="0" y="0" transform="translate(32.40,1319.90) scale(1,1.08)" font-size="11.7" font-weight="bold" text-anchor="start" fill="#1a1a1a" stroke="#1a1a1a" stroke-width="0.22" >M3 styli</text>
<text x="0" y="0" transform="translate(414.90,1319.90) scale(1,1.08)" font-size="11.7" font-weight="bold" text-anchor="end" fill="#1a1a1a" stroke="#1a1a1a" stroke-width="0.22" >(mm)</text>
<text x="0" y="0" transform="translate(31.90,1706.80) scale(1,1.08)" font-size="17.5" font-weight="bold" text-anchor="start" fill="#e3262b" >*</text>
<text x="0" y="0" transform="translate(39.90,1708.50) scale(1,1.08)" font-size="11.7" text-anchor="start" fill="#222" stroke="#222" stroke-width="0.22" >L1 is the effective working length, which is the distance from the center</text>
<text x="0" y="0" transform="translate(39.90,1722.40) scale(1,1.08)" font-size="11.7" text-anchor="start" fill="#222" stroke="#222" stroke-width="0.22" >of the tip to the section of the stem with the same diameter as the tip.</text>
<rect x="505.40" y="1327.20" width="220.90" height="15.50" fill="#3d853f" stroke="none" stroke-width="1.0" />
<rect x="505.40" y="1342.70" width="220.90" height="17.20" fill="#d4d5d7" stroke="none" stroke-width="1.0" />
<line x1="585.50" y1="1328.20" x2="585.50" y2="1342.70" stroke="#e4efe4" stroke-width="0.9" />
<line x1="640.50" y1="1328.20" x2="640.50" y2="1342.70" stroke="#e4efe4" stroke-width="0.9" />
<line x1="584.10" y1="1343.70" x2="584.10" y2="1359.90" stroke="#eeeff0" stroke-width="0.8" />
<line x1="586.70" y1="1343.70" x2="586.70" y2="1359.90" stroke="#eeeff0" stroke-width="0.8" />
<line x1="639.60" y1="1343.70" x2="639.60" y2="1359.90" stroke="#eeeff0" stroke-width="0.8" />
<line x1="642.20" y1="1343.70" x2="642.20" y2="1359.90" stroke="#eeeff0" stroke-width="0.8" />
<line x1="585.40" y1="1342.70" x2="585.40" y2="1359.90" stroke="#464242" stroke-width="1.7" />
<line x1="640.90" y1="1342.70" x2="640.90" y2="1359.90" stroke="#464242" stroke-width="1.7" />
<line x1="505.40" y1="1342.70" x2="726.30" y2="1342.70" stroke="#3e3a3a" stroke-width="1.5" />
<rect x="505.40" y="1327.20" width="220.90" height="32.70" fill="none" stroke="#3e3a3a" stroke-width="1.4" />
<text x="0" y="0" transform="translate(514.20,1338.95) scale(1,1.08)" font-size="11.7" font-weight="bold" text-anchor="start" fill="#ffffff" stroke="#ffffff" stroke-width="0.22" >Code</text>
<text x="0" y="0" transform="translate(613.15,1338.95) scale(1,1.08)" font-size="11.7" font-weight="bold" text-anchor="middle" fill="#ffffff" stroke="#ffffff" stroke-width="0.22" >Remark</text>
<text x="0" y="0" transform="translate(683.60,1338.95) scale(1,1.08)" font-size="11.7" font-weight="bold" text-anchor="middle" fill="#ffffff" stroke="#ffffff" stroke-width="0.22" >Material</text>
<text x="0" y="0" transform="translate(514.00,1355.30) scale(1,1.08)" font-size="11.7" font-weight="bold" text-anchor="start" fill="#151515" stroke="#151515" stroke-width="0.22" >ISQ-10-070</text>
<text x="0" y="0" transform="translate(613.15,1355.30) scale(1,1.08)" font-size="11.7" text-anchor="middle" fill="#222222" stroke="#222222" stroke-width="0.22" >5-way</text>
<text x="0" y="0" transform="translate(683.60,1355.30) scale(1,1.08)" font-size="11.7" text-anchor="middle" fill="#222222" stroke="#222222" stroke-width="0.22" >stainless steel</text>
<text x="0" y="0" transform="translate(506.00,1321.30) scale(1,1.08)" font-size="11.7" font-weight="bold" text-anchor="start" fill="#1a1a1a" stroke="#1a1a1a" stroke-width="0.22" >M3 multi way bases of styli</text>
<rect x="435.60" y="1762.30" width="382.50" height="17.00" fill="#3d853f" stroke="none" stroke-width="1.0" />
<rect x="435.60" y="1779.30" width="382.50" height="265.92" fill="#d4d5d7" stroke="none" stroke-width="1.0" />
<line x1="516.50" y1="1763.30" x2="516.50" y2="1779.30" stroke="#e4efe4" stroke-width="0.9" />
<line x1="545.50" y1="1763.30" x2="545.50" y2="1779.30" stroke="#e4efe4" stroke-width="0.9" />
<line x1="574.50" y1="1763.30" x2="574.50" y2="1779.30" stroke="#e4efe4" stroke-width="0.9" />
<line x1="603.50" y1="1763.30" x2="603.50" y2="1779.30" stroke="#e4efe4" stroke-width="0.9" />
<line x1="632.50" y1="1763.30" x2="632.50" y2="1779.30" stroke="#e4efe4" stroke-width="0.9" />
<line x1="725.50" y1="1763.30" x2="725.50" y2="1779.30" stroke="#e4efe4" stroke-width="0.9" />
<line x1="514.90" y1="1780.30" x2="514.90" y2="2045.22" stroke="#eeeff0" stroke-width="0.8" />
<line x1="517.50" y1="1780.30" x2="517.50" y2="2045.22" stroke="#eeeff0" stroke-width="0.8" />
<line x1="543.90" y1="1780.30" x2="543.90" y2="2045.22" stroke="#eeeff0" stroke-width="0.8" />
<line x1="546.50" y1="1780.30" x2="546.50" y2="2045.22" stroke="#eeeff0" stroke-width="0.8" />
<line x1="573.30" y1="1780.30" x2="573.30" y2="2045.22" stroke="#eeeff0" stroke-width="0.8" />
<line x1="575.90" y1="1780.30" x2="575.90" y2="2045.22" stroke="#eeeff0" stroke-width="0.8" />
<line x1="602.30" y1="1780.30" x2="602.30" y2="2045.22" stroke="#eeeff0" stroke-width="0.8" />
<line x1="604.90" y1="1780.30" x2="604.90" y2="2045.22" stroke="#eeeff0" stroke-width="0.8" />
<line x1="631.30" y1="1780.30" x2="631.30" y2="2045.22" stroke="#eeeff0" stroke-width="0.8" />
<line x1="435.60" y1="1794.67" x2="516.20" y2="1794.67" stroke="#eeeff0" stroke-width="0.8" />
<line x1="435.60" y1="1797.17" x2="516.20" y2="1797.17" stroke="#eeeff0" stroke-width="0.8" />
<line x1="516.20" y1="1794.67" x2="545.20" y2="1794.67" stroke="#eeeff0" stroke-width="0.8" />
<line x1="516.20" y1="1797.17" x2="545.20" y2="1797.17" stroke="#eeeff0" stroke-width="0.8" />
<line x1="545.20" y1="1794.67" x2="574.60" y2="1794.67" stroke="#eeeff0" stroke-width="0.8" />
<line x1="545.20" y1="1797.17" x2="574.60" y2="1797.17" stroke="#eeeff0" stroke-width="0.8" />
<line x1="574.60" y1="1794.67" x2="603.60" y2="1794.67" stroke="#eeeff0" stroke-width="0.8" />
<line x1="574.60" y1="1797.17" x2="603.60" y2="1797.17" stroke="#eeeff0" stroke-width="0.8" />
<line x1="603.60" y1="1794.67" x2="632.60" y2="1794.67" stroke="#eeeff0" stroke-width="0.8" />
<line x1="603.60" y1="1797.17" x2="632.60" y2="1797.17" stroke="#eeeff0" stroke-width="0.8" />
<line x1="435.60" y1="1811.29" x2="516.20" y2="1811.29" stroke="#eeeff0" stroke-width="0.8" />
<line x1="435.60" y1="1813.79" x2="516.20" y2="1813.79" stroke="#eeeff0" stroke-width="0.8" />
<line x1="516.20" y1="1811.29" x2="545.20" y2="1811.29" stroke="#eeeff0" stroke-width="0.8" />
<line x1="516.20" y1="1813.79" x2="545.20" y2="1813.79" stroke="#eeeff0" stroke-width="0.8" />
<line x1="545.20" y1="1811.29" x2="574.60" y2="1811.29" stroke="#eeeff0" stroke-width="0.8" />
<line x1="545.20" y1="1813.79" x2="574.60" y2="1813.79" stroke="#eeeff0" stroke-width="0.8" />
<line x1="574.60" y1="1811.29" x2="603.60" y2="1811.29" stroke="#eeeff0" stroke-width="0.8" />
<line x1="574.60" y1="1813.79" x2="603.60" y2="1813.79" stroke="#eeeff0" stroke-width="0.8" />
<line x1="603.60" y1="1811.29" x2="632.60" y2="1811.29" stroke="#eeeff0" stroke-width="0.8" />
<line x1="603.60" y1="1813.79" x2="632.60" y2="1813.79" stroke="#eeeff0" stroke-width="0.8" />
<line x1="435.60" y1="1827.91" x2="516.20" y2="1827.91" stroke="#eeeff0" stroke-width="0.8" />
<line x1="435.60" y1="1830.41" x2="516.20" y2="1830.41" stroke="#eeeff0" stroke-width="0.8" />
<line x1="516.20" y1="1827.91" x2="545.20" y2="1827.91" stroke="#eeeff0" stroke-width="0.8" />
<line x1="516.20" y1="1830.41" x2="545.20" y2="1830.41" stroke="#eeeff0" stroke-width="0.8" />
<line x1="545.20" y1="1827.91" x2="574.60" y2="1827.91" stroke="#eeeff0" stroke-width="0.8" />
<line x1="545.20" y1="1830.41" x2="574.60" y2="1830.41" stroke="#eeeff0" stroke-width="0.8" />
<line x1="574.60" y1="1827.91" x2="603.60" y2="1827.91" stroke="#eeeff0" stroke-width="0.8" />
<line x1="574.60" y1="1830.41" x2="603.60" y2="1830.41" stroke="#eeeff0" stroke-width="0.8" />
<line x1="603.60" y1="1827.91" x2="632.60" y2="1827.91" stroke="#eeeff0" stroke-width="0.8" />
<line x1="603.60" y1="1830.41" x2="632.60" y2="1830.41" stroke="#eeeff0" stroke-width="0.8" />
<line x1="435.60" y1="1844.53" x2="516.20" y2="1844.53" stroke="#eeeff0" stroke-width="0.8" />
<line x1="435.60" y1="1847.03" x2="516.20" y2="1847.03" stroke="#eeeff0" stroke-width="0.8" />
<line x1="516.20" y1="1844.53" x2="545.20" y2="1844.53" stroke="#eeeff0" stroke-width="0.8" />
<line x1="516.20" y1="1847.03" x2="545.20" y2="1847.03" stroke="#eeeff0" stroke-width="0.8" />
<line x1="545.20" y1="1844.53" x2="574.60" y2="1844.53" stroke="#eeeff0" stroke-width="0.8" />
<line x1="545.20" y1="1847.03" x2="574.60" y2="1847.03" stroke="#eeeff0" stroke-width="0.8" />
<line x1="574.60" y1="1844.53" x2="603.60" y2="1844.53" stroke="#eeeff0" stroke-width="0.8" />
<line x1="574.60" y1="1847.03" x2="603.60" y2="1847.03" stroke="#eeeff0" stroke-width="0.8" />
<line x1="603.60" y1="1844.53" x2="632.60" y2="1844.53" stroke="#eeeff0" stroke-width="0.8" />
<line x1="603.60" y1="1847.03" x2="632.60" y2="1847.03" stroke="#eeeff0" stroke-width="0.8" />
<line x1="435.60" y1="1861.15" x2="516.20" y2="1861.15" stroke="#eeeff0" stroke-width="0.8" />
<line x1="435.60" y1="1863.65" x2="516.20" y2="1863.65" stroke="#eeeff0" stroke-width="0.8" />
<line x1="516.20" y1="1861.15" x2="545.20" y2="1861.15" stroke="#eeeff0" stroke-width="0.8" />
<line x1="516.20" y1="1863.65" x2="545.20" y2="1863.65" stroke="#eeeff0" stroke-width="0.8" />
<line x1="545.20" y1="1861.15" x2="574.60" y2="1861.15" stroke="#eeeff0" stroke-width="0.8" />
<line x1="545.20" y1="1863.65" x2="574.60" y2="1863.65" stroke="#eeeff0" stroke-width="0.8" />
<line x1="574.60" y1="1861.15" x2="603.60" y2="1861.15" stroke="#eeeff0" stroke-width="0.8" />
<line x1="574.60" y1="1863.65" x2="603.60" y2="1863.65" stroke="#eeeff0" stroke-width="0.8" />
<line x1="603.60" y1="1861.15" x2="632.60" y2="1861.15" stroke="#eeeff0" stroke-width="0.8" />
<line x1="603.60" y1="1863.65" x2="632.60" y2="1863.65" stroke="#eeeff0" stroke-width="0.8" />
<line x1="435.60" y1="1877.77" x2="516.20" y2="1877.77" stroke="#eeeff0" stroke-width="0.8" />
<line x1="435.60" y1="1880.27" x2="516.20" y2="1880.27" stroke="#eeeff0" stroke-width="0.8" />
<line x1="516.20" y1="1877.77" x2="545.20" y2="1877.77" stroke="#eeeff0" stroke-width="0.8" />
<line x1="516.20" y1="1880.27" x2="545.20" y2="1880.27" stroke="#eeeff0" stroke-width="0.8" />
<line x1="545.20" y1="1877.77" x2="574.60" y2="1877.77" stroke="#eeeff0" stroke-width="0.8" />
<line x1="545.20" y1="1880.27" x2="574.60" y2="1880.27" stroke="#eeeff0" stroke-width="0.8" />
<line x1="574.60" y1="1877.77" x2="603.60" y2="1877.77" stroke="#eeeff0" stroke-width="0.8" />
<line x1="574.60" y1="1880.27" x2="603.60" y2="1880.27" stroke="#eeeff0" stroke-width="0.8" />
<line x1="603.60" y1="1877.77" x2="632.60" y2="1877.77" stroke="#eeeff0" stroke-width="0.8" />
<line x1="603.60" y1="1880.27" x2="632.60" y2="1880.27" stroke="#eeeff0" stroke-width="0.8" />
<line x1="435.60" y1="1894.39" x2="516.20" y2="1894.39" stroke="#eeeff0" stroke-width="0.8" />
<line x1="435.60" y1="1896.89" x2="516.20" y2="1896.89" stroke="#eeeff0" stroke-width="0.8" />
<line x1="516.20" y1="1894.39" x2="545.20" y2="1894.39" stroke="#eeeff0" stroke-width="0.8" />
<line x1="516.20" y1="1896.89" x2="545.20" y2="1896.89" stroke="#eeeff0" stroke-width="0.8" />
<line x1="545.20" y1="1894.39" x2="574.60" y2="1894.39" stroke="#eeeff0" stroke-width="0.8" />
<line x1="545.20" y1="1896.89" x2="574.60" y2="1896.89" stroke="#eeeff0" stroke-width="0.8" />
<line x1="574.60" y1="1894.39" x2="603.60" y2="1894.39" stroke="#eeeff0" stroke-width="0.8" />
<line x1="574.60" y1="1896.89" x2="603.60" y2="1896.89" stroke="#eeeff0" stroke-width="0.8" />
<line x1="603.60" y1="1894.39" x2="632.60" y2="1894.39" stroke="#eeeff0" stroke-width="0.8" />
<line x1="603.60" y1="1896.89" x2="632.60" y2="1896.89" stroke="#eeeff0" stroke-width="0.8" />
<line x1="435.60" y1="1911.01" x2="516.20" y2="1911.01" stroke="#eeeff0" stroke-width="0.8" />
<line x1="435.60" y1="1913.51" x2="516.20" y2="1913.51" stroke="#eeeff0" stroke-width="0.8" />
<line x1="516.20" y1="1911.01" x2="545.20" y2="1911.01" stroke="#eeeff0" stroke-width="0.8" />
<line x1="516.20" y1="1913.51" x2="545.20" y2="1913.51" stroke="#eeeff0" stroke-width="0.8" />
<line x1="545.20" y1="1911.01" x2="574.60" y2="1911.01" stroke="#eeeff0" stroke-width="0.8" />
<line x1="545.20" y1="1913.51" x2="574.60" y2="1913.51" stroke="#eeeff0" stroke-width="0.8" />
<line x1="574.60" y1="1911.01" x2="603.60" y2="1911.01" stroke="#eeeff0" stroke-width="0.8" />
<line x1="574.60" y1="1913.51" x2="603.60" y2="1913.51" stroke="#eeeff0" stroke-width="0.8" />
<line x1="603.60" y1="1911.01" x2="632.60" y2="1911.01" stroke="#eeeff0" stroke-width="0.8" />
<line x1="603.60" y1="1913.51" x2="632.60" y2="1913.51" stroke="#eeeff0" stroke-width="0.8" />
<line x1="435.60" y1="1927.63" x2="516.20" y2="1927.63" stroke="#eeeff0" stroke-width="0.8" />
<line x1="435.60" y1="1930.13" x2="516.20" y2="1930.13" stroke="#eeeff0" stroke-width="0.8" />
<line x1="516.20" y1="1927.63" x2="545.20" y2="1927.63" stroke="#eeeff0" stroke-width="0.8" />
<line x1="516.20" y1="1930.13" x2="545.20" y2="1930.13" stroke="#eeeff0" stroke-width="0.8" />
<line x1="545.20" y1="1927.63" x2="574.60" y2="1927.63" stroke="#eeeff0" stroke-width="0.8" />
<line x1="545.20" y1="1930.13" x2="574.60" y2="1930.13" stroke="#eeeff0" stroke-width="0.8" />
<line x1="574.60" y1="1927.63" x2="603.60" y2="1927.63" stroke="#eeeff0" stroke-width="0.8" />
<line x1="574.60" y1="1930.13" x2="603.60" y2="1930.13" stroke="#eeeff0" stroke-width="0.8" />
<line x1="603.60" y1="1927.63" x2="632.60" y2="1927.63" stroke="#eeeff0" stroke-width="0.8" />
<line x1="603.60" y1="1930.13" x2="632.60" y2="1930.13" stroke="#eeeff0" stroke-width="0.8" />
<line x1="435.60" y1="1944.25" x2="516.20" y2="1944.25" stroke="#eeeff0" stroke-width="0.8" />
<line x1="435.60" y1="1946.75" x2="516.20" y2="1946.75" stroke="#eeeff0" stroke-width="0.8" />
<line x1="516.20" y1="1944.25" x2="545.20" y2="1944.25" stroke="#eeeff0" stroke-width="0.8" />
<line x1="516.20" y1="1946.75" x2="545.20" y2="1946.75" stroke="#eeeff0" stroke-width="0.8" />
<line x1="545.20" y1="1944.25" x2="574.60" y2="1944.25" stroke="#eeeff0" stroke-width="0.8" />
<line x1="545.20" y1="1946.75" x2="574.60" y2="1946.75" stroke="#eeeff0" stroke-width="0.8" />
<line x1="574.60" y1="1944.25" x2="603.60" y2="1944.25" stroke="#eeeff0" stroke-width="0.8" />
<line x1="574.60" y1="1946.75" x2="603.60" y2="1946.75" stroke="#eeeff0" stroke-width="0.8" />
<line x1="603.60" y1="1944.25" x2="632.60" y2="1944.25" stroke="#eeeff0" stroke-width="0.8" />
<line x1="603.60" y1="1946.75" x2="632.60" y2="1946.75" stroke="#eeeff0" stroke-width="0.8" />
<line x1="435.60" y1="1960.87" x2="516.20" y2="1960.87" stroke="#eeeff0" stroke-width="0.8" />
<line x1="435.60" y1="1963.37" x2="516.20" y2="1963.37" stroke="#eeeff0" stroke-width="0.8" />
<line x1="516.20" y1="1960.87" x2="545.20" y2="1960.87" stroke="#eeeff0" stroke-width="0.8" />
<line x1="516.20" y1="1963.37" x2="545.20" y2="1963.37" stroke="#eeeff0" stroke-width="0.8" />
<line x1="545.20" y1="1960.87" x2="574.60" y2="1960.87" stroke="#eeeff0" stroke-width="0.8" />
<line x1="545.20" y1="1963.37" x2="574.60" y2="1963.37" stroke="#eeeff0" stroke-width="0.8" />
<line x1="574.60" y1="1960.87" x2="603.60" y2="1960.87" stroke="#eeeff0" stroke-width="0.8" />
<line x1="574.60" y1="1963.37" x2="603.60" y2="1963.37" stroke="#eeeff0" stroke-width="0.8" />
<line x1="603.60" y1="1960.87" x2="632.60" y2="1960.87" stroke="#eeeff0" stroke-width="0.8" />
<line x1="603.60" y1="1963.37" x2="632.60" y2="1963.37" stroke="#eeeff0" stroke-width="0.8" />
<line x1="435.60" y1="1977.49" x2="516.20" y2="1977.49" stroke="#eeeff0" stroke-width="0.8" />
<line x1="435.60" y1="1979.99" x2="516.20" y2="1979.99" stroke="#eeeff0" stroke-width="0.8" />
<line x1="516.20" y1="1977.49" x2="545.20" y2="1977.49" stroke="#eeeff0" stroke-width="0.8" />
<line x1="516.20" y1="1979.99" x2="545.20" y2="1979.99" stroke="#eeeff0" stroke-width="0.8" />
<line x1="545.20" y1="1977.49" x2="574.60" y2="1977.49" stroke="#eeeff0" stroke-width="0.8" />
<line x1="545.20" y1="1979.99" x2="574.60" y2="1979.99" stroke="#eeeff0" stroke-width="0.8" />
<line x1="574.60" y1="1977.49" x2="603.60" y2="1977.49" stroke="#eeeff0" stroke-width="0.8" />
<line x1="574.60" y1="1979.99" x2="603.60" y2="1979.99" stroke="#eeeff0" stroke-width="0.8" />
<line x1="603.60" y1="1977.49" x2="632.60" y2="1977.49" stroke="#eeeff0" stroke-width="0.8" />
<line x1="603.60" y1="1979.99" x2="632.60" y2="1979.99" stroke="#eeeff0" stroke-width="0.8" />
<line x1="435.60" y1="1994.11" x2="516.20" y2="1994.11" stroke="#eeeff0" stroke-width="0.8" />
<line x1="435.60" y1="1996.61" x2="516.20" y2="1996.61" stroke="#eeeff0" stroke-width="0.8" />
<line x1="516.20" y1="1994.11" x2="545.20" y2="1994.11" stroke="#eeeff0" stroke-width="0.8" />
<line x1="516.20" y1="1996.61" x2="545.20" y2="1996.61" stroke="#eeeff0" stroke-width="0.8" />
<line x1="545.20" y1="1994.11" x2="574.60" y2="1994.11" stroke="#eeeff0" stroke-width="0.8" />
<line x1="545.20" y1="1996.61" x2="574.60" y2="1996.61" stroke="#eeeff0" stroke-width="0.8" />
<line x1="574.60" y1="1994.11" x2="603.60" y2="1994.11" stroke="#eeeff0" stroke-width="0.8" />
<line x1="574.60" y1="1996.61" x2="603.60" y2="1996.61" stroke="#eeeff0" stroke-width="0.8" />
<line x1="603.60" y1="1994.11" x2="632.60" y2="1994.11" stroke="#eeeff0" stroke-width="0.8" />
<line x1="603.60" y1="1996.61" x2="632.60" y2="1996.61" stroke="#eeeff0" stroke-width="0.8" />
<line x1="435.60" y1="2010.73" x2="516.20" y2="2010.73" stroke="#eeeff0" stroke-width="0.8" />
<line x1="435.60" y1="2013.23" x2="516.20" y2="2013.23" stroke="#eeeff0" stroke-width="0.8" />
<line x1="516.20" y1="2010.73" x2="545.20" y2="2010.73" stroke="#eeeff0" stroke-width="0.8" />
<line x1="516.20" y1="2013.23" x2="545.20" y2="2013.23" stroke="#eeeff0" stroke-width="0.8" />
<line x1="545.20" y1="2010.73" x2="574.60" y2="2010.73" stroke="#eeeff0" stroke-width="0.8" />
<line x1="545.20" y1="2013.23" x2="574.60" y2="2013.23" stroke="#eeeff0" stroke-width="0.8" />
<line x1="574.60" y1="2010.73" x2="603.60" y2="2010.73" stroke="#eeeff0" stroke-width="0.8" />
<line x1="574.60" y1="2013.23" x2="603.60" y2="2013.23" stroke="#eeeff0" stroke-width="0.8" />
<line x1="603.60" y1="2010.73" x2="632.60" y2="2010.73" stroke="#eeeff0" stroke-width="0.8" />
<line x1="603.60" y1="2013.23" x2="632.60" y2="2013.23" stroke="#eeeff0" stroke-width="0.8" />
<line x1="435.60" y1="2027.35" x2="516.20" y2="2027.35" stroke="#eeeff0" stroke-width="0.8" />
<line x1="435.60" y1="2029.85" x2="516.20" y2="2029.85" stroke="#eeeff0" stroke-width="0.8" />
<line x1="516.20" y1="2027.35" x2="545.20" y2="2027.35" stroke="#eeeff0" stroke-width="0.8" />
<line x1="516.20" y1="2029.85" x2="545.20" y2="2029.85" stroke="#eeeff0" stroke-width="0.8" />
<line x1="545.20" y1="2027.35" x2="574.60" y2="2027.35" stroke="#eeeff0" stroke-width="0.8" />
<line x1="545.20" y1="2029.85" x2="574.60" y2="2029.85" stroke="#eeeff0" stroke-width="0.8" />
<line x1="574.60" y1="2027.35" x2="603.60" y2="2027.35" stroke="#eeeff0" stroke-width="0.8" />
<line x1="574.60" y1="2029.85" x2="603.60" y2="2029.85" stroke="#eeeff0" stroke-width="0.8" />
<line x1="603.60" y1="2027.35" x2="632.60" y2="2027.35" stroke="#eeeff0" stroke-width="0.8" />
<line x1="603.60" y1="2029.85" x2="632.60" y2="2029.85" stroke="#eeeff0" stroke-width="0.8" />
<line x1="435.60" y1="1795.92" x2="516.20" y2="1795.92" stroke="#464242" stroke-width="1.7" />
<line x1="516.20" y1="1795.92" x2="545.20" y2="1795.92" stroke="#464242" stroke-width="1.7" />
<line x1="545.20" y1="1795.92" x2="574.60" y2="1795.92" stroke="#464242" stroke-width="1.7" />
<line x1="574.60" y1="1795.92" x2="603.60" y2="1795.92" stroke="#464242" stroke-width="1.7" />
<line x1="603.60" y1="1795.92" x2="632.60" y2="1795.92" stroke="#464242" stroke-width="1.7" />
<line x1="435.60" y1="1812.54" x2="516.20" y2="1812.54" stroke="#464242" stroke-width="1.7" />
<line x1="516.20" y1="1812.54" x2="545.20" y2="1812.54" stroke="#464242" stroke-width="1.7" />
<line x1="545.20" y1="1812.54" x2="574.60" y2="1812.54" stroke="#464242" stroke-width="1.7" />
<line x1="574.60" y1="1812.54" x2="603.60" y2="1812.54" stroke="#464242" stroke-width="1.7" />
<line x1="603.60" y1="1812.54" x2="632.60" y2="1812.54" stroke="#464242" stroke-width="1.7" />
<line x1="435.60" y1="1829.16" x2="516.20" y2="1829.16" stroke="#464242" stroke-width="1.7" />
<line x1="516.20" y1="1829.16" x2="545.20" y2="1829.16" stroke="#464242" stroke-width="1.7" />
<line x1="545.20" y1="1829.16" x2="574.60" y2="1829.16" stroke="#464242" stroke-width="1.7" />
<line x1="574.60" y1="1829.16" x2="603.60" y2="1829.16" stroke="#464242" stroke-width="1.7" />
<line x1="603.60" y1="1829.16" x2="632.60" y2="1829.16" stroke="#464242" stroke-width="1.7" />
<line x1="632.60" y1="1829.16" x2="725.60" y2="1829.16" stroke="#464242" stroke-width="1.7" />
<line x1="435.60" y1="1845.78" x2="516.20" y2="1845.78" stroke="#464242" stroke-width="1.7" />
<line x1="516.20" y1="1845.78" x2="545.20" y2="1845.78" stroke="#464242" stroke-width="1.7" />
<line x1="545.20" y1="1845.78" x2="574.60" y2="1845.78" stroke="#464242" stroke-width="1.7" />
<line x1="574.60" y1="1845.78" x2="603.60" y2="1845.78" stroke="#464242" stroke-width="1.7" />
<line x1="603.60" y1="1845.78" x2="632.60" y2="1845.78" stroke="#464242" stroke-width="1.7" />
<line x1="435.60" y1="1862.40" x2="516.20" y2="1862.40" stroke="#464242" stroke-width="1.7" />
<line x1="516.20" y1="1862.40" x2="545.20" y2="1862.40" stroke="#464242" stroke-width="1.7" />
<line x1="545.20" y1="1862.40" x2="574.60" y2="1862.40" stroke="#464242" stroke-width="1.7" />
<line x1="574.60" y1="1862.40" x2="603.60" y2="1862.40" stroke="#464242" stroke-width="1.7" />
<line x1="603.60" y1="1862.40" x2="632.60" y2="1862.40" stroke="#464242" stroke-width="1.7" />
<line x1="435.60" y1="1879.02" x2="516.20" y2="1879.02" stroke="#464242" stroke-width="1.7" />
<line x1="516.20" y1="1879.02" x2="545.20" y2="1879.02" stroke="#464242" stroke-width="1.7" />
<line x1="545.20" y1="1879.02" x2="574.60" y2="1879.02" stroke="#464242" stroke-width="1.7" />
<line x1="574.60" y1="1879.02" x2="603.60" y2="1879.02" stroke="#464242" stroke-width="1.7" />
<line x1="603.60" y1="1879.02" x2="632.60" y2="1879.02" stroke="#464242" stroke-width="1.7" />
<line x1="435.60" y1="1895.64" x2="516.20" y2="1895.64" stroke="#464242" stroke-width="1.7" />
<line x1="516.20" y1="1895.64" x2="545.20" y2="1895.64" stroke="#464242" stroke-width="1.7" />
<line x1="545.20" y1="1895.64" x2="574.60" y2="1895.64" stroke="#464242" stroke-width="1.7" />
<line x1="574.60" y1="1895.64" x2="603.60" y2="1895.64" stroke="#464242" stroke-width="1.7" />
<line x1="603.60" y1="1895.64" x2="632.60" y2="1895.64" stroke="#464242" stroke-width="1.7" />
<line x1="435.60" y1="1912.26" x2="516.20" y2="1912.26" stroke="#464242" stroke-width="1.7" />
<line x1="516.20" y1="1912.26" x2="545.20" y2="1912.26" stroke="#464242" stroke-width="1.7" />
<line x1="545.20" y1="1912.26" x2="574.60" y2="1912.26" stroke="#464242" stroke-width="1.7" />
<line x1="574.60" y1="1912.26" x2="603.60" y2="1912.26" stroke="#464242" stroke-width="1.7" />
<line x1="603.60" y1="1912.26" x2="632.60" y2="1912.26" stroke="#464242" stroke-width="1.7" />
<line x1="435.60" y1="1928.88" x2="516.20" y2="1928.88" stroke="#464242" stroke-width="1.7" />
<line x1="516.20" y1="1928.88" x2="545.20" y2="1928.88" stroke="#464242" stroke-width="1.7" />
<line x1="545.20" y1="1928.88" x2="574.60" y2="1928.88" stroke="#464242" stroke-width="1.7" />
<line x1="574.60" y1="1928.88" x2="603.60" y2="1928.88" stroke="#464242" stroke-width="1.7" />
<line x1="603.60" y1="1928.88" x2="632.60" y2="1928.88" stroke="#464242" stroke-width="1.7" />
<line x1="435.60" y1="1945.50" x2="516.20" y2="1945.50" stroke="#464242" stroke-width="1.7" />
<line x1="516.20" y1="1945.50" x2="545.20" y2="1945.50" stroke="#464242" stroke-width="1.7" />
<line x1="545.20" y1="1945.50" x2="574.60" y2="1945.50" stroke="#464242" stroke-width="1.7" />
<line x1="574.60" y1="1945.50" x2="603.60" y2="1945.50" stroke="#464242" stroke-width="1.7" />
<line x1="603.60" y1="1945.50" x2="632.60" y2="1945.50" stroke="#464242" stroke-width="1.7" />
<line x1="632.60" y1="1945.50" x2="725.60" y2="1945.50" stroke="#464242" stroke-width="1.7" />
<line x1="435.60" y1="1962.12" x2="516.20" y2="1962.12" stroke="#464242" stroke-width="1.7" />
<line x1="516.20" y1="1962.12" x2="545.20" y2="1962.12" stroke="#464242" stroke-width="1.7" />
<line x1="545.20" y1="1962.12" x2="574.60" y2="1962.12" stroke="#464242" stroke-width="1.7" />
<line x1="574.60" y1="1962.12" x2="603.60" y2="1962.12" stroke="#464242" stroke-width="1.7" />
<line x1="603.60" y1="1962.12" x2="632.60" y2="1962.12" stroke="#464242" stroke-width="1.7" />
<line x1="435.60" y1="1978.74" x2="516.20" y2="1978.74" stroke="#464242" stroke-width="1.7" />
<line x1="516.20" y1="1978.74" x2="545.20" y2="1978.74" stroke="#464242" stroke-width="1.7" />
<line x1="545.20" y1="1978.74" x2="574.60" y2="1978.74" stroke="#464242" stroke-width="1.7" />
<line x1="574.60" y1="1978.74" x2="603.60" y2="1978.74" stroke="#464242" stroke-width="1.7" />
<line x1="603.60" y1="1978.74" x2="632.60" y2="1978.74" stroke="#464242" stroke-width="1.7" />
<line x1="435.60" y1="1995.36" x2="516.20" y2="1995.36" stroke="#464242" stroke-width="1.7" />
<line x1="516.20" y1="1995.36" x2="545.20" y2="1995.36" stroke="#464242" stroke-width="1.7" />
<line x1="545.20" y1="1995.36" x2="574.60" y2="1995.36" stroke="#464242" stroke-width="1.7" />
<line x1="574.60" y1="1995.36" x2="603.60" y2="1995.36" stroke="#464242" stroke-width="1.7" />
<line x1="603.60" y1="1995.36" x2="632.60" y2="1995.36" stroke="#464242" stroke-width="1.7" />
<line x1="435.60" y1="2011.98" x2="516.20" y2="2011.98" stroke="#464242" stroke-width="1.7" />
<line x1="516.20" y1="2011.98" x2="545.20" y2="2011.98" stroke="#464242" stroke-width="1.7" />
<line x1="545.20" y1="2011.98" x2="574.60" y2="2011.98" stroke="#464242" stroke-width="1.7" />
<line x1="574.60" y1="2011.98" x2="603.60" y2="2011.98" stroke="#464242" stroke-width="1.7" />
<line x1="603.60" y1="2011.98" x2="632.60" y2="2011.98" stroke="#464242" stroke-width="1.7" />
<line x1="435.60" y1="2028.60" x2="516.20" y2="2028.60" stroke="#464242" stroke-width="1.7" />
<line x1="516.20" y1="2028.60" x2="545.20" y2="2028.60" stroke="#464242" stroke-width="1.7" />
<line x1="545.20" y1="2028.60" x2="574.60" y2="2028.60" stroke="#464242" stroke-width="1.7" />
<line x1="574.60" y1="2028.60" x2="603.60" y2="2028.60" stroke="#464242" stroke-width="1.7" />
<line x1="603.60" y1="2028.60" x2="632.60" y2="2028.60" stroke="#464242" stroke-width="1.7" />
<line x1="516.20" y1="1779.30" x2="516.20" y2="2045.22" stroke="#464242" stroke-width="1.7" />
<line x1="545.20" y1="1779.30" x2="545.20" y2="2045.22" stroke="#464242" stroke-width="1.7" />
<line x1="574.60" y1="1779.30" x2="574.60" y2="2045.22" stroke="#464242" stroke-width="1.7" />
<line x1="603.60" y1="1779.30" x2="603.60" y2="2045.22" stroke="#464242" stroke-width="1.7" />
<line x1="632.60" y1="1779.30" x2="632.60" y2="2045.22" stroke="#464242" stroke-width="1.7" />
<line x1="725.60" y1="1779.30" x2="725.60" y2="2045.22" stroke="#464242" stroke-width="1.7" />
<line x1="435.60" y1="1779.30" x2="818.10" y2="1779.30" stroke="#3e3a3a" stroke-width="1.5" />
<rect x="435.60" y="1762.30" width="382.50" height="282.92" fill="none" stroke="#3e3a3a" stroke-width="1.4" />
<text x="0" y="0" transform="translate(444.40,1774.80) scale(1,1.08)" font-size="11.7" font-weight="bold" text-anchor="start" fill="#ffffff" stroke="#ffffff" stroke-width="0.22" >Code</text>
<text x="0" y="0" transform="translate(530.70,1774.80) scale(1,1.08)" font-size="11.7" font-weight="bold" text-anchor="middle" fill="#ffffff" stroke="#ffffff" stroke-width="0.22" >Ød</text>
<text x="0" y="0" transform="translate(559.90,1774.80) scale(1,1.08)" font-size="11.7" font-weight="bold" text-anchor="middle" fill="#ffffff" stroke="#ffffff" stroke-width="0.22" >Ød1</text>
<text x="0" y="0" transform="translate(589.10,1774.80) scale(1,1.08)" font-size="11.7" font-weight="bold" text-anchor="middle" fill="#ffffff" stroke="#ffffff" stroke-width="0.22" >L</text>
<text x="0" y="0" transform="translate(618.10,1774.80) scale(1,1.08)" font-size="11.7" font-weight="bold" text-anchor="middle" fill="#ffffff" stroke="#ffffff" stroke-width="0.22" >L1</text>
<text x="0" y="0" transform="translate(679.10,1774.80) scale(1,1.08)" font-size="11.7" font-weight="bold" text-anchor="middle" fill="#ffffff" stroke="#ffffff" stroke-width="0.22" >Material of rod</text>
<text x="0" y="0" transform="translate(771.85,1774.80) scale(1,1.08)" font-size="11.7" font-weight="bold" text-anchor="middle" fill="#ffffff" stroke="#ffffff" stroke-width="0.22" >Material of tip</text>
<text x="0" y="0" transform="translate(624.59,1776.90) scale(1,1.08)" font-size="18" font-weight="bold" text-anchor="start" fill="#e3262b" >*</text>
<text x="0" y="0" transform="translate(444.20,1791.61) scale(1,1.08)" font-size="11.7" font-weight="bold" text-anchor="start" fill="#151515" stroke="#151515" stroke-width="0.22" >ISQ-40-106</text>
<text x="0" y="0" transform="translate(530.70,1791.61) scale(1,1.08)" font-size="11.7" text-anchor="middle" fill="#222222" stroke="#222222" stroke-width="0.22" >1</text>
<text x="0" y="0" transform="translate(559.90,1791.61) scale(1,1.08)" font-size="11.7" text-anchor="middle" fill="#222222" stroke="#222222" stroke-width="0.22" >0.7</text>
<text x="0" y="0" transform="translate(589.10,1791.61) scale(1,1.08)" font-size="11.7" text-anchor="middle" fill="#222222" stroke="#222222" stroke-width="0.22" >19.5</text>
<text x="0" y="0" transform="translate(618.10,1791.61) scale(1,1.08)" font-size="11.7" text-anchor="middle" fill="#222222" stroke="#222222" stroke-width="0.22" >4</text>
<text x="0" y="0" transform="translate(444.20,1808.23) scale(1,1.08)" font-size="11.7" font-weight="bold" text-anchor="start" fill="#151515" stroke="#151515" stroke-width="0.22" >ISQ-40-109</text>
<text x="0" y="0" transform="translate(530.70,1808.23) scale(1,1.08)" font-size="11.7" text-anchor="middle" fill="#222222" stroke="#222222" stroke-width="0.22" >2</text>
<text x="0" y="0" transform="translate(559.90,1808.23) scale(1,1.08)" font-size="11.7" text-anchor="middle" fill="#222222" stroke="#222222" stroke-width="0.22" >1.5</text>
<text x="0" y="0" transform="translate(589.10,1808.23) scale(1,1.08)" font-size="11.7" text-anchor="middle" fill="#222222" stroke="#222222" stroke-width="0.22" >19</text>
<text x="0" y="0" transform="translate(618.10,1808.23) scale(1,1.08)" font-size="11.7" text-anchor="middle" fill="#222222" stroke="#222222" stroke-width="0.22" >8</text>
<text x="0" y="0" transform="translate(444.20,1824.85) scale(1,1.08)" font-size="11.7" font-weight="bold" text-anchor="start" fill="#151515" stroke="#151515" stroke-width="0.22" >ISQ-40-113</text>
<text x="0" y="0" transform="translate(530.70,1824.85) scale(1,1.08)" font-size="11.7" text-anchor="middle" fill="#222222" stroke="#222222" stroke-width="0.22" >3</text>
<text x="0" y="0" transform="translate(559.90,1824.85) scale(1,1.08)" font-size="11.7" text-anchor="middle" fill="#222222" stroke="#222222" stroke-width="0.22" >2</text>
<text x="0" y="0" transform="translate(589.10,1824.85) scale(1,1.08)" font-size="11.7" text-anchor="middle" fill="#222222" stroke="#222222" stroke-width="0.22" >18.5</text>
<text x="0" y="0" transform="translate(618.10,1824.85) scale(1,1.08)" font-size="11.7" text-anchor="middle" fill="#222222" stroke="#222222" stroke-width="0.22" >13</text>
<text x="0" y="0" transform="translate(444.20,1841.47) scale(1,1.08)" font-size="11.7" font-weight="bold" text-anchor="start" fill="#151515" stroke="#151515" stroke-width="0.22" >ISQ-40-141</text>
<text x="0" y="0" transform="translate(530.70,1841.47) scale(1,1.08)" font-size="11.7" text-anchor="middle" fill="#222222" stroke="#222222" stroke-width="0.22" >1</text>
<text x="0" y="0" transform="translate(559.90,1841.47) scale(1,1.08)" font-size="11.7" text-anchor="middle" fill="#222222" stroke="#222222" stroke-width="0.22" >0.7</text>
<text x="0" y="0" transform="translate(589.10,1841.47) scale(1,1.08)" font-size="11.7" text-anchor="middle" fill="#222222" stroke="#222222" stroke-width="0.22" >20</text>
<text x="0" y="0" transform="translate(618.10,1841.47) scale(1,1.08)" font-size="11.7" text-anchor="middle" fill="#222222" stroke="#222222" stroke-width="0.22" >10</text>
<text x="0" y="0" transform="translate(444.20,1858.09) scale(1,1.08)" font-size="11.7" font-weight="bold" text-anchor="start" fill="#151515" stroke="#151515" stroke-width="0.22" >ISQ-40-145</text>
<text x="0" y="0" transform="translate(530.70,1858.09) scale(1,1.08)" font-size="11.7" text-anchor="middle" fill="#222222" stroke="#222222" stroke-width="0.22" >2</text>
<text x="0" y="0" transform="translate(559.90,1858.09) scale(1,1.08)" font-size="11.7" text-anchor="middle" fill="#222222" stroke="#222222" stroke-width="0.22" >1.5</text>
<text x="0" y="0" transform="translate(589.10,1858.09) scale(1,1.08)" font-size="11.7" text-anchor="middle" fill="#222222" stroke="#222222" stroke-width="0.22" >20</text>
<text x="0" y="0" transform="translate(618.10,1858.09) scale(1,1.08)" font-size="11.7" text-anchor="middle" fill="#222222" stroke="#222222" stroke-width="0.22" >10</text>
<text x="0" y="0" transform="translate(444.20,1874.71) scale(1,1.08)" font-size="11.7" font-weight="bold" text-anchor="start" fill="#151515" stroke="#151515" stroke-width="0.22" >ISQ-40-195</text>
<text x="0" y="0" transform="translate(530.70,1874.71) scale(1,1.08)" font-size="11.7" text-anchor="middle" fill="#222222" stroke="#222222" stroke-width="0.22" >2</text>
<text x="0" y="0" transform="translate(559.90,1874.71) scale(1,1.08)" font-size="11.7" text-anchor="middle" fill="#222222" stroke="#222222" stroke-width="0.22" >2</text>
<text x="0" y="0" transform="translate(589.10,1874.71) scale(1,1.08)" font-size="11.7" text-anchor="middle" fill="#222222" stroke="#222222" stroke-width="0.22" >50</text>
<text x="0" y="0" transform="translate(618.10,1874.71) scale(1,1.08)" font-size="11.7" text-anchor="middle" fill="#222222" stroke="#222222" stroke-width="0.22" >40</text>
<text x="0" y="0" transform="translate(444.20,1891.33) scale(1,1.08)" font-size="11.7" font-weight="bold" text-anchor="start" fill="#151515" stroke="#151515" stroke-width="0.22" >ISQ-40-149</text>
<text x="0" y="0" transform="translate(530.70,1891.33) scale(1,1.08)" font-size="11.7" text-anchor="middle" fill="#222222" stroke="#222222" stroke-width="0.22" >3</text>
<text x="0" y="0" transform="translate(559.90,1891.33) scale(1,1.08)" font-size="11.7" text-anchor="middle" fill="#222222" stroke="#222222" stroke-width="0.22" >2</text>
<text x="0" y="0" transform="translate(589.10,1891.33) scale(1,1.08)" font-size="11.7" text-anchor="middle" fill="#222222" stroke="#222222" stroke-width="0.22" >20</text>
<text x="0" y="0" transform="translate(618.10,1891.33) scale(1,1.08)" font-size="11.7" text-anchor="middle" fill="#222222" stroke="#222222" stroke-width="0.22" >10</text>
<text x="0" y="0" transform="translate(444.20,1907.95) scale(1,1.08)" font-size="11.7" font-weight="bold" text-anchor="start" fill="#151515" stroke="#151515" stroke-width="0.22" >ISQ-40-198</text>
<text x="0" y="0" transform="translate(530.70,1907.95) scale(1,1.08)" font-size="11.7" text-anchor="middle" fill="#222222" stroke="#222222" stroke-width="0.22" >3</text>
<text x="0" y="0" transform="translate(559.90,1907.95) scale(1,1.08)" font-size="11.7" text-anchor="middle" fill="#222222" stroke="#222222" stroke-width="0.22" >2</text>
<text x="0" y="0" transform="translate(589.10,1907.95) scale(1,1.08)" font-size="11.7" text-anchor="middle" fill="#222222" stroke="#222222" stroke-width="0.22" >50</text>
<text x="0" y="0" transform="translate(618.10,1907.95) scale(1,1.08)" font-size="11.7" text-anchor="middle" fill="#222222" stroke="#222222" stroke-width="0.22" >38</text>
<text x="0" y="0" transform="translate(444.20,1924.57) scale(1,1.08)" font-size="11.7" font-weight="bold" text-anchor="start" fill="#151515" stroke="#151515" stroke-width="0.22" >ISQ-40-153</text>
<text x="0" y="0" transform="translate(530.70,1924.57) scale(1,1.08)" font-size="11.7" text-anchor="middle" fill="#222222" stroke="#222222" stroke-width="0.22" >4</text>
<text x="0" y="0" transform="translate(559.90,1924.57) scale(1,1.08)" font-size="11.7" text-anchor="middle" fill="#222222" stroke="#222222" stroke-width="0.22" >2</text>
<text x="0" y="0" transform="translate(589.10,1924.57) scale(1,1.08)" font-size="11.7" text-anchor="middle" fill="#222222" stroke="#222222" stroke-width="0.22" >20</text>
<text x="0" y="0" transform="translate(618.10,1924.57) scale(1,1.08)" font-size="11.7" text-anchor="middle" fill="#222222" stroke="#222222" stroke-width="0.22" >10</text>
<text x="0" y="0" transform="translate(444.20,1941.19) scale(1,1.08)" font-size="11.7" font-weight="bold" text-anchor="start" fill="#151515" stroke="#151515" stroke-width="0.22" >ISQ-40-202</text>
<text x="0" y="0" transform="translate(530.70,1941.19) scale(1,1.08)" font-size="11.7" text-anchor="middle" fill="#222222" stroke="#222222" stroke-width="0.22" >4</text>
<text x="0" y="0" transform="translate(559.90,1941.19) scale(1,1.08)" font-size="11.7" text-anchor="middle" fill="#222222" stroke="#222222" stroke-width="0.22" >2</text>
<text x="0" y="0" transform="translate(589.10,1941.19) scale(1,1.08)" font-size="11.7" text-anchor="middle" fill="#222222" stroke="#222222" stroke-width="0.22" >50</text>
<text x="0" y="0" transform="translate(618.10,1941.19) scale(1,1.08)" font-size="11.7" text-anchor="middle" fill="#222222" stroke="#222222" stroke-width="0.22" >38</text>
<text x="0" y="0" transform="translate(444.20,1957.81) scale(1,1.08)" font-size="11.7" font-weight="bold" text-anchor="start" fill="#151515" stroke="#151515" stroke-width="0.22" >ISQ-40-172</text>
<text x="0" y="0" transform="translate(530.70,1957.81) scale(1,1.08)" font-size="11.7" text-anchor="middle" fill="#222222" stroke="#222222" stroke-width="0.22" >4</text>
<text x="0" y="0" transform="translate(559.90,1957.81) scale(1,1.08)" font-size="11.7" text-anchor="middle" fill="#222222" stroke="#222222" stroke-width="0.22" >3</text>
<text x="0" y="0" transform="translate(589.10,1957.81) scale(1,1.08)" font-size="11.7" text-anchor="middle" fill="#222222" stroke="#222222" stroke-width="0.22" >50</text>
<text x="0" y="0" transform="translate(618.10,1957.81) scale(1,1.08)" font-size="11.7" text-anchor="middle" fill="#222222" stroke="#222222" stroke-width="0.22" >36</text>
<text x="0" y="0" transform="translate(444.20,1974.43) scale(1,1.08)" font-size="11.7" font-weight="bold" text-anchor="start" fill="#151515" stroke="#151515" stroke-width="0.22" >ISQ-40-173</text>
<text x="0" y="0" transform="translate(530.70,1974.43) scale(1,1.08)" font-size="11.7" text-anchor="middle" fill="#222222" stroke="#222222" stroke-width="0.22" >5</text>
<text x="0" y="0" transform="translate(559.90,1974.43) scale(1,1.08)" font-size="11.7" text-anchor="middle" fill="#222222" stroke="#222222" stroke-width="0.22" >4</text>
<text x="0" y="0" transform="translate(589.10,1974.43) scale(1,1.08)" font-size="11.7" text-anchor="middle" fill="#222222" stroke="#222222" stroke-width="0.22" >50</text>
<text x="0" y="0" transform="translate(618.10,1974.43) scale(1,1.08)" font-size="11.7" text-anchor="middle" fill="#222222" stroke="#222222" stroke-width="0.22" >34</text>
<text x="0" y="0" transform="translate(444.20,1991.05) scale(1,1.08)" font-size="11.7" font-weight="bold" text-anchor="start" fill="#151515" stroke="#151515" stroke-width="0.22" >ISQ-40-179</text>
<text x="0" y="0" transform="translate(530.70,1991.05) scale(1,1.08)" font-size="11.7" text-anchor="middle" fill="#222222" stroke="#222222" stroke-width="0.22" >6</text>
<text x="0" y="0" transform="translate(559.90,1991.05) scale(1,1.08)" font-size="11.7" text-anchor="middle" fill="#222222" stroke="#222222" stroke-width="0.22" >4</text>
<text x="0" y="0" transform="translate(589.10,1991.05) scale(1,1.08)" font-size="11.7" text-anchor="middle" fill="#222222" stroke="#222222" stroke-width="0.22" >50</text>
<text x="0" y="0" transform="translate(618.10,1991.05) scale(1,1.08)" font-size="11.7" text-anchor="middle" fill="#222222" stroke="#222222" stroke-width="0.22" >36</text>
<text x="0" y="0" transform="translate(444.20,2007.67) scale(1,1.08)" font-size="11.7" font-weight="bold" text-anchor="start" fill="#151515" stroke="#151515" stroke-width="0.22" >ISQ-40-222</text>
<text x="0" y="0" transform="translate(530.70,2007.67) scale(1,1.08)" font-size="11.7" text-anchor="middle" fill="#222222" stroke="#222222" stroke-width="0.22" >6</text>
<text x="0" y="0" transform="translate(559.90,2007.67) scale(1,1.08)" font-size="11.7" text-anchor="middle" fill="#222222" stroke="#222222" stroke-width="0.22" >4</text>
<text x="0" y="0" transform="translate(589.10,2007.67) scale(1,1.08)" font-size="11.7" text-anchor="middle" fill="#222222" stroke="#222222" stroke-width="0.22" >75</text>
<text x="0" y="0" transform="translate(618.10,2007.67) scale(1,1.08)" font-size="11.7" text-anchor="middle" fill="#222222" stroke="#222222" stroke-width="0.22" >63</text>
<text x="0" y="0" transform="translate(444.20,2024.29) scale(1,1.08)" font-size="11.7" font-weight="bold" text-anchor="start" fill="#151515" stroke="#151515" stroke-width="0.22" >ISQ-40-240</text>
<text x="0" y="0" transform="translate(530.70,2024.29) scale(1,1.08)" font-size="11.7" text-anchor="middle" fill="#222222" stroke="#222222" stroke-width="0.22" >5</text>
<text x="0" y="0" transform="translate(559.90,2024.29) scale(1,1.08)" font-size="11.7" text-anchor="middle" fill="#222222" stroke="#222222" stroke-width="0.22" >4</text>
<text x="0" y="0" transform="translate(589.10,2024.29) scale(1,1.08)" font-size="11.7" text-anchor="middle" fill="#222222" stroke="#222222" stroke-width="0.22" >100</text>
<text x="0" y="0" transform="translate(618.10,2024.29) scale(1,1.08)" font-size="11.7" text-anchor="middle" fill="#222222" stroke="#222222" stroke-width="0.22" >84</text>
<text x="0" y="0" transform="translate(444.20,2040.91) scale(1,1.08)" font-size="11.7" font-weight="bold" text-anchor="start" fill="#151515" stroke="#151515" stroke-width="0.22" >ISQ-40-245</text>
<text x="0" y="0" transform="translate(530.70,2040.91) scale(1,1.08)" font-size="11.7" text-anchor="middle" fill="#222222" stroke="#222222" stroke-width="0.22" >6</text>
<text x="0" y="0" transform="translate(559.90,2040.91) scale(1,1.08)" font-size="11.7" text-anchor="middle" fill="#222222" stroke="#222222" stroke-width="0.22" >4</text>
<text x="0" y="0" transform="translate(589.10,2040.91) scale(1,1.08)" font-size="11.7" text-anchor="middle" fill="#222222" stroke="#222222" stroke-width="0.22" >100</text>
<text x="0" y="0" transform="translate(618.10,2040.91) scale(1,1.08)" font-size="11.7" text-anchor="middle" fill="#222222" stroke="#222222" stroke-width="0.22" >86</text>
<text x="0" y="0" transform="translate(677.30,1804.33) scale(1,1.08)" font-size="11.7" text-anchor="middle" fill="#222222" stroke="#222222" stroke-width="0.22" >stainless steel</text>
<text x="0" y="0" transform="translate(674.80,1910.53) scale(1,1.08)" font-size="11.7" text-anchor="middle" fill="#222222" stroke="#222222" stroke-width="0.22" >carbide</text>
<text x="0" y="0" transform="translate(678.50,2012.96) scale(1,1.08)" font-size="11.7" text-anchor="middle" fill="#222222" stroke="#222222" stroke-width="0.22" >ceramic</text>
<text x="0" y="0" transform="translate(782.75,1943.16) scale(1,1.08)" font-size="11.7" text-anchor="middle" fill="#222222" stroke="#222222" stroke-width="0.22" >ruby</text>
<text x="0" y="0" transform="translate(436.20,1757.00) scale(1,1.08)" font-size="11.7" font-weight="bold" text-anchor="start" fill="#1a1a1a" stroke="#1a1a1a" stroke-width="0.22" >M4 styli</text>
<text x="0" y="0" transform="translate(818.70,1757.00) scale(1,1.08)" font-size="11.7" font-weight="bold" text-anchor="end" fill="#1a1a1a" stroke="#1a1a1a" stroke-width="0.22" >(mm)</text>
<text x="0" y="0" transform="translate(436.10,2060.40) scale(1,1.08)" font-size="17.5" font-weight="bold" text-anchor="start" fill="#e3262b" >*</text>
<text x="0" y="0" transform="translate(444.10,2062.10) scale(1,1.08)" font-size="11.7" text-anchor="start" fill="#222" stroke="#222" stroke-width="0.22" >L1 is the effective working length, which is the distance from the center</text>
<text x="0" y="0" transform="translate(444.10,2076.00) scale(1,1.08)" font-size="11.7" text-anchor="start" fill="#222" stroke="#222" stroke-width="0.22" >of the tip to the section of the stem with the same diameter as the tip.</text>
<rect x="89.90" y="1969.60" width="194.40" height="17.00" fill="#3d853f" stroke="none" stroke-width="1.0" />
<rect x="89.90" y="1986.60" width="194.40" height="99.90" fill="#d4d5d7" stroke="none" stroke-width="1.0" />
<line x1="170.50" y1="1970.60" x2="170.50" y2="1986.60" stroke="#e4efe4" stroke-width="0.9" />
<line x1="200.50" y1="1970.60" x2="200.50" y2="1986.60" stroke="#e4efe4" stroke-width="0.9" />
<line x1="169.50" y1="1987.60" x2="169.50" y2="2086.50" stroke="#eeeff0" stroke-width="0.8" />
<line x1="172.10" y1="1987.60" x2="172.10" y2="2086.50" stroke="#eeeff0" stroke-width="0.8" />
<line x1="198.70" y1="1987.60" x2="198.70" y2="2086.50" stroke="#eeeff0" stroke-width="0.8" />
<line x1="89.90" y1="2002.00" x2="170.80" y2="2002.00" stroke="#eeeff0" stroke-width="0.8" />
<line x1="89.90" y1="2004.50" x2="170.80" y2="2004.50" stroke="#eeeff0" stroke-width="0.8" />
<line x1="170.80" y1="2002.00" x2="200.00" y2="2002.00" stroke="#eeeff0" stroke-width="0.8" />
<line x1="170.80" y1="2004.50" x2="200.00" y2="2004.50" stroke="#eeeff0" stroke-width="0.8" />
<line x1="89.90" y1="2018.65" x2="170.80" y2="2018.65" stroke="#eeeff0" stroke-width="0.8" />
<line x1="89.90" y1="2021.15" x2="170.80" y2="2021.15" stroke="#eeeff0" stroke-width="0.8" />
<line x1="170.80" y1="2018.65" x2="200.00" y2="2018.65" stroke="#eeeff0" stroke-width="0.8" />
<line x1="170.80" y1="2021.15" x2="200.00" y2="2021.15" stroke="#eeeff0" stroke-width="0.8" />
<line x1="89.90" y1="2035.30" x2="170.80" y2="2035.30" stroke="#eeeff0" stroke-width="0.8" />
<line x1="89.90" y1="2037.80" x2="170.80" y2="2037.80" stroke="#eeeff0" stroke-width="0.8" />
<line x1="170.80" y1="2035.30" x2="200.00" y2="2035.30" stroke="#eeeff0" stroke-width="0.8" />
<line x1="170.80" y1="2037.80" x2="200.00" y2="2037.80" stroke="#eeeff0" stroke-width="0.8" />
<line x1="89.90" y1="2051.95" x2="170.80" y2="2051.95" stroke="#eeeff0" stroke-width="0.8" />
<line x1="89.90" y1="2054.45" x2="170.80" y2="2054.45" stroke="#eeeff0" stroke-width="0.8" />
<line x1="170.80" y1="2051.95" x2="200.00" y2="2051.95" stroke="#eeeff0" stroke-width="0.8" />
<line x1="170.80" y1="2054.45" x2="200.00" y2="2054.45" stroke="#eeeff0" stroke-width="0.8" />
<line x1="89.90" y1="2068.60" x2="170.80" y2="2068.60" stroke="#eeeff0" stroke-width="0.8" />
<line x1="89.90" y1="2071.10" x2="170.80" y2="2071.10" stroke="#eeeff0" stroke-width="0.8" />
<line x1="170.80" y1="2068.60" x2="200.00" y2="2068.60" stroke="#eeeff0" stroke-width="0.8" />
<line x1="170.80" y1="2071.10" x2="200.00" y2="2071.10" stroke="#eeeff0" stroke-width="0.8" />
<line x1="89.90" y1="2003.25" x2="170.80" y2="2003.25" stroke="#464242" stroke-width="1.7" />
<line x1="170.80" y1="2003.25" x2="200.00" y2="2003.25" stroke="#464242" stroke-width="1.7" />
<line x1="89.90" y1="2019.90" x2="170.80" y2="2019.90" stroke="#464242" stroke-width="1.7" />
<line x1="170.80" y1="2019.90" x2="200.00" y2="2019.90" stroke="#464242" stroke-width="1.7" />
<line x1="200.00" y1="2019.90" x2="284.30" y2="2019.90" stroke="#464242" stroke-width="1.7" />
<line x1="89.90" y1="2036.55" x2="170.80" y2="2036.55" stroke="#464242" stroke-width="1.7" />
<line x1="170.80" y1="2036.55" x2="200.00" y2="2036.55" stroke="#464242" stroke-width="1.7" />
<line x1="89.90" y1="2053.20" x2="170.80" y2="2053.20" stroke="#464242" stroke-width="1.7" />
<line x1="170.80" y1="2053.20" x2="200.00" y2="2053.20" stroke="#464242" stroke-width="1.7" />
<line x1="89.90" y1="2069.85" x2="170.80" y2="2069.85" stroke="#464242" stroke-width="1.7" />
<line x1="170.80" y1="2069.85" x2="200.00" y2="2069.85" stroke="#464242" stroke-width="1.7" />
<line x1="170.80" y1="1986.60" x2="170.80" y2="2086.50" stroke="#464242" stroke-width="1.7" />
<line x1="200.00" y1="1986.60" x2="200.00" y2="2086.50" stroke="#464242" stroke-width="1.7" />
<line x1="89.90" y1="1986.60" x2="284.30" y2="1986.60" stroke="#3e3a3a" stroke-width="1.5" />
<rect x="89.90" y="1969.60" width="194.40" height="116.90" fill="none" stroke="#3e3a3a" stroke-width="1.4" />
<text x="0" y="0" transform="translate(98.70,1982.10) scale(1,1.08)" font-size="11.7" font-weight="bold" text-anchor="start" fill="#ffffff" stroke="#ffffff" stroke-width="0.22" >Code</text>
<text x="0" y="0" transform="translate(185.40,1982.10) scale(1,1.08)" font-size="11.7" font-weight="bold" text-anchor="middle" fill="#ffffff" stroke="#ffffff" stroke-width="0.22" >L</text>
<text x="0" y="0" transform="translate(242.15,1982.10) scale(1,1.08)" font-size="11.7" font-weight="bold" text-anchor="middle" fill="#ffffff" stroke="#ffffff" stroke-width="0.22" >Material</text>
<text x="0" y="0" transform="translate(98.50,1998.92) scale(1,1.08)" font-size="11.7" font-weight="bold" text-anchor="start" fill="#151515" stroke="#151515" stroke-width="0.22" >ISQ-45-007</text>
<text x="0" y="0" transform="translate(185.40,1998.92) scale(1,1.08)" font-size="11.7" text-anchor="middle" fill="#222222" stroke="#222222" stroke-width="0.22" >20</text>
<text x="0" y="0" transform="translate(98.50,2015.57) scale(1,1.08)" font-size="11.7" font-weight="bold" text-anchor="start" fill="#151515" stroke="#151515" stroke-width="0.22" >ISQ-45-009</text>
<text x="0" y="0" transform="translate(185.40,2015.57) scale(1,1.08)" font-size="11.7" text-anchor="middle" fill="#222222" stroke="#222222" stroke-width="0.22" >30</text>
<text x="0" y="0" transform="translate(98.50,2032.22) scale(1,1.08)" font-size="11.7" font-weight="bold" text-anchor="start" fill="#151515" stroke="#151515" stroke-width="0.22" >ISQ-45-025</text>
<text x="0" y="0" transform="translate(185.40,2032.22) scale(1,1.08)" font-size="11.7" text-anchor="middle" fill="#222222" stroke="#222222" stroke-width="0.22" >30</text>
<text x="0" y="0" transform="translate(98.50,2048.88) scale(1,1.08)" font-size="11.7" font-weight="bold" text-anchor="start" fill="#151515" stroke="#151515" stroke-width="0.22" >ISQ-45-028</text>
<text x="0" y="0" transform="translate(185.40,2048.88) scale(1,1.08)" font-size="11.7" text-anchor="middle" fill="#222222" stroke="#222222" stroke-width="0.22" >50</text>
<text x="0" y="0" transform="translate(98.50,2065.53) scale(1,1.08)" font-size="11.7" font-weight="bold" text-anchor="start" fill="#151515" stroke="#151515" stroke-width="0.22" >ISQ-45-031</text>
<text x="0" y="0" transform="translate(185.40,2065.53) scale(1,1.08)" font-size="11.7" text-anchor="middle" fill="#222222" stroke="#222222" stroke-width="0.22" >100</text>
<text x="0" y="0" transform="translate(98.50,2082.17) scale(1,1.08)" font-size="11.7" font-weight="bold" text-anchor="start" fill="#151515" stroke="#151515" stroke-width="0.22" >ISQ-45-043</text>
<text x="0" y="0" transform="translate(185.40,2082.17) scale(1,1.08)" font-size="11.7" text-anchor="middle" fill="#222222" stroke="#222222" stroke-width="0.22" >200</text>
<text x="0" y="0" transform="translate(242.15,2006.85) scale(1,1.08)" font-size="11.7" text-anchor="middle" fill="#222222" stroke="#222222" stroke-width="0.22" >stainless steel</text>
<text x="0" y="0" transform="translate(242.15,2056.80) scale(1,1.08)" font-size="11.7" text-anchor="middle" fill="#222222" stroke="#222222" stroke-width="0.22" >ceramic</text>
<text x="0" y="0" transform="translate(90.50,1964.30) scale(1,1.08)" font-size="11.7" font-weight="bold" text-anchor="start" fill="#1a1a1a" stroke="#1a1a1a" stroke-width="0.22" >M4 extension rods of styli</text>
<text x="0" y="0" transform="translate(284.90,1964.30) scale(1,1.08)" font-size="11.7" font-weight="bold" text-anchor="end" fill="#1a1a1a" stroke="#1a1a1a" stroke-width="0.22" >(mm)</text>
<rect x="84.40" y="2345.60" width="381.60" height="17.00" fill="#3d853f" stroke="none" stroke-width="1.0" />
<rect x="84.40" y="2362.60" width="381.60" height="332.40" fill="#d4d5d7" stroke="none" stroke-width="1.0" />
<line x1="164.50" y1="2346.60" x2="164.50" y2="2362.60" stroke="#e4efe4" stroke-width="0.9" />
<line x1="194.50" y1="2346.60" x2="194.50" y2="2362.60" stroke="#e4efe4" stroke-width="0.9" />
<line x1="223.50" y1="2346.60" x2="223.50" y2="2362.60" stroke="#e4efe4" stroke-width="0.9" />
<line x1="252.50" y1="2346.60" x2="252.50" y2="2362.60" stroke="#e4efe4" stroke-width="0.9" />
<line x1="281.50" y1="2346.60" x2="281.50" y2="2362.60" stroke="#e4efe4" stroke-width="0.9" />
<line x1="374.50" y1="2346.60" x2="374.50" y2="2362.60" stroke="#e4efe4" stroke-width="0.9" />
<line x1="163.70" y1="2363.60" x2="163.70" y2="2695.00" stroke="#eeeff0" stroke-width="0.8" />
<line x1="166.30" y1="2363.60" x2="166.30" y2="2695.00" stroke="#eeeff0" stroke-width="0.8" />
<line x1="192.70" y1="2363.60" x2="192.70" y2="2695.00" stroke="#eeeff0" stroke-width="0.8" />
<line x1="195.30" y1="2363.60" x2="195.30" y2="2695.00" stroke="#eeeff0" stroke-width="0.8" />
<line x1="222.10" y1="2363.60" x2="222.10" y2="2695.00" stroke="#eeeff0" stroke-width="0.8" />
<line x1="224.70" y1="2363.60" x2="224.70" y2="2695.00" stroke="#eeeff0" stroke-width="0.8" />
<line x1="251.10" y1="2363.60" x2="251.10" y2="2695.00" stroke="#eeeff0" stroke-width="0.8" />
<line x1="253.70" y1="2363.60" x2="253.70" y2="2695.00" stroke="#eeeff0" stroke-width="0.8" />
<line x1="280.10" y1="2363.60" x2="280.10" y2="2695.00" stroke="#eeeff0" stroke-width="0.8" />
<line x1="84.40" y1="2377.97" x2="165.00" y2="2377.97" stroke="#eeeff0" stroke-width="0.8" />
<line x1="84.40" y1="2380.47" x2="165.00" y2="2380.47" stroke="#eeeff0" stroke-width="0.8" />
<line x1="165.00" y1="2377.97" x2="194.00" y2="2377.97" stroke="#eeeff0" stroke-width="0.8" />
<line x1="165.00" y1="2380.47" x2="194.00" y2="2380.47" stroke="#eeeff0" stroke-width="0.8" />
<line x1="194.00" y1="2377.97" x2="223.40" y2="2377.97" stroke="#eeeff0" stroke-width="0.8" />
<line x1="194.00" y1="2380.47" x2="223.40" y2="2380.47" stroke="#eeeff0" stroke-width="0.8" />
<line x1="223.40" y1="2377.97" x2="252.40" y2="2377.97" stroke="#eeeff0" stroke-width="0.8" />
<line x1="223.40" y1="2380.47" x2="252.40" y2="2380.47" stroke="#eeeff0" stroke-width="0.8" />
<line x1="252.40" y1="2377.97" x2="281.40" y2="2377.97" stroke="#eeeff0" stroke-width="0.8" />
<line x1="252.40" y1="2380.47" x2="281.40" y2="2380.47" stroke="#eeeff0" stroke-width="0.8" />
<line x1="84.40" y1="2394.59" x2="165.00" y2="2394.59" stroke="#eeeff0" stroke-width="0.8" />
<line x1="84.40" y1="2397.09" x2="165.00" y2="2397.09" stroke="#eeeff0" stroke-width="0.8" />
<line x1="165.00" y1="2394.59" x2="194.00" y2="2394.59" stroke="#eeeff0" stroke-width="0.8" />
<line x1="165.00" y1="2397.09" x2="194.00" y2="2397.09" stroke="#eeeff0" stroke-width="0.8" />
<line x1="194.00" y1="2394.59" x2="223.40" y2="2394.59" stroke="#eeeff0" stroke-width="0.8" />
<line x1="194.00" y1="2397.09" x2="223.40" y2="2397.09" stroke="#eeeff0" stroke-width="0.8" />
<line x1="223.40" y1="2394.59" x2="252.40" y2="2394.59" stroke="#eeeff0" stroke-width="0.8" />
<line x1="223.40" y1="2397.09" x2="252.40" y2="2397.09" stroke="#eeeff0" stroke-width="0.8" />
<line x1="252.40" y1="2394.59" x2="281.40" y2="2394.59" stroke="#eeeff0" stroke-width="0.8" />
<line x1="252.40" y1="2397.09" x2="281.40" y2="2397.09" stroke="#eeeff0" stroke-width="0.8" />
<line x1="84.40" y1="2411.21" x2="165.00" y2="2411.21" stroke="#eeeff0" stroke-width="0.8" />
<line x1="84.40" y1="2413.71" x2="165.00" y2="2413.71" stroke="#eeeff0" stroke-width="0.8" />
<line x1="165.00" y1="2411.21" x2="194.00" y2="2411.21" stroke="#eeeff0" stroke-width="0.8" />
<line x1="165.00" y1="2413.71" x2="194.00" y2="2413.71" stroke="#eeeff0" stroke-width="0.8" />
<line x1="194.00" y1="2411.21" x2="223.40" y2="2411.21" stroke="#eeeff0" stroke-width="0.8" />
<line x1="194.00" y1="2413.71" x2="223.40" y2="2413.71" stroke="#eeeff0" stroke-width="0.8" />
<line x1="223.40" y1="2411.21" x2="252.40" y2="2411.21" stroke="#eeeff0" stroke-width="0.8" />
<line x1="223.40" y1="2413.71" x2="252.40" y2="2413.71" stroke="#eeeff0" stroke-width="0.8" />
<line x1="252.40" y1="2411.21" x2="281.40" y2="2411.21" stroke="#eeeff0" stroke-width="0.8" />
<line x1="252.40" y1="2413.71" x2="281.40" y2="2413.71" stroke="#eeeff0" stroke-width="0.8" />
<line x1="84.40" y1="2427.83" x2="165.00" y2="2427.83" stroke="#eeeff0" stroke-width="0.8" />
<line x1="84.40" y1="2430.33" x2="165.00" y2="2430.33" stroke="#eeeff0" stroke-width="0.8" />
<line x1="165.00" y1="2427.83" x2="194.00" y2="2427.83" stroke="#eeeff0" stroke-width="0.8" />
<line x1="165.00" y1="2430.33" x2="194.00" y2="2430.33" stroke="#eeeff0" stroke-width="0.8" />
<line x1="194.00" y1="2427.83" x2="223.40" y2="2427.83" stroke="#eeeff0" stroke-width="0.8" />
<line x1="194.00" y1="2430.33" x2="223.40" y2="2430.33" stroke="#eeeff0" stroke-width="0.8" />
<line x1="223.40" y1="2427.83" x2="252.40" y2="2427.83" stroke="#eeeff0" stroke-width="0.8" />
<line x1="223.40" y1="2430.33" x2="252.40" y2="2430.33" stroke="#eeeff0" stroke-width="0.8" />
<line x1="252.40" y1="2427.83" x2="281.40" y2="2427.83" stroke="#eeeff0" stroke-width="0.8" />
<line x1="252.40" y1="2430.33" x2="281.40" y2="2430.33" stroke="#eeeff0" stroke-width="0.8" />
<line x1="84.40" y1="2444.45" x2="165.00" y2="2444.45" stroke="#eeeff0" stroke-width="0.8" />
<line x1="84.40" y1="2446.95" x2="165.00" y2="2446.95" stroke="#eeeff0" stroke-width="0.8" />
<line x1="165.00" y1="2444.45" x2="194.00" y2="2444.45" stroke="#eeeff0" stroke-width="0.8" />
<line x1="165.00" y1="2446.95" x2="194.00" y2="2446.95" stroke="#eeeff0" stroke-width="0.8" />
<line x1="194.00" y1="2444.45" x2="223.40" y2="2444.45" stroke="#eeeff0" stroke-width="0.8" />
<line x1="194.00" y1="2446.95" x2="223.40" y2="2446.95" stroke="#eeeff0" stroke-width="0.8" />
<line x1="223.40" y1="2444.45" x2="252.40" y2="2444.45" stroke="#eeeff0" stroke-width="0.8" />
<line x1="223.40" y1="2446.95" x2="252.40" y2="2446.95" stroke="#eeeff0" stroke-width="0.8" />
<line x1="252.40" y1="2444.45" x2="281.40" y2="2444.45" stroke="#eeeff0" stroke-width="0.8" />
<line x1="252.40" y1="2446.95" x2="281.40" y2="2446.95" stroke="#eeeff0" stroke-width="0.8" />
<line x1="84.40" y1="2461.07" x2="165.00" y2="2461.07" stroke="#eeeff0" stroke-width="0.8" />
<line x1="84.40" y1="2463.57" x2="165.00" y2="2463.57" stroke="#eeeff0" stroke-width="0.8" />
<line x1="165.00" y1="2461.07" x2="194.00" y2="2461.07" stroke="#eeeff0" stroke-width="0.8" />
<line x1="165.00" y1="2463.57" x2="194.00" y2="2463.57" stroke="#eeeff0" stroke-width="0.8" />
<line x1="194.00" y1="2461.07" x2="223.40" y2="2461.07" stroke="#eeeff0" stroke-width="0.8" />
<line x1="194.00" y1="2463.57" x2="223.40" y2="2463.57" stroke="#eeeff0" stroke-width="0.8" />
<line x1="223.40" y1="2461.07" x2="252.40" y2="2461.07" stroke="#eeeff0" stroke-width="0.8" />
<line x1="223.40" y1="2463.57" x2="252.40" y2="2463.57" stroke="#eeeff0" stroke-width="0.8" />
<line x1="252.40" y1="2461.07" x2="281.40" y2="2461.07" stroke="#eeeff0" stroke-width="0.8" />
<line x1="252.40" y1="2463.57" x2="281.40" y2="2463.57" stroke="#eeeff0" stroke-width="0.8" />
<line x1="84.40" y1="2477.69" x2="165.00" y2="2477.69" stroke="#eeeff0" stroke-width="0.8" />
<line x1="84.40" y1="2480.19" x2="165.00" y2="2480.19" stroke="#eeeff0" stroke-width="0.8" />
<line x1="165.00" y1="2477.69" x2="194.00" y2="2477.69" stroke="#eeeff0" stroke-width="0.8" />
<line x1="165.00" y1="2480.19" x2="194.00" y2="2480.19" stroke="#eeeff0" stroke-width="0.8" />
<line x1="194.00" y1="2477.69" x2="223.40" y2="2477.69" stroke="#eeeff0" stroke-width="0.8" />
<line x1="194.00" y1="2480.19" x2="223.40" y2="2480.19" stroke="#eeeff0" stroke-width="0.8" />
<line x1="223.40" y1="2477.69" x2="252.40" y2="2477.69" stroke="#eeeff0" stroke-width="0.8" />
<line x1="223.40" y1="2480.19" x2="252.40" y2="2480.19" stroke="#eeeff0" stroke-width="0.8" />
<line x1="252.40" y1="2477.69" x2="281.40" y2="2477.69" stroke="#eeeff0" stroke-width="0.8" />
<line x1="252.40" y1="2480.19" x2="281.40" y2="2480.19" stroke="#eeeff0" stroke-width="0.8" />
<line x1="84.40" y1="2494.31" x2="165.00" y2="2494.31" stroke="#eeeff0" stroke-width="0.8" />
<line x1="84.40" y1="2496.81" x2="165.00" y2="2496.81" stroke="#eeeff0" stroke-width="0.8" />
<line x1="165.00" y1="2494.31" x2="194.00" y2="2494.31" stroke="#eeeff0" stroke-width="0.8" />
<line x1="165.00" y1="2496.81" x2="194.00" y2="2496.81" stroke="#eeeff0" stroke-width="0.8" />
<line x1="194.00" y1="2494.31" x2="223.40" y2="2494.31" stroke="#eeeff0" stroke-width="0.8" />
<line x1="194.00" y1="2496.81" x2="223.40" y2="2496.81" stroke="#eeeff0" stroke-width="0.8" />
<line x1="223.40" y1="2494.31" x2="252.40" y2="2494.31" stroke="#eeeff0" stroke-width="0.8" />
<line x1="223.40" y1="2496.81" x2="252.40" y2="2496.81" stroke="#eeeff0" stroke-width="0.8" />
<line x1="252.40" y1="2494.31" x2="281.40" y2="2494.31" stroke="#eeeff0" stroke-width="0.8" />
<line x1="252.40" y1="2496.81" x2="281.40" y2="2496.81" stroke="#eeeff0" stroke-width="0.8" />
<line x1="84.40" y1="2510.93" x2="165.00" y2="2510.93" stroke="#eeeff0" stroke-width="0.8" />
<line x1="84.40" y1="2513.43" x2="165.00" y2="2513.43" stroke="#eeeff0" stroke-width="0.8" />
<line x1="165.00" y1="2510.93" x2="194.00" y2="2510.93" stroke="#eeeff0" stroke-width="0.8" />
<line x1="165.00" y1="2513.43" x2="194.00" y2="2513.43" stroke="#eeeff0" stroke-width="0.8" />
<line x1="194.00" y1="2510.93" x2="223.40" y2="2510.93" stroke="#eeeff0" stroke-width="0.8" />
<line x1="194.00" y1="2513.43" x2="223.40" y2="2513.43" stroke="#eeeff0" stroke-width="0.8" />
<line x1="223.40" y1="2510.93" x2="252.40" y2="2510.93" stroke="#eeeff0" stroke-width="0.8" />
<line x1="223.40" y1="2513.43" x2="252.40" y2="2513.43" stroke="#eeeff0" stroke-width="0.8" />
<line x1="252.40" y1="2510.93" x2="281.40" y2="2510.93" stroke="#eeeff0" stroke-width="0.8" />
<line x1="252.40" y1="2513.43" x2="281.40" y2="2513.43" stroke="#eeeff0" stroke-width="0.8" />
<line x1="84.40" y1="2527.55" x2="165.00" y2="2527.55" stroke="#eeeff0" stroke-width="0.8" />
<line x1="84.40" y1="2530.05" x2="165.00" y2="2530.05" stroke="#eeeff0" stroke-width="0.8" />
<line x1="165.00" y1="2527.55" x2="194.00" y2="2527.55" stroke="#eeeff0" stroke-width="0.8" />
<line x1="165.00" y1="2530.05" x2="194.00" y2="2530.05" stroke="#eeeff0" stroke-width="0.8" />
<line x1="194.00" y1="2527.55" x2="223.40" y2="2527.55" stroke="#eeeff0" stroke-width="0.8" />
<line x1="194.00" y1="2530.05" x2="223.40" y2="2530.05" stroke="#eeeff0" stroke-width="0.8" />
<line x1="223.40" y1="2527.55" x2="252.40" y2="2527.55" stroke="#eeeff0" stroke-width="0.8" />
<line x1="223.40" y1="2530.05" x2="252.40" y2="2530.05" stroke="#eeeff0" stroke-width="0.8" />
<line x1="252.40" y1="2527.55" x2="281.40" y2="2527.55" stroke="#eeeff0" stroke-width="0.8" />
<line x1="252.40" y1="2530.05" x2="281.40" y2="2530.05" stroke="#eeeff0" stroke-width="0.8" />
<line x1="84.40" y1="2544.17" x2="165.00" y2="2544.17" stroke="#eeeff0" stroke-width="0.8" />
<line x1="84.40" y1="2546.67" x2="165.00" y2="2546.67" stroke="#eeeff0" stroke-width="0.8" />
<line x1="165.00" y1="2544.17" x2="194.00" y2="2544.17" stroke="#eeeff0" stroke-width="0.8" />
<line x1="165.00" y1="2546.67" x2="194.00" y2="2546.67" stroke="#eeeff0" stroke-width="0.8" />
<line x1="194.00" y1="2544.17" x2="223.40" y2="2544.17" stroke="#eeeff0" stroke-width="0.8" />
<line x1="194.00" y1="2546.67" x2="223.40" y2="2546.67" stroke="#eeeff0" stroke-width="0.8" />
<line x1="223.40" y1="2544.17" x2="252.40" y2="2544.17" stroke="#eeeff0" stroke-width="0.8" />
<line x1="223.40" y1="2546.67" x2="252.40" y2="2546.67" stroke="#eeeff0" stroke-width="0.8" />
<line x1="252.40" y1="2544.17" x2="281.40" y2="2544.17" stroke="#eeeff0" stroke-width="0.8" />
<line x1="252.40" y1="2546.67" x2="281.40" y2="2546.67" stroke="#eeeff0" stroke-width="0.8" />
<line x1="84.40" y1="2560.79" x2="165.00" y2="2560.79" stroke="#eeeff0" stroke-width="0.8" />
<line x1="84.40" y1="2563.29" x2="165.00" y2="2563.29" stroke="#eeeff0" stroke-width="0.8" />
<line x1="165.00" y1="2560.79" x2="194.00" y2="2560.79" stroke="#eeeff0" stroke-width="0.8" />
<line x1="165.00" y1="2563.29" x2="194.00" y2="2563.29" stroke="#eeeff0" stroke-width="0.8" />
<line x1="194.00" y1="2560.79" x2="223.40" y2="2560.79" stroke="#eeeff0" stroke-width="0.8" />
<line x1="194.00" y1="2563.29" x2="223.40" y2="2563.29" stroke="#eeeff0" stroke-width="0.8" />
<line x1="223.40" y1="2560.79" x2="252.40" y2="2560.79" stroke="#eeeff0" stroke-width="0.8" />
<line x1="223.40" y1="2563.29" x2="252.40" y2="2563.29" stroke="#eeeff0" stroke-width="0.8" />
<line x1="252.40" y1="2560.79" x2="281.40" y2="2560.79" stroke="#eeeff0" stroke-width="0.8" />
<line x1="252.40" y1="2563.29" x2="281.40" y2="2563.29" stroke="#eeeff0" stroke-width="0.8" />
<line x1="84.40" y1="2577.41" x2="165.00" y2="2577.41" stroke="#eeeff0" stroke-width="0.8" />
<line x1="84.40" y1="2579.91" x2="165.00" y2="2579.91" stroke="#eeeff0" stroke-width="0.8" />
<line x1="165.00" y1="2577.41" x2="194.00" y2="2577.41" stroke="#eeeff0" stroke-width="0.8" />
<line x1="165.00" y1="2579.91" x2="194.00" y2="2579.91" stroke="#eeeff0" stroke-width="0.8" />
<line x1="194.00" y1="2577.41" x2="223.40" y2="2577.41" stroke="#eeeff0" stroke-width="0.8" />
<line x1="194.00" y1="2579.91" x2="223.40" y2="2579.91" stroke="#eeeff0" stroke-width="0.8" />
<line x1="223.40" y1="2577.41" x2="252.40" y2="2577.41" stroke="#eeeff0" stroke-width="0.8" />
<line x1="223.40" y1="2579.91" x2="252.40" y2="2579.91" stroke="#eeeff0" stroke-width="0.8" />
<line x1="252.40" y1="2577.41" x2="281.40" y2="2577.41" stroke="#eeeff0" stroke-width="0.8" />
<line x1="252.40" y1="2579.91" x2="281.40" y2="2579.91" stroke="#eeeff0" stroke-width="0.8" />
<line x1="84.40" y1="2594.03" x2="165.00" y2="2594.03" stroke="#eeeff0" stroke-width="0.8" />
<line x1="84.40" y1="2596.53" x2="165.00" y2="2596.53" stroke="#eeeff0" stroke-width="0.8" />
<line x1="165.00" y1="2594.03" x2="194.00" y2="2594.03" stroke="#eeeff0" stroke-width="0.8" />
<line x1="165.00" y1="2596.53" x2="194.00" y2="2596.53" stroke="#eeeff0" stroke-width="0.8" />
<line x1="194.00" y1="2594.03" x2="223.40" y2="2594.03" stroke="#eeeff0" stroke-width="0.8" />
<line x1="194.00" y1="2596.53" x2="223.40" y2="2596.53" stroke="#eeeff0" stroke-width="0.8" />
<line x1="223.40" y1="2594.03" x2="252.40" y2="2594.03" stroke="#eeeff0" stroke-width="0.8" />
<line x1="223.40" y1="2596.53" x2="252.40" y2="2596.53" stroke="#eeeff0" stroke-width="0.8" />
<line x1="252.40" y1="2594.03" x2="281.40" y2="2594.03" stroke="#eeeff0" stroke-width="0.8" />
<line x1="252.40" y1="2596.53" x2="281.40" y2="2596.53" stroke="#eeeff0" stroke-width="0.8" />
<line x1="84.40" y1="2610.65" x2="165.00" y2="2610.65" stroke="#eeeff0" stroke-width="0.8" />
<line x1="84.40" y1="2613.15" x2="165.00" y2="2613.15" stroke="#eeeff0" stroke-width="0.8" />
<line x1="165.00" y1="2610.65" x2="194.00" y2="2610.65" stroke="#eeeff0" stroke-width="0.8" />
<line x1="165.00" y1="2613.15" x2="194.00" y2="2613.15" stroke="#eeeff0" stroke-width="0.8" />
<line x1="194.00" y1="2610.65" x2="223.40" y2="2610.65" stroke="#eeeff0" stroke-width="0.8" />
<line x1="194.00" y1="2613.15" x2="223.40" y2="2613.15" stroke="#eeeff0" stroke-width="0.8" />
<line x1="223.40" y1="2610.65" x2="252.40" y2="2610.65" stroke="#eeeff0" stroke-width="0.8" />
<line x1="223.40" y1="2613.15" x2="252.40" y2="2613.15" stroke="#eeeff0" stroke-width="0.8" />
<line x1="252.40" y1="2610.65" x2="281.40" y2="2610.65" stroke="#eeeff0" stroke-width="0.8" />
<line x1="252.40" y1="2613.15" x2="281.40" y2="2613.15" stroke="#eeeff0" stroke-width="0.8" />
<line x1="84.40" y1="2627.27" x2="165.00" y2="2627.27" stroke="#eeeff0" stroke-width="0.8" />
<line x1="84.40" y1="2629.77" x2="165.00" y2="2629.77" stroke="#eeeff0" stroke-width="0.8" />
<line x1="165.00" y1="2627.27" x2="194.00" y2="2627.27" stroke="#eeeff0" stroke-width="0.8" />
<line x1="165.00" y1="2629.77" x2="194.00" y2="2629.77" stroke="#eeeff0" stroke-width="0.8" />
<line x1="194.00" y1="2627.27" x2="223.40" y2="2627.27" stroke="#eeeff0" stroke-width="0.8" />
<line x1="194.00" y1="2629.77" x2="223.40" y2="2629.77" stroke="#eeeff0" stroke-width="0.8" />
<line x1="223.40" y1="2627.27" x2="252.40" y2="2627.27" stroke="#eeeff0" stroke-width="0.8" />
<line x1="223.40" y1="2629.77" x2="252.40" y2="2629.77" stroke="#eeeff0" stroke-width="0.8" />
<line x1="252.40" y1="2627.27" x2="281.40" y2="2627.27" stroke="#eeeff0" stroke-width="0.8" />
<line x1="252.40" y1="2629.77" x2="281.40" y2="2629.77" stroke="#eeeff0" stroke-width="0.8" />
<line x1="84.40" y1="2643.89" x2="165.00" y2="2643.89" stroke="#eeeff0" stroke-width="0.8" />
<line x1="84.40" y1="2646.39" x2="165.00" y2="2646.39" stroke="#eeeff0" stroke-width="0.8" />
<line x1="165.00" y1="2643.89" x2="194.00" y2="2643.89" stroke="#eeeff0" stroke-width="0.8" />
<line x1="165.00" y1="2646.39" x2="194.00" y2="2646.39" stroke="#eeeff0" stroke-width="0.8" />
<line x1="194.00" y1="2643.89" x2="223.40" y2="2643.89" stroke="#eeeff0" stroke-width="0.8" />
<line x1="194.00" y1="2646.39" x2="223.40" y2="2646.39" stroke="#eeeff0" stroke-width="0.8" />
<line x1="223.40" y1="2643.89" x2="252.40" y2="2643.89" stroke="#eeeff0" stroke-width="0.8" />
<line x1="223.40" y1="2646.39" x2="252.40" y2="2646.39" stroke="#eeeff0" stroke-width="0.8" />
<line x1="252.40" y1="2643.89" x2="281.40" y2="2643.89" stroke="#eeeff0" stroke-width="0.8" />
<line x1="252.40" y1="2646.39" x2="281.40" y2="2646.39" stroke="#eeeff0" stroke-width="0.8" />
<line x1="84.40" y1="2660.51" x2="165.00" y2="2660.51" stroke="#eeeff0" stroke-width="0.8" />
<line x1="84.40" y1="2663.01" x2="165.00" y2="2663.01" stroke="#eeeff0" stroke-width="0.8" />
<line x1="165.00" y1="2660.51" x2="194.00" y2="2660.51" stroke="#eeeff0" stroke-width="0.8" />
<line x1="165.00" y1="2663.01" x2="194.00" y2="2663.01" stroke="#eeeff0" stroke-width="0.8" />
<line x1="194.00" y1="2660.51" x2="223.40" y2="2660.51" stroke="#eeeff0" stroke-width="0.8" />
<line x1="194.00" y1="2663.01" x2="223.40" y2="2663.01" stroke="#eeeff0" stroke-width="0.8" />
<line x1="223.40" y1="2660.51" x2="252.40" y2="2660.51" stroke="#eeeff0" stroke-width="0.8" />
<line x1="223.40" y1="2663.01" x2="252.40" y2="2663.01" stroke="#eeeff0" stroke-width="0.8" />
<line x1="252.40" y1="2660.51" x2="281.40" y2="2660.51" stroke="#eeeff0" stroke-width="0.8" />
<line x1="252.40" y1="2663.01" x2="281.40" y2="2663.01" stroke="#eeeff0" stroke-width="0.8" />
<line x1="84.40" y1="2677.13" x2="165.00" y2="2677.13" stroke="#eeeff0" stroke-width="0.8" />
<line x1="84.40" y1="2679.63" x2="165.00" y2="2679.63" stroke="#eeeff0" stroke-width="0.8" />
<line x1="165.00" y1="2677.13" x2="194.00" y2="2677.13" stroke="#eeeff0" stroke-width="0.8" />
<line x1="165.00" y1="2679.63" x2="194.00" y2="2679.63" stroke="#eeeff0" stroke-width="0.8" />
<line x1="194.00" y1="2677.13" x2="223.40" y2="2677.13" stroke="#eeeff0" stroke-width="0.8" />
<line x1="194.00" y1="2679.63" x2="223.40" y2="2679.63" stroke="#eeeff0" stroke-width="0.8" />
<line x1="223.40" y1="2677.13" x2="252.40" y2="2677.13" stroke="#eeeff0" stroke-width="0.8" />
<line x1="223.40" y1="2679.63" x2="252.40" y2="2679.63" stroke="#eeeff0" stroke-width="0.8" />
<line x1="252.40" y1="2677.13" x2="281.40" y2="2677.13" stroke="#eeeff0" stroke-width="0.8" />
<line x1="252.40" y1="2679.63" x2="281.40" y2="2679.63" stroke="#eeeff0" stroke-width="0.8" />
<line x1="84.40" y1="2379.22" x2="165.00" y2="2379.22" stroke="#464242" stroke-width="1.7" />
<line x1="165.00" y1="2379.22" x2="194.00" y2="2379.22" stroke="#464242" stroke-width="1.7" />
<line x1="194.00" y1="2379.22" x2="223.40" y2="2379.22" stroke="#464242" stroke-width="1.7" />
<line x1="223.40" y1="2379.22" x2="252.40" y2="2379.22" stroke="#464242" stroke-width="1.7" />
<line x1="252.40" y1="2379.22" x2="281.40" y2="2379.22" stroke="#464242" stroke-width="1.7" />
<line x1="84.40" y1="2395.84" x2="165.00" y2="2395.84" stroke="#464242" stroke-width="1.7" />
<line x1="165.00" y1="2395.84" x2="194.00" y2="2395.84" stroke="#464242" stroke-width="1.7" />
<line x1="194.00" y1="2395.84" x2="223.40" y2="2395.84" stroke="#464242" stroke-width="1.7" />
<line x1="223.40" y1="2395.84" x2="252.40" y2="2395.84" stroke="#464242" stroke-width="1.7" />
<line x1="252.40" y1="2395.84" x2="281.40" y2="2395.84" stroke="#464242" stroke-width="1.7" />
<line x1="84.40" y1="2412.46" x2="165.00" y2="2412.46" stroke="#464242" stroke-width="1.7" />
<line x1="165.00" y1="2412.46" x2="194.00" y2="2412.46" stroke="#464242" stroke-width="1.7" />
<line x1="194.00" y1="2412.46" x2="223.40" y2="2412.46" stroke="#464242" stroke-width="1.7" />
<line x1="223.40" y1="2412.46" x2="252.40" y2="2412.46" stroke="#464242" stroke-width="1.7" />
<line x1="252.40" y1="2412.46" x2="281.40" y2="2412.46" stroke="#464242" stroke-width="1.7" />
<line x1="84.40" y1="2429.08" x2="165.00" y2="2429.08" stroke="#464242" stroke-width="1.7" />
<line x1="165.00" y1="2429.08" x2="194.00" y2="2429.08" stroke="#464242" stroke-width="1.7" />
<line x1="194.00" y1="2429.08" x2="223.40" y2="2429.08" stroke="#464242" stroke-width="1.7" />
<line x1="223.40" y1="2429.08" x2="252.40" y2="2429.08" stroke="#464242" stroke-width="1.7" />
<line x1="252.40" y1="2429.08" x2="281.40" y2="2429.08" stroke="#464242" stroke-width="1.7" />
<line x1="84.40" y1="2445.70" x2="165.00" y2="2445.70" stroke="#464242" stroke-width="1.7" />
<line x1="165.00" y1="2445.70" x2="194.00" y2="2445.70" stroke="#464242" stroke-width="1.7" />
<line x1="194.00" y1="2445.70" x2="223.40" y2="2445.70" stroke="#464242" stroke-width="1.7" />
<line x1="223.40" y1="2445.70" x2="252.40" y2="2445.70" stroke="#464242" stroke-width="1.7" />
<line x1="252.40" y1="2445.70" x2="281.40" y2="2445.70" stroke="#464242" stroke-width="1.7" />
<line x1="84.40" y1="2462.32" x2="165.00" y2="2462.32" stroke="#464242" stroke-width="1.7" />
<line x1="165.00" y1="2462.32" x2="194.00" y2="2462.32" stroke="#464242" stroke-width="1.7" />
<line x1="194.00" y1="2462.32" x2="223.40" y2="2462.32" stroke="#464242" stroke-width="1.7" />
<line x1="223.40" y1="2462.32" x2="252.40" y2="2462.32" stroke="#464242" stroke-width="1.7" />
<line x1="252.40" y1="2462.32" x2="281.40" y2="2462.32" stroke="#464242" stroke-width="1.7" />
<line x1="84.40" y1="2478.94" x2="165.00" y2="2478.94" stroke="#464242" stroke-width="1.7" />
<line x1="165.00" y1="2478.94" x2="194.00" y2="2478.94" stroke="#464242" stroke-width="1.7" />
<line x1="194.00" y1="2478.94" x2="223.40" y2="2478.94" stroke="#464242" stroke-width="1.7" />
<line x1="223.40" y1="2478.94" x2="252.40" y2="2478.94" stroke="#464242" stroke-width="1.7" />
<line x1="252.40" y1="2478.94" x2="281.40" y2="2478.94" stroke="#464242" stroke-width="1.7" />
<line x1="84.40" y1="2495.56" x2="165.00" y2="2495.56" stroke="#464242" stroke-width="1.7" />
<line x1="165.00" y1="2495.56" x2="194.00" y2="2495.56" stroke="#464242" stroke-width="1.7" />
<line x1="194.00" y1="2495.56" x2="223.40" y2="2495.56" stroke="#464242" stroke-width="1.7" />
<line x1="223.40" y1="2495.56" x2="252.40" y2="2495.56" stroke="#464242" stroke-width="1.7" />
<line x1="252.40" y1="2495.56" x2="281.40" y2="2495.56" stroke="#464242" stroke-width="1.7" />
<line x1="84.40" y1="2512.18" x2="165.00" y2="2512.18" stroke="#464242" stroke-width="1.7" />
<line x1="165.00" y1="2512.18" x2="194.00" y2="2512.18" stroke="#464242" stroke-width="1.7" />
<line x1="194.00" y1="2512.18" x2="223.40" y2="2512.18" stroke="#464242" stroke-width="1.7" />
<line x1="223.40" y1="2512.18" x2="252.40" y2="2512.18" stroke="#464242" stroke-width="1.7" />
<line x1="252.40" y1="2512.18" x2="281.40" y2="2512.18" stroke="#464242" stroke-width="1.7" />
<line x1="84.40" y1="2528.80" x2="165.00" y2="2528.80" stroke="#464242" stroke-width="1.7" />
<line x1="165.00" y1="2528.80" x2="194.00" y2="2528.80" stroke="#464242" stroke-width="1.7" />
<line x1="194.00" y1="2528.80" x2="223.40" y2="2528.80" stroke="#464242" stroke-width="1.7" />
<line x1="223.40" y1="2528.80" x2="252.40" y2="2528.80" stroke="#464242" stroke-width="1.7" />
<line x1="252.40" y1="2528.80" x2="281.40" y2="2528.80" stroke="#464242" stroke-width="1.7" />
<line x1="84.40" y1="2545.42" x2="165.00" y2="2545.42" stroke="#464242" stroke-width="1.7" />
<line x1="165.00" y1="2545.42" x2="194.00" y2="2545.42" stroke="#464242" stroke-width="1.7" />
<line x1="194.00" y1="2545.42" x2="223.40" y2="2545.42" stroke="#464242" stroke-width="1.7" />
<line x1="223.40" y1="2545.42" x2="252.40" y2="2545.42" stroke="#464242" stroke-width="1.7" />
<line x1="252.40" y1="2545.42" x2="281.40" y2="2545.42" stroke="#464242" stroke-width="1.7" />
<line x1="84.40" y1="2562.04" x2="165.00" y2="2562.04" stroke="#464242" stroke-width="1.7" />
<line x1="165.00" y1="2562.04" x2="194.00" y2="2562.04" stroke="#464242" stroke-width="1.7" />
<line x1="194.00" y1="2562.04" x2="223.40" y2="2562.04" stroke="#464242" stroke-width="1.7" />
<line x1="223.40" y1="2562.04" x2="252.40" y2="2562.04" stroke="#464242" stroke-width="1.7" />
<line x1="252.40" y1="2562.04" x2="281.40" y2="2562.04" stroke="#464242" stroke-width="1.7" />
<line x1="84.40" y1="2578.66" x2="165.00" y2="2578.66" stroke="#464242" stroke-width="1.7" />
<line x1="165.00" y1="2578.66" x2="194.00" y2="2578.66" stroke="#464242" stroke-width="1.7" />
<line x1="194.00" y1="2578.66" x2="223.40" y2="2578.66" stroke="#464242" stroke-width="1.7" />
<line x1="223.40" y1="2578.66" x2="252.40" y2="2578.66" stroke="#464242" stroke-width="1.7" />
<line x1="252.40" y1="2578.66" x2="281.40" y2="2578.66" stroke="#464242" stroke-width="1.7" />
<line x1="84.40" y1="2595.28" x2="165.00" y2="2595.28" stroke="#464242" stroke-width="1.7" />
<line x1="165.00" y1="2595.28" x2="194.00" y2="2595.28" stroke="#464242" stroke-width="1.7" />
<line x1="194.00" y1="2595.28" x2="223.40" y2="2595.28" stroke="#464242" stroke-width="1.7" />
<line x1="223.40" y1="2595.28" x2="252.40" y2="2595.28" stroke="#464242" stroke-width="1.7" />
<line x1="252.40" y1="2595.28" x2="281.40" y2="2595.28" stroke="#464242" stroke-width="1.7" />
<line x1="84.40" y1="2611.90" x2="165.00" y2="2611.90" stroke="#464242" stroke-width="1.7" />
<line x1="165.00" y1="2611.90" x2="194.00" y2="2611.90" stroke="#464242" stroke-width="1.7" />
<line x1="194.00" y1="2611.90" x2="223.40" y2="2611.90" stroke="#464242" stroke-width="1.7" />
<line x1="223.40" y1="2611.90" x2="252.40" y2="2611.90" stroke="#464242" stroke-width="1.7" />
<line x1="252.40" y1="2611.90" x2="281.40" y2="2611.90" stroke="#464242" stroke-width="1.7" />
<line x1="84.40" y1="2628.52" x2="165.00" y2="2628.52" stroke="#464242" stroke-width="1.7" />
<line x1="165.00" y1="2628.52" x2="194.00" y2="2628.52" stroke="#464242" stroke-width="1.7" />
<line x1="194.00" y1="2628.52" x2="223.40" y2="2628.52" stroke="#464242" stroke-width="1.7" />
<line x1="223.40" y1="2628.52" x2="252.40" y2="2628.52" stroke="#464242" stroke-width="1.7" />
<line x1="252.40" y1="2628.52" x2="281.40" y2="2628.52" stroke="#464242" stroke-width="1.7" />
<line x1="84.40" y1="2645.14" x2="165.00" y2="2645.14" stroke="#464242" stroke-width="1.7" />
<line x1="165.00" y1="2645.14" x2="194.00" y2="2645.14" stroke="#464242" stroke-width="1.7" />
<line x1="194.00" y1="2645.14" x2="223.40" y2="2645.14" stroke="#464242" stroke-width="1.7" />
<line x1="223.40" y1="2645.14" x2="252.40" y2="2645.14" stroke="#464242" stroke-width="1.7" />
<line x1="252.40" y1="2645.14" x2="281.40" y2="2645.14" stroke="#464242" stroke-width="1.7" />
<line x1="281.40" y1="2645.14" x2="374.40" y2="2645.14" stroke="#464242" stroke-width="1.7" />
<line x1="84.40" y1="2661.76" x2="165.00" y2="2661.76" stroke="#464242" stroke-width="1.7" />
<line x1="165.00" y1="2661.76" x2="194.00" y2="2661.76" stroke="#464242" stroke-width="1.7" />
<line x1="194.00" y1="2661.76" x2="223.40" y2="2661.76" stroke="#464242" stroke-width="1.7" />
<line x1="223.40" y1="2661.76" x2="252.40" y2="2661.76" stroke="#464242" stroke-width="1.7" />
<line x1="252.40" y1="2661.76" x2="281.40" y2="2661.76" stroke="#464242" stroke-width="1.7" />
<line x1="84.40" y1="2678.38" x2="165.00" y2="2678.38" stroke="#464242" stroke-width="1.7" />
<line x1="165.00" y1="2678.38" x2="194.00" y2="2678.38" stroke="#464242" stroke-width="1.7" />
<line x1="194.00" y1="2678.38" x2="223.40" y2="2678.38" stroke="#464242" stroke-width="1.7" />
<line x1="223.40" y1="2678.38" x2="252.40" y2="2678.38" stroke="#464242" stroke-width="1.7" />
<line x1="252.40" y1="2678.38" x2="281.40" y2="2678.38" stroke="#464242" stroke-width="1.7" />
<line x1="165.00" y1="2362.60" x2="165.00" y2="2695.00" stroke="#464242" stroke-width="1.7" />
<line x1="194.00" y1="2362.60" x2="194.00" y2="2695.00" stroke="#464242" stroke-width="1.7" />
<line x1="223.40" y1="2362.60" x2="223.40" y2="2695.00" stroke="#464242" stroke-width="1.7" />
<line x1="252.40" y1="2362.60" x2="252.40" y2="2695.00" stroke="#464242" stroke-width="1.7" />
<line x1="281.40" y1="2362.60" x2="281.40" y2="2695.00" stroke="#464242" stroke-width="1.7" />
<line x1="374.40" y1="2362.60" x2="374.40" y2="2695.00" stroke="#464242" stroke-width="1.7" />
<line x1="84.40" y1="2362.60" x2="466.00" y2="2362.60" stroke="#3e3a3a" stroke-width="1.5" />
<rect x="84.40" y="2345.60" width="381.60" height="349.40" fill="none" stroke="#3e3a3a" stroke-width="1.4" />
<text x="0" y="0" transform="translate(93.20,2358.10) scale(1,1.08)" font-size="11.7" font-weight="bold" text-anchor="start" fill="#ffffff" stroke="#ffffff" stroke-width="0.22" >Code</text>
<text x="0" y="0" transform="translate(179.50,2358.10) scale(1,1.08)" font-size="11.7" font-weight="bold" text-anchor="middle" fill="#ffffff" stroke="#ffffff" stroke-width="0.22" >Ød</text>
<text x="0" y="0" transform="translate(208.70,2358.10) scale(1,1.08)" font-size="11.7" font-weight="bold" text-anchor="middle" fill="#ffffff" stroke="#ffffff" stroke-width="0.22" >Ød1</text>
<text x="0" y="0" transform="translate(237.90,2358.10) scale(1,1.08)" font-size="11.7" font-weight="bold" text-anchor="middle" fill="#ffffff" stroke="#ffffff" stroke-width="0.22" >L</text>
<text x="0" y="0" transform="translate(266.90,2358.10) scale(1,1.08)" font-size="11.7" font-weight="bold" text-anchor="middle" fill="#ffffff" stroke="#ffffff" stroke-width="0.22" >L1</text>
<text x="0" y="0" transform="translate(327.90,2358.10) scale(1,1.08)" font-size="11.7" font-weight="bold" text-anchor="middle" fill="#ffffff" stroke="#ffffff" stroke-width="0.22" >Material of rod</text>
<text x="0" y="0" transform="translate(420.20,2358.10) scale(1,1.08)" font-size="11.7" font-weight="bold" text-anchor="middle" fill="#ffffff" stroke="#ffffff" stroke-width="0.22" >Material of tip</text>
<text x="0" y="0" transform="translate(273.39,2360.20) scale(1,1.08)" font-size="18" font-weight="bold" text-anchor="start" fill="#e3262b" >*</text>
<text x="0" y="0" transform="translate(93.00,2374.91) scale(1,1.08)" font-size="11.7" font-weight="bold" text-anchor="start" fill="#151515" stroke="#151515" stroke-width="0.22" >ISQ-50-051</text>
<text x="0" y="0" transform="translate(179.50,2374.91) scale(1,1.08)" font-size="11.7" text-anchor="middle" fill="#222222" stroke="#222222" stroke-width="0.22" >1</text>
<text x="0" y="0" transform="translate(208.70,2374.91) scale(1,1.08)" font-size="11.7" text-anchor="middle" fill="#222222" stroke="#222222" stroke-width="0.22" >0.7</text>
<text x="0" y="0" transform="translate(237.90,2374.91) scale(1,1.08)" font-size="11.7" text-anchor="middle" fill="#222222" stroke="#222222" stroke-width="0.22" >20</text>
<text x="0" y="0" transform="translate(266.90,2374.91) scale(1,1.08)" font-size="11.7" text-anchor="middle" fill="#222222" stroke="#222222" stroke-width="0.22" >5</text>
<text x="0" y="0" transform="translate(93.00,2391.53) scale(1,1.08)" font-size="11.7" font-weight="bold" text-anchor="start" fill="#151515" stroke="#151515" stroke-width="0.22" >ISQ-50-083</text>
<text x="0" y="0" transform="translate(179.50,2391.53) scale(1,1.08)" font-size="11.7" text-anchor="middle" fill="#222222" stroke="#222222" stroke-width="0.22" >1.5</text>
<text x="0" y="0" transform="translate(208.70,2391.53) scale(1,1.08)" font-size="11.7" text-anchor="middle" fill="#222222" stroke="#222222" stroke-width="0.22" >1</text>
<text x="0" y="0" transform="translate(237.90,2391.53) scale(1,1.08)" font-size="11.7" text-anchor="middle" fill="#222222" stroke="#222222" stroke-width="0.22" >30</text>
<text x="0" y="0" transform="translate(266.90,2391.53) scale(1,1.08)" font-size="11.7" text-anchor="middle" fill="#222222" stroke="#222222" stroke-width="0.22" >12</text>
<text x="0" y="0" transform="translate(93.00,2408.15) scale(1,1.08)" font-size="11.7" font-weight="bold" text-anchor="start" fill="#151515" stroke="#151515" stroke-width="0.22" >ISQ-50-110</text>
<text x="0" y="0" transform="translate(179.50,2408.15) scale(1,1.08)" font-size="11.7" text-anchor="middle" fill="#222222" stroke="#222222" stroke-width="0.22" >1.5</text>
<text x="0" y="0" transform="translate(208.70,2408.15) scale(1,1.08)" font-size="11.7" text-anchor="middle" fill="#222222" stroke="#222222" stroke-width="0.22" >1</text>
<text x="0" y="0" transform="translate(237.90,2408.15) scale(1,1.08)" font-size="11.7" text-anchor="middle" fill="#222222" stroke="#222222" stroke-width="0.22" >40</text>
<text x="0" y="0" transform="translate(266.90,2408.15) scale(1,1.08)" font-size="11.7" text-anchor="middle" fill="#222222" stroke="#222222" stroke-width="0.22" >20</text>
<text x="0" y="0" transform="translate(93.00,2424.77) scale(1,1.08)" font-size="11.7" font-weight="bold" text-anchor="start" fill="#151515" stroke="#151515" stroke-width="0.22" >ISQ-50-059</text>
<text x="0" y="0" transform="translate(179.50,2424.77) scale(1,1.08)" font-size="11.7" text-anchor="middle" fill="#222222" stroke="#222222" stroke-width="0.22" >2</text>
<text x="0" y="0" transform="translate(208.70,2424.77) scale(1,1.08)" font-size="11.7" text-anchor="middle" fill="#222222" stroke="#222222" stroke-width="0.22" >1.5</text>
<text x="0" y="0" transform="translate(237.90,2424.77) scale(1,1.08)" font-size="11.7" text-anchor="middle" fill="#222222" stroke="#222222" stroke-width="0.22" >20</text>
<text x="0" y="0" transform="translate(266.90,2424.77) scale(1,1.08)" font-size="11.7" text-anchor="middle" fill="#222222" stroke="#222222" stroke-width="0.22" >11</text>
<text x="0" y="0" transform="translate(93.00,2441.39) scale(1,1.08)" font-size="11.7" font-weight="bold" text-anchor="start" fill="#151515" stroke="#151515" stroke-width="0.22" >ISQ-50-086</text>
<text x="0" y="0" transform="translate(179.50,2441.39) scale(1,1.08)" font-size="11.7" text-anchor="middle" fill="#222222" stroke="#222222" stroke-width="0.22" >2</text>
<text x="0" y="0" transform="translate(208.70,2441.39) scale(1,1.08)" font-size="11.7" text-anchor="middle" fill="#222222" stroke="#222222" stroke-width="0.22" >1</text>
<text x="0" y="0" transform="translate(237.90,2441.39) scale(1,1.08)" font-size="11.7" text-anchor="middle" fill="#222222" stroke="#222222" stroke-width="0.22" >30</text>
<text x="0" y="0" transform="translate(266.90,2441.39) scale(1,1.08)" font-size="11.7" text-anchor="middle" fill="#222222" stroke="#222222" stroke-width="0.22" >21</text>
<text x="0" y="0" transform="translate(93.00,2458.01) scale(1,1.08)" font-size="11.7" font-weight="bold" text-anchor="start" fill="#151515" stroke="#151515" stroke-width="0.22" >ISQ-50-112</text>
<text x="0" y="0" transform="translate(179.50,2458.01) scale(1,1.08)" font-size="11.7" text-anchor="middle" fill="#222222" stroke="#222222" stroke-width="0.22" >2</text>
<text x="0" y="0" transform="translate(208.70,2458.01) scale(1,1.08)" font-size="11.7" text-anchor="middle" fill="#222222" stroke="#222222" stroke-width="0.22" >1</text>
<text x="0" y="0" transform="translate(237.90,2458.01) scale(1,1.08)" font-size="11.7" text-anchor="middle" fill="#222222" stroke="#222222" stroke-width="0.22" >40</text>
<text x="0" y="0" transform="translate(266.90,2458.01) scale(1,1.08)" font-size="11.7" text-anchor="middle" fill="#222222" stroke="#222222" stroke-width="0.22" >31</text>
<text x="0" y="0" transform="translate(93.00,2474.63) scale(1,1.08)" font-size="11.7" font-weight="bold" text-anchor="start" fill="#151515" stroke="#151515" stroke-width="0.22" >ISQ-50-150</text>
<text x="0" y="0" transform="translate(179.50,2474.63) scale(1,1.08)" font-size="11.7" text-anchor="middle" fill="#222222" stroke="#222222" stroke-width="0.22" >2</text>
<text x="0" y="0" transform="translate(208.70,2474.63) scale(1,1.08)" font-size="11.7" text-anchor="middle" fill="#222222" stroke="#222222" stroke-width="0.22" >1</text>
<text x="0" y="0" transform="translate(237.90,2474.63) scale(1,1.08)" font-size="11.7" text-anchor="middle" fill="#222222" stroke="#222222" stroke-width="0.22" >50</text>
<text x="0" y="0" transform="translate(266.90,2474.63) scale(1,1.08)" font-size="11.7" text-anchor="middle" fill="#222222" stroke="#222222" stroke-width="0.22" >5</text>
<text x="0" y="0" transform="translate(93.00,2491.25) scale(1,1.08)" font-size="11.7" font-weight="bold" text-anchor="start" fill="#151515" stroke="#151515" stroke-width="0.22" >ISQ-50-067</text>
<text x="0" y="0" transform="translate(179.50,2491.25) scale(1,1.08)" font-size="11.7" text-anchor="middle" fill="#222222" stroke="#222222" stroke-width="0.22" >3</text>
<text x="0" y="0" transform="translate(208.70,2491.25) scale(1,1.08)" font-size="11.7" text-anchor="middle" fill="#222222" stroke="#222222" stroke-width="0.22" >2</text>
<text x="0" y="0" transform="translate(237.90,2491.25) scale(1,1.08)" font-size="11.7" text-anchor="middle" fill="#222222" stroke="#222222" stroke-width="0.22" >20</text>
<text x="0" y="0" transform="translate(266.90,2491.25) scale(1,1.08)" font-size="11.7" text-anchor="middle" fill="#222222" stroke="#222222" stroke-width="0.22" >11</text>
<text x="0" y="0" transform="translate(93.00,2507.87) scale(1,1.08)" font-size="11.7" font-weight="bold" text-anchor="start" fill="#151515" stroke="#151515" stroke-width="0.22" >ISQ-50-092</text>
<text x="0" y="0" transform="translate(179.50,2507.87) scale(1,1.08)" font-size="11.7" text-anchor="middle" fill="#222222" stroke="#222222" stroke-width="0.22" >3</text>
<text x="0" y="0" transform="translate(208.70,2507.87) scale(1,1.08)" font-size="11.7" text-anchor="middle" fill="#222222" stroke="#222222" stroke-width="0.22" >2</text>
<text x="0" y="0" transform="translate(237.90,2507.87) scale(1,1.08)" font-size="11.7" text-anchor="middle" fill="#222222" stroke="#222222" stroke-width="0.22" >30</text>
<text x="0" y="0" transform="translate(266.90,2507.87) scale(1,1.08)" font-size="11.7" text-anchor="middle" fill="#222222" stroke="#222222" stroke-width="0.22" >21</text>
<text x="0" y="0" transform="translate(93.00,2524.49) scale(1,1.08)" font-size="11.7" font-weight="bold" text-anchor="start" fill="#151515" stroke="#151515" stroke-width="0.22" >ISQ-50-159</text>
<text x="0" y="0" transform="translate(179.50,2524.49) scale(1,1.08)" font-size="11.7" text-anchor="middle" fill="#222222" stroke="#222222" stroke-width="0.22" >3</text>
<text x="0" y="0" transform="translate(208.70,2524.49) scale(1,1.08)" font-size="11.7" text-anchor="middle" fill="#222222" stroke="#222222" stroke-width="0.22" >2</text>
<text x="0" y="0" transform="translate(237.90,2524.49) scale(1,1.08)" font-size="11.7" text-anchor="middle" fill="#222222" stroke="#222222" stroke-width="0.22" >50</text>
<text x="0" y="0" transform="translate(266.90,2524.49) scale(1,1.08)" font-size="11.7" text-anchor="middle" fill="#222222" stroke="#222222" stroke-width="0.22" >41</text>
<text x="0" y="0" transform="translate(93.00,2541.11) scale(1,1.08)" font-size="11.7" font-weight="bold" text-anchor="start" fill="#151515" stroke="#151515" stroke-width="0.22" >ISQ-50-071</text>
<text x="0" y="0" transform="translate(179.50,2541.11) scale(1,1.08)" font-size="11.7" text-anchor="middle" fill="#222222" stroke="#222222" stroke-width="0.22" >4</text>
<text x="0" y="0" transform="translate(208.70,2541.11) scale(1,1.08)" font-size="11.7" text-anchor="middle" fill="#222222" stroke="#222222" stroke-width="0.22" >2</text>
<text x="0" y="0" transform="translate(237.90,2541.11) scale(1,1.08)" font-size="11.7" text-anchor="middle" fill="#222222" stroke="#222222" stroke-width="0.22" >20</text>
<text x="0" y="0" transform="translate(266.90,2541.11) scale(1,1.08)" font-size="11.7" text-anchor="middle" fill="#222222" stroke="#222222" stroke-width="0.22" >11</text>
<text x="0" y="0" transform="translate(93.00,2557.73) scale(1,1.08)" font-size="11.7" font-weight="bold" text-anchor="start" fill="#151515" stroke="#151515" stroke-width="0.22" >ISQ-50-162</text>
<text x="0" y="0" transform="translate(179.50,2557.73) scale(1,1.08)" font-size="11.7" text-anchor="middle" fill="#222222" stroke="#222222" stroke-width="0.22" >4</text>
<text x="0" y="0" transform="translate(208.70,2557.73) scale(1,1.08)" font-size="11.7" text-anchor="middle" fill="#222222" stroke="#222222" stroke-width="0.22" >2</text>
<text x="0" y="0" transform="translate(237.90,2557.73) scale(1,1.08)" font-size="11.7" text-anchor="middle" fill="#222222" stroke="#222222" stroke-width="0.22" >50</text>
<text x="0" y="0" transform="translate(266.90,2557.73) scale(1,1.08)" font-size="11.7" text-anchor="middle" fill="#222222" stroke="#222222" stroke-width="0.22" >41</text>
<text x="0" y="0" transform="translate(93.00,2574.35) scale(1,1.08)" font-size="11.7" font-weight="bold" text-anchor="start" fill="#151515" stroke="#151515" stroke-width="0.22" >ISQ-50-216</text>
<text x="0" y="0" transform="translate(179.50,2574.35) scale(1,1.08)" font-size="11.7" text-anchor="middle" fill="#222222" stroke="#222222" stroke-width="0.22" >4</text>
<text x="0" y="0" transform="translate(208.70,2574.35) scale(1,1.08)" font-size="11.7" text-anchor="middle" fill="#222222" stroke="#222222" stroke-width="0.22" >3</text>
<text x="0" y="0" transform="translate(237.90,2574.35) scale(1,1.08)" font-size="11.7" text-anchor="middle" fill="#222222" stroke="#222222" stroke-width="0.22" >75</text>
<text x="0" y="0" transform="translate(266.90,2574.35) scale(1,1.08)" font-size="11.7" text-anchor="middle" fill="#222222" stroke="#222222" stroke-width="0.22" >65</text>
<text x="0" y="0" transform="translate(93.00,2590.97) scale(1,1.08)" font-size="11.7" font-weight="bold" text-anchor="start" fill="#151515" stroke="#151515" stroke-width="0.22" >ISQ-50-075</text>
<text x="0" y="0" transform="translate(179.50,2590.97) scale(1,1.08)" font-size="11.7" text-anchor="middle" fill="#222222" stroke="#222222" stroke-width="0.22" >5</text>
<text x="0" y="0" transform="translate(208.70,2590.97) scale(1,1.08)" font-size="11.7" text-anchor="middle" fill="#222222" stroke="#222222" stroke-width="0.22" >3</text>
<text x="0" y="0" transform="translate(237.90,2590.97) scale(1,1.08)" font-size="11.7" text-anchor="middle" fill="#222222" stroke="#222222" stroke-width="0.22" >20</text>
<text x="0" y="0" transform="translate(266.90,2590.97) scale(1,1.08)" font-size="11.7" text-anchor="middle" fill="#222222" stroke="#222222" stroke-width="0.22" >11</text>
<text x="0" y="0" transform="translate(93.00,2607.59) scale(1,1.08)" font-size="11.7" font-weight="bold" text-anchor="start" fill="#151515" stroke="#151515" stroke-width="0.22" >ISQ-50-165</text>
<text x="0" y="0" transform="translate(179.50,2607.59) scale(1,1.08)" font-size="11.7" text-anchor="middle" fill="#222222" stroke="#222222" stroke-width="0.22" >5</text>
<text x="0" y="0" transform="translate(208.70,2607.59) scale(1,1.08)" font-size="11.7" text-anchor="middle" fill="#222222" stroke="#222222" stroke-width="0.22" >3</text>
<text x="0" y="0" transform="translate(237.90,2607.59) scale(1,1.08)" font-size="11.7" text-anchor="middle" fill="#222222" stroke="#222222" stroke-width="0.22" >50</text>
<text x="0" y="0" transform="translate(266.90,2607.59) scale(1,1.08)" font-size="11.7" text-anchor="middle" fill="#222222" stroke="#222222" stroke-width="0.22" >41</text>
<text x="0" y="0" transform="translate(93.00,2624.21) scale(1,1.08)" font-size="11.7" font-weight="bold" text-anchor="start" fill="#151515" stroke="#151515" stroke-width="0.22" >ISQ-50-219</text>
<text x="0" y="0" transform="translate(179.50,2624.21) scale(1,1.08)" font-size="11.7" text-anchor="middle" fill="#222222" stroke="#222222" stroke-width="0.22" >5</text>
<text x="0" y="0" transform="translate(208.70,2624.21) scale(1,1.08)" font-size="11.7" text-anchor="middle" fill="#222222" stroke="#222222" stroke-width="0.22" >3</text>
<text x="0" y="0" transform="translate(237.90,2624.21) scale(1,1.08)" font-size="11.7" text-anchor="middle" fill="#222222" stroke="#222222" stroke-width="0.22" >75</text>
<text x="0" y="0" transform="translate(266.90,2624.21) scale(1,1.08)" font-size="11.7" text-anchor="middle" fill="#222222" stroke="#222222" stroke-width="0.22" >65</text>
<text x="0" y="0" transform="translate(93.00,2640.83) scale(1,1.08)" font-size="11.7" font-weight="bold" text-anchor="start" fill="#151515" stroke="#151515" stroke-width="0.22" >ISQ-50-290</text>
<text x="0" y="0" transform="translate(179.50,2640.83) scale(1,1.08)" font-size="11.7" text-anchor="middle" fill="#222222" stroke="#222222" stroke-width="0.22" >5</text>
<text x="0" y="0" transform="translate(208.70,2640.83) scale(1,1.08)" font-size="11.7" text-anchor="middle" fill="#222222" stroke="#222222" stroke-width="0.22" >3</text>
<text x="0" y="0" transform="translate(237.90,2640.83) scale(1,1.08)" font-size="11.7" text-anchor="middle" fill="#222222" stroke="#222222" stroke-width="0.22" >100</text>
<text x="0" y="0" transform="translate(266.90,2640.83) scale(1,1.08)" font-size="11.7" text-anchor="middle" fill="#222222" stroke="#222222" stroke-width="0.22" >50</text>
<text x="0" y="0" transform="translate(93.00,2657.45) scale(1,1.08)" font-size="11.7" font-weight="bold" text-anchor="start" fill="#151515" stroke="#151515" stroke-width="0.22" >ISQ-50-175</text>
<text x="0" y="0" transform="translate(179.50,2657.45) scale(1,1.08)" font-size="11.7" text-anchor="middle" fill="#222222" stroke="#222222" stroke-width="0.22" >6</text>
<text x="0" y="0" transform="translate(208.70,2657.45) scale(1,1.08)" font-size="11.7" text-anchor="middle" fill="#222222" stroke="#222222" stroke-width="0.22" >4</text>
<text x="0" y="0" transform="translate(237.90,2657.45) scale(1,1.08)" font-size="11.7" text-anchor="middle" fill="#222222" stroke="#222222" stroke-width="0.22" >50</text>
<text x="0" y="0" transform="translate(266.90,2657.45) scale(1,1.08)" font-size="11.7" text-anchor="middle" fill="#222222" stroke="#222222" stroke-width="0.22" >39</text>
<text x="0" y="0" transform="translate(93.00,2674.07) scale(1,1.08)" font-size="11.7" font-weight="bold" text-anchor="start" fill="#151515" stroke="#151515" stroke-width="0.22" >ISQ-50-235</text>
<text x="0" y="0" transform="translate(179.50,2674.07) scale(1,1.08)" font-size="11.7" text-anchor="middle" fill="#222222" stroke="#222222" stroke-width="0.22" >6</text>
<text x="0" y="0" transform="translate(208.70,2674.07) scale(1,1.08)" font-size="11.7" text-anchor="middle" fill="#222222" stroke="#222222" stroke-width="0.22" >4</text>
<text x="0" y="0" transform="translate(237.90,2674.07) scale(1,1.08)" font-size="11.7" text-anchor="middle" fill="#222222" stroke="#222222" stroke-width="0.22" >75</text>
<text x="0" y="0" transform="translate(266.90,2674.07) scale(1,1.08)" font-size="11.7" text-anchor="middle" fill="#222222" stroke="#222222" stroke-width="0.22" >64</text>
<text x="0" y="0" transform="translate(93.00,2690.69) scale(1,1.08)" font-size="11.7" font-weight="bold" text-anchor="start" fill="#151515" stroke="#151515" stroke-width="0.22" >ISQ-50-350</text>
<text x="0" y="0" transform="translate(179.50,2690.69) scale(1,1.08)" font-size="11.7" text-anchor="middle" fill="#222222" stroke="#222222" stroke-width="0.22" >6</text>
<text x="0" y="0" transform="translate(208.70,2690.69) scale(1,1.08)" font-size="11.7" text-anchor="middle" fill="#222222" stroke="#222222" stroke-width="0.22" >4</text>
<text x="0" y="0" transform="translate(237.90,2690.69) scale(1,1.08)" font-size="11.7" text-anchor="middle" fill="#222222" stroke="#222222" stroke-width="0.22" >150</text>
<text x="0" y="0" transform="translate(266.90,2690.69) scale(1,1.08)" font-size="11.7" text-anchor="middle" fill="#222222" stroke="#222222" stroke-width="0.22" >130</text>
<text x="0" y="0" transform="translate(327.90,2504.47) scale(1,1.08)" font-size="11.7" text-anchor="middle" fill="#222222" stroke="#222222" stroke-width="0.22" >carbide</text>
<text x="0" y="0" transform="translate(327.90,2673.67) scale(1,1.08)" font-size="11.7" text-anchor="middle" fill="#222222" stroke="#222222" stroke-width="0.22" >carbon fibre</text>
<text x="0" y="0" transform="translate(420.20,2532.40) scale(1,1.08)" font-size="11.7" text-anchor="middle" fill="#222222" stroke="#222222" stroke-width="0.22" >ruby</text>
<text x="0" y="0" transform="translate(85.00,2341.00) scale(1,1.08)" font-size="11.7" font-weight="bold" text-anchor="start" fill="#1a1a1a" stroke="#1a1a1a" stroke-width="0.22" >M5 styli</text>
<text x="0" y="0" transform="translate(466.60,2341.00) scale(1,1.08)" font-size="11.7" font-weight="bold" text-anchor="end" fill="#1a1a1a" stroke="#1a1a1a" stroke-width="0.22" >(mm)</text>
<text x="0" y="0" transform="translate(84.90,2711.30) scale(1,1.08)" font-size="17.5" font-weight="bold" text-anchor="start" fill="#e3262b" >*</text>
<text x="0" y="0" transform="translate(92.90,2713.00) scale(1,1.08)" font-size="11.7" text-anchor="start" fill="#222" stroke="#222" stroke-width="0.22" >L1 is the effective working length, which is the distance from the center</text>
<text x="0" y="0" transform="translate(92.90,2726.90) scale(1,1.08)" font-size="11.7" text-anchor="start" fill="#222" stroke="#222" stroke-width="0.22" >of the tip to the section of the stem with the same diameter as the tip.</text>
<rect x="585.40" y="2346.70" width="223.60" height="17.00" fill="#3d853f" stroke="none" stroke-width="1.0" />
<rect x="585.40" y="2363.70" width="223.60" height="116.62" fill="#d4d5d7" stroke="none" stroke-width="1.0" />
<line x1="665.50" y1="2347.70" x2="665.50" y2="2363.70" stroke="#e4efe4" stroke-width="0.9" />
<line x1="695.50" y1="2347.70" x2="695.50" y2="2363.70" stroke="#e4efe4" stroke-width="0.9" />
<line x1="724.50" y1="2347.70" x2="724.50" y2="2363.70" stroke="#e4efe4" stroke-width="0.9" />
<line x1="664.30" y1="2364.70" x2="664.30" y2="2480.32" stroke="#eeeff0" stroke-width="0.8" />
<line x1="666.90" y1="2364.70" x2="666.90" y2="2480.32" stroke="#eeeff0" stroke-width="0.8" />
<line x1="694.20" y1="2364.70" x2="694.20" y2="2480.32" stroke="#eeeff0" stroke-width="0.8" />
<line x1="696.80" y1="2364.70" x2="696.80" y2="2480.32" stroke="#eeeff0" stroke-width="0.8" />
<line x1="723.50" y1="2364.70" x2="723.50" y2="2480.32" stroke="#eeeff0" stroke-width="0.8" />
<line x1="585.40" y1="2379.11" x2="665.60" y2="2379.11" stroke="#eeeff0" stroke-width="0.8" />
<line x1="585.40" y1="2381.61" x2="665.60" y2="2381.61" stroke="#eeeff0" stroke-width="0.8" />
<line x1="665.60" y1="2379.11" x2="695.50" y2="2379.11" stroke="#eeeff0" stroke-width="0.8" />
<line x1="665.60" y1="2381.61" x2="695.50" y2="2381.61" stroke="#eeeff0" stroke-width="0.8" />
<line x1="695.50" y1="2379.11" x2="724.80" y2="2379.11" stroke="#eeeff0" stroke-width="0.8" />
<line x1="695.50" y1="2381.61" x2="724.80" y2="2381.61" stroke="#eeeff0" stroke-width="0.8" />
<line x1="585.40" y1="2395.77" x2="665.60" y2="2395.77" stroke="#eeeff0" stroke-width="0.8" />
<line x1="585.40" y1="2398.27" x2="665.60" y2="2398.27" stroke="#eeeff0" stroke-width="0.8" />
<line x1="665.60" y1="2395.77" x2="695.50" y2="2395.77" stroke="#eeeff0" stroke-width="0.8" />
<line x1="665.60" y1="2398.27" x2="695.50" y2="2398.27" stroke="#eeeff0" stroke-width="0.8" />
<line x1="695.50" y1="2395.77" x2="724.80" y2="2395.77" stroke="#eeeff0" stroke-width="0.8" />
<line x1="695.50" y1="2398.27" x2="724.80" y2="2398.27" stroke="#eeeff0" stroke-width="0.8" />
<line x1="585.40" y1="2412.43" x2="665.60" y2="2412.43" stroke="#eeeff0" stroke-width="0.8" />
<line x1="585.40" y1="2414.93" x2="665.60" y2="2414.93" stroke="#eeeff0" stroke-width="0.8" />
<line x1="665.60" y1="2412.43" x2="695.50" y2="2412.43" stroke="#eeeff0" stroke-width="0.8" />
<line x1="665.60" y1="2414.93" x2="695.50" y2="2414.93" stroke="#eeeff0" stroke-width="0.8" />
<line x1="695.50" y1="2412.43" x2="724.80" y2="2412.43" stroke="#eeeff0" stroke-width="0.8" />
<line x1="695.50" y1="2414.93" x2="724.80" y2="2414.93" stroke="#eeeff0" stroke-width="0.8" />
<line x1="585.40" y1="2429.09" x2="665.60" y2="2429.09" stroke="#eeeff0" stroke-width="0.8" />
<line x1="585.40" y1="2431.59" x2="665.60" y2="2431.59" stroke="#eeeff0" stroke-width="0.8" />
<line x1="665.60" y1="2429.09" x2="695.50" y2="2429.09" stroke="#eeeff0" stroke-width="0.8" />
<line x1="665.60" y1="2431.59" x2="695.50" y2="2431.59" stroke="#eeeff0" stroke-width="0.8" />
<line x1="695.50" y1="2429.09" x2="724.80" y2="2429.09" stroke="#eeeff0" stroke-width="0.8" />
<line x1="695.50" y1="2431.59" x2="724.80" y2="2431.59" stroke="#eeeff0" stroke-width="0.8" />
<line x1="585.40" y1="2445.75" x2="665.60" y2="2445.75" stroke="#eeeff0" stroke-width="0.8" />
<line x1="585.40" y1="2448.25" x2="665.60" y2="2448.25" stroke="#eeeff0" stroke-width="0.8" />
<line x1="665.60" y1="2445.75" x2="695.50" y2="2445.75" stroke="#eeeff0" stroke-width="0.8" />
<line x1="665.60" y1="2448.25" x2="695.50" y2="2448.25" stroke="#eeeff0" stroke-width="0.8" />
<line x1="695.50" y1="2445.75" x2="724.80" y2="2445.75" stroke="#eeeff0" stroke-width="0.8" />
<line x1="695.50" y1="2448.25" x2="724.80" y2="2448.25" stroke="#eeeff0" stroke-width="0.8" />
<line x1="585.40" y1="2462.41" x2="665.60" y2="2462.41" stroke="#eeeff0" stroke-width="0.8" />
<line x1="585.40" y1="2464.91" x2="665.60" y2="2464.91" stroke="#eeeff0" stroke-width="0.8" />
<line x1="665.60" y1="2462.41" x2="695.50" y2="2462.41" stroke="#eeeff0" stroke-width="0.8" />
<line x1="665.60" y1="2464.91" x2="695.50" y2="2464.91" stroke="#eeeff0" stroke-width="0.8" />
<line x1="695.50" y1="2462.41" x2="724.80" y2="2462.41" stroke="#eeeff0" stroke-width="0.8" />
<line x1="695.50" y1="2464.91" x2="724.80" y2="2464.91" stroke="#eeeff0" stroke-width="0.8" />
<line x1="585.40" y1="2380.36" x2="665.60" y2="2380.36" stroke="#464242" stroke-width="1.7" />
<line x1="665.60" y1="2380.36" x2="695.50" y2="2380.36" stroke="#464242" stroke-width="1.7" />
<line x1="695.50" y1="2380.36" x2="724.80" y2="2380.36" stroke="#464242" stroke-width="1.7" />
<line x1="585.40" y1="2397.02" x2="665.60" y2="2397.02" stroke="#464242" stroke-width="1.7" />
<line x1="665.60" y1="2397.02" x2="695.50" y2="2397.02" stroke="#464242" stroke-width="1.7" />
<line x1="695.50" y1="2397.02" x2="724.80" y2="2397.02" stroke="#464242" stroke-width="1.7" />
<line x1="585.40" y1="2413.68" x2="665.60" y2="2413.68" stroke="#464242" stroke-width="1.7" />
<line x1="665.60" y1="2413.68" x2="695.50" y2="2413.68" stroke="#464242" stroke-width="1.7" />
<line x1="695.50" y1="2413.68" x2="724.80" y2="2413.68" stroke="#464242" stroke-width="1.7" />
<line x1="585.40" y1="2430.34" x2="665.60" y2="2430.34" stroke="#464242" stroke-width="1.7" />
<line x1="665.60" y1="2430.34" x2="695.50" y2="2430.34" stroke="#464242" stroke-width="1.7" />
<line x1="695.50" y1="2430.34" x2="724.80" y2="2430.34" stroke="#464242" stroke-width="1.7" />
<line x1="724.80" y1="2430.34" x2="809.00" y2="2430.34" stroke="#464242" stroke-width="1.7" />
<line x1="585.40" y1="2447.00" x2="665.60" y2="2447.00" stroke="#464242" stroke-width="1.7" />
<line x1="665.60" y1="2447.00" x2="695.50" y2="2447.00" stroke="#464242" stroke-width="1.7" />
<line x1="695.50" y1="2447.00" x2="724.80" y2="2447.00" stroke="#464242" stroke-width="1.7" />
<line x1="585.40" y1="2463.66" x2="665.60" y2="2463.66" stroke="#464242" stroke-width="1.7" />
<line x1="665.60" y1="2463.66" x2="695.50" y2="2463.66" stroke="#464242" stroke-width="1.7" />
<line x1="695.50" y1="2463.66" x2="724.80" y2="2463.66" stroke="#464242" stroke-width="1.7" />
<line x1="665.60" y1="2363.70" x2="665.60" y2="2480.32" stroke="#464242" stroke-width="1.7" />
<line x1="695.50" y1="2363.70" x2="695.50" y2="2480.32" stroke="#464242" stroke-width="1.7" />
<line x1="724.80" y1="2363.70" x2="724.80" y2="2480.32" stroke="#464242" stroke-width="1.7" />
<line x1="585.40" y1="2363.70" x2="809.00" y2="2363.70" stroke="#3e3a3a" stroke-width="1.5" />
<rect x="585.40" y="2346.70" width="223.60" height="133.62" fill="none" stroke="#3e3a3a" stroke-width="1.4" />
<text x="0" y="0" transform="translate(594.20,2359.20) scale(1,1.08)" font-size="11.7" font-weight="bold" text-anchor="start" fill="#ffffff" stroke="#ffffff" stroke-width="0.22" >Code</text>
<text x="0" y="0" transform="translate(680.55,2359.20) scale(1,1.08)" font-size="11.7" font-weight="bold" text-anchor="middle" fill="#ffffff" stroke="#ffffff" stroke-width="0.22" >Ød</text>
<text x="0" y="0" transform="translate(710.15,2359.20) scale(1,1.08)" font-size="11.7" font-weight="bold" text-anchor="middle" fill="#ffffff" stroke="#ffffff" stroke-width="0.22" >L</text>
<text x="0" y="0" transform="translate(766.90,2359.20) scale(1,1.08)" font-size="11.7" font-weight="bold" text-anchor="middle" fill="#ffffff" stroke="#ffffff" stroke-width="0.22" >Material</text>
<text x="0" y="0" transform="translate(594.00,2376.03) scale(1,1.08)" font-size="11.7" font-weight="bold" text-anchor="start" fill="#151515" stroke="#151515" stroke-width="0.22" >ISQ-55-012</text>
<text x="0" y="0" transform="translate(680.55,2376.03) scale(1,1.08)" font-size="11.7" text-anchor="middle" fill="#222222" stroke="#222222" stroke-width="0.22" >10</text>
<text x="0" y="0" transform="translate(710.15,2376.03) scale(1,1.08)" font-size="11.7" text-anchor="middle" fill="#222222" stroke="#222222" stroke-width="0.22" >20</text>
<text x="0" y="0" transform="translate(594.00,2392.69) scale(1,1.08)" font-size="11.7" font-weight="bold" text-anchor="start" fill="#151515" stroke="#151515" stroke-width="0.22" >ISQ-55-014</text>
<text x="0" y="0" transform="translate(680.55,2392.69) scale(1,1.08)" font-size="11.7" text-anchor="middle" fill="#222222" stroke="#222222" stroke-width="0.22" >10</text>
<text x="0" y="0" transform="translate(710.15,2392.69) scale(1,1.08)" font-size="11.7" text-anchor="middle" fill="#222222" stroke="#222222" stroke-width="0.22" >30</text>
<text x="0" y="0" transform="translate(594.00,2409.35) scale(1,1.08)" font-size="11.7" font-weight="bold" text-anchor="start" fill="#151515" stroke="#151515" stroke-width="0.22" >ISQ-55-016</text>
<text x="0" y="0" transform="translate(680.55,2409.35) scale(1,1.08)" font-size="11.7" text-anchor="middle" fill="#222222" stroke="#222222" stroke-width="0.22" >10</text>
<text x="0" y="0" transform="translate(710.15,2409.35) scale(1,1.08)" font-size="11.7" text-anchor="middle" fill="#222222" stroke="#222222" stroke-width="0.22" >50</text>
<text x="0" y="0" transform="translate(594.00,2426.01) scale(1,1.08)" font-size="11.7" font-weight="bold" text-anchor="start" fill="#151515" stroke="#151515" stroke-width="0.22" >ISQ-55-018</text>
<text x="0" y="0" transform="translate(680.55,2426.01) scale(1,1.08)" font-size="11.7" text-anchor="middle" fill="#222222" stroke="#222222" stroke-width="0.22" >10</text>
<text x="0" y="0" transform="translate(710.15,2426.01) scale(1,1.08)" font-size="11.7" text-anchor="middle" fill="#222222" stroke="#222222" stroke-width="0.22" >100</text>
<text x="0" y="0" transform="translate(594.00,2442.67) scale(1,1.08)" font-size="11.7" font-weight="bold" text-anchor="start" fill="#151515" stroke="#151515" stroke-width="0.22" >ISQ-55-031</text>
<text x="0" y="0" transform="translate(680.55,2442.67) scale(1,1.08)" font-size="11.7" text-anchor="middle" fill="#222222" stroke="#222222" stroke-width="0.22" >20</text>
<text x="0" y="0" transform="translate(710.15,2442.67) scale(1,1.08)" font-size="11.7" text-anchor="middle" fill="#222222" stroke="#222222" stroke-width="0.22" >50</text>
<text x="0" y="0" transform="translate(594.00,2459.33) scale(1,1.08)" font-size="11.7" font-weight="bold" text-anchor="start" fill="#151515" stroke="#151515" stroke-width="0.22" >ISQ-55-035</text>
<text x="0" y="0" transform="translate(680.55,2459.33) scale(1,1.08)" font-size="11.7" text-anchor="middle" fill="#222222" stroke="#222222" stroke-width="0.22" >20</text>
<text x="0" y="0" transform="translate(710.15,2459.33) scale(1,1.08)" font-size="11.7" text-anchor="middle" fill="#222222" stroke="#222222" stroke-width="0.22" >100</text>
<text x="0" y="0" transform="translate(594.00,2475.99) scale(1,1.08)" font-size="11.7" font-weight="bold" text-anchor="start" fill="#151515" stroke="#151515" stroke-width="0.22" >ISQ-55-039</text>
<text x="0" y="0" transform="translate(680.55,2475.99) scale(1,1.08)" font-size="11.7" text-anchor="middle" fill="#222222" stroke="#222222" stroke-width="0.22" >20</text>
<text x="0" y="0" transform="translate(710.15,2475.99) scale(1,1.08)" font-size="11.7" text-anchor="middle" fill="#222222" stroke="#222222" stroke-width="0.22" >200</text>
<text x="0" y="0" transform="translate(766.90,2400.62) scale(1,1.08)" font-size="11.7" text-anchor="middle" fill="#222222" stroke="#222222" stroke-width="0.22" >stainless steel</text>
<text x="0" y="0" transform="translate(766.90,2458.93) scale(1,1.08)" font-size="11.7" text-anchor="middle" fill="#222222" stroke="#222222" stroke-width="0.22" >aluminum</text>
<text x="0" y="0" transform="translate(586.00,2341.40) scale(1,1.08)" font-size="11.7" font-weight="bold" text-anchor="start" fill="#1a1a1a" stroke="#1a1a1a" stroke-width="0.22" >M5 extension rods of styli</text>
<text x="0" y="0" transform="translate(805.20,2341.40) scale(1,1.08)" font-size="11.7" font-weight="bold" text-anchor="end" fill="#1a1a1a" stroke="#1a1a1a" stroke-width="0.22" >(mm)</text>
<defs>
<clipPath id="bclip"><polygon points="0,0 178,0 204.6,35 191,54.8 0,54.8"/></clipPath>
</defs>
<g clip-path="url(#bclip)">
<rect x="0" y="0" width="210" height="55" fill="#899196"/>
<!-- left plate with holes -->
<rect x="0" y="0" width="18" height="55" fill="#8e969b"/>
<circle cx="12" cy="15" r="1.6" fill="#2d3134"/><circle cx="9.5" cy="25.5" r="1.4" fill="#2d3134"/>
<circle cx="17.5" cy="22" r="2.2" fill="#2d3134"/><circle cx="10.8" cy="31" r="1.4" fill="#2d3134"/>
<circle cx="0.5" cy="14" r="1.2" fill="#3a3e42"/>
<path d="M0,0 L5,0 Q3,28 6,55 L0,55 Z" fill="#a9b0b4" opacity="0.6"/>
<!-- spring strip -->
<rect x="17" y="0" width="11" height="55" fill="#1d2023"/>
<rect x="18" y="3" width="8" height="1.8" fill="#9ea4a8"/><rect x="18" y="8.5" width="8" height="1.8" fill="#9ea4a8"/>
<rect x="18" y="14" width="8" height="1.5" fill="#8a9095"/><rect x="19" y="33" width="6" height="2" fill="#7f8589"/>
<path d="M18,36 L28,28 L28,33 L20,40 Z" fill="#9aa0a4"/>
<path d="M22,46 Q25,50 28,55 L17,55 Z" fill="#8f8877" opacity="0.5"/>
<!-- big light disc rim: center (128,28) -->
<circle cx="128" cy="28" r="100" fill="#a4acb1"/>
<circle cx="128" cy="28" r="98.5" fill="none" stroke="#b9c0c4" stroke-width="1.0"/>
<path d="M36,10 L47,13 L40,19 Z" fill="#bfc5c9"/><path d="M37,30 L48,26 L42,36 Z" fill="#949ca1"/><path d="M38,46 L48,44 L44,52 Z" fill="#bfc5c9"/>
<circle cx="128" cy="28" r="73" fill="#171a1c"/>
<circle cx="128" cy="28" r="69" fill="none" stroke="#6d7479" stroke-width="1.3"/>
<circle cx="128" cy="28" r="64" fill="none" stroke="#5c6368" stroke-width="1"/>
<circle cx="128" cy="28" r="57" fill="none" stroke="#8b9398" stroke-width="2"/>
<circle cx="128" cy="28" r="53" fill="#8a9297"/>
<!-- gear texture middle -->
<rect x="75" y="0" width="60" height="22" fill="#8f989d"/>
<path d="M80,0 L92,0 L88,22 L76,22 Z" fill="#a3abb0"/>
<path d="M98,2 L112,2 L108,20 L96,20 Z" fill="#b2b9bd"/>
<g fill="#25292c">
<rect x="118" y="3" width="2.2" height="3" /><rect x="122" y="4" width="2.2" height="3"/><rect x="126" y="5" width="2.2" height="3"/>
<rect x="116" y="12" width="2.2" height="3"/><rect x="120" y="13" width="2.2" height="3"/><rect x="124" y="14" width="2.2" height="3"/>
<rect x="128" y="15" width="2.2" height="3"/>
</g>
<path d="M66,40 L78,40 L76,55 L64,55 Z" fill="#2a2e31"/>
<path d="M100,47 L130,47 L128,55 L98,55 Z" fill="#5e656a"/>
<!-- right concentric rings, center (245,30) -->
<circle cx="245" cy="30" r="112" fill="none" stroke="#aeb5ba" stroke-width="6"/>
<circle cx="245" cy="30" r="106" fill="none" stroke="#1c1f22" stroke-width="4"/>
<circle cx="245" cy="30" r="99" fill="none" stroke="#9ea6ab" stroke-width="8"/>
<circle cx="245" cy="30" r="92" fill="none" stroke="#23272a" stroke-width="2.5"/>
<circle cx="245" cy="30" r="86" fill="none" stroke="#a2aaae" stroke-width="8"/>
<circle cx="245" cy="30" r="79" fill="none" stroke="#3a3f43" stroke-width="2"/>
<circle cx="245" cy="30" r="73" fill="none" stroke="#98a0a5" stroke-width="9"/>
<circle cx="245" cy="30" r="66" fill="none" stroke="#2b2f33" stroke-width="2"/>
<circle cx="245" cy="30" r="59" fill="none" stroke="#8f979c" stroke-width="10" stroke-dasharray="4,2"/>
<circle cx="245" cy="30" r="52" fill="none" stroke="#16191b" stroke-width="4"/>
<path d="M140,0 L162,0 L150,25 L140,25 Z" fill="#1e2124"/>
</g>
<polygon points="178,0 197.4,0 225.3,35 212.3,54.8 191,54.8 204.6,35" fill="#4a924b"/>
<!-- logo -->
<polygon points="53.9,33.0 65.5,21.6 65.5,30.6 69.5,30.6 68.3,36.2 65.5,36.2 65.5,44.3" fill="#fff"/>
<polygon points="153.3,33.0 142.5,21.6 142.5,30.6 136.0,30.6 134.8,36.2 142.5,36.2 142.5,44.3" fill="#fff"/>
<text x="0" y="0" font-size="33" font-weight="bold" font-style="italic" fill="#fff" stroke="#fff" stroke-width="2.2" stroke-linejoin="miter" transform="translate(68.0,44.1) skewX(-8) scale(0.615,1)">INSIZE</text>

<line x1="191.00" y1="54.30" x2="899.00" y2="54.30" stroke="#3f8a42" stroke-width="2.2" />
<text x="0" y="0" transform="translate(301.20,225.40) scale(1,1.08)" font-size="8.6" text-anchor="start" fill="#222" stroke="#222" stroke-width="0.22" >Unit: mm</text>
<line x1="150.20" y1="246.30" x2="188.90" y2="246.30" stroke="#4e4e4e" stroke-width="0.7" />
<line x1="150.20" y1="266.40" x2="188.90" y2="266.40" stroke="#4e4e4e" stroke-width="0.7" />
<line x1="152.70" y1="246.30" x2="152.70" y2="266.40" stroke="#4e4e4e" stroke-width="0.85" />
<line x1="167.90" y1="249.80" x2="172.70" y2="249.80" stroke="#4e4e4e" stroke-width="0.7" />
<line x1="167.90" y1="262.90" x2="172.70" y2="262.90" stroke="#4e4e4e" stroke-width="0.7" />
<line x1="170.30" y1="249.80" x2="170.30" y2="262.90" stroke="#4e4e4e" stroke-width="0.85" />
<text x="0" y="0" font-size="9.0" text-anchor="middle" fill="#222" stroke="#222" stroke-width="0.15" transform="translate(147.60,256.35) rotate(-90)" dy="3.24">Ø3</text>
<text x="0" y="0" font-size="9.0" text-anchor="middle" fill="#222" stroke="#222" stroke-width="0.15" transform="translate(162.50,256.35) rotate(-90)" dy="3.24">M2</text>
<rect x="176.10" y="249.80" width="13.80" height="13.10" rx="1.4" fill="#d8d8d9" stroke="#4a4a4a" stroke-width="1.5"/>
<rect x="188.90" y="246.30" width="23.10" height="20.10" fill="#d8d8d9" stroke="#4a4a4a" stroke-width="1.2" />
<circle cx="200.20" cy="256.40" r="4.10" fill="#fff" stroke="#4a4a4a" stroke-width="1.1" />
<polygon points="212.00,246.30 234.60,253.00 234.60,258.70 212.00,266.40" fill="#d8d8d9" stroke="#4a4a4a" stroke-width="1.2" stroke-linejoin="round" />
<rect x="234.60" y="253.00" width="83.90" height="5.70" fill="#d8d8d9" stroke="#4a4a4a" stroke-width="1.2" />
<circle cx="322.30" cy="256.10" r="4.20" fill="#d8d8d9" stroke="#4a4a4a" stroke-width="1.1" />
<line x1="259.60" y1="247.00" x2="259.60" y2="265.50" stroke="#4e4e4e" stroke-width="0.85" />
<line x1="259.60" y1="247.00" x2="279.80" y2="247.00" stroke="#4e4e4e" stroke-width="0.85" />
<text x="0" y="0" transform="translate(272.20,243.90) scale(1,1.08)" font-size="8.6" text-anchor="middle" fill="#222" stroke="#222" stroke-width="0.22" >Ød1</text>
<line x1="327.80" y1="245.20" x2="327.80" y2="266.80" stroke="#4e4e4e" stroke-width="0.85" />
<line x1="327.80" y1="245.20" x2="340.10" y2="245.20" stroke="#4e4e4e" stroke-width="0.85" />
<line x1="322.30" y1="251.90" x2="330.80" y2="251.90" stroke="#4e4e4e" stroke-width="0.6" />
<line x1="322.30" y1="260.30" x2="330.80" y2="260.30" stroke="#4e4e4e" stroke-width="0.6" />
<text x="0" y="0" transform="translate(333.50,242.60) scale(1,1.08)" font-size="8.6" text-anchor="middle" fill="#222" stroke="#222" stroke-width="0.22" >Ød</text>
<line x1="230.70" y1="260.20" x2="230.70" y2="277.10" stroke="#4e4e4e" stroke-width="0.85" />
<line x1="189.00" y1="268.90" x2="189.00" y2="291.00" stroke="#4e4e4e" stroke-width="0.85" />
<line x1="321.80" y1="256.10" x2="321.80" y2="291.00" stroke="#4e4e4e" stroke-width="0.85" />
<line x1="230.70" y1="274.10" x2="321.80" y2="274.10" stroke="#4e4e4e" stroke-width="0.85" />
<line x1="189.00" y1="288.00" x2="321.80" y2="288.00" stroke="#4e4e4e" stroke-width="0.85" />
<polygon points="321.80,274.10 318.60,272.90 318.60,275.30" fill="#4e4e4e"/>
<polygon points="321.80,288.00 318.60,286.80 318.60,289.20" fill="#4e4e4e"/>
<polygon points="230.70,274.10 233.90,272.90 233.90,275.30" fill="#4e4e4e"/>
<polygon points="189.00,288.00 192.20,286.80 192.20,289.20" fill="#4e4e4e"/>
<text x="0" y="0" transform="translate(277.70,270.90) scale(1,1.08)" font-size="9.2" text-anchor="middle" fill="#222" stroke="#222" stroke-width="0.22" >L1</text>
<text x="0" y="0" transform="translate(254.20,285.20) scale(1,1.08)" font-size="9.2" text-anchor="middle" fill="#222" stroke="#222" stroke-width="0.22" >L</text>
<text x="0" y="0" transform="translate(291.60,1215.00) scale(1,1.08)" font-size="8.6" text-anchor="start" fill="#222" stroke="#222" stroke-width="0.22" >Unit: mm</text>
<line x1="92.30" y1="1234.30" x2="129.50" y2="1234.30" stroke="#4e4e4e" stroke-width="0.7" />
<line x1="92.30" y1="1265.00" x2="129.50" y2="1265.00" stroke="#4e4e4e" stroke-width="0.7" />
<line x1="94.80" y1="1234.30" x2="94.80" y2="1265.00" stroke="#4e4e4e" stroke-width="0.85" />
<line x1="110.20" y1="1240.70" x2="115.00" y2="1240.70" stroke="#4e4e4e" stroke-width="0.7" />
<line x1="110.20" y1="1258.50" x2="115.00" y2="1258.50" stroke="#4e4e4e" stroke-width="0.7" />
<line x1="112.60" y1="1240.70" x2="112.60" y2="1258.50" stroke="#4e4e4e" stroke-width="0.85" />
<text x="0" y="0" font-size="9.0" text-anchor="middle" fill="#222" stroke="#222" stroke-width="0.15" transform="translate(89.40,1249.65) rotate(-90)" dy="3.24">Ø4</text>
<text x="0" y="0" font-size="9.0" text-anchor="middle" fill="#222" stroke="#222" stroke-width="0.15" transform="translate(107.20,1249.60) rotate(-90)" dy="3.24">M3</text>
<rect x="117.90" y="1240.70" width="12.60" height="17.80" rx="1.4" fill="#d8d8d9" stroke="#4a4a4a" stroke-width="1.5"/>
<rect x="129.50" y="1234.30" width="21.30" height="30.70" fill="#d8d8d9" stroke="#4a4a4a" stroke-width="1.2" />
<circle cx="139.30" cy="1249.60" r="3.20" fill="#fff" stroke="#4a4a4a" stroke-width="1.1" />
<polygon points="150.80,1234.30 187.30,1244.50 187.30,1256.00 150.80,1265.00" fill="#d8d8d9" stroke="#4a4a4a" stroke-width="1.2" stroke-linejoin="round" />
<rect x="187.30" y="1246.20" width="121.20" height="6.90" fill="#d8d8d9" stroke="#4a4a4a" stroke-width="1.2" />
<circle cx="313.70" cy="1249.30" r="5.90" fill="#d8d8d9" stroke="#4a4a4a" stroke-width="1.1" />
<line x1="207.40" y1="1240.70" x2="207.40" y2="1258.80" stroke="#4e4e4e" stroke-width="0.85" />
<line x1="207.40" y1="1240.70" x2="217.60" y2="1240.70" stroke="#4e4e4e" stroke-width="0.85" />
<text x="0" y="0" transform="translate(215.40,1238.30) scale(1,1.08)" font-size="8.6" text-anchor="middle" fill="#222" stroke="#222" stroke-width="0.22" >Ød1</text>
<line x1="322.00" y1="1236.60" x2="322.00" y2="1262.40" stroke="#4e4e4e" stroke-width="0.85" />
<line x1="322.00" y1="1236.60" x2="310.20" y2="1236.60" stroke="#4e4e4e" stroke-width="0.85" />
<line x1="313.70" y1="1243.40" x2="325.00" y2="1243.40" stroke="#4e4e4e" stroke-width="0.6" />
<line x1="313.70" y1="1255.20" x2="325.00" y2="1255.20" stroke="#4e4e4e" stroke-width="0.6" />
<text x="0" y="0" transform="translate(316.70,1234.50) scale(1,1.08)" font-size="8.6" text-anchor="middle" fill="#222" stroke="#222" stroke-width="0.22" >Ød</text>
<line x1="187.30" y1="1257.50" x2="187.30" y2="1269.40" stroke="#4e4e4e" stroke-width="0.85" />
<line x1="129.50" y1="1267.50" x2="129.50" y2="1284.20" stroke="#4e4e4e" stroke-width="0.85" />
<line x1="313.60" y1="1249.30" x2="313.60" y2="1284.20" stroke="#4e4e4e" stroke-width="0.85" />
<line x1="187.30" y1="1266.40" x2="313.60" y2="1266.40" stroke="#4e4e4e" stroke-width="0.85" />
<line x1="129.50" y1="1281.20" x2="313.60" y2="1281.20" stroke="#4e4e4e" stroke-width="0.85" />
<polygon points="313.60,1266.40 310.40,1265.20 310.40,1267.60" fill="#4e4e4e"/>
<polygon points="313.60,1281.20 310.40,1280.00 310.40,1282.40" fill="#4e4e4e"/>
<polygon points="187.30,1266.40 190.50,1265.20 190.50,1267.60" fill="#4e4e4e"/>
<polygon points="129.50,1281.20 132.70,1280.00 132.70,1282.40" fill="#4e4e4e"/>
<text x="0" y="0" transform="translate(249.30,1262.80) scale(1,1.08)" font-size="9.2" text-anchor="middle" fill="#222" stroke="#222" stroke-width="0.22" >L1</text>
<text x="0" y="0" transform="translate(221.60,1277.50) scale(1,1.08)" font-size="9.2" text-anchor="middle" fill="#222" stroke="#222" stroke-width="0.22" >L</text>
<text x="0" y="0" transform="translate(722.40,1616.00) scale(1,1.08)" font-size="8.6" text-anchor="start" fill="#222" stroke="#222" stroke-width="0.22" >Unit: mm</text>
<line x1="521.00" y1="1636.50" x2="558.10" y2="1636.50" stroke="#4e4e4e" stroke-width="0.7" />
<line x1="521.00" y1="1667.40" x2="558.10" y2="1667.40" stroke="#4e4e4e" stroke-width="0.7" />
<line x1="523.50" y1="1636.50" x2="523.50" y2="1667.40" stroke="#4e4e4e" stroke-width="0.85" />
<line x1="538.70" y1="1643.30" x2="543.50" y2="1643.30" stroke="#4e4e4e" stroke-width="0.7" />
<line x1="538.70" y1="1660.20" x2="543.50" y2="1660.20" stroke="#4e4e4e" stroke-width="0.7" />
<line x1="541.10" y1="1643.30" x2="541.10" y2="1660.20" stroke="#4e4e4e" stroke-width="0.85" />
<text x="0" y="0" font-size="9.0" text-anchor="middle" fill="#222" stroke="#222" stroke-width="0.15" transform="translate(517.00,1651.95) rotate(-90)" dy="3.24">Ø7</text>
<text x="0" y="0" font-size="9.0" text-anchor="middle" fill="#222" stroke="#222" stroke-width="0.15" transform="translate(534.50,1651.75) rotate(-90)" dy="3.24">M4</text>
<rect x="545.70" y="1643.30" width="13.40" height="16.90" rx="1.4" fill="#d8d8d9" stroke="#4a4a4a" stroke-width="1.5"/>
<rect x="558.10" y="1636.50" width="21.50" height="30.90" fill="#d8d8d9" stroke="#4a4a4a" stroke-width="1.2" />
<circle cx="568.50" cy="1651.70" r="3.90" fill="#fff" stroke="#4a4a4a" stroke-width="1.1" />
<polygon points="579.60,1636.50 616.10,1642.60 616.10,1660.90 579.60,1667.40" fill="#d8d8d9" stroke="#4a4a4a" stroke-width="1.2" stroke-linejoin="round" />
<rect x="616.10" y="1645.20" width="118.90" height="13.10" fill="#d8d8d9" stroke="#4a4a4a" stroke-width="1.2" />
<circle cx="743.80" cy="1651.70" r="10.30" fill="#d8d8d9" stroke="#4a4a4a" stroke-width="1.1" />
<line x1="641.30" y1="1639.90" x2="641.30" y2="1663.70" stroke="#4e4e4e" stroke-width="0.85" />
<line x1="641.30" y1="1639.90" x2="658.40" y2="1639.90" stroke="#4e4e4e" stroke-width="0.85" />
<text x="0" y="0" transform="translate(649.50,1637.00) scale(1,1.08)" font-size="8.6" text-anchor="middle" fill="#222" stroke="#222" stroke-width="0.22" >Ød1</text>
<line x1="757.00" y1="1636.40" x2="757.00" y2="1668.40" stroke="#4e4e4e" stroke-width="0.85" />
<line x1="757.00" y1="1636.40" x2="745.30" y2="1636.40" stroke="#4e4e4e" stroke-width="0.85" />
<line x1="743.80" y1="1641.40" x2="760.00" y2="1641.40" stroke="#4e4e4e" stroke-width="0.6" />
<line x1="743.80" y1="1662.00" x2="760.00" y2="1662.00" stroke="#4e4e4e" stroke-width="0.6" />
<text x="0" y="0" transform="translate(751.20,1634.60) scale(1,1.08)" font-size="8.6" text-anchor="middle" fill="#222" stroke="#222" stroke-width="0.22" >Ød</text>
<line x1="606.30" y1="1662.40" x2="606.30" y2="1673.90" stroke="#4e4e4e" stroke-width="0.85" />
<line x1="558.10" y1="1669.90" x2="558.10" y2="1688.30" stroke="#4e4e4e" stroke-width="0.85" />
<line x1="741.00" y1="1651.70" x2="741.00" y2="1688.30" stroke="#4e4e4e" stroke-width="0.85" />
<line x1="606.30" y1="1670.90" x2="741.00" y2="1670.90" stroke="#4e4e4e" stroke-width="0.85" />
<line x1="558.10" y1="1685.30" x2="741.00" y2="1685.30" stroke="#4e4e4e" stroke-width="0.85" />
<polygon points="741.00,1670.90 737.80,1669.70 737.80,1672.10" fill="#4e4e4e"/>
<polygon points="741.00,1685.30 737.80,1684.10 737.80,1686.50" fill="#4e4e4e"/>
<polygon points="606.30,1670.90 609.50,1669.70 609.50,1672.10" fill="#4e4e4e"/>
<polygon points="558.10,1685.30 561.30,1684.10 561.30,1686.50" fill="#4e4e4e"/>
<text x="0" y="0" transform="translate(674.40,1668.00) scale(1,1.08)" font-size="9.2" text-anchor="middle" fill="#222" stroke="#222" stroke-width="0.22" >L1</text>
<text x="0" y="0" transform="translate(649.50,1682.20) scale(1,1.08)" font-size="9.2" text-anchor="middle" fill="#222" stroke="#222" stroke-width="0.22" >L</text>
<text x="0" y="0" transform="translate(296.90,2247.00) scale(1,1.08)" font-size="8.6" text-anchor="start" fill="#222" stroke="#222" stroke-width="0.22" >Unit: mm</text>
<line x1="150.00" y1="2259.60" x2="193.50" y2="2259.60" stroke="#4e4e4e" stroke-width="0.7" />
<line x1="150.00" y1="2305.30" x2="193.50" y2="2305.30" stroke="#4e4e4e" stroke-width="0.7" />
<line x1="152.50" y1="2259.60" x2="152.50" y2="2305.30" stroke="#4e4e4e" stroke-width="0.85" />
<line x1="167.50" y1="2271.60" x2="172.30" y2="2271.60" stroke="#4e4e4e" stroke-width="0.7" />
<line x1="167.50" y1="2292.40" x2="172.30" y2="2292.40" stroke="#4e4e4e" stroke-width="0.7" />
<line x1="169.90" y1="2271.60" x2="169.90" y2="2292.40" stroke="#4e4e4e" stroke-width="0.85" />
<text x="0" y="0" font-size="9.0" text-anchor="middle" fill="#222" stroke="#222" stroke-width="0.15" transform="translate(146.60,2282.45) rotate(-90)" dy="3.24">Ø10</text>
<text x="0" y="0" font-size="9.0" text-anchor="middle" fill="#222" stroke="#222" stroke-width="0.15" transform="translate(162.40,2282.00) rotate(-90)" dy="3.24">M5</text>
<rect x="174.00" y="2271.60" width="20.50" height="20.80" rx="1.4" fill="#d8d8d9" stroke="#4a4a4a" stroke-width="1.5"/>
<rect x="193.50" y="2259.60" width="27.90" height="45.70" fill="#d8d8d9" stroke="#4a4a4a" stroke-width="1.2" />
<circle cx="207.80" cy="2282.40" r="7.50" fill="#fff" stroke="#4a4a4a" stroke-width="1.1" />
<polygon points="221.40,2259.60 236.00,2277.90 236.00,2287.90 221.40,2305.30" fill="#d8d8d9" stroke="#4a4a4a" stroke-width="1.2" stroke-linejoin="round" />
<rect x="236.00" y="2278.20" width="66.00" height="9.20" fill="#d8d8d9" stroke="#4a4a4a" stroke-width="1.2" />
<circle cx="306.40" cy="2282.60" r="5.60" fill="#d8d8d9" stroke="#4a4a4a" stroke-width="1.1" />
<line x1="249.60" y1="2272.40" x2="249.60" y2="2292.40" stroke="#4e4e4e" stroke-width="0.85" />
<line x1="249.60" y1="2272.40" x2="266.00" y2="2272.40" stroke="#4e4e4e" stroke-width="0.85" />
<text x="0" y="0" transform="translate(258.30,2269.60) scale(1,1.08)" font-size="8.6" text-anchor="middle" fill="#222" stroke="#222" stroke-width="0.22" >Ød1</text>
<line x1="314.40" y1="2270.10" x2="314.40" y2="2294.70" stroke="#4e4e4e" stroke-width="0.85" />
<line x1="314.40" y1="2270.10" x2="303.10" y2="2270.10" stroke="#4e4e4e" stroke-width="0.85" />
<line x1="306.40" y1="2277.00" x2="317.40" y2="2277.00" stroke="#4e4e4e" stroke-width="0.6" />
<line x1="306.40" y1="2288.20" x2="317.40" y2="2288.20" stroke="#4e4e4e" stroke-width="0.6" />
<text x="0" y="0" transform="translate(309.60,2267.80) scale(1,1.08)" font-size="8.6" text-anchor="middle" fill="#222" stroke="#222" stroke-width="0.22" >Ød</text>
<line x1="235.00" y1="2289.40" x2="235.00" y2="2304.50" stroke="#4e4e4e" stroke-width="0.85" />
<line x1="193.50" y1="2307.80" x2="193.50" y2="2320.80" stroke="#4e4e4e" stroke-width="0.85" />
<line x1="306.40" y1="2282.60" x2="306.40" y2="2320.80" stroke="#4e4e4e" stroke-width="0.85" />
<line x1="235.00" y1="2301.50" x2="306.40" y2="2301.50" stroke="#4e4e4e" stroke-width="0.85" />
<line x1="193.50" y1="2317.80" x2="306.40" y2="2317.80" stroke="#4e4e4e" stroke-width="0.85" />
<polygon points="306.40,2301.50 303.20,2300.30 303.20,2302.70" fill="#4e4e4e"/>
<polygon points="306.40,2317.80 303.20,2316.60 303.20,2319.00" fill="#4e4e4e"/>
<polygon points="235.00,2301.50 238.20,2300.30 238.20,2302.70" fill="#4e4e4e"/>
<polygon points="193.50,2317.80 196.70,2316.60 196.70,2319.00" fill="#4e4e4e"/>
<text x="0" y="0" transform="translate(271.20,2297.30) scale(1,1.08)" font-size="9.2" text-anchor="middle" fill="#222" stroke="#222" stroke-width="0.22" >L1</text>
<text x="0" y="0" transform="translate(249.60,2313.90) scale(1,1.08)" font-size="9.2" text-anchor="middle" fill="#222" stroke="#222" stroke-width="0.22" >L</text>
<text x="0" y="0" transform="translate(743.80,239.60) scale(1,1.08)" font-size="8.6" text-anchor="start" fill="#222" stroke="#222" stroke-width="0.22" >Unit: mm</text>
<line x1="605.00" y1="259.60" x2="605.00" y2="270.80" stroke="#4e4e4e" stroke-width="0.85" />
<line x1="602.60" y1="259.60" x2="607.40" y2="259.60" stroke="#4e4e4e" stroke-width="0.6" />
<line x1="602.60" y1="270.80" x2="607.40" y2="270.80" stroke="#4e4e4e" stroke-width="0.6" />
<line x1="602.60" y1="259.60" x2="610.50" y2="259.60" stroke="#4e4e4e" stroke-width="0.6" />
<line x1="602.60" y1="270.80" x2="610.50" y2="270.80" stroke="#4e4e4e" stroke-width="0.6" />
<text x="0" y="0" font-size="9.2" text-anchor="middle" fill="#222" stroke="#222" stroke-width="0.15" transform="translate(598.00,265.20) rotate(-90)" dy="3.31">M2</text>
<line x1="776.00" y1="259.60" x2="776.00" y2="270.80" stroke="#4e4e4e" stroke-width="0.85" />
<line x1="773.60" y1="259.60" x2="778.40" y2="259.60" stroke="#4e4e4e" stroke-width="0.6" />
<line x1="773.60" y1="270.80" x2="778.40" y2="270.80" stroke="#4e4e4e" stroke-width="0.6" />
<line x1="756.40" y1="259.60" x2="778.40" y2="259.60" stroke="#4e4e4e" stroke-width="0.6" />
<line x1="756.40" y1="270.80" x2="778.40" y2="270.80" stroke="#4e4e4e" stroke-width="0.6" />
<text x="0" y="0" font-size="9.2" text-anchor="middle" fill="#222" stroke="#222" stroke-width="0.15" transform="translate(769.00,265.20) rotate(-90)" dy="3.31">M2</text>
<rect x="610.50" y="259.60" width="14.10" height="11.20" rx="1.4" fill="#d8d8d9" stroke="#4a4a4a" stroke-width="1.4"/>
<rect x="623.60" y="255.90" width="132.80" height="18.70" fill="#d8d8d9" stroke="#4a4a4a" stroke-width="1.2" />
<circle cx="638.50" cy="265.30" r="5.00" fill="#fff" stroke="#4a4a4a" stroke-width="1.1" />
<line x1="741.40" y1="260.10" x2="755.40" y2="260.10" stroke="#6a6a6a" stroke-width="0.8" stroke-dasharray="2.2,4"/>
<line x1="741.40" y1="270.30" x2="755.40" y2="270.30" stroke="#6a6a6a" stroke-width="0.8" stroke-dasharray="2.2,4"/>
<line x1="692.30" y1="249.60" x2="692.30" y2="281.50" stroke="#4e4e4e" stroke-width="0.85" />
<line x1="692.30" y1="249.60" x2="709.00" y2="249.60" stroke="#4e4e4e" stroke-width="0.85" />
<text x="0" y="0" transform="translate(701.50,244.80) scale(1,1.08)" font-size="9.0" text-anchor="middle" fill="#222" stroke="#222" stroke-width="0.22" >Ø3</text>
<line x1="623.60" y1="275.60" x2="623.60" y2="295.00" stroke="#4e4e4e" stroke-width="0.85" />
<line x1="756.40" y1="275.60" x2="756.40" y2="295.00" stroke="#4e4e4e" stroke-width="0.85" />
<line x1="623.60" y1="292.00" x2="756.40" y2="292.00" stroke="#4e4e4e" stroke-width="0.85" />
<polygon points="756.40,292.00 753.20,290.80 753.20,293.20" fill="#4e4e4e"/>
<polygon points="623.60,292.00 626.80,290.80 626.80,293.20" fill="#4e4e4e"/>
<text x="0" y="0" transform="translate(689.20,289.00) scale(1,1.08)" font-size="9.2" text-anchor="middle" fill="#222" stroke="#222" stroke-width="0.22" >L</text>
<text x="0" y="0" transform="translate(760.40,841.30) scale(1,1.08)" font-size="8.6" text-anchor="start" fill="#222" stroke="#222" stroke-width="0.22" >Unit: mm</text>
<line x1="623.70" y1="862.30" x2="623.70" y2="874.70" stroke="#4e4e4e" stroke-width="0.85" />
<line x1="621.30" y1="862.30" x2="626.10" y2="862.30" stroke="#4e4e4e" stroke-width="0.6" />
<line x1="621.30" y1="874.70" x2="626.10" y2="874.70" stroke="#4e4e4e" stroke-width="0.6" />
<line x1="621.30" y1="862.30" x2="630.40" y2="862.30" stroke="#4e4e4e" stroke-width="0.6" />
<line x1="621.30" y1="874.70" x2="630.40" y2="874.70" stroke="#4e4e4e" stroke-width="0.6" />
<text x="0" y="0" font-size="9.2" text-anchor="middle" fill="#222" stroke="#222" stroke-width="0.15" transform="translate(615.40,868.50) rotate(-90)" dy="3.31">M3</text>
<line x1="793.40" y1="862.30" x2="793.40" y2="874.70" stroke="#4e4e4e" stroke-width="0.85" />
<line x1="791.00" y1="862.30" x2="795.80" y2="862.30" stroke="#4e4e4e" stroke-width="0.6" />
<line x1="791.00" y1="874.70" x2="795.80" y2="874.70" stroke="#4e4e4e" stroke-width="0.6" />
<line x1="775.10" y1="862.30" x2="795.80" y2="862.30" stroke="#4e4e4e" stroke-width="0.6" />
<line x1="775.10" y1="874.70" x2="795.80" y2="874.70" stroke="#4e4e4e" stroke-width="0.6" />
<text x="0" y="0" font-size="9.2" text-anchor="middle" fill="#222" stroke="#222" stroke-width="0.15" transform="translate(787.40,868.50) rotate(-90)" dy="3.31">M3</text>
<rect x="630.40" y="862.30" width="12.80" height="12.40" rx="1.4" fill="#d8d8d9" stroke="#4a4a4a" stroke-width="1.4"/>
<rect x="642.20" y="859.00" width="132.90" height="19.40" fill="#d8d8d9" stroke="#4a4a4a" stroke-width="1.2" />
<circle cx="657.30" cy="868.70" r="4.70" fill="#fff" stroke="#4a4a4a" stroke-width="1.1" />
<line x1="760.10" y1="862.80" x2="774.10" y2="862.80" stroke="#6a6a6a" stroke-width="0.8" stroke-dasharray="2.2,4"/>
<line x1="760.10" y1="874.20" x2="774.10" y2="874.20" stroke="#6a6a6a" stroke-width="0.8" stroke-dasharray="2.2,4"/>
<line x1="711.00" y1="853.00" x2="711.00" y2="883.90" stroke="#4e4e4e" stroke-width="0.85" />
<line x1="711.00" y1="853.00" x2="725.70" y2="853.00" stroke="#4e4e4e" stroke-width="0.85" />
<text x="0" y="0" transform="translate(721.00,849.00) scale(1,1.08)" font-size="9.0" text-anchor="middle" fill="#222" stroke="#222" stroke-width="0.22" >Ø4</text>
<line x1="642.20" y1="879.40" x2="642.20" y2="897.80" stroke="#4e4e4e" stroke-width="0.85" />
<line x1="775.10" y1="879.40" x2="775.10" y2="897.80" stroke="#4e4e4e" stroke-width="0.85" />
<line x1="642.20" y1="894.80" x2="775.10" y2="894.80" stroke="#4e4e4e" stroke-width="0.85" />
<polygon points="775.10,894.80 771.90,893.60 771.90,896.00" fill="#4e4e4e"/>
<polygon points="642.20,894.80 645.40,893.60 645.40,896.00" fill="#4e4e4e"/>
<text x="0" y="0" transform="translate(708.00,891.50) scale(1,1.08)" font-size="9.2" text-anchor="middle" fill="#222" stroke="#222" stroke-width="0.22" >L</text>
<text x="0" y="0" transform="translate(241.80,1862.00) scale(1,1.08)" font-size="8.6" text-anchor="start" fill="#222" stroke="#222" stroke-width="0.22" >Unit: mm</text>
<line x1="105.60" y1="1890.50" x2="105.60" y2="1901.70" stroke="#4e4e4e" stroke-width="0.85" />
<line x1="103.20" y1="1890.50" x2="108.00" y2="1890.50" stroke="#4e4e4e" stroke-width="0.6" />
<line x1="103.20" y1="1901.70" x2="108.00" y2="1901.70" stroke="#4e4e4e" stroke-width="0.6" />
<line x1="103.20" y1="1890.50" x2="110.00" y2="1890.50" stroke="#4e4e4e" stroke-width="0.6" />
<line x1="103.20" y1="1901.70" x2="110.00" y2="1901.70" stroke="#4e4e4e" stroke-width="0.6" />
<text x="0" y="0" font-size="9.2" text-anchor="middle" fill="#222" stroke="#222" stroke-width="0.15" transform="translate(98.60,1896.10) rotate(-90)" dy="3.31">M4</text>
<line x1="273.50" y1="1890.50" x2="273.50" y2="1901.70" stroke="#4e4e4e" stroke-width="0.85" />
<line x1="271.10" y1="1890.50" x2="275.90" y2="1890.50" stroke="#4e4e4e" stroke-width="0.6" />
<line x1="271.10" y1="1901.70" x2="275.90" y2="1901.70" stroke="#4e4e4e" stroke-width="0.6" />
<line x1="255.60" y1="1890.50" x2="275.90" y2="1890.50" stroke="#4e4e4e" stroke-width="0.6" />
<line x1="255.60" y1="1901.70" x2="275.90" y2="1901.70" stroke="#4e4e4e" stroke-width="0.6" />
<text x="0" y="0" font-size="9.2" text-anchor="middle" fill="#222" stroke="#222" stroke-width="0.15" transform="translate(266.50,1896.10) rotate(-90)" dy="3.31">M4</text>
<rect x="110.00" y="1890.50" width="13.50" height="11.20" rx="1.4" fill="#d8d8d9" stroke="#4a4a4a" stroke-width="1.4"/>
<rect x="122.50" y="1887.00" width="133.10" height="17.80" fill="#d8d8d9" stroke="#4a4a4a" stroke-width="1.2" />
<circle cx="138.70" cy="1896.50" r="4.00" fill="#fff" stroke="#4a4a4a" stroke-width="1.1" />
<line x1="240.60" y1="1891.00" x2="254.60" y2="1891.00" stroke="#6a6a6a" stroke-width="0.8" stroke-dasharray="2.2,4"/>
<line x1="240.60" y1="1901.20" x2="254.60" y2="1901.20" stroke="#6a6a6a" stroke-width="0.8" stroke-dasharray="2.2,4"/>
<line x1="192.20" y1="1880.60" x2="192.20" y2="1911.40" stroke="#4e4e4e" stroke-width="0.85" />
<line x1="192.20" y1="1880.60" x2="208.40" y2="1880.60" stroke="#4e4e4e" stroke-width="0.85" />
<text x="0" y="0" transform="translate(200.80,1876.60) scale(1,1.08)" font-size="9.0" text-anchor="middle" fill="#222" stroke="#222" stroke-width="0.22" >Ø7</text>
<line x1="122.50" y1="1905.80" x2="122.50" y2="1926.00" stroke="#4e4e4e" stroke-width="0.85" />
<line x1="255.60" y1="1905.80" x2="255.60" y2="1926.00" stroke="#4e4e4e" stroke-width="0.85" />
<line x1="122.50" y1="1923.00" x2="255.60" y2="1923.00" stroke="#4e4e4e" stroke-width="0.85" />
<polygon points="255.60,1923.00 252.40,1921.80 252.40,1924.20" fill="#4e4e4e"/>
<polygon points="122.50,1923.00 125.70,1921.80 125.70,1924.20" fill="#4e4e4e"/>
<text x="0" y="0" transform="translate(189.60,1919.80) scale(1,1.08)" font-size="9.2" text-anchor="middle" fill="#222" stroke="#222" stroke-width="0.22" >L</text>
<text x="0" y="0" transform="translate(742.70,2248.50) scale(1,1.08)" font-size="8.6" text-anchor="start" fill="#222" stroke="#222" stroke-width="0.22" >Unit: mm</text>
<line x1="594.50" y1="2265.40" x2="594.50" y2="2286.00" stroke="#4e4e4e" stroke-width="0.85" />
<line x1="592.10" y1="2265.40" x2="596.90" y2="2265.40" stroke="#4e4e4e" stroke-width="0.6" />
<line x1="592.10" y1="2286.00" x2="596.90" y2="2286.00" stroke="#4e4e4e" stroke-width="0.6" />
<line x1="592.10" y1="2265.40" x2="598.00" y2="2265.40" stroke="#4e4e4e" stroke-width="0.6" />
<line x1="592.10" y1="2286.00" x2="598.00" y2="2286.00" stroke="#4e4e4e" stroke-width="0.6" />
<text x="0" y="0" font-size="9.2" text-anchor="middle" fill="#222" stroke="#222" stroke-width="0.15" transform="translate(587.50,2275.70) rotate(-90)" dy="3.31">M5</text>
<line x1="771.20" y1="2265.40" x2="771.20" y2="2286.00" stroke="#4e4e4e" stroke-width="0.85" />
<line x1="768.80" y1="2265.40" x2="773.60" y2="2265.40" stroke="#4e4e4e" stroke-width="0.6" />
<line x1="768.80" y1="2286.00" x2="773.60" y2="2286.00" stroke="#4e4e4e" stroke-width="0.6" />
<line x1="754.60" y1="2265.40" x2="773.60" y2="2265.40" stroke="#4e4e4e" stroke-width="0.6" />
<line x1="754.60" y1="2286.00" x2="773.60" y2="2286.00" stroke="#4e4e4e" stroke-width="0.6" />
<text x="0" y="0" font-size="9.2" text-anchor="middle" fill="#222" stroke="#222" stroke-width="0.15" transform="translate(765.30,2275.70) rotate(-90)" dy="3.31">M5</text>
<rect x="598.00" y="2265.40" width="15.30" height="20.60" rx="1.4" fill="#d8d8d9" stroke="#4a4a4a" stroke-width="1.4"/>
<rect x="612.30" y="2261.10" width="142.30" height="28.90" fill="#d8d8d9" stroke="#4a4a4a" stroke-width="1.2" />
<circle cx="634.10" cy="2276.00" r="6.60" fill="#fff" stroke="#4a4a4a" stroke-width="1.1" />
<line x1="739.60" y1="2265.90" x2="753.60" y2="2265.90" stroke="#6a6a6a" stroke-width="0.8" stroke-dasharray="2.2,4"/>
<line x1="739.60" y1="2285.50" x2="753.60" y2="2285.50" stroke="#6a6a6a" stroke-width="0.8" stroke-dasharray="2.2,4"/>
<line x1="693.40" y1="2255.20" x2="693.40" y2="2295.50" stroke="#4e4e4e" stroke-width="0.85" />
<line x1="693.40" y1="2255.20" x2="708.50" y2="2255.20" stroke="#4e4e4e" stroke-width="0.85" />
<text x="0" y="0" transform="translate(702.40,2252.80) scale(1,1.08)" font-size="9.0" text-anchor="middle" fill="#222" stroke="#222" stroke-width="0.22" >Ød</text>
<line x1="612.30" y1="2291.00" x2="612.30" y2="2308.50" stroke="#4e4e4e" stroke-width="0.85" />
<line x1="754.60" y1="2291.00" x2="754.60" y2="2308.50" stroke="#4e4e4e" stroke-width="0.85" />
<line x1="612.30" y1="2305.50" x2="754.60" y2="2305.50" stroke="#4e4e4e" stroke-width="0.85" />
<polygon points="754.60,2305.50 751.40,2304.30 751.40,2306.70" fill="#4e4e4e"/>
<polygon points="612.30,2305.50 615.50,2304.30 615.50,2306.70" fill="#4e4e4e"/>
<text x="0" y="0" transform="translate(683.50,2302.60) scale(1,1.08)" font-size="9.2" text-anchor="middle" fill="#222" stroke="#222" stroke-width="0.22" >L</text>
<text x="0" y="0" transform="translate(718.70,585.00) scale(1,1.08)" font-size="8.6" text-anchor="start" fill="#222" stroke="#222" stroke-width="0.22" >Unit: mm</text>
<line x1="635.50" y1="596.30" x2="671.00" y2="596.30" stroke="#4e4e4e" stroke-width="0.6" />
<line x1="635.50" y1="622.40" x2="671.00" y2="622.40" stroke="#4e4e4e" stroke-width="0.6" />
<line x1="638.20" y1="596.30" x2="638.20" y2="622.40" stroke="#4e4e4e" stroke-width="0.85" />
<text x="0" y="0" font-size="9.3" text-anchor="middle" fill="#222" stroke="#222" stroke-width="0.15" transform="translate(633.60,609.30) rotate(-90)" dy="3.35">Ø4</text>
<line x1="653.00" y1="602.50" x2="653.00" y2="615.80" stroke="#4e4e4e" stroke-width="0.85" />
<line x1="650.80" y1="602.50" x2="655.20" y2="602.50" stroke="#4e4e4e" stroke-width="0.6" />
<line x1="650.80" y1="615.80" x2="655.20" y2="615.80" stroke="#4e4e4e" stroke-width="0.6" />
<text x="0" y="0" font-size="9.3" text-anchor="middle" fill="#222" stroke="#222" stroke-width="0.15" transform="translate(646.50,609.30) rotate(-90)" dy="3.35">M2</text>
<rect x="658.4" y="602.5" width="12.60" height="13.30" rx="1.2" fill="#d8d8d9" stroke="#4a4a4a" stroke-width="1.3"/>
<rect x="671.00" y="596.30" width="32.30" height="26.10" fill="#d8d8d9" stroke="#4a4a4a" stroke-width="0.9" />
<circle cx="683.80" cy="609.60" r="5.30" fill="#fff" stroke="#4a4a4a" stroke-width="1.0" />
<line x1="688.20" y1="602.20" x2="689.80" y2="602.20" stroke="#777" stroke-width="0.8" />
<line x1="688.20" y1="616.30" x2="689.80" y2="616.30" stroke="#777" stroke-width="0.8" />
<line x1="695.40" y1="602.20" x2="697.00" y2="602.20" stroke="#777" stroke-width="0.8" />
<line x1="695.40" y1="616.30" x2="697.00" y2="616.30" stroke="#777" stroke-width="0.8" />
<line x1="703.30" y1="602.00" x2="710.50" y2="602.00" stroke="#4e4e4e" stroke-width="0.6" />
<line x1="703.30" y1="616.30" x2="710.50" y2="616.30" stroke="#4e4e4e" stroke-width="0.6" />
<line x1="708.00" y1="602.00" x2="708.00" y2="616.30" stroke="#4e4e4e" stroke-width="0.85" />
<line x1="705.80" y1="602.00" x2="710.20" y2="602.00" stroke="#4e4e4e" stroke-width="0.6" />
<line x1="705.80" y1="616.30" x2="710.20" y2="616.30" stroke="#4e4e4e" stroke-width="0.6" />
<text x="0" y="0" font-size="9.3" text-anchor="middle" fill="#222" stroke="#222" stroke-width="0.15" transform="translate(716.00,609.20) rotate(-90)" dy="3.35">M3</text>
<line x1="671.00" y1="622.40" x2="671.00" y2="635.50" stroke="#4e4e4e" stroke-width="0.85" />
<line x1="703.30" y1="622.40" x2="703.30" y2="635.50" stroke="#4e4e4e" stroke-width="0.85" />
<line x1="671.00" y1="633.80" x2="703.30" y2="633.80" stroke="#4e4e4e" stroke-width="0.85" />
<text x="0" y="0" transform="translate(688.00,631.00) scale(1,1.08)" font-size="9.0" text-anchor="middle" fill="#222" stroke="#222" stroke-width="0.22" >L</text>
<text x="0" y="0" transform="translate(308.00,897.80) scale(1,1.08)" font-size="8.6" text-anchor="start" fill="#222" stroke="#222" stroke-width="0.22" >Unit: mm</text>
<text x="0" y="0" transform="translate(292.90,909.90) scale(1,1.08)" font-size="9.0" text-anchor="middle" fill="#222" stroke="#222" stroke-width="0.22" >D</text>
<line x1="277.30" y1="912.00" x2="309.60" y2="912.00" stroke="#4e4e4e" stroke-width="0.85" />
<line x1="277.30" y1="909.50" x2="277.30" y2="942.60" stroke="#4e4e4e" stroke-width="0.85" />
<line x1="309.60" y1="909.50" x2="309.60" y2="942.60" stroke="#4e4e4e" stroke-width="0.85" />
<text x="0" y="0" transform="translate(293.40,922.70) scale(1,1.08)" font-size="8.6" text-anchor="middle" fill="#222" stroke="#222" stroke-width="0.22" >M2</text>
<line x1="286.30" y1="925.30" x2="300.50" y2="925.30" stroke="#4e4e4e" stroke-width="0.85" />
<line x1="286.30" y1="923.50" x2="286.30" y2="928.50" stroke="#4e4e4e" stroke-width="0.6" />
<line x1="300.50" y1="923.50" x2="300.50" y2="928.50" stroke="#4e4e4e" stroke-width="0.6" />
<rect x="286.8" y="929.8" width="12.8" height="12.8" rx="1" fill="#d8d8d9" stroke="#4a4a4a" stroke-width="1.3"/>
<rect x="277.3" y="942.6" width="32.3" height="18.5" rx="1.8" fill="#d8d8d9" stroke="#4a4a4a" stroke-width="1.1"/>
<line x1="278.50" y1="944.50" x2="308.50" y2="944.50" stroke="#888" stroke-width="0.5" />
<line x1="278.50" y1="959.20" x2="308.50" y2="959.20" stroke="#888" stroke-width="0.5" />
<rect x="278.6" y="945.8" width="7.4" height="12" rx="2" fill="#cfcfd0" stroke="#777" stroke-width="0.6"/>
<rect x="301.0" y="945.8" width="7.4" height="12" rx="2" fill="#cfcfd0" stroke="#777" stroke-width="0.6"/>
<rect x="286.6" y="945.0" width="14" height="13.5" rx="2.5" fill="#d6d6d7" stroke="#666" stroke-width="0.7"/>
<circle cx="293.70" cy="951.10" r="4.30" fill="#fff" stroke="#4a4a4a" stroke-width="1.1" />
<rect x="283.50" y="961.10" width="19.40" height="27.90" fill="#d8d8d9" stroke="#4a4a4a" stroke-width="1.0" />
<circle cx="293.40" cy="970.40" r="4.00" fill="#fff" stroke="#4a4a4a" stroke-width="1.0" />
<line x1="286.80" y1="973.60" x2="286.80" y2="975.00" stroke="#888" stroke-width="0.8" />
<line x1="286.80" y1="980.30" x2="286.80" y2="981.70" stroke="#888" stroke-width="0.8" />
<line x1="299.60" y1="973.60" x2="299.60" y2="975.00" stroke="#888" stroke-width="0.8" />
<line x1="299.60" y1="980.30" x2="299.60" y2="981.70" stroke="#888" stroke-width="0.8" />
<polyline points="294.8,952 320.5,961.1 342.5,961.1" fill="none" stroke="#444" stroke-width="0.8"/>
<text x="0" y="0" transform="translate(321.00,958.20) scale(1,1.08)" font-size="8.6" text-anchor="start" fill="#222" stroke="#222" stroke-width="0.22" >4-M2</text>
<line x1="261.00" y1="942.60" x2="277.30" y2="942.60" stroke="#4e4e4e" stroke-width="0.6" />
<line x1="261.00" y1="989.00" x2="283.50" y2="989.00" stroke="#4e4e4e" stroke-width="0.6" />
<line x1="263.50" y1="942.60" x2="263.50" y2="989.00" stroke="#4e4e4e" stroke-width="0.85" />
<text x="0" y="0" font-size="9.0" text-anchor="middle" fill="#222" stroke="#222" stroke-width="0.15" transform="translate(258.50,965.50) rotate(-90)" dy="3.24">8</text>
<line x1="274.00" y1="961.10" x2="283.50" y2="961.10" stroke="#4e4e4e" stroke-width="0.6" />
<line x1="276.00" y1="961.10" x2="276.00" y2="989.00" stroke="#4e4e4e" stroke-width="0.85" />
<text x="0" y="0" font-size="9.0" text-anchor="middle" fill="#222" stroke="#222" stroke-width="0.15" transform="translate(271.00,974.30) rotate(-90)" dy="3.24">5</text>
<line x1="286.30" y1="989.00" x2="286.30" y2="993.80" stroke="#4e4e4e" stroke-width="0.6" />
<line x1="300.50" y1="989.00" x2="300.50" y2="993.80" stroke="#4e4e4e" stroke-width="0.6" />
<line x1="286.30" y1="991.90" x2="300.50" y2="991.90" stroke="#4e4e4e" stroke-width="0.85" />
<text x="0" y="0" transform="translate(293.40,1001.40) scale(1,1.08)" font-size="8.6" text-anchor="middle" fill="#222" stroke="#222" stroke-width="0.22" >M2</text>
<text x="0" y="0" transform="translate(763.40,1186.80) scale(1,1.08)" font-size="8.6" text-anchor="start" fill="#222" stroke="#222" stroke-width="0.22" >Unit: mm</text>
<text x="0" y="0" transform="translate(728.80,1183.00) scale(1,1.08)" font-size="8.6" text-anchor="middle" fill="#222" stroke="#222" stroke-width="0.22" >M3</text>
<line x1="720.30" y1="1184.50" x2="736.90" y2="1184.50" stroke="#4e4e4e" stroke-width="0.85" />
<line x1="720.30" y1="1182.50" x2="720.30" y2="1187.50" stroke="#4e4e4e" stroke-width="0.6" />
<line x1="736.90" y1="1182.50" x2="736.90" y2="1187.50" stroke="#4e4e4e" stroke-width="0.6" />
<line x1="697.50" y1="1187.80" x2="720.70" y2="1187.80" stroke="#4e4e4e" stroke-width="0.6" />
<line x1="698.90" y1="1187.80" x2="698.90" y2="1217.20" stroke="#4e4e4e" stroke-width="0.85" />
<text x="0" y="0" font-size="9.0" text-anchor="middle" fill="#222" stroke="#222" stroke-width="0.15" transform="translate(693.80,1204.00) rotate(-90)" dy="3.24">3</text>
<line x1="678.50" y1="1217.20" x2="701.70" y2="1217.20" stroke="#4e4e4e" stroke-width="0.6" />
<line x1="678.50" y1="1274.70" x2="717.90" y2="1274.70" stroke="#4e4e4e" stroke-width="0.6" />
<line x1="679.90" y1="1217.20" x2="679.90" y2="1274.70" stroke="#4e4e4e" stroke-width="0.85" />
<text x="0" y="0" font-size="9.0" text-anchor="middle" fill="#222" stroke="#222" stroke-width="0.15" transform="translate(674.80,1245.50) rotate(-90)" dy="3.24">13</text>
<rect x="720.7" y="1187.8" width="15.6" height="16.1" rx="1" fill="#d8d8d9" stroke="#4a4a4a" stroke-width="1.3"/>
<rect x="716.00" y="1203.90" width="24.60" height="13.30" fill="#d8d8d9" stroke="#4a4a4a" stroke-width="1.0" />
<rect x="701.7" y="1217.2" width="52.6" height="27.5" rx="1.5" fill="#d8d8d9" stroke="#4a4a4a" stroke-width="1.1"/>
<line x1="702.50" y1="1219.80" x2="753.50" y2="1219.80" stroke="#888" stroke-width="0.5" />
<line x1="702.50" y1="1242.20" x2="753.50" y2="1242.20" stroke="#888" stroke-width="0.5" />
<rect x="716.5" y="1220.2" width="23.5" height="21.5" rx="3" fill="#d6d6d7" stroke="#666" stroke-width="0.7"/>
<line x1="704.2" y1="1222" x2="704.2" y2="1241" stroke="#888" stroke-width="0.6" stroke-dasharray="1.2,2.2"/>
<line x1="714.0" y1="1222" x2="714.0" y2="1241" stroke="#888" stroke-width="0.6" stroke-dasharray="1.2,2.2"/>
<line x1="742.5" y1="1222" x2="742.5" y2="1241" stroke="#888" stroke-width="0.6" stroke-dasharray="1.2,2.2"/>
<line x1="752.0" y1="1222" x2="752.0" y2="1241" stroke="#888" stroke-width="0.6" stroke-dasharray="1.2,2.2"/>
<circle cx="728.30" cy="1232.40" r="8.30" fill="#fff" stroke="#4a4a4a" stroke-width="1.2" />
<circle cx="728.30" cy="1232.40" r="6.60" fill="none" stroke="#888" stroke-width="0.6" stroke-dasharray="1.5,1.5"/>
<rect x="717.90" y="1244.70" width="19.00" height="30.00" fill="#d8d8d9" stroke="#4a4a4a" stroke-width="1.0" />
<circle cx="728.30" cy="1252.70" r="3.70" fill="#fff" stroke="#4a4a4a" stroke-width="1.0" />
<line x1="720.5" y1="1260" x2="720.5" y2="1273" stroke="#888" stroke-width="0.6" stroke-dasharray="1.2,2.2"/>
<line x1="734.3" y1="1260" x2="734.3" y2="1273" stroke="#888" stroke-width="0.6" stroke-dasharray="1.2,2.2"/>
<polyline points="729,1233 760.5,1244.3 782.5,1244.3" fill="none" stroke="#444" stroke-width="0.8"/>
<text x="0" y="0" transform="translate(761.00,1242.00) scale(1,1.08)" font-size="8.6" text-anchor="start" fill="#222" stroke="#222" stroke-width="0.22" >4-M3</text>
<line x1="720.30" y1="1274.70" x2="720.30" y2="1281.00" stroke="#4e4e4e" stroke-width="0.6" />
<line x1="736.90" y1="1274.70" x2="736.90" y2="1281.00" stroke="#4e4e4e" stroke-width="0.6" />
<line x1="720.30" y1="1278.90" x2="736.90" y2="1278.90" stroke="#4e4e4e" stroke-width="0.85" />
<text x="0" y="0" transform="translate(728.50,1288.30) scale(1,1.08)" font-size="8.6" text-anchor="middle" fill="#222" stroke="#222" stroke-width="0.22" >M3</text>
<defs>
<linearGradient id="gM" x1="0" y1="0" x2="0" y2="1">
 <stop offset="0" stop-color="#858a8f"/><stop offset="0.2" stop-color="#a2a7ab"/>
 <stop offset="0.42" stop-color="#dadde0"/><stop offset="0.5" stop-color="#c2c6c9"/>
 <stop offset="0.7" stop-color="#7a7f84"/><stop offset="0.88" stop-color="#8e9398"/><stop offset="1" stop-color="#a6aaae"/>
</linearGradient>
<linearGradient id="gM2" x1="0" y1="0" x2="0" y2="1">
 <stop offset="0" stop-color="#6c7176"/><stop offset="0.35" stop-color="#b7bbbe"/>
 <stop offset="0.55" stop-color="#8a8f94"/><stop offset="0.8" stop-color="#5f6469"/><stop offset="1" stop-color="#7f8489"/>
</linearGradient>
<linearGradient id="gT" x1="0" y1="0" x2="0" y2="1">
 <stop offset="0" stop-color="#8a8f94"/><stop offset="0.4" stop-color="#d5d8da"/>
 <stop offset="0.7" stop-color="#80858a"/><stop offset="1" stop-color="#a0a4a8"/>
</linearGradient>
<linearGradient id="gC" x1="0" y1="0" x2="0" y2="1">
 <stop offset="0" stop-color="#d0d0d0"/><stop offset="0.12" stop-color="#ececec"/>
 <stop offset="0.6" stop-color="#f5f5f5"/><stop offset="0.9" stop-color="#e6e6e6"/><stop offset="1" stop-color="#c8c8c8"/>
</linearGradient>
<radialGradient id="gR" cx="0.4" cy="0.35" r="0.7">
 <stop offset="0" stop-color="#f27ab8"/><stop offset="0.45" stop-color="#c9247a"/><stop offset="1" stop-color="#9a1055"/>
</radialGradient>
<linearGradient id="gH" x1="0" y1="0" x2="1" y2="0">
 <stop offset="0" stop-color="#7d8287"/><stop offset="0.3" stop-color="#c6c9cc"/>
 <stop offset="0.55" stop-color="#9ea3a7"/><stop offset="1" stop-color="#6e7378"/>
</linearGradient>
<linearGradient id="gB" x1="0" y1="0" x2="1" y2="0">
 <stop offset="0" stop-color="#a4a9ad"/><stop offset="0.25" stop-color="#d9dcde"/>
 <stop offset="0.45" stop-color="#b9bdc0"/><stop offset="0.7" stop-color="#c8cbce"/><stop offset="1" stop-color="#8f9498"/>
</linearGradient>
</defs>
<rect x="164.00" y="166.90" width="14.00" height="10.90" fill="url(#gT)"/>
<line x1="165.75" y1="166.90" x2="165.75" y2="177.80" stroke="#60656a" stroke-width="0.8" opacity="0.55"/>
<line x1="169.25" y1="166.90" x2="169.25" y2="177.80" stroke="#60656a" stroke-width="0.8" opacity="0.55"/>
<line x1="172.75" y1="166.90" x2="172.75" y2="177.80" stroke="#60656a" stroke-width="0.8" opacity="0.55"/>
<line x1="176.25" y1="166.90" x2="176.25" y2="177.80" stroke="#60656a" stroke-width="0.8" opacity="0.55"/>
<polygon points="177.80,163.50 193.00,163.50 221.40,170.20 221.40,174.90 193.00,181.60 177.80,181.60" fill="url(#gM)" stroke="none" stroke-width="0" stroke-linejoin="round" />
<rect x="221" y="170.5" width="75.5" height="4.3" fill="url(#gM2)"/>
<circle cx="298.00" cy="172.80" r="2.60" fill="url(#gR)" stroke="none" stroke-width="0" />
<text x="0" y="0" transform="translate(232.40,207.00) scale(1,1.08)" font-size="11.5" font-weight="bold" text-anchor="middle" fill="#1a1a1a" stroke="#1a1a1a" stroke-width="0.22" >ISQ-20-071</text>
<rect x="610.40" y="171.80" width="10.60" height="8.10" fill="url(#gT)"/>
<line x1="612.17" y1="171.80" x2="612.17" y2="179.90" stroke="#60656a" stroke-width="0.8" opacity="0.55"/>
<line x1="615.70" y1="171.80" x2="615.70" y2="179.90" stroke="#60656a" stroke-width="0.8" opacity="0.55"/>
<line x1="619.23" y1="171.80" x2="619.23" y2="179.90" stroke="#60656a" stroke-width="0.8" opacity="0.55"/>
<rect x="620.9" y="167.6" width="130.9" height="18" rx="1.5" fill="url(#gM)"/>
<ellipse cx="627.5" cy="176" rx="2.2" ry="2.8" fill="#4a4e52"/>
<text x="0" y="0" transform="translate(679.40,207.00) scale(1,1.08)" font-size="11.5" font-weight="bold" text-anchor="middle" fill="#1a1a1a" stroke="#1a1a1a" stroke-width="0.22" >ISQ-25-110</text>
<rect x="612.20" y="774.80" width="13.00" height="11.70" fill="url(#gT)"/>
<line x1="613.83" y1="774.80" x2="613.83" y2="786.50" stroke="#60656a" stroke-width="0.8" opacity="0.55"/>
<line x1="617.08" y1="774.80" x2="617.08" y2="786.50" stroke="#60656a" stroke-width="0.8" opacity="0.55"/>
<line x1="620.33" y1="774.80" x2="620.33" y2="786.50" stroke="#60656a" stroke-width="0.8" opacity="0.55"/>
<line x1="623.58" y1="774.80" x2="623.58" y2="786.50" stroke="#60656a" stroke-width="0.8" opacity="0.55"/>
<rect x="625.2" y="772.2" width="152.7" height="17.5" rx="1.5" fill="url(#gM)"/>
<ellipse cx="634.4" cy="781" rx="2.4" ry="3" fill="#f2f2f2" stroke="#555" stroke-width="0.8"/>
<text x="0" y="0" transform="translate(707.40,824.50) scale(1,1.08)" font-size="11.5" font-weight="bold" text-anchor="middle" fill="#1a1a1a" stroke="#1a1a1a" stroke-width="0.22" >ISQ-35-110</text>
<rect x="151.78" y="945.54" width="19.45" height="28.46" rx="1.5" fill="url(#gH)"/>
<circle cx="159.85" cy="956.93" r="3.2" fill="#3a3e42"/>
<polygon points="135.65,928.46 141.82,920.40 159.85,918.50 178.82,921.82 185.46,930.36 185.46,941.75 178.82,949.34 159.85,951.71 141.82,948.86 136.13,941.75" fill="#9ca1a6"/>
<polygon points="135.65,928.46 141.82,920.40 159.85,918.50 178.82,921.82 185.46,930.36 178.82,934.63 159.85,937.48 141.82,934.16" fill="#c9cdd0"/>
<polygon points="141.82,934.16 159.85,937.48 159.85,951.71 141.82,948.86 136.13,941.75 135.65,928.46" fill="#a9aeb2"/>
<polygon points="159.85,937.48 178.82,934.63 185.46,930.36 185.46,941.75 178.82,949.34 159.85,951.71" fill="#b8bcc0"/>
<circle cx="167.91" cy="943.17" r="6" fill="#55595d"/><circle cx="167.91" cy="943.17" r="4.6" fill="#2f3336"/>
<line x1="164.91" y1="945.17" x2="168.91" y2="940.67" stroke="#e0e0e0" stroke-width="0.9"/><line x1="166.91" y1="946.17" x2="170.91" y2="941.67" stroke="#d0d0d0" stroke-width="0.8"/>
<circle cx="138.98" cy="938.90" r="2.6" fill="#3c4044"/>
<rect x="154.63" y="913.28" width="10.44" height="16.13" rx="1.5" fill="url(#gH)"/>
<line x1="154.80" y1="915.50" x2="164.80" y2="915.50" stroke="#6a6f74" stroke-width="0.7" />
<line x1="154.80" y1="918.50" x2="164.80" y2="918.50" stroke="#6a6f74" stroke-width="0.7" />
<line x1="154.80" y1="921.50" x2="164.80" y2="921.50" stroke="#6a6f74" stroke-width="0.7" />
<line x1="154.80" y1="924.50" x2="164.80" y2="924.50" stroke="#6a6f74" stroke-width="0.7" />
<line x1="154.80" y1="927.50" x2="164.80" y2="927.50" stroke="#6a6f74" stroke-width="0.7" />
<text x="0" y="0" transform="translate(160.70,1005.00) scale(1,1.08)" font-size="11.5" font-weight="bold" text-anchor="middle" fill="#1a1a1a" stroke="#1a1a1a" stroke-width="0.22" >ISQ-010-050</text>
<rect x="73.90" y="1158.00" width="18.40" height="15.50" fill="url(#gT)"/>
<line x1="75.74" y1="1158.00" x2="75.74" y2="1173.50" stroke="#60656a" stroke-width="0.8" opacity="0.55"/>
<line x1="79.42" y1="1158.00" x2="79.42" y2="1173.50" stroke="#60656a" stroke-width="0.8" opacity="0.55"/>
<line x1="83.10" y1="1158.00" x2="83.10" y2="1173.50" stroke="#60656a" stroke-width="0.8" opacity="0.55"/>
<line x1="86.78" y1="1158.00" x2="86.78" y2="1173.50" stroke="#60656a" stroke-width="0.8" opacity="0.55"/>
<line x1="90.46" y1="1158.00" x2="90.46" y2="1173.50" stroke="#60656a" stroke-width="0.8" opacity="0.55"/>
<polygon points="92.30,1155.00 99.00,1154.50 137.40,1159.20 137.40,1171.70 99.00,1176.40 92.30,1176.40" fill="url(#gM)" stroke="none" stroke-width="0" stroke-linejoin="round" />
<ellipse cx="101" cy="1157.3" rx="3.5" ry="1.6" fill="#2e3236"/>
<rect x="137.4" y="1159.8" width="216" height="11.0" fill="url(#gC)"/>
<circle cx="358.40" cy="1165.30" r="7.00" fill="url(#gR)" stroke="none" stroke-width="0" />
<text x="0" y="0" transform="translate(211.90,1200.50) scale(1,1.08)" font-size="11.5" font-weight="bold" text-anchor="middle" fill="#1a1a1a" stroke="#1a1a1a" stroke-width="0.22" >ISQ-30-066</text>
<rect x="517.70" y="1224.70" width="8.10" height="16.20" fill="url(#gT)"/>
<line x1="519.73" y1="1224.70" x2="519.73" y2="1240.90" stroke="#60656a" stroke-width="0.8" opacity="0.55"/>
<line x1="523.77" y1="1224.70" x2="523.77" y2="1240.90" stroke="#60656a" stroke-width="0.8" opacity="0.55"/>
<rect x="525.4" y="1219.3" width="16" height="26.2" rx="3" fill="url(#gM)"/>
<rect x="569" y="1226.2" width="12" height="10.1" fill="url(#gM)"/>
<rect x="580.2" y="1220" width="34.7" height="24" rx="2.5" fill="url(#gM)"/>
<rect x="540.4" y="1200" width="29.8" height="64" rx="3.5" fill="#a3a8ac"/>
<rect x="542" y="1210" width="26.6" height="22" fill="#c7cbce"/>
<rect x="542" y="1234" width="26.6" height="28" rx="2" fill="#d3d6d8"/>
<rect x="541" y="1202" width="28.6" height="7" rx="2" fill="#8d9297"/>
<ellipse cx="555.5" cy="1204.8" rx="7.2" ry="2.8" fill="#34383b"/>
<circle cx="556.3" cy="1247.5" r="9" fill="#6f7478"/>
<circle cx="556.3" cy="1247.5" r="7.6" fill="#2b2e31"/>
<path d="M549.5,1250 Q552,1242 560,1241.5" fill="none" stroke="#8a8f93" stroke-width="0.9"/>
<text x="0" y="0" transform="translate(0.00,0.00) scale(1,1.08)" font-size="1" text-anchor="start" fill="#1a1a1a" stroke="#1a1a1a" stroke-width="0.22" ></text>
<rect x="509.50" y="1522.30" width="23.50" height="17.90" fill="url(#gT)"/>
<line x1="511.18" y1="1522.30" x2="511.18" y2="1540.20" stroke="#60656a" stroke-width="0.8" opacity="0.55"/>
<line x1="514.54" y1="1522.30" x2="514.54" y2="1540.20" stroke="#60656a" stroke-width="0.8" opacity="0.55"/>
<line x1="517.89" y1="1522.30" x2="517.89" y2="1540.20" stroke="#60656a" stroke-width="0.8" opacity="0.55"/>
<line x1="521.25" y1="1522.30" x2="521.25" y2="1540.20" stroke="#60656a" stroke-width="0.8" opacity="0.55"/>
<line x1="524.61" y1="1522.30" x2="524.61" y2="1540.20" stroke="#60656a" stroke-width="0.8" opacity="0.55"/>
<line x1="527.96" y1="1522.30" x2="527.96" y2="1540.20" stroke="#60656a" stroke-width="0.8" opacity="0.55"/>
<line x1="531.32" y1="1522.30" x2="531.32" y2="1540.20" stroke="#60656a" stroke-width="0.8" opacity="0.55"/>
<polygon points="532.70,1513.50 553.40,1513.50 587.20,1527.80 587.20,1533.80 553.40,1549.10 532.70,1549.10" fill="url(#gM)" stroke="none" stroke-width="0" stroke-linejoin="round" />
<ellipse cx="545.5" cy="1543" rx="3.5" ry="2.5" fill="#3d4145"/>
<rect x="587" y="1528.2" width="200" height="5.4" fill="url(#gM2)"/>
<circle cx="790.00" cy="1531.20" r="4.30" fill="url(#gR)" stroke="none" stroke-width="0" />
<text x="0" y="0" transform="translate(654.80,1569.40) scale(1,1.08)" font-size="11.5" font-weight="bold" text-anchor="middle" fill="#1a1a1a" stroke="#1a1a1a" stroke-width="0.22" >ISQ-40-195</text>
<rect x="96.20" y="1792.60" width="23.30" height="18.30" fill="url(#gT)"/>
<line x1="97.86" y1="1792.60" x2="97.86" y2="1810.90" stroke="#60656a" stroke-width="0.8" opacity="0.55"/>
<line x1="101.19" y1="1792.60" x2="101.19" y2="1810.90" stroke="#60656a" stroke-width="0.8" opacity="0.55"/>
<line x1="104.52" y1="1792.60" x2="104.52" y2="1810.90" stroke="#60656a" stroke-width="0.8" opacity="0.55"/>
<line x1="107.85" y1="1792.60" x2="107.85" y2="1810.90" stroke="#60656a" stroke-width="0.8" opacity="0.55"/>
<line x1="111.18" y1="1792.60" x2="111.18" y2="1810.90" stroke="#60656a" stroke-width="0.8" opacity="0.55"/>
<line x1="114.51" y1="1792.60" x2="114.51" y2="1810.90" stroke="#60656a" stroke-width="0.8" opacity="0.55"/>
<line x1="117.84" y1="1792.60" x2="117.84" y2="1810.90" stroke="#60656a" stroke-width="0.8" opacity="0.55"/>
<rect x="119.3" y="1784.8" width="14" height="36" fill="url(#gM)"/>
<circle cx="125.5" cy="1802.5" r="3.6" fill="#f4f4f4" stroke="#666" stroke-width="0.8"/>
<rect x="132.5" y="1784.8" width="130.5" height="36" fill="url(#gC)"/>
<rect x="262.5" y="1784.8" width="4.2" height="36" rx="1" fill="url(#gM)"/>
<text x="0" y="0" transform="translate(180.00,1840.00) scale(1,1.08)" font-size="11.5" font-weight="bold" text-anchor="middle" fill="#1a1a1a" stroke="#1a1a1a" stroke-width="0.22" >ISQ-45-025</text>
<rect x="163.60" y="2164.90" width="26.40" height="23.70" fill="url(#gT)"/>
<line x1="165.25" y1="2164.90" x2="165.25" y2="2188.60" stroke="#60656a" stroke-width="0.8" opacity="0.55"/>
<line x1="168.55" y1="2164.90" x2="168.55" y2="2188.60" stroke="#60656a" stroke-width="0.8" opacity="0.55"/>
<line x1="171.85" y1="2164.90" x2="171.85" y2="2188.60" stroke="#60656a" stroke-width="0.8" opacity="0.55"/>
<line x1="175.15" y1="2164.90" x2="175.15" y2="2188.60" stroke="#60656a" stroke-width="0.8" opacity="0.55"/>
<line x1="178.45" y1="2164.90" x2="178.45" y2="2188.60" stroke="#60656a" stroke-width="0.8" opacity="0.55"/>
<line x1="181.75" y1="2164.90" x2="181.75" y2="2188.60" stroke="#60656a" stroke-width="0.8" opacity="0.55"/>
<line x1="185.05" y1="2164.90" x2="185.05" y2="2188.60" stroke="#60656a" stroke-width="0.8" opacity="0.55"/>
<line x1="188.35" y1="2164.90" x2="188.35" y2="2188.60" stroke="#60656a" stroke-width="0.8" opacity="0.55"/>
<polygon points="188.50,2147.50 222.20,2147.50 242.10,2169.90 242.10,2177.40 222.20,2205.30 188.50,2205.30" fill="url(#gB)" stroke="none" stroke-width="0" stroke-linejoin="round" />
<rect x="196" y="2148.5" width="18" height="5" rx="2" fill="#3a3e42"/>
<rect x="242" y="2170.2" width="48" height="7" fill="url(#gM2)"/>
<circle cx="293.20" cy="2173.60" r="4.50" fill="url(#gR)" stroke="none" stroke-width="0" />
<text x="0" y="0" transform="translate(231.50,2228.50) scale(1,1.08)" font-size="11.5" font-weight="bold" text-anchor="middle" fill="#1a1a1a" stroke="#1a1a1a" stroke-width="0.22" >ISQ-50-059</text>
<rect x="593.50" y="2169.00" width="12.50" height="15.30" fill="url(#gT)"/>
<line x1="595.58" y1="2169.00" x2="595.58" y2="2184.30" stroke="#60656a" stroke-width="0.8" opacity="0.55"/>
<line x1="599.75" y1="2169.00" x2="599.75" y2="2184.30" stroke="#60656a" stroke-width="0.8" opacity="0.55"/>
<line x1="603.92" y1="2169.00" x2="603.92" y2="2184.30" stroke="#60656a" stroke-width="0.8" opacity="0.55"/>
<rect x="605.9" y="2164.5" width="153.3" height="24.3" rx="1.5" fill="url(#gM)"/>
<ellipse cx="614.9" cy="2177.1" rx="2.8" ry="3.4" fill="#f4f4f4" stroke="#555" stroke-width="0.8"/>
<text x="0" y="0" transform="translate(688.00,2226.00) scale(1,1.08)" font-size="11.5" font-weight="bold" text-anchor="middle" fill="#1a1a1a" stroke="#1a1a1a" stroke-width="0.22" >ISQ-55-014</text>
</svg>
</body></html>
